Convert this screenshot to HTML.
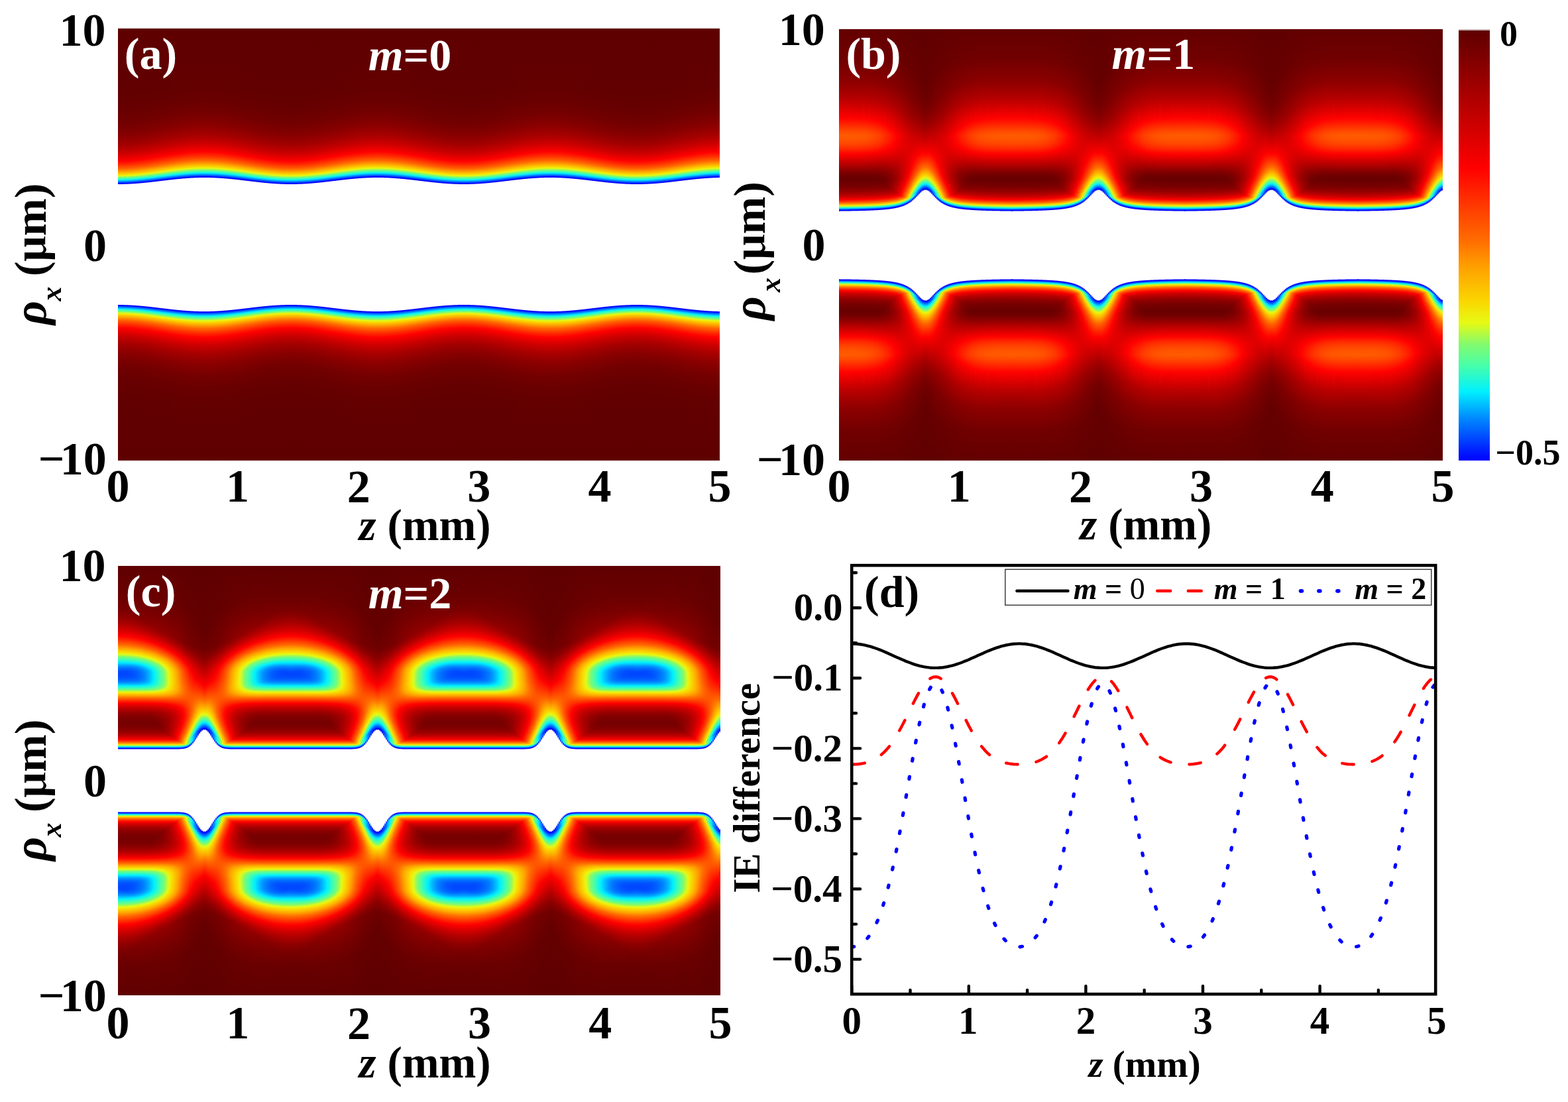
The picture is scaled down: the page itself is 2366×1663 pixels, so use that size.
<!DOCTYPE html>
<html><head><meta charset="utf-8"><title>figure</title><style>
html,body{margin:0;padding:0;background:#fff}
body{width:2366px;height:1663px;position:relative;overflow:hidden}
.pn{position:absolute;overflow:hidden;background:#600000}
.t{position:absolute;width:261px}
.m{transform:scaleY(-1)}
svg{position:absolute;left:0;top:0}
.ta{background:linear-gradient(#5f0000 0.5px,#620000 99.5px,#680000 124.5px,#730000 143.5px,#850000 160.5px,#a20000 175.5px,#ca0000 188.5px,#fb0000 199.5px,#ff0300 200.5px,#ff2100 204.5px,#ff6200 211.5px,#ff7900 213.5px,#ffa500 216.5px,#f7dc03 220.5px,#e0f819 222.5px,#87fa6a 224.5px,#48fea9 226.5px,#0af1f3 228.5px,#00cdff 229.5px,#0016ff 233.5px,#0000ff 234.5px,#ffffff 235.5px,#ffffff 325.5px) 0px 0/2px 100% no-repeat,linear-gradient(#5f0000 0.5px,#620000 99.5px,#680000 124.5px,#730000 143.5px,#850000 160.5px,#a20000 175.5px,#ca0000 188.5px,#fc0000 199.5px,#ff0300 200.5px,#ff2100 204.5px,#ff6200 211.5px,#ff7a00 213.5px,#ffa500 216.5px,#f7dc03 220.5px,#eeeb0c 221.5px,#dff91a 222.5px,#86fa6a 224.5px,#47feaa 226.5px,#09f1f4 228.5px,#00cdff 229.5px,#0015ff 233.5px,#0000ff 234.5px,#ffffff 235.5px,#ffffff 325.5px) 2px 0/2px 100% no-repeat,linear-gradient(#5f0000 0.5px,#620000 99.5px,#680000 124.5px,#730000 143.5px,#850000 160.5px,#a20000 175.5px,#ca0000 188.5px,#fc0000 199.5px,#ff0300 200.5px,#ff2200 204.5px,#ff6200 211.5px,#fea600 216.5px,#f7dd03 220.5px,#eeec0c 221.5px,#dff91a 222.5px,#85fa6b 224.5px,#46feaa 226.5px,#09f0f4 228.5px,#00ccff 229.5px,#0014ff 233.5px,#0000ff 234.5px,#ffffff 235.5px,#ffffff 325.5px) 4px 0/2px 100% no-repeat,linear-gradient(#5f0000 0.5px,#620000 99.5px,#680000 124.5px,#730000 143.5px,#860000 160.5px,#a20000 175.5px,#ca0000 188.5px,#fc0000 199.5px,#ff0300 200.5px,#ff2200 204.5px,#ff6300 211.5px,#fea600 216.5px,#f6dd04 220.5px,#eeed0c 221.5px,#ddf91c 222.5px,#84fa6d 224.5px,#45feac 226.5px,#08f0f6 228.5px,#00caff 229.5px,#0013ff 233.5px,#0000ff 234.5px,#ffffff 235.5px,#ffffff 325.5px) 6px 0/2px 100% no-repeat,linear-gradient(#5f0000 0.5px,#620000 99.5px,#680000 124.5px,#730000 143.5px,#860000 160.5px,#a30000 175.5px,#ca0000 188.5px,#fc0000 199.5px,#ff1a00 203.5px,#ff4f00 209.5px,#ff6e00 212.5px,#ff9900 215.5px,#fbcf00 219.5px,#f6de04 220.5px,#eded0d 221.5px,#dcf91d 222.5px,#82fa6f 224.5px,#44fead 226.5px,#25f8d3 227.5px,#07eff7 228.5px,#00c8ff 229.5px,#0011ff 233.5px,#1515ff 234.5px,#ffffff 235.5px,#ffffff 325.5px) 8px 0/2px 100% no-repeat,linear-gradient(#5f0000 0.5px,#620000 98.5px,#680000 123.5px,#720000 142.5px,#860000 160.5px,#a30000 175.5px,#cb0000 188.5px,#fd0000 199.5px,#ff1b00 203.5px,#ff5000 209.5px,#ff6f00 212.5px,#ff9a00 215.5px,#fbd000 219.5px,#edee0d 221.5px,#d9fa20 222.5px,#7ffa71 224.5px,#42feb0 226.5px,#23f7d5 227.5px,#05edf8 228.5px,#00c5ff 229.5px,#0094ff 230.5px,#000fff 233.5px,#4040ff 234.5px,#ffffff 235.5px,#ffffff 325.5px) 10px 0/2px 100% no-repeat,linear-gradient(#5f0000 0.5px,#620000 98.5px,#680000 123.5px,#720000 142.5px,#860000 160.5px,#a30000 175.5px,#cb0000 188.5px,#fd0000 199.5px,#ff1c00 203.5px,#ff5100 209.5px,#ff7000 212.5px,#ff9b00 215.5px,#fad200 219.5px,#ecf00e 221.5px,#d6fa22 222.5px,#7dfb74 224.5px,#3ffdb2 226.5px,#20f7d8 227.5px,#04ebfa 228.5px,#00c1ff 229.5px,#0091ff 230.5px,#000dff 233.5px,#4040ff 234.5px,#ffffff 235.5px,#ffffff 325.5px) 12px 0/2px 100% no-repeat,linear-gradient(#5f0000 0.5px,#620000 98.5px,#680000 123.5px,#720000 142.5px,#860000 160.5px,#a30000 175.5px,#cc0000 188.5px,#fe0000 199.5px,#ff1d00 203.5px,#ff5200 209.5px,#ff7100 212.5px,#ff9d00 215.5px,#fad300 219.5px,#ebf10f 221.5px,#d2fa26 222.5px,#7afb76 224.5px,#3dfdb5 226.5px,#1ef6db 227.5px,#03e9fc 228.5px,#000aff 233.5px,#4040ff 234.5px,#ffffff 235.5px,#ffffff 325.5px) 14px 0/2px 100% no-repeat,linear-gradient(#5f0000 0.5px,#620000 98.5px,#680000 123.5px,#730000 142.5px,#860000 160.5px,#a40000 175.5px,#cc0000 188.5px,#fe0100 199.5px,#ff2600 204.5px,#ff5300 209.5px,#ff7300 212.5px,#ff9e00 215.5px,#fad500 219.5px,#eaf310 221.5px,#cefa2a 222.5px,#9ffa54 223.5px,#76fb7a 224.5px,#3afcb9 226.5px,#1bf6df 227.5px,#02e6fd 228.5px,#0089ff 230.5px,#0007ff 233.5px,#7575ff 234.5px,#ffffff 235.5px,#ffffff 325.5px) 16px 0/2px 100% no-repeat,linear-gradient(#5f0000 0.5px,#620000 98.5px,#680000 123.5px,#730000 142.5px,#850000 159.5px,#a20000 174.5px,#c90000 187.5px,#fa0000 198.5px,#ff0100 199.5px,#ff1700 202.5px,#ff5e00 210.5px,#ff7500 212.5px,#f9d601 219.5px,#e9f411 221.5px,#c8fa2f 222.5px,#99fa59 223.5px,#73fb7d 224.5px,#55fe9b 225.5px,#17f5e3 227.5px,#01e2fe 228.5px,#002bff 232.5px,#0005ff 233.5px,#ffffff 235.5px,#ffffff 325.5px) 18px 0/2px 100% no-repeat,linear-gradient(#5f0000 0.5px,#620000 98.5px,#680000 122.5px,#720000 141.5px,#860000 159.5px,#a20000 174.5px,#ca0000 187.5px,#fb0000 198.5px,#ff0200 199.5px,#ff2000 203.5px,#ff6000 210.5px,#ff7700 212.5px,#f9d801 219.5px,#e7f613 221.5px,#c2fa34 222.5px,#93fa5e 223.5px,#6ffc81 224.5px,#51fe9f 225.5px,#13f4e8 227.5px,#00ddff 228.5px,#007fff 230.5px,#0026ff 232.5px,#0003ff 233.5px,#9f9fff 234.5px,#ffffff 235.5px,#ffffff 325.5px) 20px 0/2px 100% no-repeat,linear-gradient(#5f0000 0.5px,#620000 98.5px,#680000 122.5px,#720000 141.5px,#860000 159.5px,#a30000 174.5px,#ca0000 187.5px,#fc0000 198.5px,#ff0300 199.5px,#ff2100 203.5px,#ff6100 210.5px,#ff7900 212.5px,#ffa400 215.5px,#f8da02 219.5px,#e4f716 221.5px,#bcfa3a 222.5px,#8dfa64 223.5px,#4dfea3 225.5px,#0ff3ed 227.5px,#00d7ff 228.5px,#0021ff 232.5px,#0001ff 233.5px,#bfbfff 234.5px,#ffffff 235.5px,#ffffff 325.5px) 22px 0/2px 100% no-repeat,linear-gradient(#5f0000 0.5px,#620000 97.5px,#680000 122.5px,#720000 141.5px,#860000 159.5px,#a30000 174.5px,#cb0000 187.5px,#fd0000 198.5px,#ff2300 203.5px,#ff6300 210.5px,#fea600 215.5px,#f7dd03 219.5px,#eeec0c 220.5px,#e0f91a 221.5px,#87fa69 223.5px,#49fea8 225.5px,#0bf2f2 227.5px,#00d1ff 228.5px,#001bff 232.5px,#0000ff 233.5px,#dfdfff 234.5px,#ffffff 235.5px,#ffffff 325.5px) 24px 0/2px 100% no-repeat,linear-gradient(#5f0000 0.5px,#620000 97.5px,#680000 122.5px,#730000 141.5px,#870000 159.5px,#a40000 174.5px,#cc0000 187.5px,#fe0000 198.5px,#ff2d00 204.5px,#ff6500 210.5px,#fea800 215.5px,#fbd100 218.5px,#f5df05 219.5px,#edee0d 220.5px,#daf91f 221.5px,#81fa6f 223.5px,#44fead 225.5px,#07eff6 227.5px,#00caff 228.5px,#0015ff 232.5px,#0000ff 233.5px,#ffffff 234.5px,#ffffff 325.5px) 26px 0/2px 100% no-repeat,linear-gradient(#5f0000 0.5px,#620000 97.5px,#680000 121.5px,#720000 140.5px,#860000 158.5px,#a20000 173.5px,#c90000 186.5px,#fa0000 197.5px,#ff0700 199.5px,#ff4900 207.5px,#ff7200 211.5px,#ff9d00 214.5px,#fad300 218.5px,#ebf10f 220.5px,#d4fa25 221.5px,#7bfb75 223.5px,#3ffdb3 225.5px,#20f7d8 226.5px,#04ecfa 227.5px,#00c2ff 228.5px,#000fff 232.5px,#3535ff 233.5px,#ffffff 234.5px,#ffffff 325.5px) 28px 0/2px 100% no-repeat,linear-gradient(#5f0000 0.5px,#620000 97.5px,#680000 121.5px,#720000 140.5px,#860000 158.5px,#a30000 173.5px,#ca0000 186.5px,#fb0000 197.5px,#ff0200 198.5px,#ff1000 200.5px,#ff4b00 207.5px,#ff6900 210.5px,#ffa000 214.5px,#fad601 218.5px,#eaf410 220.5px,#cbfa2c 221.5px,#9dfa56 222.5px,#76fb7a 223.5px,#3afcb9 225.5px,#1bf6de 226.5px,#02e7fd 227.5px,#008bff 229.5px,#000aff 232.5px,#4a4aff 233.5px,#ffffff 234.5px,#ffffff 325.5px) 30px 0/2px 100% no-repeat,linear-gradient(#5f0000 0.5px,#620000 97.5px,#680000 121.5px,#730000 140.5px,#860000 158.5px,#a30000 173.5px,#cb0000 186.5px,#fc0000 197.5px,#ff0300 198.5px,#ff2200 202.5px,#ff6100 209.5px,#ff7800 211.5px,#f9d902 218.5px,#e7f613 220.5px,#c3fa34 221.5px,#94fa5e 222.5px,#70fb80 223.5px,#52fe9e 224.5px,#15f5e5 226.5px,#00e0ff 227.5px,#0083ff 229.5px,#002bff 231.5px,#0005ff 232.5px,#ffffff 234.5px,#ffffff 325.5px) 32px 0/2px 100% no-repeat,linear-gradient(#5f0000 0.5px,#620000 96.5px,#680000 121.5px,#730000 140.5px,#870000 158.5px,#a40000 173.5px,#cc0000 186.5px,#fd0000 197.5px,#ff2c00 203.5px,#ff6300 209.5px,#fea600 214.5px,#f7dc03 218.5px,#e2f818 220.5px,#8cfa65 222.5px,#4cfea4 224.5px,#0ff3ec 226.5px,#00d8ff 227.5px,#0024ff 231.5px,#0002ff 232.5px,#b5b5ff 233.5px,#ffffff 234.5px,#ffffff 325.5px) 34px 0/2px 100% no-repeat,linear-gradient(#5f0000 0.5px,#620000 96.5px,#680000 121.5px,#730000 140.5px,#860000 157.5px,#a20000 172.5px,#c90000 185.5px,#fe0100 197.5px,#ff2e00 203.5px,#ff6600 209.5px,#fea900 214.5px,#fbd000 217.5px,#f6df04 218.5px,#edee0d 219.5px,#dcf91d 220.5px,#83fa6d 222.5px,#46feaa 224.5px,#0af1f3 226.5px,#00cfff 227.5px,#001cff 231.5px,#0000ff 232.5px,#d4d4ff 233.5px,#ffffff 234.5px,#ffffff 325.5px) 36px 0/2px 100% no-repeat,linear-gradient(#5f0000 0.5px,#620000 96.5px,#680000 120.5px,#730000 139.5px,#870000 157.5px,#a30000 172.5px,#cb0000 185.5px,#fb0000 196.5px,#ff0200 197.5px,#ff1000 199.5px,#ff4b00 206.5px,#ff7400 210.5px,#ff9f00 213.5px,#fad400 217.5px,#ebf10f 219.5px,#d3fa25 220.5px,#7cfb74 222.5px,#40fdb1 224.5px,#22f7d6 225.5px,#05edf9 226.5px,#00c6ff 227.5px,#0013ff 231.5px,#0b0bff 232.5px,#ffffff 233.5px,#ffffff 325.5px) 38px 0/2px 100% no-repeat,linear-gradient(#5f0000 0.5px,#620000 96.5px,#680000 120.5px,#730000 139.5px,#870000 157.5px,#a40000 172.5px,#cc0000 185.5px,#fd0000 196.5px,#ff2200 201.5px,#ff5700 207.5px,#ff7700 210.5px,#ffa200 213.5px,#f9d701 217.5px,#e9f411 219.5px,#c9fa2e 220.5px,#9bfa57 221.5px,#75fb7b 222.5px,#3afcb9 224.5px,#1bf6de 225.5px,#02e7fc 226.5px,#000cff 231.5px,#4040ff 232.5px,#ffffff 233.5px,#ffffff 325.5px) 40px 0/2px 100% no-repeat,linear-gradient(#5f0000 0.5px,#620000 95.5px,#680000 120.5px,#730000 139.5px,#860000 156.5px,#a20000 171.5px,#c90000 184.5px,#fe0000 196.5px,#ff2c00 202.5px,#ff6300 208.5px,#ffa500 213.5px,#f8da02 217.5px,#e4f715 219.5px,#bffa37 220.5px,#91fa61 221.5px,#51fe9f 223.5px,#14f4e6 225.5px,#00e0ff 226.5px,#0083ff 228.5px,#002dff 230.5px,#0006ff 231.5px,#7575ff 232.5px,#ffffff 233.5px,#ffffff 325.5px) 42px 0/2px 100% no-repeat,linear-gradient(#5f0000 0.5px,#620000 95.5px,#680000 119.5px,#730000 138.5px,#870000 156.5px,#a30000 171.5px,#ca0000 184.5px,#fb0000 195.5px,#ff0200 196.5px,#ff1f00 200.5px,#ff6600 208.5px,#fea800 213.5px,#f6de04 217.5px,#eeed0c 218.5px,#def91b 219.5px,#87fa6a 221.5px,#4afea7 223.5px,#0df3ef 225.5px,#00d6ff 226.5px,#0024ff 230.5px,#0002ff 231.5px,#aaaaff 232.5px,#ffffff 233.5px,#ffffff 325.5px) 44px 0/2px 100% no-repeat,linear-gradient(#5f0000 0.5px,#620000 95.5px,#680000 119.5px,#730000 138.5px,#870000 156.5px,#a40000 171.5px,#cc0000 184.5px,#fc0000 195.5px,#ff0300 196.5px,#ff2900 201.5px,#ff6900 208.5px,#fcc600 215.5px,#f4e206 217.5px,#ebf00f 218.5px,#d5fa23 219.5px,#7efb72 221.5px,#43feae 223.5px,#08f0f6 225.5px,#00cbff 226.5px,#001bff 230.5px,#0000ff 231.5px,#dfdfff 232.5px,#ffffff 233.5px,#ffffff 325.5px) 46px 0/2px 100% no-repeat,linear-gradient(#5f0000 0.5px,#620000 95.5px,#680000 119.5px,#740000 138.5px,#860000 155.5px,#a30000 170.5px,#c90000 183.5px,#fe0000 195.5px,#ff2300 200.5px,#ff5800 206.5px,#ff6c00 208.5px,#ffa200 212.5px,#f9d701 216.5px,#e9f411 218.5px,#cafa2d 219.5px,#9dfa56 220.5px,#76fb7a 221.5px,#3cfdb7 223.5px,#1ef6db 224.5px,#03eafb 225.5px,#00c1ff 226.5px,#0011ff 230.5px,#1515ff 231.5px,#ffffff 232.5px,#ffffff 325.5px) 48px 0/2px 100% no-repeat,linear-gradient(#5f0000 0.5px,#620000 94.5px,#680000 118.5px,#730000 137.5px,#860000 154.5px,#a10000 169.5px,#c70000 182.5px,#fa0000 194.5px,#ff0100 195.5px,#ff0f00 197.5px,#ff4800 204.5px,#ff6f00 208.5px,#ff9800 211.5px,#f8db02 216.5px,#e4f715 218.5px,#bffa37 219.5px,#92fa60 220.5px,#6ffc81 221.5px,#52fe9e 222.5px,#16f5e4 224.5px,#01e2fe 225.5px,#0088ff 227.5px,#000aff 230.5px,#5555ff 231.5px,#ffffff 232.5px,#ffffff 325.5px) 50px 0/2px 100% no-repeat,linear-gradient(#5f0000 0.5px,#620000 94.5px,#680000 118.5px,#730000 137.5px,#860000 154.5px,#a20000 169.5px,#c80000 182.5px,#fc0000 194.5px,#ff0300 195.5px,#ff2800 200.5px,#ff6700 207.5px,#fea900 212.5px,#fbd100 215.5px,#f6df04 216.5px,#eded0d 217.5px,#ddf91c 218.5px,#87fa6a 220.5px,#4bfea6 222.5px,#0ff3ed 224.5px,#00d8ff 225.5px,#0028ff 229.5px,#0004ff 230.5px,#8a8aff 231.5px,#ffffff 232.5px,#ffffff 325.5px) 52px 0/2px 100% no-repeat,linear-gradient(#5f0000 0.5px,#620000 94.5px,#690000 118.5px,#740000 137.5px,#870000 154.5px,#a30000 169.5px,#c90000 182.5px,#fe0000 194.5px,#ff2b00 200.5px,#ff6b00 207.5px,#fbc700 214.5px,#f3e307 216.5px,#ebf10f 217.5px,#d4fa24 218.5px,#7efb73 220.5px,#43feae 222.5px,#08f0f5 224.5px,#00cdff 225.5px,#001eff 229.5px,#0001ff 230.5px,#cacaff 231.5px,#ffffff 232.5px,#ffffff 325.5px) 54px 0/2px 100% no-repeat,linear-gradient(#5f0000 0.5px,#620000 93.5px,#680000 117.5px,#730000 136.5px,#860000 153.5px,#a20000 168.5px,#c70000 181.5px,#fa0000 193.5px,#ff0100 194.5px,#ff1e00 198.5px,#ff6400 206.5px,#ffa400 211.5px,#f9d801 215.5px,#e8f512 217.5px,#c8fa2f 218.5px,#9bfa57 219.5px,#75fb7b 220.5px,#59fd97 221.5px,#3bfdb7 222.5px,#04ebfb 224.5px,#00c2ff 225.5px,#0014ff 229.5px,#0000ff 230.5px,#ffffff 231.5px,#ffffff 325.5px) 56px 0/2px 100% no-repeat,linear-gradient(#5f0000 0.5px,#620000 93.5px,#690000 117.5px,#740000 136.5px,#870000 153.5px,#a30000 168.5px,#c90000 181.5px,#fc0000 193.5px,#ff0300 194.5px,#ff1900 197.5px,#ff4a00 203.5px,#ff7100 207.5px,#ff9b00 210.5px,#f7dc03 215.5px,#e3f817 217.5px,#8ffa62 219.5px,#51fe9f 221.5px,#16f5e4 223.5px,#01e3fe 224.5px,#0089ff 226.5px,#000cff 229.5px,#4040ff 230.5px,#ffffff 231.5px,#ffffff 325.5px) 58px 0/2px 100% no-repeat,linear-gradient(#5f0000 0.5px,#620000 93.5px,#690000 117.5px,#740000 136.5px,#870000 153.5px,#a40000 168.5px,#ca0000 181.5px,#fe0000 193.5px,#ff2b00 199.5px,#ff6a00 206.5px,#feab00 211.5px,#fad200 214.5px,#f5e005 215.5px,#ecef0e 216.5px,#dbf91e 217.5px,#85fa6c 219.5px,#49fea7 221.5px,#0ef3ee 223.5px,#00d8ff 224.5px,#007eff 226.5px,#002aff 228.5px,#0005ff 229.5px,#ffffff 231.5px,#ffffff 325.5px) 60px 0/2px 100% no-repeat,linear-gradient(#5f0000 0.5px,#620000 92.5px,#690000 116.5px,#740000 135.5px,#860000 152.5px,#a20000 167.5px,#c80000 180.5px,#fb0000 192.5px,#ff0100 193.5px,#ff1e00 197.5px,#ff6300 205.5px,#f9d601 214.5px,#eaf310 216.5px,#d0fa28 217.5px,#7bfb75 219.5px,#42feb0 221.5px,#08f0f6 223.5px,#00cdff 224.5px,#0020ff 228.5px,#0002ff 229.5px,#bfbfff 230.5px,#ffffff 231.5px,#ffffff 325.5px) 62px 0/2px 100% no-repeat,linear-gradient(#5f0000 0.5px,#620000 92.5px,#690000 116.5px,#740000 135.5px,#870000 152.5px,#a30000 167.5px,#c90000 180.5px,#fc0000 192.5px,#ff0300 193.5px,#ff2800 198.5px,#ff6600 205.5px,#fea600 210.5px,#f8da02 214.5px,#e6f613 216.5px,#c4fa33 217.5px,#97fa5b 218.5px,#73fb7d 219.5px,#57fe99 220.5px,#1df6dc 222.5px,#03eafb 223.5px,#00c1ff 224.5px,#0016ff 228.5px,#0000ff 229.5px,#f4f4ff 230.5px,#ffffff 231.5px,#ffffff 325.5px) 64px 0/2px 100% no-repeat,linear-gradient(#5f0000 0.5px,#620000 92.5px,#690000 116.5px,#740000 135.5px,#880000 152.5px,#a40000 167.5px,#ca0000 180.5px,#fe0000 192.5px,#ff2300 197.5px,#ff5600 203.5px,#ff7400 206.5px,#ff9d00 209.5px,#fbd000 213.5px,#eeec0c 215.5px,#e0f919 216.5px,#8cfa65 218.5px,#4ffea1 220.5px,#15f5e5 222.5px,#01e2fe 223.5px,#0089ff 225.5px,#000dff 228.5px,#3535ff 229.5px,#ffffff 230.5px,#ffffff 325.5px) 66px 0/2px 100% no-repeat,linear-gradient(#5f0000 0.5px,#620000 91.5px,#690000 115.5px,#740000 134.5px,#870000 151.5px,#a30000 166.5px,#c80000 179.5px,#fb0000 191.5px,#ff0200 192.5px,#ff1e00 196.5px,#ff6200 204.5px,#ff7800 206.5px,#fad400 213.5px,#ecf00e 215.5px,#d7fa22 216.5px,#82fa6f 218.5px,#48fea9 220.5px,#0df3ef 222.5px,#00d7ff 223.5px,#007eff 225.5px,#002bff 227.5px,#0006ff 228.5px,#7575ff 229.5px,#ffffff 230.5px,#ffffff 325.5px) 68px 0/2px 100% no-repeat,linear-gradient(#5f0000 0.5px,#620000 91.5px,#690000 115.5px,#740000 134.5px,#870000 151.5px,#a40000 166.5px,#c90000 179.5px,#fc0000 191.5px,#ff0300 192.5px,#ff2800 197.5px,#ff6500 204.5px,#f9d801 213.5px,#e9f411 215.5px,#cbfa2c 216.5px,#79fb77 218.5px,#40fdb1 220.5px,#07eff6 222.5px,#00ccff 223.5px,#0021ff 227.5px,#0002ff 228.5px,#b5b5ff 229.5px,#ffffff 230.5px,#ffffff 325.5px) 70px 0/2px 100% no-repeat,linear-gradient(#5f0000 0.5px,#620000 91.5px,#690000 115.5px,#750000 134.5px,#880000 151.5px,#a50000 166.5px,#cb0000 179.5px,#fe0000 191.5px,#ff2a00 197.5px,#ff6800 204.5px,#fea900 209.5px,#f7dc03 213.5px,#e4f715 215.5px,#c0fa36 216.5px,#94fa5e 217.5px,#71fb7f 218.5px,#55fe9b 219.5px,#1cf6dd 221.5px,#03eafc 222.5px,#0017ff 227.5px,#0000ff 228.5px,#eaeaff 229.5px,#ffffff 230.5px,#ffffff 325.5px) 72px 0/2px 100% no-repeat,linear-gradient(#5f0000 0.5px,#620000 90.5px,#690000 114.5px,#740000 133.5px,#870000 150.5px,#a30000 165.5px,#c90000 178.5px,#fb0000 190.5px,#ff0200 191.5px,#ff0f00 193.5px,#ff4f00 201.5px,#ff6b00 204.5px,#ffa000 208.5px,#fad200 212.5px,#edee0d 214.5px,#ddf91c 215.5px,#89fa68 217.5px,#4efea2 219.5px,#14f4e6 221.5px,#00e1fe 222.5px,#0089ff 224.5px,#000eff 227.5px,#2a2aff 228.5px,#ffffff 229.5px,#ffffff 325.5px) 74px 0/2px 100% no-repeat,linear-gradient(#5f0000 0.5px,#620000 90.5px,#690000 114.5px,#750000 133.5px,#880000 150.5px,#a40000 165.5px,#ca0000 178.5px,#fd0000 190.5px,#ff0300 191.5px,#ff2800 196.5px,#ff6400 203.5px,#fad601 212.5px,#ebf20f 214.5px,#d4fa25 215.5px,#80fa71 217.5px,#47feaa 219.5px,#0df3ef 221.5px,#00d7ff 222.5px,#007fff 224.5px,#0007ff 227.5px,#6a6aff 228.5px,#ffffff 229.5px,#ffffff 325.5px) 76px 0/2px 100% no-repeat,linear-gradient(#5f0000 0.5px,#630000 90.5px,#690000 114.5px,#750000 133.5px,#880000 150.5px,#a50000 165.5px,#cb0000 178.5px,#fe0000 190.5px,#ff2a00 196.5px,#ff6700 203.5px,#fea700 208.5px,#f8d902 212.5px,#e8f512 214.5px,#c8fa2f 215.5px,#78fb78 217.5px,#3ffdb2 219.5px,#07eff7 221.5px,#00cdff 222.5px,#0023ff 226.5px,#0003ff 227.5px,#9f9fff 228.5px,#ffffff 229.5px,#ffffff 325.5px) 78px 0/2px 100% no-repeat,linear-gradient(#5f0000 0.5px,#620000 89.5px,#690000 113.5px,#750000 132.5px,#880000 149.5px,#a40000 164.5px,#c90000 177.5px,#fb0000 189.5px,#ff0200 190.5px,#ff2500 195.5px,#ff6a00 203.5px,#feaa00 208.5px,#f7dd03 212.5px,#e3f817 214.5px,#92fa60 216.5px,#55fe9b 218.5px,#1cf6dd 220.5px,#03eafb 221.5px,#001aff 226.5px,#0000ff 227.5px,#d4d4ff 228.5px,#ffffff 229.5px,#ffffff 325.5px) 80px 0/2px 100% no-repeat,linear-gradient(#5f0000 0.5px,#630000 89.5px,#690000 113.5px,#750000 132.5px,#880000 149.5px,#a40000 164.5px,#ca0000 177.5px,#fc0000 189.5px,#ff1800 193.5px,#ff5100 200.5px,#ff6d00 203.5px,#ffa100 207.5px,#fad300 211.5px,#ecef0e 213.5px,#dcf91d 214.5px,#88fa69 216.5px,#4efea2 218.5px,#15f4e6 220.5px,#01e3fe 221.5px,#008bff 223.5px,#0011ff 226.5px,#1515ff 227.5px,#ffffff 228.5px,#ffffff 325.5px) 82px 0/2px 100% no-repeat,linear-gradient(#5f0000 0.5px,#630000 89.5px,#690000 113.5px,#750000 132.5px,#890000 149.5px,#a50000 164.5px,#cb0000 177.5px,#fe0000 189.5px,#ff2200 194.5px,#ff5300 200.5px,#ff7000 203.5px,#ff9800 206.5px,#f9d701 211.5px,#eaf210 213.5px,#d3fa25 214.5px,#7ffa71 216.5px,#47fea9 218.5px,#0ef3ee 220.5px,#00d9ff 221.5px,#0082ff 223.5px,#000aff 226.5px,#4a4aff 227.5px,#ffffff 228.5px,#ffffff 325.5px) 84px 0/2px 100% no-repeat,linear-gradient(#5f0000 0.5px,#630000 88.5px,#690000 112.5px,#750000 131.5px,#880000 148.5px,#a40000 163.5px,#c90000 176.5px,#fb0000 188.5px,#ff0100 189.5px,#ff1c00 193.5px,#ff6800 202.5px,#fea800 207.5px,#f8da02 211.5px,#e8f512 213.5px,#c8fa2f 214.5px,#78fb78 216.5px,#41fdb1 218.5px,#08f0f5 220.5px,#00d0ff 221.5px,#0028ff 225.5px,#0005ff 226.5px,#ffffff 228.5px,#ffffff 325.5px) 86px 0/2px 100% no-repeat,linear-gradient(#5f0000 0.5px,#630000 88.5px,#690000 112.5px,#750000 131.5px,#880000 148.5px,#a50000 163.5px,#ca0000 176.5px,#fc0000 188.5px,#ff0300 189.5px,#ff2600 194.5px,#ff6b00 202.5px,#feab00 207.5px,#f6dd04 211.5px,#e3f816 213.5px,#befa38 214.5px,#93fa5e 215.5px,#72fb7e 216.5px,#56fe9a 217.5px,#3afcb8 218.5px,#04ecfa 220.5px,#00c6ff 221.5px,#0020ff 225.5px,#0002ff 226.5px,#b5b5ff 227.5px,#ffffff 228.5px,#ffffff 325.5px) 88px 0/2px 100% no-repeat,linear-gradient(#5f0000 0.5px,#630000 88.5px,#6a0000 112.5px,#750000 131.5px,#890000 148.5px,#a50000 163.5px,#cb0000 176.5px,#fd0000 188.5px,#ff2800 194.5px,#ff6400 201.5px,#feae00 207.5px,#fad300 210.5px,#f5e005 211.5px,#edee0d 212.5px,#ddf91c 213.5px,#8afa67 215.5px,#50fea0 217.5px,#18f5e2 219.5px,#01e6fd 220.5px,#0018ff 225.5px,#0000ff 226.5px,#eaeaff 227.5px,#ffffff 228.5px,#ffffff 325.5px) 90px 0/2px 100% no-repeat,linear-gradient(#5f0000 0.5px,#630000 87.5px,#690000 111.5px,#750000 130.5px,#890000 148.5px,#a60000 163.5px,#cc0000 176.5px,#fe0100 188.5px,#ff2a00 194.5px,#ff5d00 200.5px,#ff7000 202.5px,#ffa500 206.5px,#fad601 210.5px,#ebf10f 212.5px,#d5fa23 213.5px,#83fa6e 215.5px,#4afea6 217.5px,#12f4e9 219.5px,#00dfff 220.5px,#0089ff 222.5px,#0010ff 225.5px,#1515ff 226.5px,#ffffff 227.5px,#ffffff 325.5px) 92px 0/2px 100% no-repeat,linear-gradient(#5f0000 0.5px,#630000 87.5px,#690000 111.5px,#750000 130.5px,#880000 147.5px,#a50000 162.5px,#ca0000 175.5px,#fb0000 187.5px,#ff0200 188.5px,#ff0f00 190.5px,#ff4d00 198.5px,#ff7300 202.5px,#ff9b00 205.5px,#f9d902 210.5px,#e9f411 212.5px,#cdfa2b 213.5px,#7cfb74 215.5px,#45feac 217.5px,#0cf2f0 219.5px,#00d7ff 220.5px,#0081ff 222.5px,#000aff 225.5px,#4040ff 226.5px,#ffffff 227.5px,#ffffff 325.5px) 94px 0/2px 100% no-repeat,linear-gradient(#5f0000 0.5px,#630000 87.5px,#6a0000 111.5px,#750000 130.5px,#890000 147.5px,#a50000 162.5px,#cb0000 175.5px,#fc0000 187.5px,#ff0300 188.5px,#ff2600 193.5px,#ff6b00 201.5px,#feaa00 206.5px,#f7dc03 210.5px,#e6f714 212.5px,#c4fa32 213.5px,#9afa59 214.5px,#76fb7a 215.5px,#5bfd95 216.5px,#3ffdb2 217.5px,#08f0f6 219.5px,#00cfff 220.5px,#0079ff 222.5px,#0029ff 224.5px,#0006ff 225.5px,#ffffff 227.5px,#ffffff 325.5px) 96px 0/2px 100% no-repeat,linear-gradient(#5f0000 0.5px,#630000 86.5px,#690000 110.5px,#750000 129.5px,#890000 147.5px,#a60000 162.5px,#cc0000 175.5px,#fd0000 187.5px,#ff3000 194.5px,#ff6d00 201.5px,#feac00 206.5px,#fbd100 209.5px,#f6de04 210.5px,#e2f818 212.5px,#92fa60 214.5px,#56fe9a 216.5px,#3afcb9 217.5px,#04ecfa 219.5px,#00c7ff 220.5px,#0022ff 224.5px,#0003ff 225.5px,#9f9fff 226.5px,#ffffff 227.5px,#ffffff 325.5px) 98px 0/2px 100% no-repeat,linear-gradient(#5f0000 0.5px,#630000 86.5px,#690000 110.5px,#750000 129.5px,#8a0000 147.5px,#a70000 162.5px,#cc0000 175.5px,#fe0100 187.5px,#ff2a00 193.5px,#ff6500 200.5px,#feaf00 206.5px,#fad400 209.5px,#f4e106 210.5px,#ecef0e 211.5px,#dcf91d 212.5px,#8afa67 214.5px,#51fe9f 216.5px,#19f5e1 218.5px,#02e8fd 219.5px,#001cff 224.5px,#0001ff 225.5px,#bfbfff 226.5px,#ffffff 227.5px,#ffffff 325.5px) 100px 0/2px 100% no-repeat,linear-gradient(#5f0000 0.5px,#630000 86.5px,#6a0000 110.5px,#750000 129.5px,#890000 146.5px,#a50000 161.5px,#ca0000 174.5px,#fb0000 186.5px,#ff0100 187.5px,#ff2400 192.5px,#ff6700 200.5px,#fad601 209.5px,#ebf10f 211.5px,#d7fa22 212.5px,#84fa6c 214.5px,#4cfea4 216.5px,#14f4e6 218.5px,#01e3fe 219.5px,#008eff 221.5px,#0016ff 224.5px,#0000ff 225.5px,#ffffff 226.5px,#ffffff 325.5px) 102px 0/2px 100% no-repeat,linear-gradient(#5f0000 0.5px,#630000 86.5px,#6a0000 110.5px,#760000 129.5px,#890000 146.5px,#a50000 161.5px,#cb0000 174.5px,#fc0000 186.5px,#ff0200 187.5px,#ff1700 190.5px,#ff4e00 197.5px,#ff7400 201.5px,#ff9b00 204.5px,#f9d801 209.5px,#eaf310 211.5px,#d0fa28 212.5px,#7ffa72 214.5px,#48fea9 216.5px,#10f3ec 218.5px,#00ddff 219.5px,#0087ff 221.5px,#0010ff 224.5px,#0b0bff 225.5px,#ffffff 226.5px,#ffffff 325.5px) 104px 0/2px 100% no-repeat,linear-gradient(#5f0000 0.5px,#630000 85.5px,#690000 109.5px,#750000 128.5px,#890000 146.5px,#a60000 161.5px,#cb0000 174.5px,#fd0000 186.5px,#ff1800 190.5px,#ff4f00 197.5px,#ff6a00 200.5px,#ff9d00 204.5px,#f8da02 209.5px,#e8f512 211.5px,#cafa2e 212.5px,#7afb76 214.5px,#44fead 216.5px,#0cf2f1 218.5px,#00d7ff 219.5px,#0082ff 221.5px,#000cff 224.5px,#4040ff 225.5px,#ffffff 226.5px,#ffffff 325.5px) 106px 0/2px 100% no-repeat,linear-gradient(#5f0000 0.5px,#630000 85.5px,#690000 109.5px,#750000 128.5px,#8a0000 146.5px,#a60000 161.5px,#cc0000 174.5px,#fe0000 186.5px,#ff2100 191.5px,#ff5100 197.5px,#ff6c00 200.5px,#ff9f00 204.5px,#fbcf00 208.5px,#f7dc03 209.5px,#e6f714 211.5px,#c4fa33 212.5px,#9afa59 213.5px,#76fb7a 214.5px,#40fdb2 216.5px,#09f1f4 218.5px,#00d2ff 219.5px,#007dff 221.5px,#0008ff 224.5px,#4a4aff 225.5px,#ffffff 226.5px,#ffffff 325.5px) 108px 0/2px 100% no-repeat,linear-gradient(#5f0000 0.5px,#630000 85.5px,#6a0000 109.5px,#750000 128.5px,#8a0000 146.5px,#a70000 161.5px,#cd0000 174.5px,#fe0100 186.5px,#ff3100 193.5px,#ff6d00 200.5px,#feac00 205.5px,#fbd100 208.5px,#f6de04 209.5px,#e3f817 211.5px,#94fa5e 213.5px,#73fb7d 214.5px,#58fe98 215.5px,#3dfdb5 216.5px,#06eff8 218.5px,#00ccff 219.5px,#0078ff 221.5px,#0029ff 223.5px,#0006ff 224.5px,#ffffff 226.5px,#ffffff 325.5px) 110px 0/2px 100% no-repeat,linear-gradient(#5f0000 0.5px,#630000 85.5px,#6a0000 109.5px,#760000 128.5px,#8a0000 146.5px,#a70000 161.5px,#cd0000 174.5px,#ff0100 186.5px,#ff2a00 192.5px,#ff6500 199.5px,#ffa200 204.5px,#fad300 208.5px,#f5e005 209.5px,#e0f919 211.5px,#8ffa62 213.5px,#55fe9b 215.5px,#39fcb9 216.5px,#04edfa 218.5px,#00c8ff 219.5px,#0025ff 223.5px,#0004ff 224.5px,#ffffff 226.5px,#ffffff 325.5px) 112px 0/2px 100% no-repeat,linear-gradient(#5f0000 0.5px,#630000 85.5px,#6a0000 109.5px,#760000 128.5px,#890000 145.5px,#a50000 160.5px,#ca0000 173.5px,#fb0000 185.5px,#ff0200 186.5px,#ff2400 191.5px,#ff6600 199.5px,#fad400 208.5px,#ecef0e 210.5px,#ddf91c 211.5px,#8bfa66 213.5px,#52fe9e 215.5px,#1bf6de 217.5px,#03eafc 218.5px,#0021ff 223.5px,#0002ff 224.5px,#b5b5ff 225.5px,#ffffff 226.5px,#ffffff 325.5px) 114px 0/2px 100% no-repeat,linear-gradient(#5f0000 0.5px,#630000 85.5px,#690000 108.5px,#750000 127.5px,#890000 145.5px,#a60000 160.5px,#cb0000 173.5px,#fc0000 185.5px,#ff0200 186.5px,#ff2500 191.5px,#ff6700 199.5px,#fad500 208.5px,#ecf00e 210.5px,#dafa1f 211.5px,#88fa69 213.5px,#50fea1 215.5px,#18f5e1 217.5px,#02e8fd 218.5px,#001eff 223.5px,#0001ff 224.5px,#bfbfff 225.5px,#ffffff 226.5px,#ffffff 325.5px) 116px 0/2px 100% no-repeat,linear-gradient(#5f0000 0.5px,#630000 85.5px,#690000 108.5px,#750000 127.5px,#8a0000 145.5px,#a60000 160.5px,#cb0000 173.5px,#fc0000 185.5px,#ff0300 186.5px,#ff2500 191.5px,#ff6800 199.5px,#f9d601 208.5px,#ebf10f 210.5px,#d7fa22 211.5px,#85fa6c 213.5px,#4dfea3 215.5px,#16f5e4 217.5px,#01e5fe 218.5px,#001bff 223.5px,#0001ff 224.5px,#bfbfff 225.5px,#ffffff 226.5px,#ffffff 325.5px) 118px 0/2px 100% no-repeat,linear-gradient(#5f0000 0.5px,#630000 85.5px,#690000 108.5px,#750000 127.5px,#8a0000 145.5px,#a60000 160.5px,#cb0000 173.5px,#fd0000 185.5px,#ff0300 186.5px,#ff2600 191.5px,#ff6900 199.5px,#f9d701 208.5px,#eaf210 210.5px,#d4fa24 211.5px,#83fa6e 213.5px,#4cfea5 215.5px,#14f4e6 217.5px,#01e3fe 218.5px,#008fff 220.5px,#0018ff 223.5px,#0000ff 224.5px,#d4d4ff 225.5px,#ffffff 226.5px,#ffffff 325.5px) 120px 0/2px 100% no-repeat,linear-gradient(#5f0000 0.5px,#630000 85.5px,#6a0000 108.5px,#750000 127.5px,#8a0000 145.5px,#a60000 160.5px,#cc0000 173.5px,#fd0000 185.5px,#ff2600 191.5px,#ff6900 199.5px,#f9d801 208.5px,#eaf310 210.5px,#d2fa26 211.5px,#81fa70 213.5px,#4afea6 215.5px,#13f4e8 217.5px,#00e2ff 218.5px,#008dff 220.5px,#0017ff 223.5px,#0000ff 224.5px,#ffffff 225.5px,#ffffff 325.5px) 122px 0/2px 100% no-repeat,linear-gradient(#5f0000 0.5px,#630000 85.5px,#6a0000 108.5px,#750000 127.5px,#8a0000 145.5px,#a60000 160.5px,#cc0000 173.5px,#fd0000 185.5px,#ff2700 191.5px,#ff6a00 199.5px,#f9d901 208.5px,#eaf410 210.5px,#d0fa28 211.5px,#7ffa71 213.5px,#49fea7 215.5px,#12f4e9 217.5px,#00e0ff 218.5px,#008bff 220.5px,#0015ff 223.5px,#0000ff 224.5px,#ffffff 225.5px,#ffffff 325.5px) 124px 0/2px 100% no-repeat,linear-gradient(#5f0000 0.5px,#630000 85.5px,#6a0000 108.5px,#750000 127.5px,#8a0000 145.5px,#a70000 160.5px,#cc0000 173.5px,#fd0000 185.5px,#ff2f00 192.5px,#ff6a00 199.5px,#f9d902 208.5px,#e9f411 210.5px,#cffa29 211.5px,#7ffa72 213.5px,#48fea8 215.5px,#11f4ea 217.5px,#00dfff 218.5px,#008aff 220.5px,#0014ff 223.5px,#0000ff 224.5px,#ffffff 225.5px,#ffffff 325.5px) 126px 0/2px 100% no-repeat,linear-gradient(#5f0000 0.5px,#630000 85.5px,#6a0000 108.5px,#750000 127.5px,#8a0000 145.5px,#a70000 160.5px,#cc0000 173.5px,#fd0000 185.5px,#ff2f00 192.5px,#ff6a00 199.5px,#f8d902 208.5px,#e9f411 210.5px,#cefa29 211.5px,#7efb72 213.5px,#48fea9 215.5px,#11f4eb 217.5px,#00deff 218.5px,#008aff 220.5px,#0014ff 223.5px,#0000ff 224.5px,#ffffff 225.5px,#ffffff 325.5px) 128px 0/2px 100% no-repeat,linear-gradient(#5f0000 0.5px,#630000 85.5px,#6a0000 108.5px,#750000 127.5px,#8a0000 145.5px,#a70000 160.5px,#cc0000 173.5px,#fd0000 185.5px,#ff2f00 192.5px,#ff6a00 199.5px,#f8d902 208.5px,#e9f411 210.5px,#cefa29 211.5px,#7efb72 213.5px,#48fea9 215.5px,#10f4eb 217.5px,#00deff 218.5px,#0089ff 220.5px,#0014ff 223.5px,#0000ff 224.5px,#ffffff 225.5px,#ffffff 325.5px) 130px 0/3px 100% no-repeat,linear-gradient(#5f0000 0.5px,#630000 85.5px,#6a0000 108.5px,#750000 127.5px,#8a0000 145.5px,#a70000 160.5px,#cc0000 173.5px,#fd0000 185.5px,#ff2f00 192.5px,#ff6a00 199.5px,#f9d902 208.5px,#e9f411 210.5px,#cffa29 211.5px,#7ffa72 213.5px,#48fea8 215.5px,#11f4ea 217.5px,#00dfff 218.5px,#008aff 220.5px,#0014ff 223.5px,#0000ff 224.5px,#ffffff 225.5px,#ffffff 325.5px) 133px 0/2px 100% no-repeat,linear-gradient(#5f0000 0.5px,#630000 85.5px,#6a0000 108.5px,#750000 127.5px,#8a0000 145.5px,#a60000 160.5px,#cc0000 173.5px,#fd0000 185.5px,#ff2700 191.5px,#ff6a00 199.5px,#f9d901 208.5px,#eaf410 210.5px,#d0fa28 211.5px,#7ffa71 213.5px,#49fea7 215.5px,#12f4e9 217.5px,#00e0ff 218.5px,#008bff 220.5px,#0015ff 223.5px,#0000ff 224.5px,#ffffff 225.5px,#ffffff 325.5px) 135px 0/2px 100% no-repeat,linear-gradient(#5f0000 0.5px,#630000 85.5px,#6a0000 108.5px,#750000 127.5px,#8a0000 145.5px,#a60000 160.5px,#cc0000 173.5px,#fd0000 185.5px,#ff2600 191.5px,#ff6900 199.5px,#f9d801 208.5px,#eaf310 210.5px,#d2fa26 211.5px,#81fa70 213.5px,#4afea6 215.5px,#13f4e8 217.5px,#00e2ff 218.5px,#008dff 220.5px,#0017ff 223.5px,#0000ff 224.5px,#ffffff 225.5px,#ffffff 325.5px) 137px 0/2px 100% no-repeat,linear-gradient(#5f0000 0.5px,#630000 85.5px,#690000 108.5px,#750000 127.5px,#8a0000 145.5px,#a60000 160.5px,#cb0000 173.5px,#fd0000 185.5px,#ff0300 186.5px,#ff2600 191.5px,#ff6900 199.5px,#f9d701 208.5px,#eaf210 210.5px,#d4fa24 211.5px,#83fa6e 213.5px,#4cfea5 215.5px,#14f4e6 217.5px,#01e3fe 218.5px,#008fff 220.5px,#0018ff 223.5px,#0000ff 224.5px,#d4d4ff 225.5px,#ffffff 226.5px,#ffffff 325.5px) 139px 0/2px 100% no-repeat,linear-gradient(#5f0000 0.5px,#630000 85.5px,#690000 108.5px,#750000 127.5px,#8a0000 145.5px,#a60000 160.5px,#cb0000 173.5px,#fc0000 185.5px,#ff0300 186.5px,#ff2500 191.5px,#ff6800 199.5px,#f9d601 208.5px,#ebf10f 210.5px,#d7fa22 211.5px,#85fa6c 213.5px,#4dfea3 215.5px,#16f5e4 217.5px,#01e5fe 218.5px,#001bff 223.5px,#0001ff 224.5px,#bfbfff 225.5px,#ffffff 226.5px,#ffffff 325.5px) 141px 0/2px 100% no-repeat,linear-gradient(#5f0000 0.5px,#630000 85.5px,#690000 108.5px,#750000 127.5px,#890000 145.5px,#a60000 160.5px,#cb0000 173.5px,#fc0000 185.5px,#ff0200 186.5px,#ff2500 191.5px,#ff6700 199.5px,#fad500 208.5px,#ecf00e 210.5px,#dafa1f 211.5px,#88fa69 213.5px,#50fea1 215.5px,#18f5e1 217.5px,#02e8fd 218.5px,#001eff 223.5px,#0001ff 224.5px,#bfbfff 225.5px,#ffffff 226.5px,#ffffff 325.5px) 143px 0/2px 100% no-repeat,linear-gradient(#5f0000 0.5px,#630000 85.5px,#6a0000 109.5px,#760000 128.5px,#890000 145.5px,#a50000 160.5px,#ca0000 173.5px,#fb0000 185.5px,#ff0200 186.5px,#ff2400 191.5px,#ff6600 199.5px,#fad400 208.5px,#ecef0e 210.5px,#ddf91c 211.5px,#8bfa66 213.5px,#52fe9e 215.5px,#1bf6de 217.5px,#03eafc 218.5px,#0021ff 223.5px,#0002ff 224.5px,#b5b5ff 225.5px,#ffffff 226.5px,#ffffff 325.5px) 145px 0/2px 100% no-repeat,linear-gradient(#5f0000 0.5px,#630000 85.5px,#6a0000 109.5px,#760000 128.5px,#8a0000 146.5px,#a70000 161.5px,#cd0000 174.5px,#ff0100 186.5px,#ff2a00 192.5px,#ff6500 199.5px,#ffa200 204.5px,#fad300 208.5px,#f5e005 209.5px,#e0f919 211.5px,#8ffa62 213.5px,#55fe9b 215.5px,#39fcb9 216.5px,#04edfa 218.5px,#00c8ff 219.5px,#0025ff 223.5px,#0004ff 224.5px,#ffffff 226.5px,#ffffff 325.5px) 147px 0/2px 100% no-repeat,linear-gradient(#5f0000 0.5px,#630000 85.5px,#6a0000 109.5px,#750000 128.5px,#8a0000 146.5px,#a70000 161.5px,#cd0000 174.5px,#fe0100 186.5px,#ff3100 193.5px,#ff6d00 200.5px,#feac00 205.5px,#fbd100 208.5px,#f6de04 209.5px,#e3f817 211.5px,#94fa5e 213.5px,#73fb7d 214.5px,#58fe98 215.5px,#3dfdb5 216.5px,#06eff8 218.5px,#00ccff 219.5px,#0078ff 221.5px,#0029ff 223.5px,#0006ff 224.5px,#ffffff 226.5px,#ffffff 325.5px) 149px 0/2px 100% no-repeat,linear-gradient(#5f0000 0.5px,#630000 85.5px,#690000 109.5px,#750000 128.5px,#8a0000 146.5px,#a60000 161.5px,#cc0000 174.5px,#fe0000 186.5px,#ff2100 191.5px,#ff5100 197.5px,#ff6c00 200.5px,#ff9f00 204.5px,#fbcf00 208.5px,#f7dc03 209.5px,#e6f714 211.5px,#c4fa33 212.5px,#9afa59 213.5px,#76fb7a 214.5px,#40fdb2 216.5px,#09f1f4 218.5px,#00d2ff 219.5px,#007dff 221.5px,#0008ff 224.5px,#4a4aff 225.5px,#ffffff 226.5px,#ffffff 325.5px) 151px 0/2px 100% no-repeat,linear-gradient(#5f0000 0.5px,#630000 85.5px,#690000 109.5px,#750000 128.5px,#890000 146.5px,#a60000 161.5px,#cb0000 174.5px,#fd0000 186.5px,#ff1800 190.5px,#ff4f00 197.5px,#ff6a00 200.5px,#ff9d00 204.5px,#f8da02 209.5px,#e8f512 211.5px,#cafa2e 212.5px,#7afb76 214.5px,#44fead 216.5px,#0cf2f1 218.5px,#00d7ff 219.5px,#0082ff 221.5px,#000cff 224.5px,#4040ff 225.5px,#ffffff 226.5px,#ffffff 325.5px) 153px 0/2px 100% no-repeat,linear-gradient(#5f0000 0.5px,#630000 86.5px,#6a0000 110.5px,#760000 129.5px,#890000 146.5px,#a50000 161.5px,#cb0000 174.5px,#fc0000 186.5px,#ff0200 187.5px,#ff1700 190.5px,#ff4e00 197.5px,#ff7400 201.5px,#ff9b00 204.5px,#f9d801 209.5px,#eaf310 211.5px,#d0fa28 212.5px,#7ffa72 214.5px,#48fea9 216.5px,#10f3ec 218.5px,#00ddff 219.5px,#0087ff 221.5px,#0010ff 224.5px,#0b0bff 225.5px,#ffffff 226.5px,#ffffff 325.5px) 155px 0/2px 100% no-repeat,linear-gradient(#5f0000 0.5px,#630000 86.5px,#6a0000 110.5px,#750000 129.5px,#890000 146.5px,#a50000 161.5px,#ca0000 174.5px,#fb0000 186.5px,#ff0100 187.5px,#ff2400 192.5px,#ff6700 200.5px,#fad601 209.5px,#ebf10f 211.5px,#d7fa22 212.5px,#84fa6c 214.5px,#4cfea4 216.5px,#14f4e6 218.5px,#01e3fe 219.5px,#008eff 221.5px,#0016ff 224.5px,#0000ff 225.5px,#ffffff 226.5px,#ffffff 325.5px) 157px 0/2px 100% no-repeat,linear-gradient(#5f0000 0.5px,#630000 86.5px,#690000 110.5px,#750000 129.5px,#8a0000 147.5px,#a70000 162.5px,#cc0000 175.5px,#fe0100 187.5px,#ff2a00 193.5px,#ff6500 200.5px,#feaf00 206.5px,#fad400 209.5px,#f4e106 210.5px,#ecef0e 211.5px,#dcf91d 212.5px,#8afa67 214.5px,#51fe9f 216.5px,#19f5e1 218.5px,#02e8fd 219.5px,#001cff 224.5px,#0001ff 225.5px,#bfbfff 226.5px,#ffffff 227.5px,#ffffff 325.5px) 159px 0/2px 100% no-repeat,linear-gradient(#5f0000 0.5px,#630000 86.5px,#690000 110.5px,#750000 129.5px,#890000 147.5px,#a60000 162.5px,#cc0000 175.5px,#fd0000 187.5px,#ff3000 194.5px,#ff6d00 201.5px,#feac00 206.5px,#fbd100 209.5px,#f6de04 210.5px,#e2f818 212.5px,#92fa60 214.5px,#56fe9a 216.5px,#3afcb9 217.5px,#04ecfa 219.5px,#00c7ff 220.5px,#0022ff 224.5px,#0003ff 225.5px,#9f9fff 226.5px,#ffffff 227.5px,#ffffff 325.5px) 161px 0/2px 100% no-repeat,linear-gradient(#5f0000 0.5px,#630000 87.5px,#6a0000 111.5px,#750000 130.5px,#890000 147.5px,#a50000 162.5px,#cb0000 175.5px,#fc0000 187.5px,#ff0300 188.5px,#ff2600 193.5px,#ff6b00 201.5px,#feaa00 206.5px,#f7dc03 210.5px,#e6f714 212.5px,#c4fa32 213.5px,#9afa59 214.5px,#76fb7a 215.5px,#5bfd95 216.5px,#3ffdb2 217.5px,#08f0f6 219.5px,#00cfff 220.5px,#0079ff 222.5px,#0029ff 224.5px,#0006ff 225.5px,#ffffff 227.5px,#ffffff 325.5px) 163px 0/2px 100% no-repeat,linear-gradient(#5f0000 0.5px,#630000 87.5px,#690000 111.5px,#750000 130.5px,#880000 147.5px,#a50000 162.5px,#ca0000 175.5px,#fb0000 187.5px,#ff0200 188.5px,#ff0f00 190.5px,#ff4d00 198.5px,#ff7300 202.5px,#ff9b00 205.5px,#f9d902 210.5px,#e9f411 212.5px,#cdfa2b 213.5px,#7cfb74 215.5px,#45feac 217.5px,#0cf2f0 219.5px,#00d7ff 220.5px,#0081ff 222.5px,#000aff 225.5px,#4040ff 226.5px,#ffffff 227.5px,#ffffff 325.5px) 165px 0/2px 100% no-repeat,linear-gradient(#5f0000 0.5px,#630000 87.5px,#690000 111.5px,#750000 130.5px,#890000 148.5px,#a60000 163.5px,#cc0000 176.5px,#fe0100 188.5px,#ff2a00 194.5px,#ff5d00 200.5px,#ff7000 202.5px,#ffa500 206.5px,#fad601 210.5px,#ebf10f 212.5px,#d5fa23 213.5px,#83fa6e 215.5px,#4afea6 217.5px,#12f4e9 219.5px,#00dfff 220.5px,#0089ff 222.5px,#0010ff 225.5px,#1515ff 226.5px,#ffffff 227.5px,#ffffff 325.5px) 167px 0/2px 100% no-repeat,linear-gradient(#5f0000 0.5px,#630000 88.5px,#6a0000 112.5px,#750000 131.5px,#890000 148.5px,#a50000 163.5px,#cb0000 176.5px,#fd0000 188.5px,#ff2800 194.5px,#ff6400 201.5px,#feae00 207.5px,#fad300 210.5px,#f5e005 211.5px,#edee0d 212.5px,#ddf91c 213.5px,#8afa67 215.5px,#50fea0 217.5px,#18f5e2 219.5px,#01e6fd 220.5px,#0018ff 225.5px,#0000ff 226.5px,#eaeaff 227.5px,#ffffff 228.5px,#ffffff 325.5px) 169px 0/2px 100% no-repeat,linear-gradient(#5f0000 0.5px,#630000 88.5px,#690000 112.5px,#750000 131.5px,#880000 148.5px,#a50000 163.5px,#ca0000 176.5px,#fc0000 188.5px,#ff0300 189.5px,#ff2600 194.5px,#ff6b00 202.5px,#feab00 207.5px,#f6dd04 211.5px,#e3f816 213.5px,#befa38 214.5px,#93fa5e 215.5px,#72fb7e 216.5px,#56fe9a 217.5px,#3afcb8 218.5px,#04ecfa 220.5px,#00c6ff 221.5px,#0020ff 225.5px,#0002ff 226.5px,#b5b5ff 227.5px,#ffffff 228.5px,#ffffff 325.5px) 171px 0/2px 100% no-repeat,linear-gradient(#5f0000 0.5px,#630000 88.5px,#690000 112.5px,#750000 131.5px,#880000 148.5px,#a40000 163.5px,#c90000 176.5px,#fb0000 188.5px,#ff0100 189.5px,#ff1c00 193.5px,#ff6800 202.5px,#fea800 207.5px,#f8da02 211.5px,#e8f512 213.5px,#c8fa2f 214.5px,#78fb78 216.5px,#41fdb1 218.5px,#08f0f5 220.5px,#00d0ff 221.5px,#0028ff 225.5px,#0005ff 226.5px,#ffffff 228.5px,#ffffff 325.5px) 173px 0/2px 100% no-repeat,linear-gradient(#5f0000 0.5px,#630000 89.5px,#690000 113.5px,#750000 132.5px,#890000 149.5px,#a50000 164.5px,#cb0000 177.5px,#fe0000 189.5px,#ff2200 194.5px,#ff5300 200.5px,#ff7000 203.5px,#ff9800 206.5px,#f9d701 211.5px,#eaf210 213.5px,#d3fa25 214.5px,#7ffa71 216.5px,#47fea9 218.5px,#0ef3ee 220.5px,#00d9ff 221.5px,#0082ff 223.5px,#000aff 226.5px,#4a4aff 227.5px,#ffffff 228.5px,#ffffff 325.5px) 175px 0/2px 100% no-repeat,linear-gradient(#5f0000 0.5px,#630000 89.5px,#690000 113.5px,#750000 132.5px,#880000 149.5px,#a40000 164.5px,#ca0000 177.5px,#fc0000 189.5px,#ff1800 193.5px,#ff5100 200.5px,#ff6d00 203.5px,#ffa100 207.5px,#fad300 211.5px,#ecef0e 213.5px,#dcf91d 214.5px,#88fa69 216.5px,#4efea2 218.5px,#15f4e6 220.5px,#01e3fe 221.5px,#008bff 223.5px,#0011ff 226.5px,#1515ff 227.5px,#ffffff 228.5px,#ffffff 325.5px) 177px 0/2px 100% no-repeat,linear-gradient(#5f0000 0.5px,#620000 89.5px,#690000 113.5px,#750000 132.5px,#880000 149.5px,#a40000 164.5px,#c90000 177.5px,#fb0000 189.5px,#ff0200 190.5px,#ff2500 195.5px,#ff6a00 203.5px,#feaa00 208.5px,#f7dd03 212.5px,#e3f817 214.5px,#92fa60 216.5px,#55fe9b 218.5px,#1cf6dd 220.5px,#03eafb 221.5px,#001aff 226.5px,#0000ff 227.5px,#d4d4ff 228.5px,#ffffff 229.5px,#ffffff 325.5px) 179px 0/2px 100% no-repeat,linear-gradient(#5f0000 0.5px,#630000 90.5px,#690000 114.5px,#750000 133.5px,#880000 150.5px,#a50000 165.5px,#cb0000 178.5px,#fe0000 190.5px,#ff2a00 196.5px,#ff6700 203.5px,#fea700 208.5px,#f8d902 212.5px,#e8f512 214.5px,#c8fa2f 215.5px,#78fb78 217.5px,#3ffdb2 219.5px,#07eff7 221.5px,#00cdff 222.5px,#0023ff 226.5px,#0003ff 227.5px,#9f9fff 228.5px,#ffffff 229.5px,#ffffff 325.5px) 181px 0/2px 100% no-repeat,linear-gradient(#5f0000 0.5px,#620000 90.5px,#690000 114.5px,#750000 133.5px,#880000 150.5px,#a40000 165.5px,#ca0000 178.5px,#fd0000 190.5px,#ff0300 191.5px,#ff2800 196.5px,#ff6400 203.5px,#fad601 212.5px,#ebf20f 214.5px,#d4fa25 215.5px,#80fa71 217.5px,#47feaa 219.5px,#0df3ef 221.5px,#00d7ff 222.5px,#007fff 224.5px,#0007ff 227.5px,#6a6aff 228.5px,#ffffff 229.5px,#ffffff 325.5px) 183px 0/2px 100% no-repeat,linear-gradient(#5f0000 0.5px,#620000 90.5px,#690000 114.5px,#740000 133.5px,#870000 150.5px,#a30000 165.5px,#c90000 178.5px,#fb0000 190.5px,#ff0200 191.5px,#ff0f00 193.5px,#ff4f00 201.5px,#ff6b00 204.5px,#ffa000 208.5px,#fad200 212.5px,#edee0d 214.5px,#ddf91c 215.5px,#89fa68 217.5px,#4efea2 219.5px,#14f4e6 221.5px,#00e1fe 222.5px,#0089ff 224.5px,#000eff 227.5px,#2a2aff 228.5px,#ffffff 229.5px,#ffffff 325.5px) 185px 0/2px 100% no-repeat,linear-gradient(#5f0000 0.5px,#620000 91.5px,#690000 115.5px,#750000 134.5px,#880000 151.5px,#a50000 166.5px,#cb0000 179.5px,#fe0000 191.5px,#ff2a00 197.5px,#ff6800 204.5px,#fea900 209.5px,#f7dc03 213.5px,#e4f715 215.5px,#c0fa36 216.5px,#94fa5e 217.5px,#71fb7f 218.5px,#55fe9b 219.5px,#1cf6dd 221.5px,#03eafc 222.5px,#0017ff 227.5px,#0000ff 228.5px,#eaeaff 229.5px,#ffffff 230.5px,#ffffff 325.5px) 187px 0/2px 100% no-repeat,linear-gradient(#5f0000 0.5px,#620000 91.5px,#690000 115.5px,#740000 134.5px,#870000 151.5px,#a40000 166.5px,#c90000 179.5px,#fc0000 191.5px,#ff0300 192.5px,#ff2800 197.5px,#ff6500 204.5px,#f9d801 213.5px,#e9f411 215.5px,#cbfa2c 216.5px,#79fb77 218.5px,#40fdb1 220.5px,#07eff6 222.5px,#00ccff 223.5px,#0021ff 227.5px,#0002ff 228.5px,#b5b5ff 229.5px,#ffffff 230.5px,#ffffff 325.5px) 189px 0/2px 100% no-repeat,linear-gradient(#5f0000 0.5px,#620000 91.5px,#690000 115.5px,#740000 134.5px,#870000 151.5px,#a30000 166.5px,#c80000 179.5px,#fb0000 191.5px,#ff0200 192.5px,#ff1e00 196.5px,#ff6200 204.5px,#ff7800 206.5px,#fad400 213.5px,#ecf00e 215.5px,#d7fa22 216.5px,#82fa6f 218.5px,#48fea9 220.5px,#0df3ef 222.5px,#00d7ff 223.5px,#007eff 225.5px,#002bff 227.5px,#0006ff 228.5px,#7575ff 229.5px,#ffffff 230.5px,#ffffff 325.5px) 191px 0/2px 100% no-repeat,linear-gradient(#5f0000 0.5px,#620000 92.5px,#690000 116.5px,#740000 135.5px,#880000 152.5px,#a40000 167.5px,#ca0000 180.5px,#fe0000 192.5px,#ff2300 197.5px,#ff5600 203.5px,#ff7400 206.5px,#ff9d00 209.5px,#fbd000 213.5px,#eeec0c 215.5px,#e0f919 216.5px,#8cfa65 218.5px,#4ffea1 220.5px,#15f5e5 222.5px,#01e2fe 223.5px,#0089ff 225.5px,#000dff 228.5px,#3535ff 229.5px,#ffffff 230.5px,#ffffff 325.5px) 193px 0/2px 100% no-repeat,linear-gradient(#5f0000 0.5px,#620000 92.5px,#690000 116.5px,#740000 135.5px,#870000 152.5px,#a30000 167.5px,#c90000 180.5px,#fc0000 192.5px,#ff0300 193.5px,#ff2800 198.5px,#ff6600 205.5px,#fea600 210.5px,#f8da02 214.5px,#e6f613 216.5px,#c4fa33 217.5px,#97fa5b 218.5px,#73fb7d 219.5px,#57fe99 220.5px,#1df6dc 222.5px,#03eafb 223.5px,#00c1ff 224.5px,#0016ff 228.5px,#0000ff 229.5px,#f4f4ff 230.5px,#ffffff 231.5px,#ffffff 325.5px) 195px 0/2px 100% no-repeat,linear-gradient(#5f0000 0.5px,#620000 92.5px,#690000 116.5px,#740000 135.5px,#860000 152.5px,#a20000 167.5px,#c80000 180.5px,#fb0000 192.5px,#ff0100 193.5px,#ff1e00 197.5px,#ff6300 205.5px,#f9d601 214.5px,#eaf310 216.5px,#d0fa28 217.5px,#7bfb75 219.5px,#42feb0 221.5px,#08f0f6 223.5px,#00cdff 224.5px,#0020ff 228.5px,#0002ff 229.5px,#bfbfff 230.5px,#ffffff 231.5px,#ffffff 325.5px) 197px 0/2px 100% no-repeat,linear-gradient(#5f0000 0.5px,#620000 93.5px,#690000 117.5px,#740000 136.5px,#870000 153.5px,#a40000 168.5px,#ca0000 181.5px,#fe0000 193.5px,#ff2b00 199.5px,#ff6a00 206.5px,#feab00 211.5px,#fad200 214.5px,#f5e005 215.5px,#ecef0e 216.5px,#dbf91e 217.5px,#85fa6c 219.5px,#49fea7 221.5px,#0ef3ee 223.5px,#00d8ff 224.5px,#007eff 226.5px,#002aff 228.5px,#0005ff 229.5px,#ffffff 231.5px,#ffffff 325.5px) 199px 0/2px 100% no-repeat,linear-gradient(#5f0000 0.5px,#620000 93.5px,#690000 117.5px,#740000 136.5px,#870000 153.5px,#a30000 168.5px,#c90000 181.5px,#fc0000 193.5px,#ff0300 194.5px,#ff1900 197.5px,#ff4a00 203.5px,#ff7100 207.5px,#ff9b00 210.5px,#f7dc03 215.5px,#e3f817 217.5px,#8ffa62 219.5px,#51fe9f 221.5px,#16f5e4 223.5px,#01e3fe 224.5px,#0089ff 226.5px,#000cff 229.5px,#4040ff 230.5px,#ffffff 231.5px,#ffffff 325.5px) 201px 0/2px 100% no-repeat,linear-gradient(#5f0000 0.5px,#620000 93.5px,#680000 117.5px,#730000 136.5px,#860000 153.5px,#a20000 168.5px,#c70000 181.5px,#fa0000 193.5px,#ff0100 194.5px,#ff1e00 198.5px,#ff6400 206.5px,#ffa400 211.5px,#f9d801 215.5px,#e8f512 217.5px,#c8fa2f 218.5px,#9bfa57 219.5px,#75fb7b 220.5px,#59fd97 221.5px,#3bfdb7 222.5px,#04ebfb 224.5px,#00c2ff 225.5px,#0014ff 229.5px,#0000ff 230.5px,#ffffff 231.5px,#ffffff 325.5px) 203px 0/2px 100% no-repeat,linear-gradient(#5f0000 0.5px,#620000 94.5px,#690000 118.5px,#740000 137.5px,#870000 154.5px,#a30000 169.5px,#c90000 182.5px,#fe0000 194.5px,#ff2b00 200.5px,#ff6b00 207.5px,#fbc700 214.5px,#f3e307 216.5px,#ebf10f 217.5px,#d4fa24 218.5px,#7efb73 220.5px,#43feae 222.5px,#08f0f5 224.5px,#00cdff 225.5px,#001eff 229.5px,#0001ff 230.5px,#cacaff 231.5px,#ffffff 232.5px,#ffffff 325.5px) 205px 0/2px 100% no-repeat,linear-gradient(#5f0000 0.5px,#620000 94.5px,#680000 118.5px,#730000 137.5px,#860000 154.5px,#a20000 169.5px,#c80000 182.5px,#fc0000 194.5px,#ff0300 195.5px,#ff2800 200.5px,#ff6700 207.5px,#fea900 212.5px,#fbd100 215.5px,#f6df04 216.5px,#eded0d 217.5px,#ddf91c 218.5px,#87fa6a 220.5px,#4bfea6 222.5px,#0ff3ed 224.5px,#00d8ff 225.5px,#0028ff 229.5px,#0004ff 230.5px,#8a8aff 231.5px,#ffffff 232.5px,#ffffff 325.5px) 207px 0/2px 100% no-repeat,linear-gradient(#5f0000 0.5px,#620000 94.5px,#680000 118.5px,#730000 137.5px,#860000 154.5px,#a10000 169.5px,#c70000 182.5px,#fa0000 194.5px,#ff0100 195.5px,#ff0f00 197.5px,#ff4800 204.5px,#ff6f00 208.5px,#ff9800 211.5px,#f8db02 216.5px,#e4f715 218.5px,#bffa37 219.5px,#92fa60 220.5px,#6ffc81 221.5px,#52fe9e 222.5px,#16f5e4 224.5px,#01e2fe 225.5px,#0088ff 227.5px,#000aff 230.5px,#5555ff 231.5px,#ffffff 232.5px,#ffffff 325.5px) 209px 0/2px 100% no-repeat,linear-gradient(#5f0000 0.5px,#620000 95.5px,#680000 119.5px,#740000 138.5px,#860000 155.5px,#a30000 170.5px,#c90000 183.5px,#fe0000 195.5px,#ff2300 200.5px,#ff5800 206.5px,#ff6c00 208.5px,#ffa200 212.5px,#f9d701 216.5px,#e9f411 218.5px,#cafa2d 219.5px,#9dfa56 220.5px,#76fb7a 221.5px,#3cfdb7 223.5px,#1ef6db 224.5px,#03eafb 225.5px,#00c1ff 226.5px,#0011ff 230.5px,#1515ff 231.5px,#ffffff 232.5px,#ffffff 325.5px) 211px 0/2px 100% no-repeat,linear-gradient(#5f0000 0.5px,#620000 95.5px,#680000 119.5px,#730000 138.5px,#870000 156.5px,#a40000 171.5px,#cc0000 184.5px,#fc0000 195.5px,#ff0300 196.5px,#ff2900 201.5px,#ff6900 208.5px,#fcc600 215.5px,#f4e206 217.5px,#ebf00f 218.5px,#d5fa23 219.5px,#7efb72 221.5px,#43feae 223.5px,#08f0f6 225.5px,#00cbff 226.5px,#001bff 230.5px,#0000ff 231.5px,#dfdfff 232.5px,#ffffff 233.5px,#ffffff 325.5px) 213px 0/2px 100% no-repeat,linear-gradient(#5f0000 0.5px,#620000 95.5px,#680000 119.5px,#730000 138.5px,#870000 156.5px,#a30000 171.5px,#ca0000 184.5px,#fb0000 195.5px,#ff0200 196.5px,#ff1f00 200.5px,#ff6600 208.5px,#fea800 213.5px,#f6de04 217.5px,#eeed0c 218.5px,#def91b 219.5px,#87fa6a 221.5px,#4afea7 223.5px,#0df3ef 225.5px,#00d6ff 226.5px,#0024ff 230.5px,#0002ff 231.5px,#aaaaff 232.5px,#ffffff 233.5px,#ffffff 325.5px) 215px 0/2px 100% no-repeat,linear-gradient(#5f0000 0.5px,#620000 95.5px,#680000 120.5px,#730000 139.5px,#860000 156.5px,#a20000 171.5px,#c90000 184.5px,#fe0000 196.5px,#ff2c00 202.5px,#ff6300 208.5px,#ffa500 213.5px,#f8da02 217.5px,#e4f715 219.5px,#bffa37 220.5px,#91fa61 221.5px,#51fe9f 223.5px,#14f4e6 225.5px,#00e0ff 226.5px,#0083ff 228.5px,#002dff 230.5px,#0006ff 231.5px,#7575ff 232.5px,#ffffff 233.5px,#ffffff 325.5px) 217px 0/2px 100% no-repeat,linear-gradient(#5f0000 0.5px,#620000 96.5px,#680000 120.5px,#730000 139.5px,#870000 157.5px,#a40000 172.5px,#cc0000 185.5px,#fd0000 196.5px,#ff2200 201.5px,#ff5700 207.5px,#ff7700 210.5px,#ffa200 213.5px,#f9d701 217.5px,#e9f411 219.5px,#c9fa2e 220.5px,#9bfa57 221.5px,#75fb7b 222.5px,#3afcb9 224.5px,#1bf6de 225.5px,#02e7fc 226.5px,#000cff 231.5px,#4040ff 232.5px,#ffffff 233.5px,#ffffff 325.5px) 219px 0/2px 100% no-repeat,linear-gradient(#5f0000 0.5px,#620000 96.5px,#680000 120.5px,#730000 139.5px,#870000 157.5px,#a30000 172.5px,#cb0000 185.5px,#fb0000 196.5px,#ff0200 197.5px,#ff1000 199.5px,#ff4b00 206.5px,#ff7400 210.5px,#ff9f00 213.5px,#fad400 217.5px,#ebf10f 219.5px,#d3fa25 220.5px,#7cfb74 222.5px,#40fdb1 224.5px,#22f7d6 225.5px,#05edf9 226.5px,#00c6ff 227.5px,#0013ff 231.5px,#0b0bff 232.5px,#ffffff 233.5px,#ffffff 325.5px) 221px 0/2px 100% no-repeat,linear-gradient(#5f0000 0.5px,#620000 96.5px,#680000 121.5px,#730000 140.5px,#860000 157.5px,#a20000 172.5px,#c90000 185.5px,#fe0100 197.5px,#ff2e00 203.5px,#ff6600 209.5px,#fea900 214.5px,#fbd000 217.5px,#f6df04 218.5px,#edee0d 219.5px,#dcf91d 220.5px,#83fa6d 222.5px,#46feaa 224.5px,#0af1f3 226.5px,#00cfff 227.5px,#001cff 231.5px,#0000ff 232.5px,#d4d4ff 233.5px,#ffffff 234.5px,#ffffff 325.5px) 223px 0/2px 100% no-repeat,linear-gradient(#5f0000 0.5px,#620000 96.5px,#680000 121.5px,#730000 140.5px,#870000 158.5px,#a40000 173.5px,#cc0000 186.5px,#fd0000 197.5px,#ff2c00 203.5px,#ff6300 209.5px,#fea600 214.5px,#f7dc03 218.5px,#e2f818 220.5px,#8cfa65 222.5px,#4cfea4 224.5px,#0ff3ec 226.5px,#00d8ff 227.5px,#0024ff 231.5px,#0002ff 232.5px,#b5b5ff 233.5px,#ffffff 234.5px,#ffffff 325.5px) 225px 0/2px 100% no-repeat,linear-gradient(#5f0000 0.5px,#620000 97.5px,#680000 121.5px,#730000 140.5px,#860000 158.5px,#a30000 173.5px,#cb0000 186.5px,#fc0000 197.5px,#ff0300 198.5px,#ff2200 202.5px,#ff6100 209.5px,#ff7800 211.5px,#f9d902 218.5px,#e7f613 220.5px,#c3fa34 221.5px,#94fa5e 222.5px,#70fb80 223.5px,#52fe9e 224.5px,#15f5e5 226.5px,#00e0ff 227.5px,#0083ff 229.5px,#002bff 231.5px,#0005ff 232.5px,#ffffff 234.5px,#ffffff 325.5px) 227px 0/2px 100% no-repeat,linear-gradient(#5f0000 0.5px,#620000 97.5px,#680000 121.5px,#720000 140.5px,#860000 158.5px,#a30000 173.5px,#ca0000 186.5px,#fb0000 197.5px,#ff0200 198.5px,#ff1000 200.5px,#ff4b00 207.5px,#ff6900 210.5px,#ffa000 214.5px,#fad601 218.5px,#eaf410 220.5px,#cbfa2c 221.5px,#9dfa56 222.5px,#76fb7a 223.5px,#3afcb9 225.5px,#1bf6de 226.5px,#02e7fd 227.5px,#008bff 229.5px,#000aff 232.5px,#4a4aff 233.5px,#ffffff 234.5px,#ffffff 325.5px) 229px 0/2px 100% no-repeat,linear-gradient(#5f0000 0.5px,#620000 97.5px,#680000 121.5px,#720000 140.5px,#860000 158.5px,#a20000 173.5px,#c90000 186.5px,#fa0000 197.5px,#ff0700 199.5px,#ff4900 207.5px,#ff7200 211.5px,#ff9d00 214.5px,#fad300 218.5px,#ebf10f 220.5px,#d4fa25 221.5px,#7bfb75 223.5px,#3ffdb3 225.5px,#20f7d8 226.5px,#04ecfa 227.5px,#00c2ff 228.5px,#000fff 232.5px,#3535ff 233.5px,#ffffff 234.5px,#ffffff 325.5px) 231px 0/2px 100% no-repeat,linear-gradient(#5f0000 0.5px,#620000 97.5px,#680000 122.5px,#730000 141.5px,#870000 159.5px,#a40000 174.5px,#cc0000 187.5px,#fe0000 198.5px,#ff2d00 204.5px,#ff6500 210.5px,#fea800 215.5px,#fbd100 218.5px,#f5df05 219.5px,#edee0d 220.5px,#daf91f 221.5px,#81fa6f 223.5px,#44fead 225.5px,#07eff6 227.5px,#00caff 228.5px,#0015ff 232.5px,#0000ff 233.5px,#ffffff 234.5px,#ffffff 325.5px) 233px 0/2px 100% no-repeat,linear-gradient(#5f0000 0.5px,#620000 97.5px,#680000 122.5px,#720000 141.5px,#860000 159.5px,#a30000 174.5px,#cb0000 187.5px,#fd0000 198.5px,#ff2300 203.5px,#ff6300 210.5px,#fea600 215.5px,#f7dd03 219.5px,#eeec0c 220.5px,#e0f91a 221.5px,#87fa69 223.5px,#49fea8 225.5px,#0bf2f2 227.5px,#00d1ff 228.5px,#001bff 232.5px,#0000ff 233.5px,#dfdfff 234.5px,#ffffff 235.5px,#ffffff 325.5px) 235px 0/2px 100% no-repeat,linear-gradient(#5f0000 0.5px,#620000 98.5px,#680000 122.5px,#720000 141.5px,#860000 159.5px,#a30000 174.5px,#ca0000 187.5px,#fc0000 198.5px,#ff0300 199.5px,#ff2100 203.5px,#ff6100 210.5px,#ff7900 212.5px,#ffa400 215.5px,#f8da02 219.5px,#e4f716 221.5px,#bcfa3a 222.5px,#8dfa64 223.5px,#4dfea3 225.5px,#0ff3ed 227.5px,#00d7ff 228.5px,#0021ff 232.5px,#0001ff 233.5px,#bfbfff 234.5px,#ffffff 235.5px,#ffffff 325.5px) 237px 0/2px 100% no-repeat,linear-gradient(#5f0000 0.5px,#620000 98.5px,#680000 122.5px,#720000 141.5px,#860000 159.5px,#a20000 174.5px,#ca0000 187.5px,#fb0000 198.5px,#ff0200 199.5px,#ff2000 203.5px,#ff6000 210.5px,#ff7700 212.5px,#f9d801 219.5px,#e7f613 221.5px,#c2fa34 222.5px,#93fa5e 223.5px,#6ffc81 224.5px,#51fe9f 225.5px,#13f4e8 227.5px,#00ddff 228.5px,#007fff 230.5px,#0026ff 232.5px,#0003ff 233.5px,#9f9fff 234.5px,#ffffff 235.5px,#ffffff 325.5px) 239px 0/2px 100% no-repeat,linear-gradient(#5f0000 0.5px,#620000 98.5px,#680000 123.5px,#730000 142.5px,#850000 159.5px,#a20000 174.5px,#c90000 187.5px,#fa0000 198.5px,#ff0100 199.5px,#ff1700 202.5px,#ff5e00 210.5px,#ff7500 212.5px,#f9d601 219.5px,#e9f411 221.5px,#c8fa2f 222.5px,#99fa59 223.5px,#73fb7d 224.5px,#55fe9b 225.5px,#17f5e3 227.5px,#01e2fe 228.5px,#002bff 232.5px,#0005ff 233.5px,#ffffff 235.5px,#ffffff 325.5px) 241px 0/2px 100% no-repeat,linear-gradient(#5f0000 0.5px,#620000 98.5px,#680000 123.5px,#730000 142.5px,#860000 160.5px,#a40000 175.5px,#cc0000 188.5px,#fe0100 199.5px,#ff2600 204.5px,#ff5300 209.5px,#ff7300 212.5px,#ff9e00 215.5px,#fad500 219.5px,#eaf310 221.5px,#cefa2a 222.5px,#9ffa54 223.5px,#76fb7a 224.5px,#3afcb9 226.5px,#1bf6df 227.5px,#02e6fd 228.5px,#0089ff 230.5px,#0007ff 233.5px,#7575ff 234.5px,#ffffff 235.5px,#ffffff 325.5px) 243px 0/2px 100% no-repeat,linear-gradient(#5f0000 0.5px,#620000 98.5px,#680000 123.5px,#720000 142.5px,#860000 160.5px,#a30000 175.5px,#cc0000 188.5px,#fe0000 199.5px,#ff1d00 203.5px,#ff5200 209.5px,#ff7100 212.5px,#ff9d00 215.5px,#fad300 219.5px,#ebf10f 221.5px,#d2fa26 222.5px,#7afb76 224.5px,#3dfdb5 226.5px,#1ef6db 227.5px,#03e9fc 228.5px,#000aff 233.5px,#4040ff 234.5px,#ffffff 235.5px,#ffffff 325.5px) 245px 0/2px 100% no-repeat,linear-gradient(#5f0000 0.5px,#620000 98.5px,#680000 123.5px,#720000 142.5px,#860000 160.5px,#a30000 175.5px,#cb0000 188.5px,#fd0000 199.5px,#ff1c00 203.5px,#ff5100 209.5px,#ff7000 212.5px,#ff9b00 215.5px,#fad200 219.5px,#ecf00e 221.5px,#d6fa22 222.5px,#7dfb74 224.5px,#3ffdb2 226.5px,#20f7d8 227.5px,#04ebfa 228.5px,#00c1ff 229.5px,#0091ff 230.5px,#000dff 233.5px,#4040ff 234.5px,#ffffff 235.5px,#ffffff 325.5px) 247px 0/2px 100% no-repeat,linear-gradient(#5f0000 0.5px,#620000 98.5px,#680000 123.5px,#720000 142.5px,#860000 160.5px,#a30000 175.5px,#cb0000 188.5px,#fd0000 199.5px,#ff1b00 203.5px,#ff5000 209.5px,#ff6f00 212.5px,#ff9a00 215.5px,#fbd000 219.5px,#edee0d 221.5px,#d9fa20 222.5px,#7ffa71 224.5px,#42feb0 226.5px,#23f7d5 227.5px,#05edf8 228.5px,#00c5ff 229.5px,#0094ff 230.5px,#000fff 233.5px,#4040ff 234.5px,#ffffff 235.5px,#ffffff 325.5px) 249px 0/2px 100% no-repeat,linear-gradient(#5f0000 0.5px,#620000 99.5px,#680000 124.5px,#730000 143.5px,#860000 160.5px,#a30000 175.5px,#ca0000 188.5px,#fc0000 199.5px,#ff1a00 203.5px,#ff4f00 209.5px,#ff6e00 212.5px,#ff9900 215.5px,#fbcf00 219.5px,#f6de04 220.5px,#eded0d 221.5px,#dcf91d 222.5px,#82fa6f 224.5px,#44fead 226.5px,#25f8d3 227.5px,#07eff7 228.5px,#00c8ff 229.5px,#0011ff 233.5px,#1515ff 234.5px,#ffffff 235.5px,#ffffff 325.5px) 251px 0/2px 100% no-repeat,linear-gradient(#5f0000 0.5px,#620000 99.5px,#680000 124.5px,#730000 143.5px,#860000 160.5px,#a20000 175.5px,#ca0000 188.5px,#fc0000 199.5px,#ff0300 200.5px,#ff2200 204.5px,#ff6300 211.5px,#fea600 216.5px,#f6dd04 220.5px,#eeed0c 221.5px,#ddf91c 222.5px,#84fa6d 224.5px,#45feac 226.5px,#08f0f6 228.5px,#00caff 229.5px,#0013ff 233.5px,#0000ff 234.5px,#ffffff 235.5px,#ffffff 325.5px) 253px 0/2px 100% no-repeat,linear-gradient(#5f0000 0.5px,#620000 99.5px,#680000 124.5px,#730000 143.5px,#850000 160.5px,#a20000 175.5px,#ca0000 188.5px,#fc0000 199.5px,#ff0300 200.5px,#ff2200 204.5px,#ff6200 211.5px,#fea600 216.5px,#f7dd03 220.5px,#eeec0c 221.5px,#dff91a 222.5px,#85fa6b 224.5px,#46feaa 226.5px,#09f0f4 228.5px,#00ccff 229.5px,#0014ff 233.5px,#0000ff 234.5px,#ffffff 235.5px,#ffffff 325.5px) 255px 0/2px 100% no-repeat,linear-gradient(#5f0000 0.5px,#620000 99.5px,#680000 124.5px,#730000 143.5px,#850000 160.5px,#a20000 175.5px,#ca0000 188.5px,#fc0000 199.5px,#ff0300 200.5px,#ff2100 204.5px,#ff6200 211.5px,#ff7a00 213.5px,#ffa500 216.5px,#f7dc03 220.5px,#eeeb0c 221.5px,#dff91a 222.5px,#86fa6a 224.5px,#47feaa 226.5px,#09f1f4 228.5px,#00cdff 229.5px,#0015ff 233.5px,#0000ff 234.5px,#ffffff 235.5px,#ffffff 325.5px) 257px 0/2px 100% no-repeat,linear-gradient(#5f0000 0.5px,#620000 99.5px,#680000 124.5px,#730000 143.5px,#850000 160.5px,#a20000 175.5px,#ca0000 188.5px,#fb0000 199.5px,#ff0300 200.5px,#ff2100 204.5px,#ff6200 211.5px,#ff7900 213.5px,#ffa500 216.5px,#f7dc03 220.5px,#e0f819 222.5px,#87fa6a 224.5px,#48fea9 226.5px,#0af1f3 228.5px,#00cdff 229.5px,#0016ff 233.5px,#0000ff 234.5px,#ffffff 235.5px,#ffffff 325.5px) 259px 0/2px 100% no-repeat}
.tb{background:linear-gradient(#640000 0.5px,#710000 44.5px,#8c0000 77.5px,#9f0000 91.5px,#b80000 105.5px,#ff0200 134.5px,#ff4900 153.5px,#ff5b00 160.5px,#ff5500 166.5px,#ff4500 173.5px,#ff2a00 180.5px,#fe0100 188.5px,#850000 214.5px,#6e0000 221.5px,#680000 227.5px,#780000 237.5px,#900000 244.5px,#b50000 250.5px,#cf0000 253.5px,#f10000 256.5px,#fd0200 257.5px,#ff1100 258.5px,#ff5000 261.5px,#ff6800 262.5px,#ff8600 263.5px,#fcc500 265.5px,#f2e508 266.5px,#c1fa35 267.5px,#6cfc84 268.5px,#2ffac6 269.5px,#02d9fc 270.5px,#0088ff 271.5px,#003fff 272.5px,#0009ff 273.5px,#4a4aff 274.5px,#ffffff 275.5px,#ffffff 325.5px) 0px 0/2px 100% no-repeat,linear-gradient(#640000 0.5px,#710000 44.5px,#8c0000 77.5px,#9f0000 91.5px,#b80000 105.5px,#ff0200 134.5px,#ff4900 153.5px,#ff5b00 160.5px,#ff5500 166.5px,#ff4500 173.5px,#ff2a00 180.5px,#fe0100 188.5px,#850000 214.5px,#6e0000 221.5px,#670000 226.5px,#750000 236.5px,#900000 244.5px,#b50000 250.5px,#cf0000 253.5px,#f10000 256.5px,#fd0200 257.5px,#ff1100 258.5px,#ff5000 261.5px,#ff6800 262.5px,#ff8700 263.5px,#fcc600 265.5px,#f1e609 266.5px,#bffa37 267.5px,#6afc86 268.5px,#2efac8 269.5px,#02d8fd 270.5px,#0086ff 271.5px,#003eff 272.5px,#0008ff 273.5px,#8080ff 274.5px,#ffffff 275.5px,#ffffff 325.5px) 2px 0/2px 100% no-repeat,linear-gradient(#640000 0.5px,#710000 44.5px,#8c0000 77.5px,#9f0000 91.5px,#b80000 105.5px,#ff0200 134.5px,#ff4900 153.5px,#ff5b00 160.5px,#ff5500 166.5px,#ff4500 173.5px,#ff2a00 180.5px,#fe0100 188.5px,#850000 214.5px,#6e0000 221.5px,#670000 226.5px,#750000 236.5px,#900000 244.5px,#b50000 250.5px,#d00000 253.5px,#f20000 256.5px,#fd0200 257.5px,#ff1200 258.5px,#ff5100 261.5px,#ff6900 262.5px,#ff8800 263.5px,#fbc700 265.5px,#f1e709 266.5px,#bcfa3a 267.5px,#69fc87 268.5px,#2cf9ca 269.5px,#02d6fd 270.5px,#0084ff 271.5px,#003cff 272.5px,#0007ff 273.5px,#8080ff 274.5px,#ffffff 275.5px,#ffffff 325.5px) 4px 0/2px 100% no-repeat,linear-gradient(#640000 0.5px,#710000 44.5px,#8c0000 77.5px,#9f0000 91.5px,#b80000 105.5px,#ff0200 134.5px,#ff4900 153.5px,#ff5b00 160.5px,#ff5500 166.5px,#ff4500 173.5px,#ff2a00 180.5px,#fe0100 188.5px,#850000 214.5px,#6e0000 221.5px,#670000 226.5px,#750000 236.5px,#900000 244.5px,#b50000 250.5px,#d00000 253.5px,#f20000 256.5px,#fd0200 257.5px,#ff1200 258.5px,#ff5100 261.5px,#ff6a00 262.5px,#ff8900 263.5px,#fbc800 265.5px,#f0e80a 266.5px,#bafa3c 267.5px,#67fc89 268.5px,#2af9cb 269.5px,#01d4fe 270.5px,#0082ff 271.5px,#003aff 272.5px,#0007ff 273.5px,#8080ff 274.5px,#ffffff 275.5px,#ffffff 325.5px) 6px 0/2px 100% no-repeat,linear-gradient(#640000 0.5px,#710000 44.5px,#8c0000 77.5px,#9f0000 91.5px,#b80000 105.5px,#ff0200 134.5px,#ff4900 153.5px,#ff5b00 160.5px,#ff5500 166.5px,#ff4500 173.5px,#ff2a00 180.5px,#fe0100 188.5px,#850000 214.5px,#6e0000 221.5px,#670000 226.5px,#750000 236.5px,#900000 244.5px,#b50000 250.5px,#d00000 253.5px,#f20000 256.5px,#fd0200 257.5px,#ff2600 259.5px,#ff6a00 262.5px,#ff8a00 263.5px,#fbc900 265.5px,#f0e90a 266.5px,#b7fa3e 267.5px,#66fc8a 268.5px,#29f9cd 269.5px,#01d2fe 270.5px,#0080ff 271.5px,#0039ff 272.5px,#0006ff 273.5px,#ffffff 275.5px,#ffffff 325.5px) 8px 0/2px 100% no-repeat,linear-gradient(#640000 0.5px,#710000 44.5px,#8c0000 77.5px,#9f0000 91.5px,#b80000 105.5px,#ff0200 134.5px,#ff4600 152.5px,#ff5b00 160.5px,#ff5500 166.5px,#ff4500 173.5px,#ff2900 180.5px,#fe0100 188.5px,#850000 214.5px,#6e0000 221.5px,#670000 226.5px,#750000 236.5px,#900000 244.5px,#b60000 250.5px,#d00000 253.5px,#f30000 256.5px,#fe0300 257.5px,#ff2700 259.5px,#ff6b00 262.5px,#ff8b00 263.5px,#fbc900 265.5px,#efea0b 266.5px,#b4fa41 267.5px,#64fd8c 268.5px,#27f8d0 269.5px,#00d0ff 270.5px,#007dff 271.5px,#0037ff 272.5px,#0005ff 273.5px,#ffffff 275.5px,#ffffff 325.5px) 10px 0/2px 100% no-repeat,linear-gradient(#640000 0.5px,#710000 44.5px,#8c0000 77.5px,#9f0000 91.5px,#b80000 105.5px,#ff0200 134.5px,#ff4600 152.5px,#ff5a00 160.5px,#ff5500 166.5px,#ff4500 173.5px,#ff2900 180.5px,#fe0100 188.5px,#850000 214.5px,#6e0000 221.5px,#670000 226.5px,#760000 236.5px,#900000 244.5px,#b60000 250.5px,#d10000 253.5px,#f30000 256.5px,#fe0300 257.5px,#ff2800 259.5px,#ff6c00 262.5px,#ff8c00 263.5px,#fbca00 265.5px,#efeb0b 266.5px,#b1fa43 267.5px,#62fd8e 268.5px,#25f8d2 269.5px,#00ceff 270.5px,#007bff 271.5px,#0035ff 272.5px,#0005ff 273.5px,#ffffff 275.5px,#ffffff 325.5px) 12px 0/2px 100% no-repeat,linear-gradient(#640000 0.5px,#710000 44.5px,#8c0000 77.5px,#9f0000 91.5px,#b80000 105.5px,#ff0200 134.5px,#ff4900 153.5px,#ff5a00 160.5px,#ff5500 166.5px,#ff4500 173.5px,#ff2900 180.5px,#fe0100 188.5px,#850000 214.5px,#6e0000 221.5px,#670000 226.5px,#760000 236.5px,#910000 244.5px,#b60000 250.5px,#d10000 253.5px,#f30000 256.5px,#fe0300 257.5px,#ff2800 259.5px,#ff6d00 262.5px,#ff8d00 263.5px,#fbcb00 265.5px,#eeec0c 266.5px,#aefa46 267.5px,#60fd90 268.5px,#23f8d4 269.5px,#00cbff 270.5px,#0079ff 271.5px,#0033ff 272.5px,#0004ff 273.5px,#ffffff 275.5px,#ffffff 325.5px) 14px 0/2px 100% no-repeat,linear-gradient(#640000 0.5px,#710000 44.5px,#8c0000 77.5px,#9f0000 91.5px,#b80000 105.5px,#ff0200 134.5px,#ff4900 153.5px,#ff5a00 160.5px,#ff5500 166.5px,#ff4500 173.5px,#ff2900 180.5px,#fe0100 188.5px,#850000 214.5px,#6e0000 221.5px,#670000 226.5px,#760000 236.5px,#910000 244.5px,#b60000 250.5px,#d10000 253.5px,#f40000 256.5px,#fe0400 257.5px,#ff2900 259.5px,#ff6e00 262.5px,#ff8e00 263.5px,#fbcc00 265.5px,#eeed0c 266.5px,#abfa49 267.5px,#5efd92 268.5px,#21f7d7 269.5px,#00c9ff 270.5px,#0076ff 271.5px,#0031ff 272.5px,#0003ff 273.5px,#ffffff 275.5px,#ffffff 325.5px) 16px 0/2px 100% no-repeat,linear-gradient(#640000 0.5px,#710000 44.5px,#8c0000 77.5px,#9f0000 91.5px,#b80000 105.5px,#ff0200 134.5px,#ff4900 153.5px,#ff5a00 160.5px,#ff5500 166.5px,#ff4400 173.5px,#ff2900 180.5px,#fe0100 188.5px,#850000 214.5px,#6e0000 221.5px,#670000 226.5px,#760000 236.5px,#910000 244.5px,#b70000 250.5px,#d20000 253.5px,#f40000 256.5px,#fe0400 257.5px,#ff2a00 259.5px,#ff6f00 262.5px,#ff8f00 263.5px,#fbcd00 265.5px,#edee0d 266.5px,#a7fa4c 267.5px,#5cfd94 268.5px,#1ff7d9 269.5px,#00c6ff 270.5px,#0074ff 271.5px,#002eff 272.5px,#0003ff 273.5px,#aaaaff 274.5px,#ffffff 275.5px,#ffffff 325.5px) 18px 0/2px 100% no-repeat,linear-gradient(#640000 0.5px,#710000 44.5px,#8c0000 77.5px,#9f0000 91.5px,#b80000 105.5px,#ff0100 134.5px,#ff4900 153.5px,#ff5a00 160.5px,#ff5500 166.5px,#ff4400 173.5px,#ff2900 180.5px,#fe0100 188.5px,#850000 214.5px,#6e0000 221.5px,#670000 226.5px,#760000 236.5px,#910000 244.5px,#b70000 250.5px,#d20000 253.5px,#f50000 256.5px,#fe0500 257.5px,#ff2a00 259.5px,#ff7000 262.5px,#ff9000 263.5px,#facf00 265.5px,#ebef0f 266.5px,#a4fa4f 267.5px,#5afd96 268.5px,#1df6dc 269.5px,#00c2ff 270.5px,#0071ff 271.5px,#002cff 272.5px,#0002ff 273.5px,#bfbfff 274.5px,#ffffff 275.5px,#ffffff 325.5px) 20px 0/2px 100% no-repeat,linear-gradient(#640000 0.5px,#710000 44.5px,#8c0000 77.5px,#b60000 104.5px,#d50000 118.5px,#fd0000 133.5px,#ff0500 135.5px,#ff4900 153.5px,#ff5a00 160.5px,#ff5500 166.5px,#ff4400 173.5px,#ff2900 180.5px,#fe0100 188.5px,#850000 214.5px,#6e0000 221.5px,#680000 226.5px,#760000 236.5px,#910000 244.5px,#b70000 250.5px,#d30000 253.5px,#f50000 256.5px,#ff0500 257.5px,#ff2b00 259.5px,#ff5800 261.5px,#ff7100 262.5px,#fad001 265.5px,#eaf010 266.5px,#a1fa53 267.5px,#57fd99 268.5px,#1bf6df 269.5px,#00bfff 270.5px,#006eff 271.5px,#002aff 272.5px,#0002ff 273.5px,#bfbfff 274.5px,#ffffff 275.5px,#ffffff 325.5px) 22px 0/2px 100% no-repeat,linear-gradient(#640000 0.5px,#710000 44.5px,#8c0000 77.5px,#b60000 104.5px,#d50000 118.5px,#fd0000 133.5px,#ff0500 135.5px,#ff4800 153.5px,#ff5a00 160.5px,#ff5500 166.5px,#ff4400 173.5px,#ff2900 180.5px,#fe0000 188.5px,#850000 214.5px,#6e0000 221.5px,#680000 226.5px,#760000 236.5px,#910000 244.5px,#b80000 250.5px,#d30000 253.5px,#f60000 256.5px,#ff0600 257.5px,#ff5800 261.5px,#ff7200 262.5px,#fad101 265.5px,#e8f111 266.5px,#9dfa56 267.5px,#55fd9b 268.5px,#18f5e2 269.5px,#00bbff 270.5px,#006bff 271.5px,#0027ff 272.5px,#0001ff 273.5px,#bfbfff 274.5px,#ffffff 275.5px,#ffffff 325.5px) 24px 0/2px 100% no-repeat,linear-gradient(#640000 0.5px,#710000 44.5px,#8c0000 77.5px,#b50000 104.5px,#d40000 118.5px,#fd0000 133.5px,#ff0500 135.5px,#ff4800 153.5px,#ff5900 160.5px,#ff5400 166.5px,#ff4400 173.5px,#ff2900 180.5px,#fe0000 188.5px,#850000 214.5px,#6e0000 221.5px,#680000 226.5px,#760000 236.5px,#920000 244.5px,#b80000 250.5px,#d30000 253.5px,#f60000 256.5px,#ff0600 257.5px,#ff5900 261.5px,#ff7300 262.5px,#fad301 265.5px,#e7f213 266.5px,#99fa59 267.5px,#52fd9e 268.5px,#16f4e4 269.5px,#00b8ff 270.5px,#0068ff 271.5px,#0025ff 272.5px,#0001ff 273.5px,#bfbfff 274.5px,#ffffff 275.5px,#ffffff 325.5px) 26px 0/2px 100% no-repeat,linear-gradient(#640000 0.5px,#710000 44.5px,#8c0000 77.5px,#b50000 104.5px,#d40000 118.5px,#fd0000 133.5px,#ff0400 135.5px,#ff4800 153.5px,#ff5900 160.5px,#ff5400 166.5px,#ff4300 173.5px,#ff2800 180.5px,#fe0000 188.5px,#850000 214.5px,#6e0000 221.5px,#680000 226.5px,#760000 236.5px,#920000 244.5px,#b80000 250.5px,#d40000 253.5px,#f70000 256.5px,#ff0700 257.5px,#ff5b00 261.5px,#ff7500 262.5px,#f9d401 265.5px,#e5f315 266.5px,#95fa5d 267.5px,#50fda1 268.5px,#14f3e7 269.5px,#00b4ff 270.5px,#0065ff 271.5px,#0022ff 272.5px,#0000ff 273.5px,#bfbfff 274.5px,#ffffff 275.5px,#ffffff 325.5px) 28px 0/2px 100% no-repeat,linear-gradient(#640000 0.5px,#710000 44.5px,#8c0000 77.5px,#9e0000 91.5px,#b70000 105.5px,#d70000 119.5px,#fc0000 133.5px,#ff0400 135.5px,#ff4700 153.5px,#ff5900 160.5px,#ff5300 166.5px,#ff4300 173.5px,#ff2800 180.5px,#fe0000 188.5px,#850000 214.5px,#6e0000 221.5px,#680000 226.5px,#760000 236.5px,#920000 244.5px,#b90000 250.5px,#d40000 253.5px,#f80000 256.5px,#ff0800 257.5px,#ff5c00 261.5px,#ff7600 262.5px,#f9d502 265.5px,#e3f417 266.5px,#91fa61 267.5px,#4dfda4 268.5px,#12f1ea 269.5px,#00b0ff 270.5px,#0061ff 271.5px,#001fff 272.5px,#0000ff 273.5px,#eaeaff 274.5px,#ffffff 275.5px,#ffffff 325.5px) 30px 0/2px 100% no-repeat,linear-gradient(#640000 0.5px,#710000 44.5px,#8c0000 77.5px,#b70000 105.5px,#d60000 119.5px,#fc0000 133.5px,#ff0400 135.5px,#ff4700 153.5px,#ff5800 160.5px,#ff5300 166.5px,#ff4200 173.5px,#ff2c00 179.5px,#fe0000 188.5px,#850000 214.5px,#6e0000 221.5px,#680000 226.5px,#760000 236.5px,#920000 244.5px,#b90000 250.5px,#d50000 253.5px,#f80000 256.5px,#ff0900 257.5px,#ff5d00 261.5px,#ff7800 262.5px,#f8d702 265.5px,#e0f519 266.5px,#8dfa65 267.5px,#4afda8 268.5px,#0ff0ec 269.5px,#00abff 270.5px,#005eff 271.5px,#001cff 272.5px,#0000ff 273.5px,#ffffff 274.5px,#ffffff 325.5px) 32px 0/2px 100% no-repeat,linear-gradient(#640000 0.5px,#710000 44.5px,#8b0000 77.5px,#b70000 105.5px,#ff0300 135.5px,#ff4600 153.5px,#ff5700 160.5px,#ff5200 166.5px,#ff4200 173.5px,#ff2b00 179.5px,#fd0000 188.5px,#850000 214.5px,#6e0000 221.5px,#680000 226.5px,#770000 236.5px,#930000 244.5px,#b90000 250.5px,#d50000 253.5px,#f90000 256.5px,#ff0a00 257.5px,#ff5e00 261.5px,#ff7a00 262.5px,#ff9b00 263.5px,#f7d903 265.5px,#dcf61c 266.5px,#88fb69 267.5px,#46fdab 268.5px,#0deeef 269.5px,#00a7ff 270.5px,#005aff 271.5px,#0019ff 272.5px,#0000ff 273.5px,#ffffff 274.5px,#ffffff 325.5px) 34px 0/2px 100% no-repeat,linear-gradient(#640000 0.5px,#710000 44.5px,#8b0000 77.5px,#b70000 105.5px,#ff0300 135.5px,#ff4500 153.5px,#ff5700 160.5px,#ff5200 166.5px,#ff4100 173.5px,#ff2600 180.5px,#ff0300 187.5px,#850000 214.5px,#6e0000 221.5px,#680000 226.5px,#770000 236.5px,#930000 244.5px,#ba0000 250.5px,#d60000 253.5px,#fa0000 256.5px,#ff0b00 257.5px,#ff1e00 258.5px,#ff6000 261.5px,#ff9d00 263.5px,#f7db03 265.5px,#d9f71f 266.5px,#84fb6d 267.5px,#43fdaf 268.5px,#0becf2 269.5px,#00a2ff 270.5px,#0056ff 271.5px,#0016ff 272.5px,#0000ff 273.5px,#ffffff 274.5px,#ffffff 325.5px) 36px 0/2px 100% no-repeat,linear-gradient(#640000 0.5px,#710000 44.5px,#8b0000 77.5px,#b60000 105.5px,#ff0200 135.5px,#ff4500 153.5px,#ff5600 160.5px,#ff5100 166.5px,#ff4000 173.5px,#ff2600 180.5px,#ff0200 187.5px,#840000 214.5px,#6e0000 221.5px,#680000 226.5px,#770000 236.5px,#930000 244.5px,#ba0000 250.5px,#d70000 253.5px,#fa0000 256.5px,#ff0c00 257.5px,#ff4a00 260.5px,#ff6100 261.5px,#ff9f00 263.5px,#f6dd04 265.5px,#d5f823 266.5px,#7ffb72 267.5px,#3ffcb3 268.5px,#09e9f4 269.5px,#009dff 270.5px,#0052ff 271.5px,#0013ff 272.5px,#0b0bff 273.5px,#ffffff 274.5px,#ffffff 325.5px) 38px 0/2px 100% no-repeat,linear-gradient(#640000 0.5px,#710000 44.5px,#8b0000 77.5px,#b60000 105.5px,#d50000 119.5px,#fd0000 134.5px,#ff0500 136.5px,#ff4400 153.5px,#ff5500 160.5px,#ff5000 166.5px,#ff3f00 173.5px,#ff2500 180.5px,#ff0200 187.5px,#840000 214.5px,#6e0000 221.5px,#680000 226.5px,#770000 236.5px,#940000 244.5px,#bb0000 250.5px,#d70000 253.5px,#fb0000 256.5px,#ff0d00 257.5px,#ff3500 259.5px,#ff6300 261.5px,#ff8000 262.5px,#fcbf00 264.5px,#f5df05 265.5px,#d1f827 266.5px,#7afb76 267.5px,#3bfcb8 268.5px,#07e5f7 269.5px,#0097ff 270.5px,#004dff 271.5px,#0010ff 272.5px,#4040ff 273.5px,#ffffff 274.5px,#ffffff 325.5px) 40px 0/2px 100% no-repeat,linear-gradient(#640000 0.5px,#710000 44.5px,#8c0000 78.5px,#b60000 105.5px,#d40000 119.5px,#fc0000 134.5px,#ff0400 136.5px,#ff4200 153.5px,#ff5300 160.5px,#ff4e00 166.5px,#ff3e00 173.5px,#ff2400 180.5px,#ff0100 187.5px,#840000 214.5px,#6e0000 221.5px,#680000 226.5px,#770000 236.5px,#940000 244.5px,#bc0000 250.5px,#d80000 253.5px,#fc0100 256.5px,#ff0e00 257.5px,#ff3700 259.5px,#ff6400 261.5px,#ff8200 262.5px,#fcc100 264.5px,#f4e106 265.5px,#cbf92c 266.5px,#75fb7b 267.5px,#37fbbd 268.5px,#05e2f9 269.5px,#0092ff 270.5px,#0048ff 271.5px,#000dff 272.5px,#4040ff 273.5px,#ffffff 274.5px,#ffffff 325.5px) 42px 0/2px 100% no-repeat,linear-gradient(#640000 0.5px,#710000 44.5px,#8c0000 78.5px,#b70000 106.5px,#ff0300 136.5px,#ff4100 153.5px,#ff5200 160.5px,#ff4d00 166.5px,#ff3d00 173.5px,#ff2700 179.5px,#ff0100 187.5px,#880000 213.5px,#710000 220.5px,#680000 226.5px,#770000 236.5px,#940000 244.5px,#bc0000 250.5px,#d90000 253.5px,#fc0100 256.5px,#ff1000 257.5px,#ff3800 259.5px,#ff6600 261.5px,#ff8400 262.5px,#fcc400 264.5px,#f3e307 265.5px,#c6fa31 266.5px,#70fc80 267.5px,#32fbc2 268.5px,#03ddfb 269.5px,#008cff 270.5px,#0043ff 271.5px,#000bff 272.5px,#4040ff 273.5px,#ffffff 274.5px,#ffffff 325.5px) 44px 0/2px 100% no-repeat,linear-gradient(#640000 0.5px,#710000 44.5px,#8c0000 78.5px,#b70000 106.5px,#ff0200 136.5px,#ff4000 153.5px,#ff5000 160.5px,#ff4c00 166.5px,#ff3c00 173.5px,#ff2600 179.5px,#fe0000 187.5px,#880000 213.5px,#710000 220.5px,#680000 226.5px,#750000 235.5px,#900000 243.5px,#b50000 249.5px,#cf0000 252.5px,#f10000 255.5px,#fd0200 256.5px,#ff1100 257.5px,#ff5000 260.5px,#ff6800 261.5px,#ff8700 262.5px,#fcc600 264.5px,#f1e609 265.5px,#bffa37 266.5px,#6bfc85 267.5px,#2efac8 268.5px,#02d8fd 269.5px,#0086ff 270.5px,#003eff 271.5px,#0008ff 272.5px,#6a6aff 273.5px,#ffffff 274.5px,#ffffff 325.5px) 46px 0/2px 100% no-repeat,linear-gradient(#640000 0.5px,#710000 44.5px,#8b0000 78.5px,#b60000 106.5px,#d50000 120.5px,#fc0000 135.5px,#ff0400 137.5px,#ff3e00 153.5px,#ff4f00 160.5px,#ff4a00 166.5px,#ff3d00 172.5px,#ff2800 178.5px,#fd0000 187.5px,#870000 213.5px,#710000 220.5px,#680000 226.5px,#750000 235.5px,#900000 243.5px,#b50000 249.5px,#d00000 252.5px,#f20000 255.5px,#fe0200 256.5px,#ff2700 258.5px,#ff6b00 261.5px,#ff8a00 262.5px,#fbc900 264.5px,#f0e90a 265.5px,#b7fa3f 266.5px,#65fc8b 267.5px,#29f9ce 268.5px,#01d2fe 269.5px,#007fff 270.5px,#0038ff 271.5px,#0006ff 272.5px,#ffffff 274.5px,#ffffff 325.5px) 48px 0/2px 100% no-repeat,linear-gradient(#640000 0.5px,#700000 44.5px,#8b0000 78.5px,#b50000 106.5px,#ff0300 137.5px,#ff3c00 153.5px,#ff4d00 160.5px,#ff4800 166.5px,#ff3b00 172.5px,#ff2300 179.5px,#ff0200 186.5px,#840000 214.5px,#6e0000 221.5px,#680000 226.5px,#760000 235.5px,#910000 243.5px,#b60000 249.5px,#d10000 252.5px,#f30000 255.5px,#fe0300 256.5px,#ff2800 258.5px,#ff6d00 261.5px,#ff8d00 262.5px,#fbcb00 264.5px,#eeec0c 265.5px,#aefa47 266.5px,#60fd90 267.5px,#23f8d4 268.5px,#00cbff 269.5px,#0079ff 270.5px,#0033ff 271.5px,#0004ff 272.5px,#ffffff 274.5px,#ffffff 325.5px) 50px 0/2px 100% no-repeat,linear-gradient(#640000 0.5px,#700000 44.5px,#8b0000 78.5px,#b50000 106.5px,#d30000 120.5px,#fd0000 136.5px,#ff0400 138.5px,#ff3a00 153.5px,#ff4a00 160.5px,#ff4600 166.5px,#ff3900 172.5px,#ff2100 179.5px,#ff0100 186.5px,#800000 215.5px,#6e0000 221.5px,#680000 226.5px,#760000 235.5px,#910000 243.5px,#b70000 249.5px,#d20000 252.5px,#f50000 255.5px,#fe0500 256.5px,#ff2a00 258.5px,#ff7000 261.5px,#ff9000 262.5px,#face00 264.5px,#ebef0e 265.5px,#a5fa4f 266.5px,#5afd96 267.5px,#1df6db 268.5px,#00c3ff 269.5px,#0071ff 270.5px,#002cff 271.5px,#0002ff 272.5px,#b5b5ff 273.5px,#ffffff 274.5px,#ffffff 325.5px) 52px 0/2px 100% no-repeat,linear-gradient(#640000 0.5px,#710000 45.5px,#8b0000 79.5px,#b60000 107.5px,#ff0300 138.5px,#ff3700 153.5px,#ff4800 160.5px,#ff4300 166.5px,#ff3700 172.5px,#ff2300 178.5px,#fe0000 186.5px,#840000 214.5px,#710000 220.5px,#680000 226.5px,#760000 235.5px,#920000 243.5px,#b80000 249.5px,#d30000 252.5px,#f60000 255.5px,#ff0600 256.5px,#ff5900 260.5px,#ff7300 261.5px,#fad201 264.5px,#e7f112 265.5px,#9bfa57 266.5px,#54fd9d 267.5px,#17f5e3 268.5px,#00baff 269.5px,#006aff 270.5px,#0026ff 271.5px,#0001ff 272.5px,#bfbfff 273.5px,#ffffff 274.5px,#ffffff 325.5px) 54px 0/2px 100% no-repeat,linear-gradient(#640000 0.5px,#700000 45.5px,#8b0000 79.5px,#b50000 107.5px,#d30000 121.5px,#fd0000 137.5px,#ff0400 139.5px,#ff3500 153.5px,#ff4500 160.5px,#ff4100 166.5px,#ff3400 172.5px,#ff2100 178.5px,#ff0200 185.5px,#850000 214.5px,#6e0000 221.5px,#690000 226.5px,#760000 235.5px,#920000 243.5px,#b90000 249.5px,#d40000 252.5px,#f70000 255.5px,#ff0800 256.5px,#ff5c00 260.5px,#ff7600 261.5px,#f9d502 264.5px,#e3f417 265.5px,#91fa60 266.5px,#4dfda4 267.5px,#12f1e9 268.5px,#00b0ff 269.5px,#0062ff 270.5px,#001fff 271.5px,#0000ff 272.5px,#dfdfff 273.5px,#ffffff 274.5px,#ffffff 325.5px) 56px 0/2px 100% no-repeat,linear-gradient(#630000 0.5px,#700000 45.5px,#8a0000 79.5px,#b40000 107.5px,#d40000 122.5px,#fe0000 138.5px,#ff0500 140.5px,#ff3500 154.5px,#ff4200 160.5px,#ff3e00 166.5px,#ff3200 172.5px,#ff1f00 178.5px,#ff0100 185.5px,#850000 214.5px,#6f0000 221.5px,#690000 226.5px,#770000 235.5px,#930000 243.5px,#ba0000 249.5px,#d60000 252.5px,#f90000 255.5px,#ff0a00 256.5px,#ff5e00 260.5px,#ff9b00 262.5px,#f7d903 264.5px,#dcf61d 265.5px,#88fb6a 266.5px,#46fdac 267.5px,#0ceef0 268.5px,#00a6ff 269.5px,#0059ff 270.5px,#0019ff 271.5px,#0000ff 272.5px,#ffffff 273.5px,#ffffff 325.5px) 58px 0/2px 100% no-repeat,linear-gradient(#630000 0.5px,#710000 46.5px,#8b0000 80.5px,#9f0000 95.5px,#b70000 109.5px,#ff0300 140.5px,#ff3200 154.5px,#ff3f00 160.5px,#ff3b00 166.5px,#ff2f00 172.5px,#fe0000 185.5px,#860000 214.5px,#710000 221.5px,#690000 226.5px,#770000 235.5px,#930000 243.5px,#bb0000 249.5px,#d70000 252.5px,#fb0000 255.5px,#ff0c00 256.5px,#ff4a00 259.5px,#ff6200 260.5px,#ff9f00 262.5px,#f6dd04 264.5px,#d4f824 265.5px,#7dfb73 266.5px,#3efcb5 267.5px,#08e8f5 268.5px,#009bff 269.5px,#0050ff 270.5px,#0012ff 271.5px,#2020ff 272.5px,#ffffff 273.5px,#ffffff 325.5px) 60px 0/2px 100% no-repeat,linear-gradient(#630000 0.5px,#700000 46.5px,#8a0000 80.5px,#b60000 109.5px,#d30000 123.5px,#fc0000 139.5px,#ff0300 141.5px,#ff2f00 154.5px,#ff3b00 160.5px,#ff3900 165.5px,#ff2e00 171.5px,#ff1d00 177.5px,#ff0100 184.5px,#870000 214.5px,#720000 221.5px,#6a0000 227.5px,#7a0000 236.5px,#940000 243.5px,#bc0000 249.5px,#d80000 252.5px,#fc0100 255.5px,#ff0f00 256.5px,#ff3700 258.5px,#ff6500 260.5px,#ff8300 261.5px,#fcc200 263.5px,#f4e206 264.5px,#c9f92e 265.5px,#73fb7d 266.5px,#35fbbf 267.5px,#04e0fa 268.5px,#0090ff 269.5px,#0047ff 270.5px,#000cff 271.5px,#4040ff 272.5px,#ffffff 273.5px,#ffffff 325.5px) 62px 0/2px 100% no-repeat,linear-gradient(#630000 0.5px,#700000 46.5px,#8b0000 81.5px,#b40000 109.5px,#d40000 124.5px,#fc0000 140.5px,#ff0400 142.5px,#ff2b00 154.5px,#ff3800 160.5px,#ff3500 165.5px,#ff2b00 171.5px,#fe0000 184.5px,#850000 215.5px,#700000 223.5px,#6d0000 229.5px,#7d0000 237.5px,#950000 243.5px,#bd0000 249.5px,#f20000 254.5px,#fd0200 255.5px,#ff1200 256.5px,#ff5100 259.5px,#ff6900 260.5px,#ff8800 261.5px,#fbc700 263.5px,#f1e709 264.5px,#bcfa39 265.5px,#69fc87 266.5px,#2cf9c9 267.5px,#02d6fd 268.5px,#0084ff 269.5px,#003cff 270.5px,#0007ff 271.5px,#7575ff 272.5px,#ffffff 273.5px,#ffffff 325.5px) 64px 0/2px 100% no-repeat,linear-gradient(#630000 0.5px,#700000 46.5px,#8a0000 81.5px,#b50000 110.5px,#d20000 124.5px,#fd0000 141.5px,#ff0400 143.5px,#ff2700 154.5px,#ff3400 160.5px,#ff3100 165.5px,#ff2700 171.5px,#ff0100 183.5px,#830000 216.5px,#700000 224.5px,#700000 231.5px,#810000 238.5px,#9b0000 244.5px,#be0000 249.5px,#f40000 254.5px,#fe0400 255.5px,#ff2900 257.5px,#ff6d00 260.5px,#ff8d00 261.5px,#fbcc00 263.5px,#eeec0c 264.5px,#acfa48 265.5px,#5ffd91 266.5px,#22f7d5 267.5px,#00caff 268.5px,#0077ff 269.5px,#0032ff 270.5px,#0004ff 271.5px,#8a8aff 272.5px,#ffffff 273.5px,#ffffff 325.5px) 66px 0/2px 100% no-repeat,linear-gradient(#630000 0.5px,#700000 47.5px,#8a0000 82.5px,#b50000 111.5px,#ff0300 144.5px,#ff2600 155.5px,#ff2f00 160.5px,#ff2300 171.5px,#ff0200 182.5px,#ed0000 188.5px,#9f0000 208.5px,#820000 217.5px,#720000 225.5px,#740000 232.5px,#810000 238.5px,#9c0000 244.5px,#c00000 249.5px,#f60000 254.5px,#ff0600 255.5px,#ff5900 259.5px,#ff7300 260.5px,#fad201 263.5px,#e8f112 264.5px,#9cfa57 265.5px,#54fd9c 266.5px,#18f5e2 267.5px,#00baff 268.5px,#006aff 269.5px,#0027ff 270.5px,#0001ff 271.5px,#bfbfff 272.5px,#ffffff 273.5px,#ffffff 325.5px) 68px 0/2px 100% no-repeat,linear-gradient(#630000 0.5px,#700000 47.5px,#890000 82.5px,#b30000 111.5px,#ff0200 145.5px,#ff2400 156.5px,#ff2b00 161.5px,#ff1f00 171.5px,#fe0000 182.5px,#840000 217.5px,#750000 225.5px,#780000 233.5px,#820000 238.5px,#9d0000 244.5px,#c20000 249.5px,#f80000 254.5px,#ff0900 255.5px,#ff5d00 259.5px,#ff7900 260.5px,#f8d802 263.5px,#dff51a 264.5px,#8bfa66 265.5px,#48fda9 266.5px,#0eefed 267.5px,#00aaff 268.5px,#005cff 269.5px,#001bff 270.5px,#0000ff 271.5px,#f4f4ff 272.5px,#ffffff 273.5px,#ffffff 325.5px) 70px 0/2px 100% no-repeat,linear-gradient(#630000 0.5px,#700000 48.5px,#8a0000 83.5px,#b30000 112.5px,#fd0000 145.5px,#ff0500 147.5px,#ff2100 157.5px,#ff2600 161.5px,#ff1d00 170.5px,#fe0000 181.5px,#8e0000 214.5px,#7d0000 221.5px,#780000 227.5px,#800000 237.5px,#940000 242.5px,#bb0000 248.5px,#d70000 251.5px,#fb0000 254.5px,#ff0d00 255.5px,#ff3500 257.5px,#ff6200 259.5px,#ff7f00 260.5px,#fcbf00 262.5px,#f5df05 263.5px,#d1f827 264.5px,#7bfb76 265.5px,#3cfcb7 266.5px,#07e6f7 267.5px,#0098ff 268.5px,#004eff 269.5px,#0011ff 270.5px,#2a2aff 271.5px,#ffffff 272.5px,#ffffff 325.5px) 72px 0/2px 100% no-repeat,linear-gradient(#630000 0.5px,#6f0000 48.5px,#890000 83.5px,#b30000 113.5px,#ff0300 148.5px,#ff1c00 157.5px,#ff2100 161.5px,#ff1900 170.5px,#fe0000 180.5px,#e40000 189.5px,#910000 214.5px,#810000 221.5px,#7c0000 227.5px,#850000 238.5px,#900000 241.5px,#b50000 247.5px,#cf0000 250.5px,#f10000 253.5px,#fd0200 254.5px,#ff1100 255.5px,#ff5000 258.5px,#ff6800 259.5px,#ff8700 260.5px,#fcc600 262.5px,#f1e609 263.5px,#befa38 264.5px,#6bfc85 265.5px,#2dfac8 266.5px,#02d8fd 267.5px,#0086ff 268.5px,#003eff 269.5px,#0008ff 270.5px,#6060ff 271.5px,#ffffff 272.5px,#ffffff 325.5px) 74px 0/2px 100% no-repeat,linear-gradient(#630000 0.5px,#6f0000 48.5px,#880000 84.5px,#b10000 113.5px,#fd0000 148.5px,#ff0400 150.5px,#ff1900 158.5px,#ff1b00 162.5px,#ff1400 170.5px,#fe0000 179.5px,#e60000 188.5px,#930000 214.5px,#850000 221.5px,#810000 227.5px,#910000 241.5px,#b70000 247.5px,#d20000 250.5px,#f40000 253.5px,#fe0400 254.5px,#ff2a00 256.5px,#ff6f00 259.5px,#ff9000 260.5px,#face00 262.5px,#ecee0e 263.5px,#a6fa4e 264.5px,#5bfd95 265.5px,#1ef6db 266.5px,#00c4ff 267.5px,#0072ff 268.5px,#002dff 269.5px,#0002ff 270.5px,#9f9fff 271.5px,#ffffff 272.5px,#ffffff 325.5px) 76px 0/2px 100% no-repeat,linear-gradient(#630000 0.5px,#6f0000 49.5px,#880000 85.5px,#b20000 115.5px,#ff0200 151.5px,#ff1300 158.5px,#ff1600 161.5px,#ff1100 169.5px,#fe0000 178.5px,#e40000 188.5px,#990000 213.5px,#8a0000 220.5px,#860000 226.5px,#980000 242.5px,#c20000 248.5px,#f80000 253.5px,#ff0900 254.5px,#ff5d00 258.5px,#ff7800 259.5px,#f8d702 262.5px,#e0f519 263.5px,#8dfa64 264.5px,#4afda7 265.5px,#10f0ec 266.5px,#00acff 267.5px,#005eff 268.5px,#001dff 269.5px,#0000ff 270.5px,#eaeaff 271.5px,#ffffff 272.5px,#ffffff 325.5px) 78px 0/2px 100% no-repeat,linear-gradient(#630000 0.5px,#6e0000 49.5px,#880000 86.5px,#b20000 116.5px,#ff0200 153.5px,#ff0f00 159.5px,#ff1000 162.5px,#ff0d00 168.5px,#fe0000 176.5px,#e60000 187.5px,#9c0000 213.5px,#8f0000 220.5px,#8b0000 226.5px,#a10000 243.5px,#bc0000 247.5px,#ef0000 252.5px,#fc0100 253.5px,#ff0e00 254.5px,#ff4d00 257.5px,#ff8200 259.5px,#fcc100 261.5px,#f4e106 262.5px,#ccf92c 263.5px,#76fb7b 264.5px,#37fbbc 265.5px,#05e2f9 266.5px,#0092ff 267.5px,#0049ff 268.5px,#000eff 269.5px,#3535ff 270.5px,#ffffff 271.5px,#ffffff 325.5px) 80px 0/2px 100% no-repeat,linear-gradient(#620000 0.5px,#6e0000 50.5px,#880000 87.5px,#af0000 116.5px,#fc0000 153.5px,#ff0300 156.5px,#ff0a00 159.5px,#ff0a00 163.5px,#fd0000 175.5px,#e60000 186.5px,#a00000 213.5px,#940000 220.5px,#920000 226.5px,#af0000 245.5px,#d10000 249.5px,#f40000 252.5px,#fe0400 253.5px,#ff2900 255.5px,#ff6d00 258.5px,#ff8d00 259.5px,#fbcc00 261.5px,#eeec0c 262.5px,#adfa47 263.5px,#60fd90 264.5px,#23f7d5 265.5px,#00caff 266.5px,#0078ff 267.5px,#0032ff 268.5px,#0004ff 269.5px,#9595ff 270.5px,#ffffff 271.5px,#ffffff 325.5px) 82px 0/2px 100% no-repeat,linear-gradient(#620000 0.5px,#6e0000 51.5px,#870000 88.5px,#b00000 118.5px,#ff0200 158.5px,#ff0500 163.5px,#ff0100 170.5px,#f80000 176.5px,#e50000 186.5px,#a60000 212.5px,#9a0000 220.5px,#990000 226.5px,#bb0000 246.5px,#d50000 249.5px,#f80000 252.5px,#ff0900 253.5px,#ff5d00 257.5px,#ff7800 258.5px,#f8d803 261.5px,#dff51a 262.5px,#8cfb66 263.5px,#49fda9 264.5px,#0fefed 265.5px,#00aaff 266.5px,#005dff 267.5px,#001cff 268.5px,#0000ff 269.5px,#eaeaff 270.5px,#ffffff 271.5px,#ffffff 325.5px) 84px 0/2px 100% no-repeat,linear-gradient(#620000 0.5px,#6e0000 51.5px,#860000 88.5px,#ad0000 118.5px,#fd0000 160.5px,#fc0000 168.5px,#f30000 177.5px,#aa0000 212.5px,#a10000 219.5px,#9f0000 225.5px,#b10000 236.5px,#c90000 247.5px,#cf0000 248.5px,#f10000 251.5px,#fd0200 252.5px,#ff1100 253.5px,#ff5000 256.5px,#ff6800 257.5px,#ff8600 258.5px,#fcc500 260.5px,#f2e508 261.5px,#c1fa36 262.5px,#6dfc83 263.5px,#2ffac6 264.5px,#03dafc 265.5px,#0088ff 266.5px,#0040ff 267.5px,#0009ff 268.5px,#6060ff 269.5px,#ffffff 270.5px,#ffffff 325.5px) 86px 0/2px 100% no-repeat,linear-gradient(#620000 0.5px,#6d0000 51.5px,#850000 89.5px,#ab0000 119.5px,#f90000 160.5px,#f80000 168.5px,#f00000 177.5px,#b00000 211.5px,#a80000 218.5px,#a70000 224.5px,#ba0000 235.5px,#d90000 248.5px,#df0000 249.5px,#f70000 251.5px,#ff0700 252.5px,#ff5a00 256.5px,#ff7500 257.5px,#f9d402 260.5px,#e4f215 261.5px,#96fa5c 262.5px,#50fda1 263.5px,#15f2e6 264.5px,#00b5ff 265.5px,#0066ff 266.5px,#0023ff 267.5px,#0001ff 268.5px,#cacaff 269.5px,#ffffff 270.5px,#ffffff 325.5px) 88px 0/2px 100% no-repeat,linear-gradient(#620000 0.5px,#6d0000 51.5px,#840000 89.5px,#a80000 119.5px,#f40000 160.5px,#f40000 168.5px,#ed0000 177.5px,#b80000 209.5px,#af0000 221.5px,#b20000 226.5px,#c30000 234.5px,#e00000 245.5px,#f20000 250.5px,#fc0200 251.5px,#ff1000 252.5px,#ff4f00 255.5px,#ff6700 256.5px,#ff8500 257.5px,#fcc400 259.5px,#f2e408 260.5px,#c3f934 261.5px,#6ffc81 262.5px,#31fac4 263.5px,#03dbfb 264.5px,#008aff 265.5px,#0042ff 266.5px,#000aff 267.5px,#5555ff 268.5px,#ffffff 269.5px,#ffffff 325.5px) 90px 0/2px 100% no-repeat,linear-gradient(#620000 0.5px,#6c0000 52.5px,#830000 90.5px,#a70000 120.5px,#f00000 161.5px,#eb0000 177.5px,#bd0000 209.5px,#b80000 222.5px,#bc0000 226.5px,#ca0000 232.5px,#f90000 248.5px,#ff0a00 251.5px,#ff3000 253.5px,#ff5c00 255.5px,#ff7700 256.5px,#ff9800 257.5px,#f8d602 259.5px,#e0f419 260.5px,#8ffa63 261.5px,#4bfda6 262.5px,#11efea 263.5px,#00adff 264.5px,#005fff 265.5px,#001eff 266.5px,#0b0bff 267.5px,#dfdfff 268.5px,#ffffff 269.5px,#ffffff 325.5px) 92px 0/2px 100% no-repeat,linear-gradient(#620000 0.5px,#6c0000 52.5px,#820000 91.5px,#a50000 121.5px,#eb0000 161.5px,#e90000 176.5px,#c40000 208.5px,#c10000 221.5px,#cc0000 228.5px,#f90000 243.5px,#ff0b00 247.5px,#ff2000 251.5px,#ff2900 252.5px,#ff5400 254.5px,#ff6d00 255.5px,#ff8d00 256.5px,#fbcb00 258.5px,#edeb0d 259.5px,#affa46 260.5px,#61fd8f 261.5px,#24f7d3 262.5px,#01cbfe 263.5px,#007aff 264.5px,#0034ff 265.5px,#0005ff 266.5px,#8a8aff 267.5px,#ffffff 268.5px,#ffffff 325.5px) 94px 0/2px 100% no-repeat,linear-gradient(#620000 0.5px,#6b0000 53.5px,#800000 91.5px,#a20000 121.5px,#e20000 157.5px,#e70000 162.5px,#e60000 176.5px,#cb0000 206.5px,#ca0000 219.5px,#d30000 226.5px,#f80000 238.5px,#ff0a00 242.5px,#ff4100 252.5px,#ff4e00 253.5px,#ff6500 254.5px,#ff8300 255.5px,#fcc300 257.5px,#f3e207 258.5px,#c7f930 259.5px,#73fc7d 260.5px,#35fac0 261.5px,#05def8 262.5px,#008fff 263.5px,#0046ff 264.5px,#000dff 265.5px,#4040ff 266.5px,#ffffff 267.5px,#ffffff 325.5px) 96px 0/2px 100% no-repeat,linear-gradient(#610000 0.5px,#690000 48.5px,#790000 83.5px,#880000 102.5px,#9c0000 119.5px,#e10000 160.5px,#e40000 176.5px,#d30000 203.5px,#d10000 214.5px,#db0000 224.5px,#fa0000 234.5px,#ff0800 237.5px,#ff1700 240.5px,#ff5f00 252.5px,#ff6700 253.5px,#ff7d00 254.5px,#ff9e00 255.5px,#f6dc04 257.5px,#d4f624 258.5px,#82fb6f 259.5px,#40fcb2 260.5px,#0be7f2 261.5px,#009fff 262.5px,#0053ff 263.5px,#0016ff 264.5px,#2a2bff 265.5px,#eaeaff 266.5px,#ffffff 267.5px,#ffffff 325.5px) 98px 0/2px 100% no-repeat,linear-gradient(#610000 0.5px,#690000 49.5px,#790000 86.5px,#9b0000 121.5px,#dd0000 160.5px,#e20000 175.5px,#d90000 211.5px,#e20000 221.5px,#f80000 229.5px,#ff0a00 233.5px,#ff4100 243.5px,#ff7200 250.5px,#ff8e00 253.5px,#ff9d00 254.5px,#f7d904 256.5px,#d9f51f 257.5px,#89fb69 258.5px,#46fcac 259.5px,#0febed 260.5px,#00a6ff 261.5px,#005aff 262.5px,#001aff 263.5px,#2021ff 264.5px,#dfdfff 265.5px,#ffffff 266.5px,#ffffff 325.5px) 100px 0/2px 100% no-repeat,linear-gradient(#610000 0.5px,#690000 52.5px,#7a0000 90.5px,#9b0000 123.5px,#d90000 160.5px,#e10000 175.5px,#e00000 208.5px,#e80000 217.5px,#f90000 225.5px,#ff0b00 229.5px,#ff3d00 238.5px,#ff6c00 245.5px,#ff9b00 250.5px,#fcc100 254.5px,#f6da04 255.5px,#d7f521 256.5px,#87fb6a 257.5px,#44fcae 258.5px,#0ee9ed 259.5px,#00a4ff 260.5px,#0058ff 261.5px,#001aff 262.5px,#2021ff 263.5px,#dfdfff 264.5px,#ffffff 265.5px,#ffffff 325.5px) 102px 0/2px 100% no-repeat,linear-gradient(#610000 0.5px,#690000 55.5px,#7b0000 94.5px,#9b0000 126.5px,#d60000 160.5px,#df0000 174.5px,#e60000 205.5px,#fa0000 220.5px,#ff0c00 225.5px,#ff3800 233.5px,#ff6500 240.5px,#ff9c00 246.5px,#fbcb00 251.5px,#f0e80a 254.5px,#ccf62b 255.5px,#7cfb75 256.5px,#3bfbb9 257.5px,#0ae1f3 258.5px,#0098ff 259.5px,#004dff 260.5px,#0013ff 261.5px,#4040ff 262.5px,#eaeaff 263.5px,#ffffff 264.5px,#ffffff 325.5px) 104px 0/2px 100% no-repeat,linear-gradient(#610000 0.5px,#690000 57.5px,#7c0000 98.5px,#9b0000 128.5px,#d20000 160.5px,#dd0000 173.5px,#eb0000 201.5px,#fb0000 214.5px,#ff0900 219.5px,#ff2600 226.5px,#ff6500 236.5px,#ff9c00 242.5px,#f9d402 248.5px,#f0e80a 250.5px,#e5f115 251.5px,#a7fa4d 254.5px,#67fc89 255.5px,#2af7cd 256.5px,#05cefa 257.5px,#0081ff 258.5px,#003aff 259.5px,#000aff 260.5px,#6a6aff 261.5px,#ffffff 262.5px,#ffffff 325.5px) 106px 0/2px 100% no-repeat,linear-gradient(#610000 0.5px,#690000 60.5px,#7d0000 102.5px,#9b0000 130.5px,#cf0000 160.5px,#ee0000 197.5px,#fd0100 209.5px,#ff1400 217.5px,#ff3700 225.5px,#ff6b00 233.5px,#ff9a00 238.5px,#f9d202 244.5px,#f1e709 246.5px,#e7ef12 247.5px,#d7f621 248.5px,#c0f936 249.5px,#87fb6a 251.5px,#72fc7f 252.5px,#6afc86 253.5px,#4afba8 254.5px,#15eae6 255.5px,#01adfe 256.5px,#0060ff 257.5px,#0021ff 258.5px,#2023ff 259.5px,#bfbfff 260.5px,#ffffff 261.5px,#ffffff 325.5px) 108px 0/2px 100% no-repeat,linear-gradient(#610000 0.5px,#690000 62.5px,#7d0000 105.5px,#990000 131.5px,#ce0000 161.5px,#fd0000 203.5px,#ff1500 212.5px,#ff3d00 222.5px,#ff6800 229.5px,#ffa000 235.5px,#facf01 240.5px,#eced0e 243.5px,#def41b 244.5px,#c9f82e 245.5px,#76fb7a 248.5px,#4bfda6 250.5px,#3efcb4 251.5px,#3cfcb7 252.5px,#26f5d2 253.5px,#05c9f9 254.5px,#007dff 255.5px,#0037ff 256.5px,#0b15ff 257.5px,#8a8aff 258.5px,#f4f4ff 259.5px,#ffffff 260.5px,#ffffff 325.5px) 110px 0/2px 100% no-repeat,linear-gradient(#600000 0.5px,#690000 65.5px,#7d0000 108.5px,#960000 131.5px,#ca0000 160.5px,#fc0000 198.5px,#ff0400 201.5px,#ff1700 208.5px,#ff3e00 218.5px,#ff6500 225.5px,#ff9b00 231.5px,#f9d301 237.5px,#f0e80a 239.5px,#e7f113 240.5px,#d6f722 241.5px,#bdfa39 242.5px,#84fb6d 244.5px,#6cfc85 245.5px,#2cf9ca 248.5px,#19f5e1 249.5px,#11f3ea 250.5px,#11f2eb 251.5px,#09d5f4 252.5px,#008fff 253.5px,#0046ff 254.5px,#0013ff 255.5px,#6a6bff 256.5px,#dfdfff 257.5px,#ffffff 258.5px,#ffffff 325.5px) 112px 0/2px 100% no-repeat,linear-gradient(#600000 0.5px,#690000 67.5px,#7d0000 110.5px,#980000 134.5px,#c80000 160.5px,#fe0000 195.5px,#ff1b00 205.5px,#ff4200 215.5px,#ff6900 222.5px,#ff9d00 228.5px,#f9d602 234.5px,#efea0b 236.5px,#e4f315 237.5px,#d2f826 238.5px,#7dfb73 241.5px,#51fda0 243.5px,#27f8d0 245.5px,#14f1e7 246.5px,#07e1f7 247.5px,#01d2fe 248.5px,#00c7ff 250.5px,#0094ff 251.5px,#004bff 252.5px,#0016ff 253.5px,#6061ff 254.5px,#dfdfff 255.5px,#ffffff 256.5px,#ffffff 325.5px) 114px 0/2px 100% no-repeat,linear-gradient(#600000 0.5px,#680000 70.5px,#7c0000 112.5px,#9a0000 137.5px,#fe0000 192.5px,#ff1d00 202.5px,#ff4500 212.5px,#ff6b00 219.5px,#ff9e00 225.5px,#f9d602 231.5px,#efea0b 233.5px,#e5f314 234.5px,#d3f825 235.5px,#7dfb73 238.5px,#3dfcb6 241.5px,#13f2e8 243.5px,#06e2f8 244.5px,#00c9fe 245.5px,#00aaff 246.5px,#009aff 247.5px,#0099ff 248.5px,#0084ff 249.5px,#0048ff 250.5px,#0b20ff 251.5px,#6061ff 252.5px,#dfdfff 253.5px,#ffffff 254.5px,#ffffff 325.5px) 116px 0/2px 100% no-repeat,linear-gradient(#600000 0.5px,#680000 71.5px,#700000 95.5px,#7b0000 113.5px,#9b0000 139.5px,#fe0000 190.5px,#ff2000 200.5px,#ff4a00 210.5px,#ff6b00 216.5px,#ff9d00 222.5px,#fad201 228.5px,#eaf110 231.5px,#daf71f 232.5px,#84fb6d 235.5px,#58fd98 237.5px,#2efac8 239.5px,#19f5e1 240.5px,#08e9f5 241.5px,#01d2fe 242.5px,#0092ff 244.5px,#0077ff 245.5px,#0068ff 247.5px,#003fff 248.5px,#0b1cff 249.5px,#7576ff 250.5px,#dfdfff 251.5px,#ffffff 252.5px,#ffffff 325.5px) 118px 0/2px 100% no-repeat,linear-gradient(#600000 0.5px,#670000 73.5px,#6f0000 96.5px,#7a0000 114.5px,#890000 128.5px,#9d0000 141.5px,#fd0000 188.5px,#ff2100 198.5px,#ff4e00 208.5px,#ff7000 214.5px,#ffa200 220.5px,#f9d601 226.5px,#e6f414 229.5px,#d3f925 230.5px,#7bfb76 233.5px,#50fea0 235.5px,#26f8d1 237.5px,#11f2ea 238.5px,#04e3fa 239.5px,#00c7ff 240.5px,#0067ff 243.5px,#0050ff 244.5px,#004aff 245.5px,#0032ff 246.5px,#1523ff 247.5px,#8080ff 248.5px,#f4f4ff 249.5px,#ffffff 250.5px,#ffffff 325.5px) 120px 0/2px 100% no-repeat,linear-gradient(#600000 0.5px,#670000 75.5px,#6e0000 98.5px,#790000 115.5px,#880000 129.5px,#9e0000 143.5px,#fe0000 187.5px,#ff2000 196.5px,#ff4e00 206.5px,#ff7100 212.5px,#ffa300 218.5px,#f9d701 224.5px,#e7f413 227.5px,#d3f925 228.5px,#7afb76 231.5px,#50fea0 233.5px,#26f8d1 235.5px,#11f3eb 236.5px,#03e4fb 237.5px,#0049ff 242.5px,#0032ff 243.5px,#0026ff 244.5px,#0b16ff 245.5px,#8080ff 246.5px,#f4f4ff 247.5px,#ffffff 248.5px,#ffffff 325.5px) 122px 0/2px 100% no-repeat,linear-gradient(#600000 0.5px,#670000 77.5px,#6e0000 99.5px,#780000 116.5px,#880000 130.5px,#9e0000 144.5px,#d80000 171.5px,#fd0000 186.5px,#ff2100 195.5px,#ff5100 205.5px,#ff6e00 210.5px,#ffa100 216.5px,#fad400 222.5px,#ebf10f 225.5px,#def91b 226.5px,#84fa6d 229.5px,#44fead 232.5px,#19f5e0 234.5px,#06edf7 235.5px,#00d5ff 236.5px,#0037ff 241.5px,#001dff 242.5px,#000dff 243.5px,#6a6bff 244.5px,#eaeaff 245.5px,#ffffff 246.5px,#ffffff 325.5px) 124px 0/2px 100% no-repeat,linear-gradient(#600000 0.5px,#660000 79.5px,#6d0000 100.5px,#780000 117.5px,#880000 132.5px,#a00000 146.5px,#d60000 171.5px,#fe0000 186.5px,#ff2d00 197.5px,#ff6800 208.5px,#fad500 221.5px,#eaf310 224.5px,#dcf91d 225.5px,#80fa70 228.5px,#56fe9a 230.5px,#2cf9c9 232.5px,#04ecfa 234.5px,#00d1ff 235.5px,#008fff 237.5px,#0015ff 241.5px,#0004ff 242.5px,#8a8aff 243.5px,#ffffff 244.5px,#ffffff 325.5px) 126px 0/2px 100% no-repeat,linear-gradient(#600000 0.5px,#650000 79.5px,#6b0000 100.5px,#760000 117.5px,#860000 132.5px,#9f0000 147.5px,#d20000 170.5px,#fd0000 186.5px,#ff0900 189.5px,#ff2d00 197.5px,#ff6b00 208.5px,#fea700 215.5px,#f8db02 221.5px,#e4f816 224.5px,#c9fa2e 225.5px,#8afa67 227.5px,#49fea7 230.5px,#09f2f4 233.5px,#00ddff 234.5px,#007bff 237.5px,#0005ff 241.5px,#6060ff 242.5px,#ffffff 243.5px,#ffffff 325.5px) 128px 0/2px 100% no-repeat,linear-gradient(#600000 0.5px,#650000 80.5px,#6c0000 101.5px,#760000 118.5px,#870000 133.5px,#a00000 148.5px,#d10000 170.5px,#ff0100 187.5px,#ff3200 198.5px,#ff6b00 208.5px,#fea700 215.5px,#f7dc03 221.5px,#e3f917 224.5px,#88fa68 227.5px,#48fea9 230.5px,#08f1f5 233.5px,#00dbff 234.5px,#007aff 237.5px,#001eff 240.5px,#0004ff 241.5px,#6a6aff 242.5px,#ffffff 243.5px,#ffffff 325.5px) 130px 0/3px 100% no-repeat,linear-gradient(#600000 0.5px,#660000 79.5px,#6d0000 100.5px,#780000 117.5px,#880000 132.5px,#a00000 146.5px,#d60000 171.5px,#fe0000 186.5px,#ff2d00 197.5px,#ff6800 208.5px,#fad500 221.5px,#eaf310 224.5px,#dcf91d 225.5px,#80fa70 228.5px,#56fe9a 230.5px,#2cf9c9 232.5px,#04ecfa 234.5px,#00d1ff 235.5px,#008fff 237.5px,#0015ff 241.5px,#0004ff 242.5px,#8a8aff 243.5px,#ffffff 244.5px,#ffffff 325.5px) 133px 0/2px 100% no-repeat,linear-gradient(#600000 0.5px,#670000 77.5px,#6e0000 99.5px,#780000 116.5px,#880000 130.5px,#9e0000 144.5px,#d80000 171.5px,#fd0000 186.5px,#ff2100 195.5px,#ff5100 205.5px,#ff6e00 210.5px,#ffa100 216.5px,#fad400 222.5px,#ebf10f 225.5px,#def91b 226.5px,#84fa6d 229.5px,#44fead 232.5px,#19f5e0 234.5px,#06edf7 235.5px,#00d5ff 236.5px,#0037ff 241.5px,#001dff 242.5px,#000dff 243.5px,#6a6bff 244.5px,#eaeaff 245.5px,#ffffff 246.5px,#ffffff 325.5px) 135px 0/2px 100% no-repeat,linear-gradient(#600000 0.5px,#670000 75.5px,#6e0000 98.5px,#790000 115.5px,#880000 129.5px,#9e0000 143.5px,#fe0000 187.5px,#ff2000 196.5px,#ff4e00 206.5px,#ff7100 212.5px,#ffa300 218.5px,#f9d701 224.5px,#e7f413 227.5px,#d3f925 228.5px,#7afb76 231.5px,#50fea0 233.5px,#26f8d1 235.5px,#11f3eb 236.5px,#03e4fb 237.5px,#0049ff 242.5px,#0032ff 243.5px,#0026ff 244.5px,#0b16ff 245.5px,#8080ff 246.5px,#f4f4ff 247.5px,#ffffff 248.5px,#ffffff 325.5px) 137px 0/2px 100% no-repeat,linear-gradient(#600000 0.5px,#670000 73.5px,#6f0000 96.5px,#7a0000 114.5px,#890000 128.5px,#9d0000 141.5px,#fd0000 188.5px,#ff2100 198.5px,#ff4e00 208.5px,#ff7000 214.5px,#ffa200 220.5px,#f9d601 226.5px,#e6f414 229.5px,#d3f925 230.5px,#7bfb76 233.5px,#50fea0 235.5px,#26f8d1 237.5px,#11f2ea 238.5px,#04e3fa 239.5px,#00c7ff 240.5px,#0067ff 243.5px,#0050ff 244.5px,#004aff 245.5px,#0032ff 246.5px,#1523ff 247.5px,#8080ff 248.5px,#f4f4ff 249.5px,#ffffff 250.5px,#ffffff 325.5px) 139px 0/2px 100% no-repeat,linear-gradient(#600000 0.5px,#680000 71.5px,#700000 95.5px,#7b0000 113.5px,#9b0000 139.5px,#fe0000 190.5px,#ff2000 200.5px,#ff4a00 210.5px,#ff6b00 216.5px,#ff9d00 222.5px,#fad201 228.5px,#eaf110 231.5px,#daf71f 232.5px,#84fb6d 235.5px,#58fd98 237.5px,#2efac8 239.5px,#19f5e1 240.5px,#08e9f5 241.5px,#01d2fe 242.5px,#0092ff 244.5px,#0077ff 245.5px,#0068ff 247.5px,#003fff 248.5px,#0b1cff 249.5px,#7576ff 250.5px,#dfdfff 251.5px,#ffffff 252.5px,#ffffff 325.5px) 141px 0/2px 100% no-repeat,linear-gradient(#600000 0.5px,#680000 70.5px,#7c0000 112.5px,#9a0000 137.5px,#fe0000 192.5px,#ff1d00 202.5px,#ff4500 212.5px,#ff6b00 219.5px,#ff9e00 225.5px,#f9d602 231.5px,#efea0b 233.5px,#e5f314 234.5px,#d3f825 235.5px,#7dfb73 238.5px,#3dfcb6 241.5px,#13f2e8 243.5px,#06e2f8 244.5px,#00c9fe 245.5px,#00aaff 246.5px,#009aff 247.5px,#0099ff 248.5px,#0084ff 249.5px,#0048ff 250.5px,#0b20ff 251.5px,#6061ff 252.5px,#dfdfff 253.5px,#ffffff 254.5px,#ffffff 325.5px) 143px 0/2px 100% no-repeat,linear-gradient(#600000 0.5px,#690000 67.5px,#7d0000 110.5px,#980000 134.5px,#c80000 160.5px,#fe0000 195.5px,#ff1b00 205.5px,#ff4200 215.5px,#ff6900 222.5px,#ff9d00 228.5px,#f9d602 234.5px,#efea0b 236.5px,#e4f315 237.5px,#d2f826 238.5px,#7dfb73 241.5px,#51fda0 243.5px,#27f8d0 245.5px,#14f1e7 246.5px,#07e1f7 247.5px,#01d2fe 248.5px,#00c7ff 250.5px,#0094ff 251.5px,#004bff 252.5px,#0016ff 253.5px,#6061ff 254.5px,#dfdfff 255.5px,#ffffff 256.5px,#ffffff 325.5px) 145px 0/2px 100% no-repeat,linear-gradient(#600000 0.5px,#690000 65.5px,#7d0000 108.5px,#960000 131.5px,#ca0000 160.5px,#fc0000 198.5px,#ff0400 201.5px,#ff1700 208.5px,#ff3e00 218.5px,#ff6500 225.5px,#ff9b00 231.5px,#f9d301 237.5px,#f0e80a 239.5px,#e7f113 240.5px,#d6f722 241.5px,#bdfa39 242.5px,#84fb6d 244.5px,#6cfc85 245.5px,#2cf9ca 248.5px,#19f5e1 249.5px,#11f3ea 250.5px,#11f2eb 251.5px,#09d5f4 252.5px,#008fff 253.5px,#0046ff 254.5px,#0013ff 255.5px,#6a6bff 256.5px,#dfdfff 257.5px,#ffffff 258.5px,#ffffff 325.5px) 147px 0/2px 100% no-repeat,linear-gradient(#610000 0.5px,#690000 62.5px,#7d0000 105.5px,#990000 131.5px,#ce0000 161.5px,#fd0000 203.5px,#ff1500 212.5px,#ff3d00 222.5px,#ff6800 229.5px,#ffa000 235.5px,#facf01 240.5px,#eced0e 243.5px,#def41b 244.5px,#c9f82e 245.5px,#76fb7a 248.5px,#4bfda6 250.5px,#3efcb4 251.5px,#3cfcb7 252.5px,#26f5d2 253.5px,#05c9f9 254.5px,#007dff 255.5px,#0037ff 256.5px,#0b15ff 257.5px,#8a8aff 258.5px,#f4f4ff 259.5px,#ffffff 260.5px,#ffffff 325.5px) 149px 0/2px 100% no-repeat,linear-gradient(#610000 0.5px,#690000 60.5px,#7d0000 102.5px,#9b0000 130.5px,#cf0000 160.5px,#ee0000 197.5px,#fd0100 209.5px,#ff1400 217.5px,#ff3700 225.5px,#ff6b00 233.5px,#ff9a00 238.5px,#f9d202 244.5px,#f1e709 246.5px,#e7ef12 247.5px,#d7f621 248.5px,#c0f936 249.5px,#87fb6a 251.5px,#72fc7f 252.5px,#6afc86 253.5px,#4afba8 254.5px,#15eae6 255.5px,#01adfe 256.5px,#0060ff 257.5px,#0021ff 258.5px,#2023ff 259.5px,#bfbfff 260.5px,#ffffff 261.5px,#ffffff 325.5px) 151px 0/2px 100% no-repeat,linear-gradient(#610000 0.5px,#690000 57.5px,#7c0000 98.5px,#9b0000 128.5px,#d20000 160.5px,#dd0000 173.5px,#eb0000 201.5px,#fb0000 214.5px,#ff0900 219.5px,#ff2600 226.5px,#ff6500 236.5px,#ff9c00 242.5px,#f9d402 248.5px,#f0e80a 250.5px,#e5f115 251.5px,#a7fa4d 254.5px,#67fc89 255.5px,#2af7cd 256.5px,#05cefa 257.5px,#0081ff 258.5px,#003aff 259.5px,#000aff 260.5px,#6a6aff 261.5px,#ffffff 262.5px,#ffffff 325.5px) 153px 0/2px 100% no-repeat,linear-gradient(#610000 0.5px,#690000 55.5px,#7b0000 94.5px,#9b0000 126.5px,#d60000 160.5px,#df0000 174.5px,#e60000 205.5px,#fa0000 220.5px,#ff0c00 225.5px,#ff3800 233.5px,#ff6500 240.5px,#ff9c00 246.5px,#fbcb00 251.5px,#f0e80a 254.5px,#ccf62b 255.5px,#7cfb75 256.5px,#3bfbb9 257.5px,#0ae1f3 258.5px,#0098ff 259.5px,#004dff 260.5px,#0013ff 261.5px,#4040ff 262.5px,#eaeaff 263.5px,#ffffff 264.5px,#ffffff 325.5px) 155px 0/2px 100% no-repeat,linear-gradient(#610000 0.5px,#690000 52.5px,#7a0000 90.5px,#9b0000 123.5px,#d90000 160.5px,#e10000 175.5px,#e00000 208.5px,#e80000 217.5px,#f90000 225.5px,#ff0b00 229.5px,#ff3d00 238.5px,#ff6c00 245.5px,#ff9b00 250.5px,#fcc100 254.5px,#f6da04 255.5px,#d7f521 256.5px,#87fb6a 257.5px,#44fcae 258.5px,#0ee9ed 259.5px,#00a4ff 260.5px,#0058ff 261.5px,#001aff 262.5px,#2021ff 263.5px,#dfdfff 264.5px,#ffffff 265.5px,#ffffff 325.5px) 157px 0/2px 100% no-repeat,linear-gradient(#610000 0.5px,#690000 49.5px,#790000 86.5px,#9b0000 121.5px,#dd0000 160.5px,#e20000 175.5px,#d90000 211.5px,#e20000 221.5px,#f80000 229.5px,#ff0a00 233.5px,#ff4100 243.5px,#ff7200 250.5px,#ff8e00 253.5px,#ff9d00 254.5px,#f7d904 256.5px,#d9f51f 257.5px,#89fb69 258.5px,#46fcac 259.5px,#0febed 260.5px,#00a6ff 261.5px,#005aff 262.5px,#001aff 263.5px,#2021ff 264.5px,#dfdfff 265.5px,#ffffff 266.5px,#ffffff 325.5px) 159px 0/2px 100% no-repeat,linear-gradient(#610000 0.5px,#690000 48.5px,#790000 83.5px,#880000 102.5px,#9c0000 119.5px,#e10000 160.5px,#e40000 176.5px,#d30000 203.5px,#d10000 214.5px,#db0000 224.5px,#fa0000 234.5px,#ff0800 237.5px,#ff1700 240.5px,#ff5f00 252.5px,#ff6700 253.5px,#ff7d00 254.5px,#ff9e00 255.5px,#f6dc04 257.5px,#d4f624 258.5px,#82fb6f 259.5px,#40fcb2 260.5px,#0be7f2 261.5px,#009fff 262.5px,#0053ff 263.5px,#0016ff 264.5px,#2a2bff 265.5px,#eaeaff 266.5px,#ffffff 267.5px,#ffffff 325.5px) 161px 0/2px 100% no-repeat,linear-gradient(#620000 0.5px,#6b0000 53.5px,#800000 91.5px,#a20000 121.5px,#e20000 157.5px,#e70000 162.5px,#e60000 176.5px,#cb0000 206.5px,#ca0000 219.5px,#d30000 226.5px,#f80000 238.5px,#ff0a00 242.5px,#ff4100 252.5px,#ff4e00 253.5px,#ff6500 254.5px,#ff8300 255.5px,#fcc300 257.5px,#f3e207 258.5px,#c7f930 259.5px,#73fc7d 260.5px,#35fac0 261.5px,#05def8 262.5px,#008fff 263.5px,#0046ff 264.5px,#000dff 265.5px,#4040ff 266.5px,#ffffff 267.5px,#ffffff 325.5px) 163px 0/2px 100% no-repeat,linear-gradient(#620000 0.5px,#6c0000 52.5px,#820000 91.5px,#a50000 121.5px,#eb0000 161.5px,#e90000 176.5px,#c40000 208.5px,#c10000 221.5px,#cc0000 228.5px,#f90000 243.5px,#ff0b00 247.5px,#ff2000 251.5px,#ff2900 252.5px,#ff5400 254.5px,#ff6d00 255.5px,#ff8d00 256.5px,#fbcb00 258.5px,#edeb0d 259.5px,#affa46 260.5px,#61fd8f 261.5px,#24f7d3 262.5px,#01cbfe 263.5px,#007aff 264.5px,#0034ff 265.5px,#0005ff 266.5px,#8a8aff 267.5px,#ffffff 268.5px,#ffffff 325.5px) 165px 0/2px 100% no-repeat,linear-gradient(#620000 0.5px,#6c0000 52.5px,#830000 90.5px,#a70000 120.5px,#f00000 161.5px,#eb0000 177.5px,#bd0000 209.5px,#b80000 222.5px,#bc0000 226.5px,#ca0000 232.5px,#f90000 248.5px,#ff0a00 251.5px,#ff3000 253.5px,#ff5c00 255.5px,#ff7700 256.5px,#ff9800 257.5px,#f8d602 259.5px,#e0f419 260.5px,#8ffa63 261.5px,#4bfda6 262.5px,#11efea 263.5px,#00adff 264.5px,#005fff 265.5px,#001eff 266.5px,#0b0bff 267.5px,#dfdfff 268.5px,#ffffff 269.5px,#ffffff 325.5px) 167px 0/2px 100% no-repeat,linear-gradient(#620000 0.5px,#6d0000 51.5px,#840000 89.5px,#a80000 119.5px,#f40000 160.5px,#f40000 168.5px,#ed0000 177.5px,#b80000 209.5px,#af0000 221.5px,#b20000 226.5px,#c30000 234.5px,#e00000 245.5px,#f20000 250.5px,#fc0200 251.5px,#ff1000 252.5px,#ff4f00 255.5px,#ff6700 256.5px,#ff8500 257.5px,#fcc400 259.5px,#f2e408 260.5px,#c3f934 261.5px,#6ffc81 262.5px,#31fac4 263.5px,#03dbfb 264.5px,#008aff 265.5px,#0042ff 266.5px,#000aff 267.5px,#5555ff 268.5px,#ffffff 269.5px,#ffffff 325.5px) 169px 0/2px 100% no-repeat,linear-gradient(#620000 0.5px,#6d0000 51.5px,#850000 89.5px,#ab0000 119.5px,#f90000 160.5px,#f80000 168.5px,#f00000 177.5px,#b00000 211.5px,#a80000 218.5px,#a70000 224.5px,#ba0000 235.5px,#d90000 248.5px,#df0000 249.5px,#f70000 251.5px,#ff0700 252.5px,#ff5a00 256.5px,#ff7500 257.5px,#f9d402 260.5px,#e4f215 261.5px,#96fa5c 262.5px,#50fda1 263.5px,#15f2e6 264.5px,#00b5ff 265.5px,#0066ff 266.5px,#0023ff 267.5px,#0001ff 268.5px,#cacaff 269.5px,#ffffff 270.5px,#ffffff 325.5px) 171px 0/2px 100% no-repeat,linear-gradient(#620000 0.5px,#6e0000 51.5px,#860000 88.5px,#ad0000 118.5px,#fd0000 160.5px,#fc0000 168.5px,#f30000 177.5px,#aa0000 212.5px,#a10000 219.5px,#9f0000 225.5px,#b10000 236.5px,#c90000 247.5px,#cf0000 248.5px,#f10000 251.5px,#fd0200 252.5px,#ff1100 253.5px,#ff5000 256.5px,#ff6800 257.5px,#ff8600 258.5px,#fcc500 260.5px,#f2e508 261.5px,#c1fa36 262.5px,#6dfc83 263.5px,#2ffac6 264.5px,#03dafc 265.5px,#0088ff 266.5px,#0040ff 267.5px,#0009ff 268.5px,#6060ff 269.5px,#ffffff 270.5px,#ffffff 325.5px) 173px 0/2px 100% no-repeat,linear-gradient(#620000 0.5px,#6e0000 51.5px,#870000 88.5px,#b00000 118.5px,#ff0200 158.5px,#ff0500 163.5px,#ff0100 170.5px,#f80000 176.5px,#e50000 186.5px,#a60000 212.5px,#9a0000 220.5px,#990000 226.5px,#bb0000 246.5px,#d50000 249.5px,#f80000 252.5px,#ff0900 253.5px,#ff5d00 257.5px,#ff7800 258.5px,#f8d803 261.5px,#dff51a 262.5px,#8cfb66 263.5px,#49fda9 264.5px,#0fefed 265.5px,#00aaff 266.5px,#005dff 267.5px,#001cff 268.5px,#0000ff 269.5px,#eaeaff 270.5px,#ffffff 271.5px,#ffffff 325.5px) 175px 0/2px 100% no-repeat,linear-gradient(#620000 0.5px,#6e0000 50.5px,#880000 87.5px,#af0000 116.5px,#fc0000 153.5px,#ff0300 156.5px,#ff0a00 159.5px,#ff0a00 163.5px,#fd0000 175.5px,#e60000 186.5px,#a00000 213.5px,#940000 220.5px,#920000 226.5px,#af0000 245.5px,#d10000 249.5px,#f40000 252.5px,#fe0400 253.5px,#ff2900 255.5px,#ff6d00 258.5px,#ff8d00 259.5px,#fbcc00 261.5px,#eeec0c 262.5px,#adfa47 263.5px,#60fd90 264.5px,#23f7d5 265.5px,#00caff 266.5px,#0078ff 267.5px,#0032ff 268.5px,#0004ff 269.5px,#9595ff 270.5px,#ffffff 271.5px,#ffffff 325.5px) 177px 0/2px 100% no-repeat,linear-gradient(#630000 0.5px,#6e0000 49.5px,#880000 86.5px,#b20000 116.5px,#ff0200 153.5px,#ff0f00 159.5px,#ff1000 162.5px,#ff0d00 168.5px,#fe0000 176.5px,#e60000 187.5px,#9c0000 213.5px,#8f0000 220.5px,#8b0000 226.5px,#a10000 243.5px,#bc0000 247.5px,#ef0000 252.5px,#fc0100 253.5px,#ff0e00 254.5px,#ff4d00 257.5px,#ff8200 259.5px,#fcc100 261.5px,#f4e106 262.5px,#ccf92c 263.5px,#76fb7b 264.5px,#37fbbc 265.5px,#05e2f9 266.5px,#0092ff 267.5px,#0049ff 268.5px,#000eff 269.5px,#3535ff 270.5px,#ffffff 271.5px,#ffffff 325.5px) 179px 0/2px 100% no-repeat,linear-gradient(#630000 0.5px,#6f0000 49.5px,#880000 85.5px,#b20000 115.5px,#ff0200 151.5px,#ff1300 158.5px,#ff1600 161.5px,#ff1100 169.5px,#fe0000 178.5px,#e40000 188.5px,#990000 213.5px,#8a0000 220.5px,#860000 226.5px,#980000 242.5px,#c20000 248.5px,#f80000 253.5px,#ff0900 254.5px,#ff5d00 258.5px,#ff7800 259.5px,#f8d702 262.5px,#e0f519 263.5px,#8dfa64 264.5px,#4afda7 265.5px,#10f0ec 266.5px,#00acff 267.5px,#005eff 268.5px,#001dff 269.5px,#0000ff 270.5px,#eaeaff 271.5px,#ffffff 272.5px,#ffffff 325.5px) 181px 0/2px 100% no-repeat,linear-gradient(#630000 0.5px,#6f0000 48.5px,#880000 84.5px,#b10000 113.5px,#fd0000 148.5px,#ff0400 150.5px,#ff1900 158.5px,#ff1b00 162.5px,#ff1400 170.5px,#fe0000 179.5px,#e60000 188.5px,#930000 214.5px,#850000 221.5px,#810000 227.5px,#910000 241.5px,#b70000 247.5px,#d20000 250.5px,#f40000 253.5px,#fe0400 254.5px,#ff2a00 256.5px,#ff6f00 259.5px,#ff9000 260.5px,#face00 262.5px,#ecee0e 263.5px,#a6fa4e 264.5px,#5bfd95 265.5px,#1ef6db 266.5px,#00c4ff 267.5px,#0072ff 268.5px,#002dff 269.5px,#0002ff 270.5px,#9f9fff 271.5px,#ffffff 272.5px,#ffffff 325.5px) 183px 0/2px 100% no-repeat,linear-gradient(#630000 0.5px,#6f0000 48.5px,#890000 83.5px,#b30000 113.5px,#ff0300 148.5px,#ff1c00 157.5px,#ff2100 161.5px,#ff1900 170.5px,#fe0000 180.5px,#e40000 189.5px,#910000 214.5px,#810000 221.5px,#7c0000 227.5px,#850000 238.5px,#900000 241.5px,#b50000 247.5px,#cf0000 250.5px,#f10000 253.5px,#fd0200 254.5px,#ff1100 255.5px,#ff5000 258.5px,#ff6800 259.5px,#ff8700 260.5px,#fcc600 262.5px,#f1e609 263.5px,#befa38 264.5px,#6bfc85 265.5px,#2dfac8 266.5px,#02d8fd 267.5px,#0086ff 268.5px,#003eff 269.5px,#0008ff 270.5px,#6060ff 271.5px,#ffffff 272.5px,#ffffff 325.5px) 185px 0/2px 100% no-repeat,linear-gradient(#630000 0.5px,#700000 48.5px,#8a0000 83.5px,#b30000 112.5px,#fd0000 145.5px,#ff0500 147.5px,#ff2100 157.5px,#ff2600 161.5px,#ff1d00 170.5px,#fe0000 181.5px,#8e0000 214.5px,#7d0000 221.5px,#780000 227.5px,#800000 237.5px,#940000 242.5px,#bb0000 248.5px,#d70000 251.5px,#fb0000 254.5px,#ff0d00 255.5px,#ff3500 257.5px,#ff6200 259.5px,#ff7f00 260.5px,#fcbf00 262.5px,#f5df05 263.5px,#d1f827 264.5px,#7bfb76 265.5px,#3cfcb7 266.5px,#07e6f7 267.5px,#0098ff 268.5px,#004eff 269.5px,#0011ff 270.5px,#2a2aff 271.5px,#ffffff 272.5px,#ffffff 325.5px) 187px 0/2px 100% no-repeat,linear-gradient(#630000 0.5px,#700000 47.5px,#890000 82.5px,#b30000 111.5px,#ff0200 145.5px,#ff2400 156.5px,#ff2b00 161.5px,#ff1f00 171.5px,#fe0000 182.5px,#840000 217.5px,#750000 225.5px,#780000 233.5px,#820000 238.5px,#9d0000 244.5px,#c20000 249.5px,#f80000 254.5px,#ff0900 255.5px,#ff5d00 259.5px,#ff7900 260.5px,#f8d802 263.5px,#dff51a 264.5px,#8bfa66 265.5px,#48fda9 266.5px,#0eefed 267.5px,#00aaff 268.5px,#005cff 269.5px,#001bff 270.5px,#0000ff 271.5px,#f4f4ff 272.5px,#ffffff 273.5px,#ffffff 325.5px) 189px 0/2px 100% no-repeat,linear-gradient(#630000 0.5px,#700000 47.5px,#8a0000 82.5px,#b50000 111.5px,#ff0300 144.5px,#ff2600 155.5px,#ff2f00 160.5px,#ff2300 171.5px,#ff0200 182.5px,#ed0000 188.5px,#9f0000 208.5px,#820000 217.5px,#720000 225.5px,#740000 232.5px,#810000 238.5px,#9c0000 244.5px,#c00000 249.5px,#f60000 254.5px,#ff0600 255.5px,#ff5900 259.5px,#ff7300 260.5px,#fad201 263.5px,#e8f112 264.5px,#9cfa57 265.5px,#54fd9c 266.5px,#18f5e2 267.5px,#00baff 268.5px,#006aff 269.5px,#0027ff 270.5px,#0001ff 271.5px,#bfbfff 272.5px,#ffffff 273.5px,#ffffff 325.5px) 191px 0/2px 100% no-repeat,linear-gradient(#630000 0.5px,#700000 46.5px,#8a0000 81.5px,#b50000 110.5px,#d20000 124.5px,#fd0000 141.5px,#ff0400 143.5px,#ff2700 154.5px,#ff3400 160.5px,#ff3100 165.5px,#ff2700 171.5px,#ff0100 183.5px,#830000 216.5px,#700000 224.5px,#700000 231.5px,#810000 238.5px,#9b0000 244.5px,#be0000 249.5px,#f40000 254.5px,#fe0400 255.5px,#ff2900 257.5px,#ff6d00 260.5px,#ff8d00 261.5px,#fbcc00 263.5px,#eeec0c 264.5px,#acfa48 265.5px,#5ffd91 266.5px,#22f7d5 267.5px,#00caff 268.5px,#0077ff 269.5px,#0032ff 270.5px,#0004ff 271.5px,#8a8aff 272.5px,#ffffff 273.5px,#ffffff 325.5px) 193px 0/2px 100% no-repeat,linear-gradient(#630000 0.5px,#700000 46.5px,#8b0000 81.5px,#b40000 109.5px,#d40000 124.5px,#fc0000 140.5px,#ff0400 142.5px,#ff2b00 154.5px,#ff3800 160.5px,#ff3500 165.5px,#ff2b00 171.5px,#fe0000 184.5px,#850000 215.5px,#700000 223.5px,#6d0000 229.5px,#7d0000 237.5px,#950000 243.5px,#bd0000 249.5px,#f20000 254.5px,#fd0200 255.5px,#ff1200 256.5px,#ff5100 259.5px,#ff6900 260.5px,#ff8800 261.5px,#fbc700 263.5px,#f1e709 264.5px,#bcfa39 265.5px,#69fc87 266.5px,#2cf9c9 267.5px,#02d6fd 268.5px,#0084ff 269.5px,#003cff 270.5px,#0007ff 271.5px,#7575ff 272.5px,#ffffff 273.5px,#ffffff 325.5px) 195px 0/2px 100% no-repeat,linear-gradient(#630000 0.5px,#700000 46.5px,#8a0000 80.5px,#b60000 109.5px,#d30000 123.5px,#fc0000 139.5px,#ff0300 141.5px,#ff2f00 154.5px,#ff3b00 160.5px,#ff3900 165.5px,#ff2e00 171.5px,#ff1d00 177.5px,#ff0100 184.5px,#870000 214.5px,#720000 221.5px,#6a0000 227.5px,#7a0000 236.5px,#940000 243.5px,#bc0000 249.5px,#d80000 252.5px,#fc0100 255.5px,#ff0f00 256.5px,#ff3700 258.5px,#ff6500 260.5px,#ff8300 261.5px,#fcc200 263.5px,#f4e206 264.5px,#c9f92e 265.5px,#73fb7d 266.5px,#35fbbf 267.5px,#04e0fa 268.5px,#0090ff 269.5px,#0047ff 270.5px,#000cff 271.5px,#4040ff 272.5px,#ffffff 273.5px,#ffffff 325.5px) 197px 0/2px 100% no-repeat,linear-gradient(#630000 0.5px,#710000 46.5px,#8b0000 80.5px,#9f0000 95.5px,#b70000 109.5px,#ff0300 140.5px,#ff3200 154.5px,#ff3f00 160.5px,#ff3b00 166.5px,#ff2f00 172.5px,#fe0000 185.5px,#860000 214.5px,#710000 221.5px,#690000 226.5px,#770000 235.5px,#930000 243.5px,#bb0000 249.5px,#d70000 252.5px,#fb0000 255.5px,#ff0c00 256.5px,#ff4a00 259.5px,#ff6200 260.5px,#ff9f00 262.5px,#f6dd04 264.5px,#d4f824 265.5px,#7dfb73 266.5px,#3efcb5 267.5px,#08e8f5 268.5px,#009bff 269.5px,#0050ff 270.5px,#0012ff 271.5px,#2020ff 272.5px,#ffffff 273.5px,#ffffff 325.5px) 199px 0/2px 100% no-repeat,linear-gradient(#630000 0.5px,#700000 45.5px,#8a0000 79.5px,#b40000 107.5px,#d40000 122.5px,#fe0000 138.5px,#ff0500 140.5px,#ff3500 154.5px,#ff4200 160.5px,#ff3e00 166.5px,#ff3200 172.5px,#ff1f00 178.5px,#ff0100 185.5px,#850000 214.5px,#6f0000 221.5px,#690000 226.5px,#770000 235.5px,#930000 243.5px,#ba0000 249.5px,#d60000 252.5px,#f90000 255.5px,#ff0a00 256.5px,#ff5e00 260.5px,#ff9b00 262.5px,#f7d903 264.5px,#dcf61d 265.5px,#88fb6a 266.5px,#46fdac 267.5px,#0ceef0 268.5px,#00a6ff 269.5px,#0059ff 270.5px,#0019ff 271.5px,#0000ff 272.5px,#ffffff 273.5px,#ffffff 325.5px) 201px 0/2px 100% no-repeat,linear-gradient(#640000 0.5px,#700000 45.5px,#8b0000 79.5px,#b50000 107.5px,#d30000 121.5px,#fd0000 137.5px,#ff0400 139.5px,#ff3500 153.5px,#ff4500 160.5px,#ff4100 166.5px,#ff3400 172.5px,#ff2100 178.5px,#ff0200 185.5px,#850000 214.5px,#6e0000 221.5px,#690000 226.5px,#760000 235.5px,#920000 243.5px,#b90000 249.5px,#d40000 252.5px,#f70000 255.5px,#ff0800 256.5px,#ff5c00 260.5px,#ff7600 261.5px,#f9d502 264.5px,#e3f417 265.5px,#91fa60 266.5px,#4dfda4 267.5px,#12f1e9 268.5px,#00b0ff 269.5px,#0062ff 270.5px,#001fff 271.5px,#0000ff 272.5px,#dfdfff 273.5px,#ffffff 274.5px,#ffffff 325.5px) 203px 0/2px 100% no-repeat,linear-gradient(#640000 0.5px,#710000 45.5px,#8b0000 79.5px,#b60000 107.5px,#ff0300 138.5px,#ff3700 153.5px,#ff4800 160.5px,#ff4300 166.5px,#ff3700 172.5px,#ff2300 178.5px,#fe0000 186.5px,#840000 214.5px,#710000 220.5px,#680000 226.5px,#760000 235.5px,#920000 243.5px,#b80000 249.5px,#d30000 252.5px,#f60000 255.5px,#ff0600 256.5px,#ff5900 260.5px,#ff7300 261.5px,#fad201 264.5px,#e7f112 265.5px,#9bfa57 266.5px,#54fd9d 267.5px,#17f5e3 268.5px,#00baff 269.5px,#006aff 270.5px,#0026ff 271.5px,#0001ff 272.5px,#bfbfff 273.5px,#ffffff 274.5px,#ffffff 325.5px) 205px 0/2px 100% no-repeat,linear-gradient(#640000 0.5px,#700000 44.5px,#8b0000 78.5px,#b50000 106.5px,#d30000 120.5px,#fd0000 136.5px,#ff0400 138.5px,#ff3a00 153.5px,#ff4a00 160.5px,#ff4600 166.5px,#ff3900 172.5px,#ff2100 179.5px,#ff0100 186.5px,#800000 215.5px,#6e0000 221.5px,#680000 226.5px,#760000 235.5px,#910000 243.5px,#b70000 249.5px,#d20000 252.5px,#f50000 255.5px,#fe0500 256.5px,#ff2a00 258.5px,#ff7000 261.5px,#ff9000 262.5px,#face00 264.5px,#ebef0e 265.5px,#a5fa4f 266.5px,#5afd96 267.5px,#1df6db 268.5px,#00c3ff 269.5px,#0071ff 270.5px,#002cff 271.5px,#0002ff 272.5px,#b5b5ff 273.5px,#ffffff 274.5px,#ffffff 325.5px) 207px 0/2px 100% no-repeat,linear-gradient(#640000 0.5px,#700000 44.5px,#8b0000 78.5px,#b50000 106.5px,#ff0300 137.5px,#ff3c00 153.5px,#ff4d00 160.5px,#ff4800 166.5px,#ff3b00 172.5px,#ff2300 179.5px,#ff0200 186.5px,#840000 214.5px,#6e0000 221.5px,#680000 226.5px,#760000 235.5px,#910000 243.5px,#b60000 249.5px,#d10000 252.5px,#f30000 255.5px,#fe0300 256.5px,#ff2800 258.5px,#ff6d00 261.5px,#ff8d00 262.5px,#fbcb00 264.5px,#eeec0c 265.5px,#aefa47 266.5px,#60fd90 267.5px,#23f8d4 268.5px,#00cbff 269.5px,#0079ff 270.5px,#0033ff 271.5px,#0004ff 272.5px,#ffffff 274.5px,#ffffff 325.5px) 209px 0/2px 100% no-repeat,linear-gradient(#640000 0.5px,#710000 44.5px,#8b0000 78.5px,#b60000 106.5px,#d50000 120.5px,#fc0000 135.5px,#ff0400 137.5px,#ff3e00 153.5px,#ff4f00 160.5px,#ff4a00 166.5px,#ff3d00 172.5px,#ff2800 178.5px,#fd0000 187.5px,#870000 213.5px,#710000 220.5px,#680000 226.5px,#750000 235.5px,#900000 243.5px,#b50000 249.5px,#d00000 252.5px,#f20000 255.5px,#fe0200 256.5px,#ff2700 258.5px,#ff6b00 261.5px,#ff8a00 262.5px,#fbc900 264.5px,#f0e90a 265.5px,#b7fa3f 266.5px,#65fc8b 267.5px,#29f9ce 268.5px,#01d2fe 269.5px,#007fff 270.5px,#0038ff 271.5px,#0006ff 272.5px,#ffffff 274.5px,#ffffff 325.5px) 211px 0/2px 100% no-repeat,linear-gradient(#640000 0.5px,#710000 44.5px,#8c0000 78.5px,#b70000 106.5px,#ff0200 136.5px,#ff4000 153.5px,#ff5000 160.5px,#ff4c00 166.5px,#ff3c00 173.5px,#ff2600 179.5px,#fe0000 187.5px,#880000 213.5px,#710000 220.5px,#680000 226.5px,#750000 235.5px,#900000 243.5px,#b50000 249.5px,#cf0000 252.5px,#f10000 255.5px,#fd0200 256.5px,#ff1100 257.5px,#ff5000 260.5px,#ff6800 261.5px,#ff8700 262.5px,#fcc600 264.5px,#f1e609 265.5px,#bffa37 266.5px,#6bfc85 267.5px,#2efac8 268.5px,#02d8fd 269.5px,#0086ff 270.5px,#003eff 271.5px,#0008ff 272.5px,#6a6aff 273.5px,#ffffff 274.5px,#ffffff 325.5px) 213px 0/2px 100% no-repeat,linear-gradient(#640000 0.5px,#710000 44.5px,#8c0000 78.5px,#b70000 106.5px,#ff0300 136.5px,#ff4100 153.5px,#ff5200 160.5px,#ff4d00 166.5px,#ff3d00 173.5px,#ff2700 179.5px,#ff0100 187.5px,#880000 213.5px,#710000 220.5px,#680000 226.5px,#770000 236.5px,#940000 244.5px,#bc0000 250.5px,#d90000 253.5px,#fc0100 256.5px,#ff1000 257.5px,#ff3800 259.5px,#ff6600 261.5px,#ff8400 262.5px,#fcc400 264.5px,#f3e307 265.5px,#c6fa31 266.5px,#70fc80 267.5px,#32fbc2 268.5px,#03ddfb 269.5px,#008cff 270.5px,#0043ff 271.5px,#000bff 272.5px,#4040ff 273.5px,#ffffff 274.5px,#ffffff 325.5px) 215px 0/2px 100% no-repeat,linear-gradient(#640000 0.5px,#710000 44.5px,#8c0000 78.5px,#b60000 105.5px,#d40000 119.5px,#fc0000 134.5px,#ff0400 136.5px,#ff4200 153.5px,#ff5300 160.5px,#ff4e00 166.5px,#ff3e00 173.5px,#ff2400 180.5px,#ff0100 187.5px,#840000 214.5px,#6e0000 221.5px,#680000 226.5px,#770000 236.5px,#940000 244.5px,#bc0000 250.5px,#d80000 253.5px,#fc0100 256.5px,#ff0e00 257.5px,#ff3700 259.5px,#ff6400 261.5px,#ff8200 262.5px,#fcc100 264.5px,#f4e106 265.5px,#cbf92c 266.5px,#75fb7b 267.5px,#37fbbd 268.5px,#05e2f9 269.5px,#0092ff 270.5px,#0048ff 271.5px,#000dff 272.5px,#4040ff 273.5px,#ffffff 274.5px,#ffffff 325.5px) 217px 0/2px 100% no-repeat,linear-gradient(#640000 0.5px,#710000 44.5px,#8b0000 77.5px,#b60000 105.5px,#d50000 119.5px,#fd0000 134.5px,#ff0500 136.5px,#ff4400 153.5px,#ff5500 160.5px,#ff5000 166.5px,#ff3f00 173.5px,#ff2500 180.5px,#ff0200 187.5px,#840000 214.5px,#6e0000 221.5px,#680000 226.5px,#770000 236.5px,#940000 244.5px,#bb0000 250.5px,#d70000 253.5px,#fb0000 256.5px,#ff0d00 257.5px,#ff3500 259.5px,#ff6300 261.5px,#ff8000 262.5px,#fcbf00 264.5px,#f5df05 265.5px,#d1f827 266.5px,#7afb76 267.5px,#3bfcb8 268.5px,#07e5f7 269.5px,#0097ff 270.5px,#004dff 271.5px,#0010ff 272.5px,#4040ff 273.5px,#ffffff 274.5px,#ffffff 325.5px) 219px 0/2px 100% no-repeat,linear-gradient(#640000 0.5px,#710000 44.5px,#8b0000 77.5px,#b60000 105.5px,#ff0200 135.5px,#ff4500 153.5px,#ff5600 160.5px,#ff5100 166.5px,#ff4000 173.5px,#ff2600 180.5px,#ff0200 187.5px,#840000 214.5px,#6e0000 221.5px,#680000 226.5px,#770000 236.5px,#930000 244.5px,#ba0000 250.5px,#d70000 253.5px,#fa0000 256.5px,#ff0c00 257.5px,#ff4a00 260.5px,#ff6100 261.5px,#ff9f00 263.5px,#f6dd04 265.5px,#d5f823 266.5px,#7ffb72 267.5px,#3ffcb3 268.5px,#09e9f4 269.5px,#009dff 270.5px,#0052ff 271.5px,#0013ff 272.5px,#0b0bff 273.5px,#ffffff 274.5px,#ffffff 325.5px) 221px 0/2px 100% no-repeat,linear-gradient(#640000 0.5px,#710000 44.5px,#8b0000 77.5px,#b70000 105.5px,#ff0300 135.5px,#ff4500 153.5px,#ff5700 160.5px,#ff5200 166.5px,#ff4100 173.5px,#ff2600 180.5px,#ff0300 187.5px,#850000 214.5px,#6e0000 221.5px,#680000 226.5px,#770000 236.5px,#930000 244.5px,#ba0000 250.5px,#d60000 253.5px,#fa0000 256.5px,#ff0b00 257.5px,#ff1e00 258.5px,#ff6000 261.5px,#ff9d00 263.5px,#f7db03 265.5px,#d9f71f 266.5px,#84fb6d 267.5px,#43fdaf 268.5px,#0becf2 269.5px,#00a2ff 270.5px,#0056ff 271.5px,#0016ff 272.5px,#0000ff 273.5px,#ffffff 274.5px,#ffffff 325.5px) 223px 0/2px 100% no-repeat,linear-gradient(#640000 0.5px,#710000 44.5px,#8b0000 77.5px,#b70000 105.5px,#ff0300 135.5px,#ff4600 153.5px,#ff5700 160.5px,#ff5200 166.5px,#ff4200 173.5px,#ff2b00 179.5px,#fd0000 188.5px,#850000 214.5px,#6e0000 221.5px,#680000 226.5px,#770000 236.5px,#930000 244.5px,#b90000 250.5px,#d50000 253.5px,#f90000 256.5px,#ff0a00 257.5px,#ff5e00 261.5px,#ff7a00 262.5px,#ff9b00 263.5px,#f7d903 265.5px,#dcf61c 266.5px,#88fb69 267.5px,#46fdab 268.5px,#0deeef 269.5px,#00a7ff 270.5px,#005aff 271.5px,#0019ff 272.5px,#0000ff 273.5px,#ffffff 274.5px,#ffffff 325.5px) 225px 0/2px 100% no-repeat,linear-gradient(#640000 0.5px,#710000 44.5px,#8c0000 77.5px,#b70000 105.5px,#d60000 119.5px,#fc0000 133.5px,#ff0400 135.5px,#ff4700 153.5px,#ff5800 160.5px,#ff5300 166.5px,#ff4200 173.5px,#ff2c00 179.5px,#fe0000 188.5px,#850000 214.5px,#6e0000 221.5px,#680000 226.5px,#760000 236.5px,#920000 244.5px,#b90000 250.5px,#d50000 253.5px,#f80000 256.5px,#ff0900 257.5px,#ff5d00 261.5px,#ff7800 262.5px,#f8d702 265.5px,#e0f519 266.5px,#8dfa65 267.5px,#4afda8 268.5px,#0ff0ec 269.5px,#00abff 270.5px,#005eff 271.5px,#001cff 272.5px,#0000ff 273.5px,#ffffff 274.5px,#ffffff 325.5px) 227px 0/2px 100% no-repeat,linear-gradient(#640000 0.5px,#710000 44.5px,#8c0000 77.5px,#9e0000 91.5px,#b70000 105.5px,#d70000 119.5px,#fc0000 133.5px,#ff0400 135.5px,#ff4700 153.5px,#ff5900 160.5px,#ff5300 166.5px,#ff4300 173.5px,#ff2800 180.5px,#fe0000 188.5px,#850000 214.5px,#6e0000 221.5px,#680000 226.5px,#760000 236.5px,#920000 244.5px,#b90000 250.5px,#d40000 253.5px,#f80000 256.5px,#ff0800 257.5px,#ff5c00 261.5px,#ff7600 262.5px,#f9d502 265.5px,#e3f417 266.5px,#91fa61 267.5px,#4dfda4 268.5px,#12f1ea 269.5px,#00b0ff 270.5px,#0061ff 271.5px,#001fff 272.5px,#0000ff 273.5px,#eaeaff 274.5px,#ffffff 275.5px,#ffffff 325.5px) 229px 0/2px 100% no-repeat,linear-gradient(#640000 0.5px,#710000 44.5px,#8c0000 77.5px,#b50000 104.5px,#d40000 118.5px,#fd0000 133.5px,#ff0400 135.5px,#ff4800 153.5px,#ff5900 160.5px,#ff5400 166.5px,#ff4300 173.5px,#ff2800 180.5px,#fe0000 188.5px,#850000 214.5px,#6e0000 221.5px,#680000 226.5px,#760000 236.5px,#920000 244.5px,#b80000 250.5px,#d40000 253.5px,#f70000 256.5px,#ff0700 257.5px,#ff5b00 261.5px,#ff7500 262.5px,#f9d401 265.5px,#e5f315 266.5px,#95fa5d 267.5px,#50fda1 268.5px,#14f3e7 269.5px,#00b4ff 270.5px,#0065ff 271.5px,#0022ff 272.5px,#0000ff 273.5px,#bfbfff 274.5px,#ffffff 275.5px,#ffffff 325.5px) 231px 0/2px 100% no-repeat,linear-gradient(#640000 0.5px,#710000 44.5px,#8c0000 77.5px,#b50000 104.5px,#d40000 118.5px,#fd0000 133.5px,#ff0500 135.5px,#ff4800 153.5px,#ff5900 160.5px,#ff5400 166.5px,#ff4400 173.5px,#ff2900 180.5px,#fe0000 188.5px,#850000 214.5px,#6e0000 221.5px,#680000 226.5px,#760000 236.5px,#920000 244.5px,#b80000 250.5px,#d30000 253.5px,#f60000 256.5px,#ff0600 257.5px,#ff5900 261.5px,#ff7300 262.5px,#fad301 265.5px,#e7f213 266.5px,#99fa59 267.5px,#52fd9e 268.5px,#16f4e4 269.5px,#00b8ff 270.5px,#0068ff 271.5px,#0025ff 272.5px,#0001ff 273.5px,#bfbfff 274.5px,#ffffff 275.5px,#ffffff 325.5px) 233px 0/2px 100% no-repeat,linear-gradient(#640000 0.5px,#710000 44.5px,#8c0000 77.5px,#b60000 104.5px,#d50000 118.5px,#fd0000 133.5px,#ff0500 135.5px,#ff4800 153.5px,#ff5a00 160.5px,#ff5500 166.5px,#ff4400 173.5px,#ff2900 180.5px,#fe0000 188.5px,#850000 214.5px,#6e0000 221.5px,#680000 226.5px,#760000 236.5px,#910000 244.5px,#b80000 250.5px,#d30000 253.5px,#f60000 256.5px,#ff0600 257.5px,#ff5800 261.5px,#ff7200 262.5px,#fad101 265.5px,#e8f111 266.5px,#9dfa56 267.5px,#55fd9b 268.5px,#18f5e2 269.5px,#00bbff 270.5px,#006bff 271.5px,#0027ff 272.5px,#0001ff 273.5px,#bfbfff 274.5px,#ffffff 275.5px,#ffffff 325.5px) 235px 0/2px 100% no-repeat,linear-gradient(#640000 0.5px,#710000 44.5px,#8c0000 77.5px,#b60000 104.5px,#d50000 118.5px,#fd0000 133.5px,#ff0500 135.5px,#ff4900 153.5px,#ff5a00 160.5px,#ff5500 166.5px,#ff4400 173.5px,#ff2900 180.5px,#fe0100 188.5px,#850000 214.5px,#6e0000 221.5px,#680000 226.5px,#760000 236.5px,#910000 244.5px,#b70000 250.5px,#d30000 253.5px,#f50000 256.5px,#ff0500 257.5px,#ff2b00 259.5px,#ff5800 261.5px,#ff7100 262.5px,#fad001 265.5px,#eaf010 266.5px,#a1fa53 267.5px,#57fd99 268.5px,#1bf6df 269.5px,#00bfff 270.5px,#006eff 271.5px,#002aff 272.5px,#0002ff 273.5px,#bfbfff 274.5px,#ffffff 275.5px,#ffffff 325.5px) 237px 0/2px 100% no-repeat,linear-gradient(#640000 0.5px,#710000 44.5px,#8c0000 77.5px,#9f0000 91.5px,#b80000 105.5px,#ff0100 134.5px,#ff4900 153.5px,#ff5a00 160.5px,#ff5500 166.5px,#ff4400 173.5px,#ff2900 180.5px,#fe0100 188.5px,#850000 214.5px,#6e0000 221.5px,#670000 226.5px,#760000 236.5px,#910000 244.5px,#b70000 250.5px,#d20000 253.5px,#f50000 256.5px,#fe0500 257.5px,#ff2a00 259.5px,#ff7000 262.5px,#ff9000 263.5px,#facf00 265.5px,#ebef0f 266.5px,#a4fa4f 267.5px,#5afd96 268.5px,#1df6dc 269.5px,#00c2ff 270.5px,#0071ff 271.5px,#002cff 272.5px,#0002ff 273.5px,#bfbfff 274.5px,#ffffff 275.5px,#ffffff 325.5px) 239px 0/2px 100% no-repeat,linear-gradient(#640000 0.5px,#710000 44.5px,#8c0000 77.5px,#9f0000 91.5px,#b80000 105.5px,#ff0200 134.5px,#ff4900 153.5px,#ff5a00 160.5px,#ff5500 166.5px,#ff4400 173.5px,#ff2900 180.5px,#fe0100 188.5px,#850000 214.5px,#6e0000 221.5px,#670000 226.5px,#760000 236.5px,#910000 244.5px,#b70000 250.5px,#d20000 253.5px,#f40000 256.5px,#fe0400 257.5px,#ff2a00 259.5px,#ff6f00 262.5px,#ff8f00 263.5px,#fbcd00 265.5px,#edee0d 266.5px,#a7fa4c 267.5px,#5cfd94 268.5px,#1ff7d9 269.5px,#00c6ff 270.5px,#0074ff 271.5px,#002eff 272.5px,#0003ff 273.5px,#aaaaff 274.5px,#ffffff 275.5px,#ffffff 325.5px) 241px 0/2px 100% no-repeat,linear-gradient(#640000 0.5px,#710000 44.5px,#8c0000 77.5px,#9f0000 91.5px,#b80000 105.5px,#ff0200 134.5px,#ff4900 153.5px,#ff5a00 160.5px,#ff5500 166.5px,#ff4500 173.5px,#ff2900 180.5px,#fe0100 188.5px,#850000 214.5px,#6e0000 221.5px,#670000 226.5px,#760000 236.5px,#910000 244.5px,#b60000 250.5px,#d10000 253.5px,#f40000 256.5px,#fe0400 257.5px,#ff2900 259.5px,#ff6e00 262.5px,#ff8e00 263.5px,#fbcc00 265.5px,#eeed0c 266.5px,#abfa49 267.5px,#5efd92 268.5px,#21f7d7 269.5px,#00c9ff 270.5px,#0076ff 271.5px,#0031ff 272.5px,#0003ff 273.5px,#ffffff 275.5px,#ffffff 325.5px) 243px 0/2px 100% no-repeat,linear-gradient(#640000 0.5px,#710000 44.5px,#8c0000 77.5px,#9f0000 91.5px,#b80000 105.5px,#ff0200 134.5px,#ff4900 153.5px,#ff5a00 160.5px,#ff5500 166.5px,#ff4500 173.5px,#ff2900 180.5px,#fe0100 188.5px,#850000 214.5px,#6e0000 221.5px,#670000 226.5px,#760000 236.5px,#910000 244.5px,#b60000 250.5px,#d10000 253.5px,#f30000 256.5px,#fe0300 257.5px,#ff2800 259.5px,#ff6d00 262.5px,#ff8d00 263.5px,#fbcb00 265.5px,#eeec0c 266.5px,#aefa46 267.5px,#60fd90 268.5px,#23f8d4 269.5px,#00cbff 270.5px,#0079ff 271.5px,#0033ff 272.5px,#0004ff 273.5px,#ffffff 275.5px,#ffffff 325.5px) 245px 0/2px 100% no-repeat,linear-gradient(#640000 0.5px,#710000 44.5px,#8c0000 77.5px,#9f0000 91.5px,#b80000 105.5px,#ff0200 134.5px,#ff4600 152.5px,#ff5a00 160.5px,#ff5500 166.5px,#ff4500 173.5px,#ff2900 180.5px,#fe0100 188.5px,#850000 214.5px,#6e0000 221.5px,#670000 226.5px,#760000 236.5px,#900000 244.5px,#b60000 250.5px,#d10000 253.5px,#f30000 256.5px,#fe0300 257.5px,#ff2800 259.5px,#ff6c00 262.5px,#ff8c00 263.5px,#fbca00 265.5px,#efeb0b 266.5px,#b1fa43 267.5px,#62fd8e 268.5px,#25f8d2 269.5px,#00ceff 270.5px,#007bff 271.5px,#0035ff 272.5px,#0005ff 273.5px,#ffffff 275.5px,#ffffff 325.5px) 247px 0/2px 100% no-repeat,linear-gradient(#640000 0.5px,#710000 44.5px,#8c0000 77.5px,#9f0000 91.5px,#b80000 105.5px,#ff0200 134.5px,#ff4600 152.5px,#ff5b00 160.5px,#ff5500 166.5px,#ff4500 173.5px,#ff2900 180.5px,#fe0100 188.5px,#850000 214.5px,#6e0000 221.5px,#670000 226.5px,#750000 236.5px,#900000 244.5px,#b60000 250.5px,#d00000 253.5px,#f30000 256.5px,#fe0300 257.5px,#ff2700 259.5px,#ff6b00 262.5px,#ff8b00 263.5px,#fbc900 265.5px,#efea0b 266.5px,#b4fa41 267.5px,#64fd8c 268.5px,#27f8d0 269.5px,#00d0ff 270.5px,#007dff 271.5px,#0037ff 272.5px,#0005ff 273.5px,#ffffff 275.5px,#ffffff 325.5px) 249px 0/2px 100% no-repeat,linear-gradient(#640000 0.5px,#710000 44.5px,#8c0000 77.5px,#9f0000 91.5px,#b80000 105.5px,#ff0200 134.5px,#ff4900 153.5px,#ff5b00 160.5px,#ff5500 166.5px,#ff4500 173.5px,#ff2a00 180.5px,#fe0100 188.5px,#850000 214.5px,#6e0000 221.5px,#670000 226.5px,#750000 236.5px,#900000 244.5px,#b50000 250.5px,#d00000 253.5px,#f20000 256.5px,#fd0200 257.5px,#ff2600 259.5px,#ff6a00 262.5px,#ff8a00 263.5px,#fbc900 265.5px,#f0e90a 266.5px,#b7fa3e 267.5px,#66fc8a 268.5px,#29f9cd 269.5px,#01d2fe 270.5px,#0080ff 271.5px,#0039ff 272.5px,#0006ff 273.5px,#ffffff 275.5px,#ffffff 325.5px) 251px 0/2px 100% no-repeat,linear-gradient(#640000 0.5px,#710000 44.5px,#8c0000 77.5px,#9f0000 91.5px,#b80000 105.5px,#ff0200 134.5px,#ff4900 153.5px,#ff5b00 160.5px,#ff5500 166.5px,#ff4500 173.5px,#ff2a00 180.5px,#fe0100 188.5px,#850000 214.5px,#6e0000 221.5px,#670000 226.5px,#750000 236.5px,#900000 244.5px,#b50000 250.5px,#d00000 253.5px,#f20000 256.5px,#fd0200 257.5px,#ff1200 258.5px,#ff5100 261.5px,#ff6a00 262.5px,#ff8900 263.5px,#fbc800 265.5px,#f0e80a 266.5px,#bafa3c 267.5px,#67fc89 268.5px,#2af9cb 269.5px,#01d4fe 270.5px,#0082ff 271.5px,#003aff 272.5px,#0007ff 273.5px,#8080ff 274.5px,#ffffff 275.5px,#ffffff 325.5px) 253px 0/2px 100% no-repeat,linear-gradient(#640000 0.5px,#710000 44.5px,#8c0000 77.5px,#9f0000 91.5px,#b80000 105.5px,#ff0200 134.5px,#ff4900 153.5px,#ff5b00 160.5px,#ff5500 166.5px,#ff4500 173.5px,#ff2a00 180.5px,#fe0100 188.5px,#850000 214.5px,#6e0000 221.5px,#670000 226.5px,#750000 236.5px,#900000 244.5px,#b50000 250.5px,#d00000 253.5px,#f20000 256.5px,#fd0200 257.5px,#ff1200 258.5px,#ff5100 261.5px,#ff6900 262.5px,#ff8800 263.5px,#fbc700 265.5px,#f1e709 266.5px,#bcfa3a 267.5px,#69fc87 268.5px,#2cf9ca 269.5px,#02d6fd 270.5px,#0084ff 271.5px,#003cff 272.5px,#0007ff 273.5px,#8080ff 274.5px,#ffffff 275.5px,#ffffff 325.5px) 255px 0/2px 100% no-repeat,linear-gradient(#640000 0.5px,#710000 44.5px,#8c0000 77.5px,#9f0000 91.5px,#b80000 105.5px,#ff0200 134.5px,#ff4900 153.5px,#ff5b00 160.5px,#ff5500 166.5px,#ff4500 173.5px,#ff2a00 180.5px,#fe0100 188.5px,#850000 214.5px,#6e0000 221.5px,#670000 226.5px,#750000 236.5px,#900000 244.5px,#b50000 250.5px,#cf0000 253.5px,#f10000 256.5px,#fd0200 257.5px,#ff1100 258.5px,#ff5000 261.5px,#ff6800 262.5px,#ff8700 263.5px,#fcc600 265.5px,#f1e609 266.5px,#bffa37 267.5px,#6afc86 268.5px,#2efac8 269.5px,#02d8fd 270.5px,#0086ff 271.5px,#003eff 272.5px,#0008ff 273.5px,#8080ff 274.5px,#ffffff 275.5px,#ffffff 325.5px) 257px 0/2px 100% no-repeat,linear-gradient(#640000 0.5px,#710000 44.5px,#8c0000 77.5px,#9f0000 91.5px,#b80000 105.5px,#ff0200 134.5px,#ff4900 153.5px,#ff5b00 160.5px,#ff5500 166.5px,#ff4500 173.5px,#ff2a00 180.5px,#fe0100 188.5px,#850000 214.5px,#6e0000 221.5px,#680000 227.5px,#780000 237.5px,#900000 244.5px,#b50000 250.5px,#cf0000 253.5px,#f10000 256.5px,#fd0200 257.5px,#ff1100 258.5px,#ff5000 261.5px,#ff6800 262.5px,#ff8600 263.5px,#fcc500 265.5px,#f2e508 266.5px,#c1fa35 267.5px,#6cfc84 268.5px,#2ffac6 269.5px,#02d9fc 270.5px,#0088ff 271.5px,#003fff 272.5px,#0009ff 273.5px,#4a4aff 274.5px,#ffffff 275.5px,#ffffff 325.5px) 259px 0/2px 100% no-repeat}
.tc{background:linear-gradient(#600000 0.5px,#690000 42.5px,#710000 57.5px,#7c0000 66.5px,#8e0000 76.5px,#aa0000 86.5px,#d00000 96.5px,#fd0000 105.5px,#ff2300 110.5px,#ff6500 118.5px,#fea600 124.5px,#f9d701 129.5px,#e9f411 132.5px,#dafa1e 133.5px,#89fa68 136.5px,#76fb7a 137.5px,#47ffa9 140.5px,#0ff3ed 144.5px,#02effc 145.5px,#00e0ff 146.5px,#0090ff 151.5px,#006fff 154.5px,#0051ff 158.5px,#0045ff 162.5px,#004bff 167.5px,#0059ff 170.5px,#0068ff 172.5px,#007cff 174.5px,#0096ff 176.5px,#00baff 178.5px,#00e4ff 180.5px,#08f2f6 181.5px,#3efdb3 184.5px,#68fc88 186.5px,#80fa70 187.5px,#cbfa2c 189.5px,#e9f511 190.5px,#f9d701 192.5px,#feaa00 195.5px,#ff6500 199.5px,#ff0500 206.5px,#f90000 207.5px,#be0000 214.5px,#950000 221.5px,#7e0000 228.5px,#750000 236.5px,#7d0000 243.5px,#950000 250.5px,#a70000 253.5px,#bf0000 256.5px,#de0000 259.5px,#f80000 261.5px,#ff0a00 262.5px,#ff3600 264.5px,#ff6a00 266.5px,#ff8d00 267.5px,#f8d502 269.5px,#d7f621 270.5px,#76fb7b 271.5px,#29f9cd 272.5px,#00beff 273.5px,#0057ff 274.5px,#0009ff 275.5px,#8080ff 276.5px,#ffffff 277.5px,#ffffff 323.5px) 0px 0/2px 100% no-repeat,linear-gradient(#600000 0.5px,#690000 42.5px,#710000 57.5px,#7b0000 66.5px,#8e0000 76.5px,#aa0000 86.5px,#d00000 96.5px,#fd0000 105.5px,#ff2300 110.5px,#ff6500 118.5px,#fea600 124.5px,#fad701 129.5px,#e9f411 132.5px,#dbfa1e 133.5px,#89fa68 136.5px,#76fb7a 137.5px,#47ffa9 140.5px,#0ff3ed 144.5px,#02effc 145.5px,#00e0ff 146.5px,#0090ff 151.5px,#0066ff 155.5px,#004aff 159.5px,#0045ff 163.5px,#004fff 168.5px,#0060ff 171.5px,#0071ff 173.5px,#0096ff 176.5px,#00baff 178.5px,#00e4ff 180.5px,#08f2f6 181.5px,#3efdb3 184.5px,#68fc88 186.5px,#80fa70 187.5px,#cbfa2c 189.5px,#e9f511 190.5px,#f9d701 192.5px,#feaa00 195.5px,#ff6500 199.5px,#ff0500 206.5px,#f90000 207.5px,#be0000 214.5px,#950000 221.5px,#7e0000 228.5px,#750000 236.5px,#7d0000 243.5px,#950000 250.5px,#a70000 253.5px,#bf0000 256.5px,#de0000 259.5px,#f80000 261.5px,#ff0a00 262.5px,#ff3600 264.5px,#ff6a00 266.5px,#ff8d00 267.5px,#f8d502 269.5px,#d7f621 270.5px,#76fb7b 271.5px,#29f9cd 272.5px,#00beff 273.5px,#0057ff 274.5px,#0009ff 275.5px,#8080ff 276.5px,#ffffff 277.5px,#ffffff 323.5px) 2px 0/2px 100% no-repeat,linear-gradient(#600000 0.5px,#690000 42.5px,#710000 58.5px,#7b0000 66.5px,#8e0000 76.5px,#aa0000 86.5px,#d00000 96.5px,#fd0000 105.5px,#ff1b00 109.5px,#ff6500 118.5px,#fea600 124.5px,#fad600 129.5px,#eaf410 132.5px,#dcfa1d 133.5px,#8afa67 136.5px,#77fb79 137.5px,#39fcba 141.5px,#03effc 145.5px,#00e0ff 146.5px,#008fff 151.5px,#0064ff 155.5px,#0049ff 159.5px,#0045ff 163.5px,#004fff 168.5px,#0060ff 171.5px,#0071ff 173.5px,#0096ff 176.5px,#00baff 178.5px,#00e4ff 180.5px,#08f2f6 181.5px,#3efdb3 184.5px,#68fc88 186.5px,#80fa70 187.5px,#cbfa2c 189.5px,#e9f511 190.5px,#f9d701 192.5px,#feaa00 195.5px,#ff6500 199.5px,#ff0500 206.5px,#f90000 207.5px,#be0000 214.5px,#950000 221.5px,#7e0000 228.5px,#750000 236.5px,#7d0000 243.5px,#950000 250.5px,#a70000 253.5px,#bf0000 256.5px,#de0000 259.5px,#f80000 261.5px,#ff0a00 262.5px,#ff3600 264.5px,#ff6a00 266.5px,#ff8d00 267.5px,#f8d502 269.5px,#d7f621 270.5px,#76fb7b 271.5px,#29f9cd 272.5px,#00beff 273.5px,#0057ff 274.5px,#0009ff 275.5px,#8080ff 276.5px,#ffffff 277.5px,#ffffff 323.5px) 4px 0/2px 100% no-repeat,linear-gradient(#600000 0.5px,#690000 42.5px,#710000 58.5px,#7b0000 66.5px,#8e0000 76.5px,#a90000 86.5px,#cf0000 96.5px,#fc0000 105.5px,#ff0300 106.5px,#ff1a00 109.5px,#ff6400 118.5px,#ffa500 124.5px,#fad600 129.5px,#eaf310 132.5px,#ddfa1c 133.5px,#8bfa66 136.5px,#77fb79 137.5px,#3afcb9 141.5px,#03f0fc 145.5px,#00e0ff 146.5px,#008fff 151.5px,#0063ff 155.5px,#0049ff 159.5px,#0045ff 163.5px,#004fff 168.5px,#0060ff 171.5px,#0071ff 173.5px,#0096ff 176.5px,#00baff 178.5px,#00e4ff 180.5px,#08f2f6 181.5px,#3efdb3 184.5px,#68fc88 186.5px,#80fa70 187.5px,#cbfa2c 189.5px,#e9f511 190.5px,#f9d701 192.5px,#feaa00 195.5px,#ff6500 199.5px,#ff0500 206.5px,#f90000 207.5px,#be0000 214.5px,#950000 221.5px,#7e0000 228.5px,#750000 236.5px,#7d0000 243.5px,#950000 250.5px,#a70000 253.5px,#bf0000 256.5px,#de0000 259.5px,#f80000 261.5px,#ff0a00 262.5px,#ff3600 264.5px,#ff6a00 266.5px,#ff8d00 267.5px,#f8d502 269.5px,#d7f621 270.5px,#76fb7b 271.5px,#29f9cd 272.5px,#00beff 273.5px,#0057ff 274.5px,#0009ff 275.5px,#8080ff 276.5px,#ffffff 277.5px,#ffffff 323.5px) 6px 0/2px 100% no-repeat,linear-gradient(#600000 0.5px,#680000 41.5px,#720000 59.5px,#7b0000 66.5px,#8d0000 76.5px,#a90000 86.5px,#cf0000 96.5px,#fb0000 105.5px,#ff0300 106.5px,#ff1100 108.5px,#ff5a00 117.5px,#ff6c00 119.5px,#ffa400 124.5px,#fad500 129.5px,#eaf210 132.5px,#dffa1a 133.5px,#8dfa64 136.5px,#79fb77 137.5px,#3afdb8 141.5px,#03f0fb 145.5px,#00e1ff 146.5px,#008eff 151.5px,#0062ff 155.5px,#0052ff 157.5px,#0049ff 159.5px,#0045ff 163.5px,#004fff 168.5px,#0068ff 172.5px,#007cff 174.5px,#0096ff 176.5px,#00baff 178.5px,#00e4ff 180.5px,#08f2f6 181.5px,#3efdb3 184.5px,#68fc88 186.5px,#80fa70 187.5px,#cbfa2c 189.5px,#e9f511 190.5px,#f9d701 192.5px,#feaa00 195.5px,#ff6500 199.5px,#ff0500 206.5px,#f90000 207.5px,#be0000 214.5px,#950000 221.5px,#7e0000 228.5px,#750000 236.5px,#7d0000 243.5px,#950000 250.5px,#a70000 253.5px,#bf0000 256.5px,#de0000 259.5px,#f80000 261.5px,#ff0a00 262.5px,#ff3600 264.5px,#ff6a00 266.5px,#ff8d00 267.5px,#f8d502 269.5px,#d7f621 270.5px,#76fb7b 271.5px,#29f9cd 272.5px,#00beff 273.5px,#0057ff 274.5px,#0009ff 275.5px,#8080ff 276.5px,#ffffff 277.5px,#ffffff 323.5px) 8px 0/2px 100% no-repeat,linear-gradient(#600000 0.5px,#680000 41.5px,#720000 59.5px,#7a0000 66.5px,#8d0000 76.5px,#a80000 86.5px,#ce0000 96.5px,#fb0000 105.5px,#ff0900 107.5px,#ff5100 116.5px,#ff6b00 119.5px,#ffa300 124.5px,#fad400 129.5px,#ebf10f 132.5px,#e1f918 133.5px,#90fa62 136.5px,#7afb76 137.5px,#3bfdb7 141.5px,#04f0fb 145.5px,#00e2ff 146.5px,#008eff 151.5px,#0061ff 155.5px,#0052ff 157.5px,#0049ff 159.5px,#0046ff 163.5px,#004fff 168.5px,#0068ff 172.5px,#007cff 174.5px,#0096ff 176.5px,#00baff 178.5px,#00e4ff 180.5px,#08f2f6 181.5px,#3efdb3 184.5px,#68fc88 186.5px,#80fa70 187.5px,#cbfa2c 189.5px,#e9f511 190.5px,#f9d701 192.5px,#feaa00 195.5px,#ff6500 199.5px,#ff0500 206.5px,#f90000 207.5px,#be0000 214.5px,#950000 221.5px,#7e0000 228.5px,#750000 236.5px,#7d0000 243.5px,#950000 250.5px,#a70000 253.5px,#bf0000 256.5px,#de0000 259.5px,#f80000 261.5px,#ff0a00 262.5px,#ff3600 264.5px,#ff6a00 266.5px,#ff8d00 267.5px,#f8d502 269.5px,#d7f621 270.5px,#76fb7b 271.5px,#29f9cd 272.5px,#00beff 273.5px,#0057ff 274.5px,#0009ff 275.5px,#8080ff 276.5px,#ffffff 277.5px,#ffffff 323.5px) 10px 0/2px 100% no-repeat,linear-gradient(#600000 0.5px,#680000 41.5px,#730000 60.5px,#7b0000 67.5px,#8e0000 77.5px,#aa0000 87.5px,#cd0000 96.5px,#fe0100 106.5px,#ff2e00 112.5px,#ff6a00 119.5px,#ffa200 124.5px,#fad300 129.5px,#e3f917 133.5px,#7cfb74 137.5px,#3dfdb5 141.5px,#04f0fa 145.5px,#00e3ff 146.5px,#008eff 151.5px,#0061ff 155.5px,#0053ff 157.5px,#004aff 159.5px,#0047ff 163.5px,#004fff 168.5px,#0068ff 172.5px,#007cff 174.5px,#0096ff 176.5px,#00baff 178.5px,#00e4ff 180.5px,#08f2f6 181.5px,#3efdb3 184.5px,#68fc88 186.5px,#80fa70 187.5px,#cbfa2c 189.5px,#e9f511 190.5px,#f9d701 192.5px,#feaa00 195.5px,#ff6500 199.5px,#ff0500 206.5px,#f90000 207.5px,#be0000 214.5px,#950000 221.5px,#7e0000 228.5px,#750000 236.5px,#7d0000 243.5px,#950000 250.5px,#a70000 253.5px,#bf0000 256.5px,#de0000 259.5px,#f80000 261.5px,#ff0a00 262.5px,#ff3600 264.5px,#ff6a00 266.5px,#ff8d00 267.5px,#f8d502 269.5px,#d7f621 270.5px,#76fb7b 271.5px,#29f9cd 272.5px,#00beff 273.5px,#0057ff 274.5px,#0009ff 275.5px,#8080ff 276.5px,#ffffff 277.5px,#ffffff 323.5px) 12px 0/2px 100% no-repeat,linear-gradient(#600000 0.5px,#680000 41.5px,#7b0000 67.5px,#8d0000 77.5px,#a90000 87.5px,#cc0000 96.5px,#fe0000 106.5px,#ff2500 111.5px,#ff6800 119.5px,#ffa000 124.5px,#fbd100 129.5px,#e5f814 133.5px,#7efa72 137.5px,#3efdb3 141.5px,#05f1f9 145.5px,#00e4ff 146.5px,#008eff 151.5px,#0062ff 155.5px,#0054ff 157.5px,#004cff 159.5px,#0048ff 163.5px,#004fff 168.5px,#0068ff 172.5px,#007cff 174.5px,#0096ff 176.5px,#00baff 178.5px,#00e4ff 180.5px,#08f2f6 181.5px,#3efdb3 184.5px,#68fc88 186.5px,#80fa70 187.5px,#cbfa2c 189.5px,#e9f511 190.5px,#f9d701 192.5px,#feaa00 195.5px,#ff6500 199.5px,#ff0500 206.5px,#f90000 207.5px,#be0000 214.5px,#950000 221.5px,#7e0000 228.5px,#750000 236.5px,#7d0000 243.5px,#950000 250.5px,#a70000 253.5px,#bf0000 256.5px,#de0000 259.5px,#f80000 261.5px,#ff0a00 262.5px,#ff3600 264.5px,#ff6a00 266.5px,#ff8d00 267.5px,#f8d502 269.5px,#d7f621 270.5px,#76fb7b 271.5px,#29f9cd 272.5px,#00beff 273.5px,#0057ff 274.5px,#0009ff 275.5px,#8080ff 276.5px,#ffffff 277.5px,#ffffff 323.5px) 14px 0/2px 100% no-repeat,linear-gradient(#600000 0.5px,#680000 40.5px,#7a0000 67.5px,#8c0000 77.5px,#a80000 87.5px,#cf0000 97.5px,#fd0000 106.5px,#ff1b00 110.5px,#ff5e00 118.5px,#ff7000 120.5px,#ff9e00 124.5px,#f8d902 130.5px,#e7f713 133.5px,#d2fa26 134.5px,#81fa6f 137.5px,#40feb1 141.5px,#07f1f7 145.5px,#00e6ff 146.5px,#008fff 151.5px,#006cff 154.5px,#0051ff 158.5px,#004aff 162.5px,#0050ff 168.5px,#0068ff 172.5px,#007cff 174.5px,#0096ff 176.5px,#00baff 178.5px,#00e4ff 180.5px,#08f2f6 181.5px,#3efdb3 184.5px,#68fc88 186.5px,#80fa70 187.5px,#cbfa2c 189.5px,#e9f511 190.5px,#f9d701 192.5px,#feaa00 195.5px,#ff6500 199.5px,#ff0500 206.5px,#f90000 207.5px,#be0000 214.5px,#950000 221.5px,#7e0000 228.5px,#750000 236.5px,#7d0000 243.5px,#950000 250.5px,#a70000 253.5px,#bf0000 256.5px,#de0000 259.5px,#f80000 261.5px,#ff0a00 262.5px,#ff3600 264.5px,#ff6a00 266.5px,#ff8d00 267.5px,#f8d502 269.5px,#d7f621 270.5px,#76fb7b 271.5px,#29f9cd 272.5px,#00beff 273.5px,#0057ff 274.5px,#0009ff 275.5px,#8080ff 276.5px,#ffffff 277.5px,#ffffff 323.5px) 16px 0/2px 100% no-repeat,linear-gradient(#600000 0.5px,#670000 39.5px,#790000 67.5px,#8b0000 77.5px,#a70000 87.5px,#ce0000 97.5px,#fb0000 106.5px,#ff0200 107.5px,#ff1100 109.5px,#ff5c00 118.5px,#ff6e00 120.5px,#fea600 125.5px,#f9d701 130.5px,#e9f511 133.5px,#d7fa21 134.5px,#85fa6c 137.5px,#73fb7d 138.5px,#43feae 141.5px,#08f2f5 145.5px,#00e8ff 146.5px,#00d5ff 147.5px,#0091ff 151.5px,#0065ff 155.5px,#0050ff 159.5px,#004cff 165.5px,#0055ff 169.5px,#0072ff 173.5px,#0097ff 176.5px,#00baff 178.5px,#00e4ff 180.5px,#08f2f6 181.5px,#3efdb3 184.5px,#68fc88 186.5px,#80fa70 187.5px,#cbfa2c 189.5px,#e9f511 190.5px,#f9d701 192.5px,#feaa00 195.5px,#ff6500 199.5px,#ff0500 206.5px,#f90000 207.5px,#be0000 214.5px,#950000 221.5px,#7e0000 228.5px,#750000 236.5px,#7d0000 243.5px,#950000 250.5px,#a70000 253.5px,#bf0000 256.5px,#de0000 259.5px,#f80000 261.5px,#ff0a00 262.5px,#ff3600 264.5px,#ff6a00 266.5px,#ff8d00 267.5px,#f8d502 269.5px,#d7f621 270.5px,#76fb7b 271.5px,#29f9cd 272.5px,#00beff 273.5px,#0057ff 274.5px,#0009ff 275.5px,#8080ff 276.5px,#ffffff 277.5px,#ffffff 323.5px) 18px 0/2px 100% no-repeat,linear-gradient(#600000 0.5px,#670000 39.5px,#7a0000 68.5px,#8d0000 78.5px,#a90000 88.5px,#cc0000 97.5px,#fe0100 107.5px,#ff2f00 113.5px,#ff6b00 120.5px,#ffa400 125.5px,#fad500 130.5px,#eaf310 133.5px,#ddfa1c 134.5px,#8afa67 137.5px,#76fb7a 138.5px,#46feab 141.5px,#0bf2f2 145.5px,#00ebfe 146.5px,#00d8ff 147.5px,#0094ff 151.5px,#0068ff 155.5px,#0052ff 159.5px,#004eff 165.5px,#0056ff 169.5px,#0072ff 173.5px,#0097ff 176.5px,#00baff 178.5px,#00e4ff 180.5px,#08f2f6 181.5px,#3efdb3 184.5px,#68fc88 186.5px,#80fa70 187.5px,#cbfa2c 189.5px,#e9f511 190.5px,#f9d701 192.5px,#feaa00 195.5px,#ff6500 199.5px,#ff0500 206.5px,#f90000 207.5px,#be0000 214.5px,#950000 221.5px,#7e0000 228.5px,#750000 236.5px,#7d0000 243.5px,#950000 250.5px,#a70000 253.5px,#bf0000 256.5px,#de0000 259.5px,#f80000 261.5px,#ff0a00 262.5px,#ff3600 264.5px,#ff6a00 266.5px,#ff8d00 267.5px,#f8d502 269.5px,#d7f621 270.5px,#76fb7b 271.5px,#29f9cd 272.5px,#00beff 273.5px,#0057ff 274.5px,#0009ff 275.5px,#8080ff 276.5px,#ffffff 277.5px,#ffffff 323.5px) 20px 0/2px 100% no-repeat,linear-gradient(#600000 0.5px,#680000 40.5px,#7a0000 69.5px,#8e0000 79.5px,#ab0000 89.5px,#cf0000 98.5px,#fd0000 107.5px,#ff2400 112.5px,#ff6900 120.5px,#ffa200 125.5px,#fad300 130.5px,#ebf10f 133.5px,#e2f918 134.5px,#8ffa62 137.5px,#79fb77 138.5px,#49ffa7 141.5px,#0df3ef 145.5px,#01eefd 146.5px,#00dcff 147.5px,#0097ff 151.5px,#007eff 153.5px,#006bff 155.5px,#0056ff 159.5px,#0051ff 165.5px,#0058ff 169.5px,#0073ff 173.5px,#0097ff 176.5px,#00baff 178.5px,#00e4ff 180.5px,#08f2f6 181.5px,#3efdb3 184.5px,#68fc88 186.5px,#80fa70 187.5px,#cbfa2c 189.5px,#e9f511 190.5px,#f9d701 192.5px,#feaa00 195.5px,#ff6500 199.5px,#ff0500 206.5px,#f90000 207.5px,#be0000 214.5px,#950000 221.5px,#7e0000 228.5px,#750000 236.5px,#7d0000 243.5px,#950000 250.5px,#a70000 253.5px,#bf0000 256.5px,#de0000 259.5px,#f80000 261.5px,#ff0a00 262.5px,#ff3600 264.5px,#ff6a00 266.5px,#ff8d00 267.5px,#f8d502 269.5px,#d7f621 270.5px,#76fb7b 271.5px,#29f9cd 272.5px,#00beff 273.5px,#0057ff 274.5px,#0009ff 275.5px,#8080ff 276.5px,#ffffff 277.5px,#ffffff 323.5px) 22px 0/2px 100% no-repeat,linear-gradient(#600000 0.5px,#680000 40.5px,#7b0000 70.5px,#8f0000 80.5px,#a90000 89.5px,#cd0000 98.5px,#fb0000 107.5px,#ff0a00 109.5px,#ff5400 118.5px,#ff7000 121.5px,#ff9f00 125.5px,#f8da02 131.5px,#e6f814 134.5px,#7efa72 138.5px,#3dfdb5 142.5px,#03f0fb 146.5px,#00e0ff 147.5px,#00abff 150.5px,#008dff 152.5px,#006fff 155.5px,#0059ff 159.5px,#0055ff 165.5px,#005aff 169.5px,#0074ff 173.5px,#0098ff 176.5px,#00bbff 178.5px,#00e4ff 180.5px,#08f2f5 181.5px,#3efdb3 184.5px,#68fc88 186.5px,#80fa70 187.5px,#cbfa2c 189.5px,#e9f511 190.5px,#f9d801 192.5px,#feaa00 195.5px,#ff6500 199.5px,#ff0500 206.5px,#f90000 207.5px,#be0000 214.5px,#950000 221.5px,#7e0000 228.5px,#750000 236.5px,#7d0000 243.5px,#950000 250.5px,#a70000 253.5px,#bf0000 256.5px,#de0000 259.5px,#f80000 261.5px,#ff0a00 262.5px,#ff3600 264.5px,#ff6a00 266.5px,#ff8d00 267.5px,#f8d502 269.5px,#d7f621 270.5px,#76fb7b 271.5px,#29f9cd 272.5px,#00beff 273.5px,#0057ff 274.5px,#0009ff 275.5px,#8080ff 276.5px,#ffffff 277.5px,#ffffff 323.5px) 24px 0/2px 100% no-repeat,linear-gradient(#600000 0.5px,#680000 41.5px,#7d0000 72.5px,#920000 82.5px,#ae0000 91.5px,#cf0000 99.5px,#fe0100 108.5px,#ff2700 113.5px,#ff6300 120.5px,#fea600 126.5px,#f9d801 131.5px,#e8f612 134.5px,#d6fa22 135.5px,#83fa6d 138.5px,#71fb7f 139.5px,#41feb0 142.5px,#06f1f7 146.5px,#00e6ff 147.5px,#00a1ff 151.5px,#007cff 154.5px,#0061ff 158.5px,#0059ff 163.5px,#005bff 168.5px,#006dff 172.5px,#007fff 174.5px,#0099ff 176.5px,#00bcff 178.5px,#00e5ff 180.5px,#08f2f5 181.5px,#3ffdb3 184.5px,#68fc88 186.5px,#80fa70 187.5px,#cbfa2c 189.5px,#e9f511 190.5px,#f9d801 192.5px,#feaa00 195.5px,#ff6500 199.5px,#ff0500 206.5px,#f90000 207.5px,#be0000 214.5px,#950000 221.5px,#7e0000 228.5px,#750000 236.5px,#7d0000 243.5px,#950000 250.5px,#a70000 253.5px,#bf0000 256.5px,#de0000 259.5px,#f80000 261.5px,#ff0a00 262.5px,#ff3600 264.5px,#ff6a00 266.5px,#ff8d00 267.5px,#f8d502 269.5px,#d7f621 270.5px,#76fb7b 271.5px,#29f9cd 272.5px,#00beff 273.5px,#0057ff 274.5px,#0009ff 275.5px,#8080ff 276.5px,#ffffff 277.5px,#ffffff 323.5px) 26px 0/2px 100% no-repeat,linear-gradient(#600000 0.5px,#690000 42.5px,#7e0000 73.5px,#910000 82.5px,#ac0000 91.5px,#cd0000 99.5px,#fc0000 108.5px,#ff1300 111.5px,#ff6000 120.5px,#ffa300 126.5px,#fad500 131.5px,#eaf310 134.5px,#defa1b 135.5px,#8afa67 138.5px,#76fb7a 139.5px,#46feab 142.5px,#0bf2f2 146.5px,#01ebfe 147.5px,#00d9ff 148.5px,#0098ff 152.5px,#0082ff 154.5px,#0071ff 156.5px,#0060ff 160.5px,#005eff 166.5px,#0065ff 170.5px,#0070ff 172.5px,#0081ff 174.5px,#00aaff 177.5px,#00e5ff 180.5px,#09f2f5 181.5px,#3ffdb3 184.5px,#69fc87 186.5px,#80fa70 187.5px,#cbfa2c 189.5px,#e9f511 190.5px,#f9d801 192.5px,#feaa00 195.5px,#ff6500 199.5px,#ff0500 206.5px,#f90000 207.5px,#be0000 214.5px,#950000 221.5px,#7e0000 228.5px,#750000 236.5px,#7d0000 243.5px,#950000 250.5px,#a70000 253.5px,#bf0000 256.5px,#de0000 259.5px,#f80000 261.5px,#ff0a00 262.5px,#ff3600 264.5px,#ff6a00 266.5px,#ff8d00 267.5px,#f8d502 269.5px,#d7f621 270.5px,#76fb7b 271.5px,#29f9cd 272.5px,#00beff 273.5px,#0057ff 274.5px,#0009ff 275.5px,#8080ff 276.5px,#ffffff 277.5px,#ffffff 323.5px) 28px 0/2px 100% no-repeat,linear-gradient(#600000 0.5px,#690000 43.5px,#800000 75.5px,#940000 84.5px,#ae0000 92.5px,#cf0000 100.5px,#fe0100 109.5px,#ff6600 121.5px,#ff9f00 126.5px,#fbd100 131.5px,#e4f816 135.5px,#7cfb74 139.5px,#3bfdb7 143.5px,#03effc 147.5px,#00e0ff 148.5px,#009fff 152.5px,#0087ff 154.5px,#0077ff 156.5px,#0066ff 160.5px,#0064ff 166.5px,#0069ff 170.5px,#0073ff 172.5px,#0083ff 174.5px,#00acff 177.5px,#00e6ff 180.5px,#09f2f4 181.5px,#3ffdb2 184.5px,#69fc87 186.5px,#80fa70 187.5px,#cbfa2c 189.5px,#e9f511 190.5px,#f9d801 192.5px,#feaa00 195.5px,#ff6500 199.5px,#ff0500 206.5px,#f90000 207.5px,#be0000 214.5px,#950000 221.5px,#7e0000 228.5px,#750000 236.5px,#7d0000 243.5px,#950000 250.5px,#a70000 253.5px,#bf0000 256.5px,#de0000 259.5px,#f80000 261.5px,#ff0a00 262.5px,#ff3600 264.5px,#ff6a00 266.5px,#ff8d00 267.5px,#f8d502 269.5px,#d7f621 270.5px,#76fb7b 271.5px,#29f9cd 272.5px,#00beff 273.5px,#0057ff 274.5px,#0009ff 275.5px,#8080ff 276.5px,#ffffff 277.5px,#ffffff 323.5px) 30px 0/2px 100% no-repeat,linear-gradient(#600000 0.5px,#690000 43.5px,#800000 76.5px,#950000 85.5px,#af0000 93.5px,#d10000 101.5px,#fd0000 109.5px,#ff1d00 113.5px,#ff6300 121.5px,#fea600 127.5px,#f9d801 132.5px,#e8f612 135.5px,#d5fa23 136.5px,#83fa6e 139.5px,#71fb7f 140.5px,#41feb0 143.5px,#07f2f6 147.5px,#00e8ff 148.5px,#00d6ff 149.5px,#009aff 153.5px,#0085ff 155.5px,#0078ff 157.5px,#006aff 161.5px,#006aff 167.5px,#0072ff 171.5px,#0086ff 174.5px,#00aeff 177.5px,#00e8ff 180.5px,#0af2f3 181.5px,#1bf6df 182.5px,#3ffeb2 184.5px,#69fc87 186.5px,#80fa70 187.5px,#ccfa2c 189.5px,#e9f511 190.5px,#f9d801 192.5px,#ff9a00 196.5px,#ff6500 199.5px,#ff0500 206.5px,#f90000 207.5px,#be0000 214.5px,#950000 221.5px,#7e0000 228.5px,#750000 236.5px,#7d0000 243.5px,#950000 250.5px,#a70000 253.5px,#bf0000 256.5px,#de0000 259.5px,#f80000 261.5px,#ff0a00 262.5px,#ff3600 264.5px,#ff6a00 266.5px,#ff8d00 267.5px,#f8d502 269.5px,#d7f621 270.5px,#76fb7b 271.5px,#29f9cd 272.5px,#00beff 273.5px,#0057ff 274.5px,#0009ff 275.5px,#8080ff 276.5px,#ffffff 277.5px,#ffffff 323.5px) 32px 0/2px 100% no-repeat,linear-gradient(#600000 0.5px,#690000 44.5px,#820000 78.5px,#960000 86.5px,#b00000 94.5px,#cf0000 101.5px,#fa0000 109.5px,#ff0900 111.5px,#ff4d00 119.5px,#ff7200 123.5px,#ffa200 127.5px,#fad400 132.5px,#ebf20f 135.5px,#dffa1a 136.5px,#8cfa65 139.5px,#77fb79 140.5px,#47fea9 143.5px,#0df3ef 147.5px,#02eefd 148.5px,#00dfff 149.5px,#00a3ff 153.5px,#008dff 155.5px,#007fff 157.5px,#0071ff 161.5px,#0071ff 167.5px,#0078ff 171.5px,#008aff 174.5px,#00b1ff 177.5px,#00e9ff 180.5px,#0bf2f2 181.5px,#40feb1 184.5px,#69fc87 186.5px,#81fa70 187.5px,#ccfa2c 189.5px,#e9f511 190.5px,#f9d801 192.5px,#ff9a00 196.5px,#ff6500 199.5px,#ff0500 206.5px,#f90000 207.5px,#be0000 214.5px,#950000 221.5px,#7e0000 228.5px,#750000 236.5px,#7d0000 243.5px,#950000 250.5px,#a70000 253.5px,#bf0000 256.5px,#de0000 259.5px,#f80000 261.5px,#ff0a00 262.5px,#ff3600 264.5px,#ff6a00 266.5px,#ff8d00 267.5px,#f8d502 269.5px,#d7f621 270.5px,#76fb7b 271.5px,#29f9cd 272.5px,#00beff 273.5px,#0057ff 274.5px,#0009ff 275.5px,#8080ff 276.5px,#ffffff 277.5px,#ffffff 323.5px) 34px 0/2px 100% no-repeat,linear-gradient(#600000 0.5px,#6a0000 45.5px,#830000 79.5px,#960000 87.5px,#b20000 95.5px,#d10000 102.5px,#fc0000 110.5px,#ff1d00 114.5px,#ff6400 122.5px,#ff9d00 127.5px,#f8da02 133.5px,#e6f714 136.5px,#d0fa28 137.5px,#7ffa71 140.5px,#6efc82 141.5px,#3ffdb3 144.5px,#07f1f6 148.5px,#00e8ff 149.5px,#00d8ff 150.5px,#00a1ff 154.5px,#0087ff 157.5px,#0079ff 161.5px,#0079ff 168.5px,#007fff 171.5px,#0090ff 174.5px,#00b5ff 177.5px,#01ebfe 180.5px,#0cf3f0 181.5px,#41feb0 184.5px,#6afc86 186.5px,#81fa6f 187.5px,#ccfa2b 189.5px,#e9f511 190.5px,#f9d801 192.5px,#ff9a00 196.5px,#ff6500 199.5px,#ff0600 206.5px,#fa0000 207.5px,#be0000 214.5px,#950000 221.5px,#7e0000 228.5px,#750000 236.5px,#7d0000 243.5px,#950000 250.5px,#a70000 253.5px,#bf0000 256.5px,#de0000 259.5px,#f80000 261.5px,#ff0a00 262.5px,#ff3600 264.5px,#ff6a00 266.5px,#ff8d00 267.5px,#f8d502 269.5px,#d7f621 270.5px,#76fb7b 271.5px,#29f9cd 272.5px,#00beff 273.5px,#0057ff 274.5px,#0009ff 275.5px,#8080ff 276.5px,#ffffff 277.5px,#ffffff 323.5px) 36px 0/2px 100% no-repeat,linear-gradient(#600000 0.5px,#6a0000 46.5px,#850000 81.5px,#9a0000 89.5px,#b30000 96.5px,#d30000 103.5px,#fe0100 111.5px,#ff6900 123.5px,#ffa300 128.5px,#fad600 133.5px,#eaf310 136.5px,#dcfa1d 137.5px,#89fa68 140.5px,#75fb7b 141.5px,#46feaa 144.5px,#0ef3ed 148.5px,#03effc 149.5px,#00e2ff 150.5px,#00abff 154.5px,#008bff 158.5px,#0082ff 161.5px,#0081ff 167.5px,#0086ff 171.5px,#0097ff 174.5px,#00baff 177.5px,#01edfd 180.5px,#0ef3ee 181.5px,#42feaf 184.5px,#6bfc85 186.5px,#82fa6e 187.5px,#cdfa2b 189.5px,#e9f511 190.5px,#f9d701 192.5px,#ff9a00 196.5px,#ff6500 199.5px,#ff0600 206.5px,#fa0000 207.5px,#bf0000 214.5px,#950000 221.5px,#7e0000 228.5px,#750000 236.5px,#7d0000 243.5px,#950000 250.5px,#a70000 253.5px,#bf0000 256.5px,#de0000 259.5px,#f80000 261.5px,#ff0a00 262.5px,#ff3600 264.5px,#ff6a00 266.5px,#ff8d00 267.5px,#f8d502 269.5px,#d7f621 270.5px,#76fb7b 271.5px,#29f9cd 272.5px,#00beff 273.5px,#0057ff 274.5px,#0009ff 275.5px,#8080ff 276.5px,#ffffff 277.5px,#ffffff 323.5px) 38px 0/2px 100% no-repeat,linear-gradient(#600000 0.5px,#6a0000 46.5px,#750000 64.5px,#860000 82.5px,#980000 89.5px,#b40000 97.5px,#d40000 104.5px,#fc0000 111.5px,#ff0c00 113.5px,#ff5b00 122.5px,#ff6e00 124.5px,#ff9e00 128.5px,#f8db02 134.5px,#e5f815 137.5px,#7efa72 141.5px,#6efc82 142.5px,#3ffeb2 145.5px,#0af2f3 149.5px,#01edfe 150.5px,#00deff 151.5px,#00adff 155.5px,#0096ff 158.5px,#008cff 161.5px,#008bff 168.5px,#0090ff 171.5px,#009fff 174.5px,#00bfff 177.5px,#03effc 180.5px,#20f7d8 182.5px,#43fead 184.5px,#6cfc84 186.5px,#83fa6d 187.5px,#cefa2a 189.5px,#e9f411 190.5px,#f9d701 192.5px,#ff9a00 196.5px,#ff6600 199.5px,#ff0600 206.5px,#fa0000 207.5px,#bf0000 214.5px,#950000 221.5px,#7e0000 228.5px,#750000 236.5px,#7d0000 243.5px,#950000 250.5px,#a70000 253.5px,#bf0000 256.5px,#de0000 259.5px,#f80000 261.5px,#ff0a00 262.5px,#ff3600 264.5px,#ff6a00 266.5px,#ff8d00 267.5px,#f8d502 269.5px,#d7f621 270.5px,#76fb7b 271.5px,#29f9cd 272.5px,#00beff 273.5px,#0057ff 274.5px,#0009ff 275.5px,#8080ff 276.5px,#ffffff 277.5px,#ffffff 323.5px) 40px 0/2px 100% no-repeat,linear-gradient(#600000 0.5px,#6b0000 47.5px,#760000 66.5px,#880000 84.5px,#9b0000 91.5px,#b50000 98.5px,#d60000 105.5px,#fe0100 112.5px,#ff2000 116.5px,#ff6900 124.5px,#ffa400 129.5px,#fad600 134.5px,#eaf410 137.5px,#dcfa1d 138.5px,#8afa67 141.5px,#67fc89 143.5px,#48fea8 145.5px,#07f1f6 150.5px,#00eaff 151.5px,#00dcff 152.5px,#00b0ff 156.5px,#009dff 159.5px,#0097ff 162.5px,#0097ff 168.5px,#009bff 171.5px,#00a9ff 174.5px,#00c6ff 177.5px,#00e5ff 179.5px,#05f1f9 180.5px,#13f4e8 181.5px,#45feab 184.5px,#6dfc83 186.5px,#85fa6c 187.5px,#cffa29 189.5px,#e9f411 190.5px,#f9d701 192.5px,#ff9b00 196.5px,#ff6600 199.5px,#ff0700 206.5px,#fa0000 207.5px,#b80000 215.5px,#910000 222.5px,#7c0000 229.5px,#750000 236.5px,#7d0000 243.5px,#950000 250.5px,#a70000 253.5px,#bf0000 256.5px,#de0000 259.5px,#f80000 261.5px,#ff0a00 262.5px,#ff3600 264.5px,#ff6a00 266.5px,#ff8d00 267.5px,#f8d502 269.5px,#d7f621 270.5px,#76fb7b 271.5px,#29f9cd 272.5px,#00beff 273.5px,#0057ff 274.5px,#0009ff 275.5px,#8080ff 276.5px,#ffffff 277.5px,#ffffff 323.5px) 42px 0/2px 100% no-repeat,linear-gradient(#600000 0.5px,#6b0000 48.5px,#770000 67.5px,#890000 85.5px,#9c0000 92.5px,#b60000 99.5px,#d30000 105.5px,#fa0000 112.5px,#ff0a00 114.5px,#ff5100 122.5px,#ff6e00 125.5px,#ff9e00 129.5px,#f8db02 135.5px,#e6f814 138.5px,#d0fa28 139.5px,#81fa70 142.5px,#61fd8f 144.5px,#43feae 146.5px,#06f1f8 151.5px,#00eaff 152.5px,#00ddff 153.5px,#00b6ff 157.5px,#00a7ff 160.5px,#00a5ff 169.5px,#00aaff 172.5px,#00b3ff 174.5px,#00c4ff 176.5px,#00ebff 179.5px,#09f2f4 180.5px,#26f8d1 182.5px,#48fea9 184.5px,#6ffc81 186.5px,#87fa6a 187.5px,#d1fa27 189.5px,#eaf410 190.5px,#f9d701 192.5px,#ff9b00 196.5px,#ff6600 199.5px,#ff0700 206.5px,#fb0000 207.5px,#c00000 214.5px,#960000 221.5px,#7e0000 228.5px,#750000 236.5px,#7d0000 243.5px,#950000 250.5px,#a70000 253.5px,#bf0000 256.5px,#de0000 259.5px,#f80000 261.5px,#ff0a00 262.5px,#ff3600 264.5px,#ff6a00 266.5px,#ff8d00 267.5px,#f8d502 269.5px,#d7f621 270.5px,#76fb7b 271.5px,#29f9cd 272.5px,#00beff 273.5px,#0057ff 274.5px,#0009ff 275.5px,#8080ff 276.5px,#ffffff 277.5px,#ffffff 323.5px) 44px 0/2px 100% no-repeat,linear-gradient(#600000 0.5px,#6b0000 48.5px,#770000 67.5px,#8a0000 86.5px,#990000 92.5px,#b30000 99.5px,#d40000 106.5px,#fc0000 113.5px,#ff1600 116.5px,#ff6800 125.5px,#ffa300 130.5px,#fad500 135.5px,#eaf210 138.5px,#dff91a 139.5px,#8ffa62 142.5px,#7afb76 143.5px,#5cfd94 145.5px,#26f8d0 149.5px,#06f1f8 152.5px,#00ebfe 153.5px,#00e0ff 154.5px,#00c4ff 157.5px,#00b5ff 160.5px,#00b3ff 169.5px,#00b7ff 172.5px,#00bfff 174.5px,#00ceff 176.5px,#03f0fc 179.5px,#29f9cd 182.5px,#4afea6 184.5px,#71fb7f 186.5px,#89fa68 187.5px,#d3fa25 189.5px,#eaf310 190.5px,#f9d701 192.5px,#ff9b00 196.5px,#ff6600 199.5px,#ff0700 206.5px,#fb0000 207.5px,#c00000 214.5px,#970000 221.5px,#7e0000 228.5px,#750000 236.5px,#7d0000 243.5px,#950000 250.5px,#a70000 253.5px,#bf0000 256.5px,#de0000 259.5px,#f80000 261.5px,#ff0a00 262.5px,#ff3600 264.5px,#ff6a00 266.5px,#ff8d00 267.5px,#f8d502 269.5px,#d7f621 270.5px,#76fb7b 271.5px,#29f9cd 272.5px,#00beff 273.5px,#0057ff 274.5px,#0009ff 275.5px,#8080ff 276.5px,#ffffff 277.5px,#ffffff 323.5px) 46px 0/2px 100% no-repeat,linear-gradient(#600000 0.5px,#6b0000 49.5px,#780000 69.5px,#8c0000 88.5px,#9d0000 94.5px,#b80000 101.5px,#fe0100 114.5px,#ff6c00 126.5px,#ff9c00 130.5px,#f9d901 136.5px,#e8f612 139.5px,#d6fa22 140.5px,#87fa69 143.5px,#67fc89 145.5px,#4bfea6 147.5px,#11f4eb 152.5px,#01eefd 154.5px,#00e5ff 155.5px,#00cdff 158.5px,#00c5ff 160.5px,#00c2ff 169.5px,#00cdff 174.5px,#00daff 176.5px,#01eefe 178.5px,#09f2f5 179.5px,#20f7d8 181.5px,#3dfdb5 183.5px,#60fd90 185.5px,#8cfa65 187.5px,#d5fa23 189.5px,#eaf210 190.5px,#f9d601 192.5px,#ff9b00 196.5px,#ff6600 199.5px,#ff1500 205.5px,#fc0000 207.5px,#c10000 214.5px,#980000 221.5px,#7c0000 229.5px,#750000 236.5px,#7d0000 243.5px,#950000 250.5px,#a70000 253.5px,#bf0000 256.5px,#de0000 259.5px,#f80000 261.5px,#ff0a00 262.5px,#ff3600 264.5px,#ff6a00 266.5px,#ff8d00 267.5px,#f8d502 269.5px,#d7f621 270.5px,#76fb7b 271.5px,#29f9cd 272.5px,#00beff 273.5px,#0057ff 274.5px,#0009ff 275.5px,#8080ff 276.5px,#ffffff 277.5px,#ffffff 323.5px) 48px 0/2px 100% no-repeat,linear-gradient(#600000 0.5px,#6c0000 50.5px,#790000 70.5px,#8c0000 89.5px,#9a0000 94.5px,#b40000 101.5px,#d10000 107.5px,#fa0000 114.5px,#ff0a00 116.5px,#ff5300 124.5px,#ff7000 127.5px,#ffa100 131.5px,#fad300 136.5px,#e4f815 140.5px,#82fa6e 144.5px,#56fe9a 147.5px,#31fbc3 150.5px,#13f4e7 153.5px,#04f0fa 155.5px,#00e4ff 157.5px,#00d3ff 161.5px,#00d2ff 169.5px,#00d8ff 173.5px,#01eefe 177.5px,#10f3ec 179.5px,#26f8d1 181.5px,#42feaf 183.5px,#64fd8c 185.5px,#77fb79 186.5px,#91fa61 187.5px,#d8fa20 189.5px,#ebf10f 190.5px,#fad601 192.5px,#ff9a00 196.5px,#ff6700 199.5px,#ff1500 205.5px,#fc0000 207.5px,#c20000 214.5px,#990000 221.5px,#7d0000 229.5px,#750000 236.5px,#7d0000 243.5px,#950000 250.5px,#a70000 253.5px,#bf0000 256.5px,#de0000 259.5px,#f80000 261.5px,#ff0a00 262.5px,#ff3600 264.5px,#ff6a00 266.5px,#ff8d00 267.5px,#f8d502 269.5px,#d7f621 270.5px,#76fb7b 271.5px,#29f9cd 272.5px,#00beff 273.5px,#0057ff 274.5px,#0009ff 275.5px,#8080ff 276.5px,#ffffff 277.5px,#ffffff 323.5px) 50px 0/2px 100% no-repeat,linear-gradient(#600000 0.5px,#6c0000 51.5px,#7a0000 71.5px,#8e0000 91.5px,#ba0000 103.5px,#fc0000 115.5px,#ff1600 118.5px,#ff6900 127.5px,#ffa400 132.5px,#fad600 137.5px,#eaf210 140.5px,#e0f919 141.5px,#7ffa71 145.5px,#49fea7 149.5px,#29f9cd 152.5px,#10f3eb 155.5px,#05f1fa 157.5px,#00e7ff 160.5px,#00e4ff 170.5px,#01eefd 175.5px,#09f2f3 177.5px,#18f5e2 179.5px,#2dfac9 181.5px,#47fea9 183.5px,#68fc88 185.5px,#7bfb75 186.5px,#96fa5c 187.5px,#dcfa1d 189.5px,#ecf00e 190.5px,#fad500 192.5px,#ff9a00 196.5px,#ff6700 199.5px,#ff1600 205.5px,#fc0000 207.5px,#c30000 214.5px,#9a0000 221.5px,#7e0000 229.5px,#750000 236.5px,#7d0000 243.5px,#950000 250.5px,#a70000 253.5px,#bf0000 256.5px,#de0000 259.5px,#f80000 261.5px,#ff0a00 262.5px,#ff3600 264.5px,#ff6a00 266.5px,#ff8d00 267.5px,#f8d502 269.5px,#d7f621 270.5px,#76fb7b 271.5px,#29f9cd 272.5px,#00beff 273.5px,#0057ff 274.5px,#0009ff 275.5px,#8080ff 276.5px,#ffffff 277.5px,#ffffff 323.5px) 52px 0/2px 100% no-repeat,linear-gradient(#600000 0.5px,#6c0000 51.5px,#790000 71.5px,#8f0000 92.5px,#9e0000 97.5px,#ba0000 104.5px,#fd0000 116.5px,#ff1800 119.5px,#ff6200 127.5px,#ff9d00 132.5px,#f9d801 138.5px,#e9f411 141.5px,#dcfa1d 142.5px,#92fa60 145.5px,#7efa72 146.5px,#4bfea5 150.5px,#2dfac9 153.5px,#17f5e3 156.5px,#09f2f4 159.5px,#05f1f9 161.5px,#04f0fa 168.5px,#07f1f7 173.5px,#0ff3ec 176.5px,#21f7d6 179.5px,#35fbbf 181.5px,#4efea2 183.5px,#80fa70 186.5px,#9dfa56 187.5px,#dff91a 189.5px,#ecef0e 190.5px,#fad400 192.5px,#ff9a00 196.5px,#ff6700 199.5px,#ff1700 205.5px,#fd0100 207.5px,#c40000 214.5px,#9b0000 221.5px,#820000 228.5px,#750000 236.5px,#7d0000 243.5px,#950000 250.5px,#a70000 253.5px,#bf0000 256.5px,#de0000 259.5px,#f80000 261.5px,#ff0a00 262.5px,#ff3600 264.5px,#ff6a00 266.5px,#ff8d00 267.5px,#f8d502 269.5px,#d7f621 270.5px,#76fb7b 271.5px,#29f9cd 272.5px,#00beff 273.5px,#0057ff 274.5px,#0009ff 275.5px,#8080ff 276.5px,#ffffff 277.5px,#ffffff 323.5px) 54px 0/2px 100% no-repeat,linear-gradient(#600000 0.5px,#6c0000 52.5px,#7a0000 72.5px,#8f0000 93.5px,#9e0000 98.5px,#b60000 104.5px,#fe0100 117.5px,#ff6500 128.5px,#ffa000 133.5px,#f8da02 139.5px,#e8f612 142.5px,#d9fa20 143.5px,#91fa61 146.5px,#7efa72 147.5px,#4efea2 151.5px,#33fbc2 154.5px,#1ff7d9 157.5px,#15f4e6 160.5px,#11f4ea 168.5px,#14f4e7 173.5px,#1bf6de 176.5px,#2cf9ca 179.5px,#3dfdb5 181.5px,#63fd8d 184.5px,#87fa6a 186.5px,#e3f817 189.5px,#fad300 192.5px,#fea900 195.5px,#ff6700 199.5px,#fd0100 207.5px,#c50000 214.5px,#9c0000 221.5px,#840000 228.5px,#760000 237.5px,#7f0000 244.5px,#9b0000 251.5px,#bf0000 256.5px,#de0000 259.5px,#f80000 261.5px,#ff0a00 262.5px,#ff3600 264.5px,#ff6a00 266.5px,#ff8d00 267.5px,#f8d502 269.5px,#d7f621 270.5px,#76fb7b 271.5px,#29f9cd 272.5px,#00beff 273.5px,#0057ff 274.5px,#0009ff 275.5px,#8080ff 276.5px,#ffffff 277.5px,#ffffff 323.5px) 56px 0/2px 100% no-repeat,linear-gradient(#600000 0.5px,#6c0000 52.5px,#7a0000 73.5px,#900000 94.5px,#9a0000 98.5px,#b60000 105.5px,#fa0000 117.5px,#ff0a00 119.5px,#ff4b00 126.5px,#ff7200 130.5px,#ffa200 134.5px,#f7dc03 140.5px,#e7f612 143.5px,#d8fa21 144.5px,#93fa5f 147.5px,#80fa70 148.5px,#5dfd93 151.5px,#41feb0 154.5px,#2efac7 157.5px,#23f8d4 160.5px,#20f7d8 169.5px,#22f7d6 173.5px,#28f9ce 176.5px,#37fcbc 179.5px,#47ffa9 181.5px,#7afb76 185.5px,#90fa62 186.5px,#e6f713 189.5px,#fbd100 192.5px,#fea900 195.5px,#ff6700 199.5px,#ff3200 203.5px,#fe0100 207.5px,#f60000 208.5px,#bf0000 215.5px,#9a0000 222.5px,#810000 230.5px,#770000 239.5px,#820000 245.5px,#9b0000 251.5px,#bf0000 256.5px,#de0000 259.5px,#f80000 261.5px,#ff0a00 262.5px,#ff3600 264.5px,#ff6a00 266.5px,#ff8d00 267.5px,#f8d502 269.5px,#d7f621 270.5px,#76fb7b 271.5px,#29f9cd 272.5px,#00beff 273.5px,#0057ff 274.5px,#0009ff 275.5px,#8080ff 276.5px,#ffffff 277.5px,#ffffff 323.5px) 58px 0/2px 100% no-repeat,linear-gradient(#600000 0.5px,#6c0000 53.5px,#7a0000 74.5px,#910000 96.5px,#bb0000 107.5px,#fb0000 118.5px,#ff0c00 120.5px,#ff4d00 127.5px,#ff6900 130.5px,#ff9900 134.5px,#fad400 140.5px,#e7f613 144.5px,#d8fa20 145.5px,#84fa6d 149.5px,#62fd8e 152.5px,#49fea7 155.5px,#39fcba 158.5px,#33fbc2 160.5px,#2ffac6 169.5px,#30fac4 173.5px,#36fcbe 176.5px,#43feae 179.5px,#52fe9e 181.5px,#67fc89 183.5px,#83fa6e 185.5px,#9bfa57 186.5px,#d5fa23 188.5px,#e9f511 189.5px,#fbd000 192.5px,#fea800 195.5px,#ff6700 199.5px,#ff3300 203.5px,#fe0200 207.5px,#f70000 208.5px,#ba0000 216.5px,#980000 223.5px,#820000 231.5px,#790000 240.5px,#850000 246.5px,#a00000 252.5px,#c80000 257.5px,#f80000 261.5px,#ff0a00 262.5px,#ff3600 264.5px,#ff6a00 266.5px,#ff8d00 267.5px,#f8d502 269.5px,#d7f621 270.5px,#76fb7b 271.5px,#29f9cd 272.5px,#00beff 273.5px,#0057ff 274.5px,#0009ff 275.5px,#8080ff 276.5px,#ffffff 277.5px,#ffffff 323.5px) 60px 0/2px 100% no-repeat,linear-gradient(#600000 0.5px,#640000 30.5px,#6c0000 54.5px,#7b0000 75.5px,#910000 97.5px,#a10000 102.5px,#bc0000 108.5px,#fc0000 119.5px,#ff0d00 121.5px,#ff6100 130.5px,#ff9b00 135.5px,#fad400 141.5px,#e8f612 145.5px,#dbfa1e 146.5px,#8bfa66 150.5px,#72fb7e 152.5px,#5afd96 155.5px,#49fea7 158.5px,#41feb0 161.5px,#3efdb3 170.5px,#44feac 176.5px,#50fea0 179.5px,#5efd92 181.5px,#7dfa73 184.5px,#90fa62 185.5px,#defa1b 188.5px,#ebf20f 189.5px,#fbce00 192.5px,#fea700 195.5px,#ff6800 199.5px,#ff4000 202.5px,#ff0300 207.5px,#f80000 208.5px,#bc0000 216.5px,#9a0000 223.5px,#830000 232.5px,#7c0000 242.5px,#8c0000 248.5px,#a70000 253.5px,#c80000 257.5px,#f80000 261.5px,#ff0a00 262.5px,#ff3600 264.5px,#ff6a00 266.5px,#ff8d00 267.5px,#f8d502 269.5px,#d7f621 270.5px,#76fb7b 271.5px,#29f9cd 272.5px,#00beff 273.5px,#0057ff 274.5px,#0009ff 275.5px,#8080ff 276.5px,#ffffff 277.5px,#ffffff 323.5px) 62px 0/2px 100% no-repeat,linear-gradient(#600000 0.5px,#640000 30.5px,#6c0000 54.5px,#7a0000 75.5px,#910000 98.5px,#9d0000 102.5px,#b70000 108.5px,#fc0000 120.5px,#ff0e00 122.5px,#ff6200 131.5px,#fea600 137.5px,#fad400 142.5px,#e9f411 146.5px,#dff91a 147.5px,#ccfa2b 148.5px,#85fa6b 152.5px,#72fb7e 154.5px,#5ffd91 157.5px,#52fe9e 161.5px,#50fea0 173.5px,#54fe9c 176.5px,#5efd92 179.5px,#7dfa74 183.5px,#9ffa54 185.5px,#e5f814 188.5px,#f9d801 191.5px,#fea600 195.5px,#ff6800 199.5px,#ff4100 202.5px,#ff0400 207.5px,#f90000 208.5px,#be0000 216.5px,#9c0000 223.5px,#860000 232.5px,#800000 242.5px,#850000 246.5px,#a00000 252.5px,#c80000 257.5px,#f80000 261.5px,#ff0a00 262.5px,#ff3600 264.5px,#ff6a00 266.5px,#ff8d00 267.5px,#f8d502 269.5px,#d7f621 270.5px,#76fb7b 271.5px,#29f9cd 272.5px,#00beff 273.5px,#0057ff 274.5px,#0009ff 275.5px,#8080ff 276.5px,#ffffff 277.5px,#ffffff 323.5px) 64px 0/2px 100% no-repeat,linear-gradient(#600000 0.5px,#6c0000 54.5px,#7a0000 76.5px,#910000 99.5px,#9d0000 103.5px,#b70000 109.5px,#fd0000 121.5px,#ff0f00 123.5px,#ff6300 132.5px,#fea600 138.5px,#fad300 143.5px,#ebf20f 147.5px,#e4f815 148.5px,#d5fa23 149.5px,#93fa5f 153.5px,#7dfa73 155.5px,#71fb7f 157.5px,#64fd8c 161.5px,#60fd90 172.5px,#69fc87 178.5px,#80fa70 182.5px,#9dfa55 184.5px,#ddfa1c 187.5px,#e9f411 188.5px,#fad500 191.5px,#ffa500 195.5px,#ff6800 199.5px,#ff4200 202.5px,#ff0600 207.5px,#fb0000 208.5px,#c00000 216.5px,#9f0000 223.5px,#8b0000 231.5px,#840000 241.5px,#850000 246.5px,#9b0000 251.5px,#bf0000 256.5px,#de0000 259.5px,#f80000 261.5px,#ff0a00 262.5px,#ff3600 264.5px,#ff6a00 266.5px,#ff8d00 267.5px,#f8d502 269.5px,#d7f621 270.5px,#76fb7b 271.5px,#29f9cd 272.5px,#00beff 273.5px,#0057ff 274.5px,#0009ff 275.5px,#8080ff 276.5px,#ffffff 277.5px,#ffffff 323.5px) 66px 0/2px 100% no-repeat,linear-gradient(#600000 0.5px,#640000 31.5px,#6c0000 55.5px,#7b0000 77.5px,#910000 100.5px,#9d0000 104.5px,#b70000 110.5px,#fd0100 122.5px,#ff0f00 124.5px,#ff6400 133.5px,#fea600 139.5px,#fbd100 144.5px,#e8f512 149.5px,#dff91a 150.5px,#d0fa28 151.5px,#98fa5a 155.5px,#85fa6b 157.5px,#7bfb75 159.5px,#76fb7a 162.5px,#73fb7d 174.5px,#7afb76 178.5px,#8bfa66 181.5px,#b2fa43 184.5px,#e7f713 187.5px,#fad200 191.5px,#ffa300 195.5px,#ff6800 199.5px,#ff1300 206.5px,#fc0000 208.5px,#c20000 216.5px,#a20000 223.5px,#8e0000 231.5px,#880000 240.5px,#8a0000 247.5px,#9b0000 251.5px,#bf0000 256.5px,#de0000 259.5px,#f80000 261.5px,#ff0a00 262.5px,#ff3600 264.5px,#ff6a00 266.5px,#ff8d00 267.5px,#f8d502 269.5px,#d7f621 270.5px,#76fb7b 271.5px,#29f9cd 272.5px,#00beff 273.5px,#0057ff 274.5px,#0009ff 275.5px,#8080ff 276.5px,#ffffff 277.5px,#ffffff 323.5px) 68px 0/2px 100% no-repeat,linear-gradient(#600000 0.5px,#6c0000 55.5px,#7a0000 77.5px,#910000 101.5px,#9c0000 105.5px,#b60000 111.5px,#fd0100 123.5px,#ff0f00 125.5px,#ff6d00 135.5px,#ffa500 140.5px,#fad601 146.5px,#e7f613 151.5px,#d1fa27 153.5px,#a4fa4f 157.5px,#92fa60 160.5px,#88fa69 174.5px,#8dfa64 177.5px,#9cfa57 180.5px,#b9fa3c 183.5px,#e5f815 186.5px,#f9d801 190.5px,#fbce00 191.5px,#ffa100 195.5px,#ff6700 199.5px,#ff2000 205.5px,#fd0100 208.5px,#cb0000 215.5px,#a80000 222.5px,#940000 230.5px,#8d0000 239.5px,#900000 248.5px,#950000 250.5px,#a70000 253.5px,#bf0000 256.5px,#de0000 259.5px,#f80000 261.5px,#ff0a00 262.5px,#ff3600 264.5px,#ff6a00 266.5px,#ff8d00 267.5px,#f8d502 269.5px,#d7f621 270.5px,#76fb7b 271.5px,#29f9cd 272.5px,#00beff 273.5px,#0057ff 274.5px,#0009ff 275.5px,#8080ff 276.5px,#ffffff 277.5px,#ffffff 323.5px) 70px 0/2px 100% no-repeat,linear-gradient(#600000 0.5px,#640000 32.5px,#6c0000 56.5px,#7b0000 79.5px,#920000 103.5px,#bb0000 113.5px,#fd0100 124.5px,#ff0f00 126.5px,#ff6c00 136.5px,#ffa300 141.5px,#fcbc00 144.5px,#f8d902 148.5px,#e8f612 153.5px,#d8fa20 155.5px,#befa38 158.5px,#b0fa45 161.5px,#a6fa4d 174.5px,#aafa4a 177.5px,#b7fa3e 180.5px,#c7fa30 182.5px,#e7f713 185.5px,#fad300 190.5px,#ff9f00 195.5px,#ff6700 199.5px,#ff2100 205.5px,#fe0200 208.5px,#f70000 209.5px,#c80000 216.5px,#a80000 223.5px,#980000 230.5px,#920000 239.5px,#9b0000 251.5px,#bf0000 256.5px,#de0000 259.5px,#f80000 261.5px,#ff0a00 262.5px,#ff3600 264.5px,#ff6a00 266.5px,#ff8d00 267.5px,#f8d502 269.5px,#d7f621 270.5px,#76fb7b 271.5px,#29f9cd 272.5px,#00beff 273.5px,#0057ff 274.5px,#0009ff 275.5px,#8080ff 276.5px,#ffffff 277.5px,#ffffff 323.5px) 72px 0/2px 100% no-repeat,linear-gradient(#600000 0.5px,#640000 32.5px,#6c0000 57.5px,#7a0000 79.5px,#910000 104.5px,#ba0000 114.5px,#fc0000 125.5px,#ff0600 126.5px,#ff6a00 137.5px,#ffa000 142.5px,#fdb800 145.5px,#fad400 149.5px,#f2e508 152.5px,#eaf310 155.5px,#def91b 158.5px,#d0fa28 162.5px,#c6fa31 175.5px,#cffa29 179.5px,#e0f919 182.5px,#ecf00e 185.5px,#fad600 189.5px,#fdb300 193.5px,#ff9d00 195.5px,#ff6700 199.5px,#ff2e00 204.5px,#ff0300 208.5px,#fa0000 209.5px,#cb0000 216.5px,#b00000 222.5px,#9e0000 229.5px,#980000 237.5px,#a20000 252.5px,#ae0000 254.5px,#c80000 257.5px,#f80000 261.5px,#ff0a00 262.5px,#ff3600 264.5px,#ff6a00 266.5px,#ff8d00 267.5px,#f8d502 269.5px,#d7f621 270.5px,#76fb7b 271.5px,#29f9cd 272.5px,#00beff 273.5px,#0057ff 274.5px,#0009ff 275.5px,#8080ff 276.5px,#ffffff 277.5px,#ffffff 323.5px) 74px 0/2px 100% no-repeat,linear-gradient(#600000 0.5px,#6b0000 57.5px,#7a0000 80.5px,#910000 105.5px,#ba0000 115.5px,#fc0000 126.5px,#ff0e00 128.5px,#ff6800 138.5px,#ff9c00 143.5px,#fdbb00 147.5px,#fad400 151.5px,#f1e709 155.5px,#eaf210 159.5px,#e8f512 162.5px,#e3f817 174.5px,#e6f713 179.5px,#ecef0e 183.5px,#f3e307 186.5px,#fbc900 190.5px,#ffa500 194.5px,#ff6700 199.5px,#ff1000 207.5px,#fc0000 209.5px,#ce0000 216.5px,#b40000 222.5px,#a30000 229.5px,#9e0000 236.5px,#a10000 244.5px,#ab0000 253.5px,#af0000 254.5px,#c80000 257.5px,#f80000 261.5px,#ff0a00 262.5px,#ff3600 264.5px,#ff6a00 266.5px,#ff8d00 267.5px,#f8d502 269.5px,#d7f621 270.5px,#76fb7b 271.5px,#29f9cd 272.5px,#00beff 273.5px,#0057ff 274.5px,#0009ff 275.5px,#8080ff 276.5px,#ffffff 277.5px,#ffffff 323.5px) 76px 0/2px 100% no-repeat,linear-gradient(#600000 0.5px,#6b0000 58.5px,#790000 81.5px,#900000 106.5px,#b90000 116.5px,#fb0000 127.5px,#ff0c00 129.5px,#ff6f00 140.5px,#ffa000 145.5px,#fdb600 148.5px,#f8db02 155.5px,#f0e90a 162.5px,#edee0d 178.5px,#f2e608 183.5px,#fad600 187.5px,#fcc400 190.5px,#ffa200 194.5px,#ff6600 199.5px,#fe0100 209.5px,#d20000 216.5px,#b80000 222.5px,#aa0000 228.5px,#a40000 235.5px,#a80000 244.5px,#b80000 255.5px,#d30000 258.5px,#f80000 261.5px,#ff0a00 262.5px,#ff3600 264.5px,#ff6a00 266.5px,#ff8d00 267.5px,#f8d502 269.5px,#d7f621 270.5px,#76fb7b 271.5px,#29f9cd 272.5px,#00beff 273.5px,#0057ff 274.5px,#0009ff 275.5px,#8080ff 276.5px,#ffffff 277.5px,#ffffff 323.5px) 78px 0/2px 100% no-repeat,linear-gradient(#600000 0.5px,#6b0000 58.5px,#780000 81.5px,#8f0000 107.5px,#b80000 117.5px,#f90000 128.5px,#ff0a00 130.5px,#ffa200 147.5px,#fcc500 153.5px,#f8db02 160.5px,#f3e307 176.5px,#f8da02 184.5px,#fcbe00 190.5px,#ff9e00 194.5px,#ff7000 198.5px,#ff0200 209.5px,#d60000 216.5px,#c00000 221.5px,#b10000 227.5px,#ab0000 234.5px,#b00000 244.5px,#c30000 256.5px,#d30000 258.5px,#f80000 261.5px,#ff0a00 262.5px,#ff3600 264.5px,#ff6a00 266.5px,#ff8d00 267.5px,#f8d502 269.5px,#d7f621 270.5px,#76fb7b 271.5px,#29f9cd 272.5px,#00beff 273.5px,#0057ff 274.5px,#0009ff 275.5px,#8080ff 276.5px,#ffffff 277.5px,#ffffff 323.5px) 80px 0/2px 100% no-repeat,linear-gradient(#600000 0.5px,#6a0000 58.5px,#780000 82.5px,#8e0000 108.5px,#b70000 118.5px,#f80000 129.5px,#ff0800 131.5px,#ff9b00 148.5px,#fdb800 153.5px,#fbce00 160.5px,#f9d701 177.5px,#fbcd00 185.5px,#fdb100 191.5px,#ff9a00 194.5px,#ff6e00 198.5px,#ff2b00 205.5px,#ff0600 209.5px,#fd0000 210.5px,#da0000 216.5px,#c20000 222.5px,#b60000 228.5px,#b20000 234.5px,#b90000 244.5px,#d00000 257.5px,#de0000 259.5px,#f80000 261.5px,#ff0a00 262.5px,#ff3600 264.5px,#ff6a00 266.5px,#ff8d00 267.5px,#f8d502 269.5px,#d7f621 270.5px,#75fb7b 271.5px,#29f9cd 272.5px,#00bdff 273.5px,#0057ff 274.5px,#0009ff 275.5px,#8080ff 276.5px,#ffffff 277.5px,#ffffff 323.5px) 82px 0/2px 100% no-repeat,linear-gradient(#600000 0.5px,#6a0000 58.5px,#760000 81.5px,#8b0000 108.5px,#960000 112.5px,#b00000 118.5px,#fc0000 131.5px,#ff0500 132.5px,#ff9200 149.5px,#feaf00 154.5px,#fcc200 161.5px,#fbcb00 178.5px,#fcc100 186.5px,#ffa500 192.5px,#fe0200 210.5px,#de0000 216.5px,#cb0000 221.5px,#be0000 227.5px,#ba0000 233.5px,#c10000 243.5px,#d70000 255.5px,#e20000 259.5px,#f80000 261.5px,#ff0a00 262.5px,#ff3600 264.5px,#ff6a00 266.5px,#ff8e00 267.5px,#f8d602 269.5px,#d6f622 270.5px,#75fc7c 271.5px,#29f9ce 272.5px,#00bdff 273.5px,#0056ff 274.5px,#0009ff 275.5px,#8080ff 276.5px,#ffffff 277.5px,#ffffff 323.5px) 84px 0/2px 100% no-repeat,linear-gradient(#600000 0.5px,#6a0000 59.5px,#8a0000 109.5px,#950000 113.5px,#af0000 119.5px,#fa0000 132.5px,#ff0a00 134.5px,#ff8800 150.5px,#ffa500 155.5px,#fdb400 161.5px,#fcbf00 179.5px,#fdb700 186.5px,#ff9f00 192.5px,#ff1500 208.5px,#fd0000 211.5px,#e30000 216.5px,#d10000 221.5px,#c60000 226.5px,#c20000 232.5px,#c60000 239.5px,#d20000 247.5px,#ee0000 259.5px,#f90000 261.5px,#ff0b00 262.5px,#ff3600 264.5px,#ff6a00 266.5px,#ff8e00 267.5px,#f8d602 269.5px,#d6f622 270.5px,#74fc7c 271.5px,#28f9ce 272.5px,#00bcff 273.5px,#0055ff 274.5px,#0009ff 275.5px,#8080ff 276.5px,#ffffff 277.5px,#ffffff 323.5px) 86px 0/2px 100% no-repeat,linear-gradient(#600000 0.5px,#690000 59.5px,#880000 110.5px,#980000 115.5px,#b20000 121.5px,#fd0100 134.5px,#ff5c00 146.5px,#ff8400 152.5px,#ff9900 156.5px,#fea600 161.5px,#fdb300 180.5px,#feae00 186.5px,#ff9d00 191.5px,#ff8200 195.5px,#ff0a00 210.5px,#fc0000 212.5px,#d70000 221.5px,#cd0000 226.5px,#ca0000 231.5px,#d60000 243.5px,#fa0000 258.5px,#ff0600 261.5px,#ff0d00 262.5px,#ff2000 263.5px,#ff4f00 265.5px,#ff6b00 266.5px,#ff8f00 267.5px,#f8d703 269.5px,#d5f723 270.5px,#73fc7e 271.5px,#27f8d0 272.5px,#00baff 273.5px,#0054ff 274.5px,#0008ff 275.5px,#8080ff 276.5px,#ffffff 277.5px,#ffffff 323.5px) 88px 0/2px 100% no-repeat,linear-gradient(#600000 0.5px,#690000 59.5px,#870000 111.5px,#960000 116.5px,#b00000 122.5px,#fa0000 135.5px,#fe0300 136.5px,#ff5b00 148.5px,#ff8b00 157.5px,#ff9600 162.5px,#fea700 181.5px,#ffa200 187.5px,#ff8f00 192.5px,#ff0200 212.5px,#de0000 221.5px,#d30000 230.5px,#dc0000 240.5px,#fa0000 253.5px,#ff0a00 257.5px,#ff2600 263.5px,#ff3800 264.5px,#ff5000 265.5px,#ff6c00 266.5px,#ff9000 267.5px,#f7d803 269.5px,#d2f726 270.5px,#70fc80 271.5px,#24f8d3 272.5px,#00b6ff 273.5px,#0051ff 274.5px,#0007ff 275.5px,#8080ff 276.5px,#ffffff 277.5px,#ffffff 323.5px) 90px 0/2px 100% no-repeat,linear-gradient(#600000 0.5px,#680000 60.5px,#850000 112.5px,#950000 117.5px,#ae0000 123.5px,#fc0100 137.5px,#ff5300 149.5px,#ff7c00 158.5px,#ff8400 162.5px,#ff9a00 182.5px,#ff9400 188.5px,#ff8200 193.5px,#ff5800 200.5px,#ff0200 213.5px,#e60000 221.5px,#dd0000 229.5px,#e40000 238.5px,#fa0000 248.5px,#ff0e00 253.5px,#ff4200 264.5px,#ff5200 265.5px,#ff6e00 266.5px,#ff9200 267.5px,#f7da04 269.5px,#cdf82a 270.5px,#6bfc85 271.5px,#20f7d8 272.5px,#00b0ff 273.5px,#004bff 274.5px,#0005ff 275.5px,#9f9fff 276.5px,#ffffff 277.5px,#ffffff 323.5px) 92px 0/2px 100% no-repeat,linear-gradient(#600000 0.5px,#680000 60.5px,#830000 113.5px,#ac0000 124.5px,#f90000 138.5px,#ff0700 140.5px,#ff4a00 150.5px,#ff6700 157.5px,#ff7100 161.5px,#ff8500 176.5px,#ff8b00 184.5px,#ff8700 189.5px,#ff7600 194.5px,#ff5800 200.5px,#ff1400 211.5px,#fe0100 215.5px,#ec0000 222.5px,#e70000 228.5px,#ec0000 235.5px,#f90000 242.5px,#ff0600 246.5px,#ff1600 250.5px,#ff5b00 264.5px,#ff6100 265.5px,#ff7200 266.5px,#ff9500 267.5px,#f5dd05 269.5px,#c5f932 270.5px,#64fc8c 271.5px,#1af4e0 272.5px,#00a6ff 273.5px,#0043ff 274.5px,#0003ff 275.5px,#bfbfff 276.5px,#ffffff 277.5px,#ffffff 323.5px) 94px 0/2px 100% no-repeat,linear-gradient(#5f0000 0.5px,#670000 61.5px,#820000 114.5px,#a90000 125.5px,#fa0000 140.5px,#ff0800 142.5px,#ff4000 151.5px,#ff5900 157.5px,#ff6100 161.5px,#ff7e00 185.5px,#ff7800 191.5px,#ff6400 197.5px,#ff1600 212.5px,#fe0200 217.5px,#f20000 227.5px,#fb0100 237.5px,#ff0800 241.5px,#ff1e00 247.5px,#ff6600 261.5px,#ff8b00 266.5px,#ff9d00 267.5px,#fcbf00 268.5px,#f3e307 269.5px,#b5fa40 270.5px,#58fd98 271.5px,#11eeea 272.5px,#0096ff 273.5px,#0035ff 274.5px,#0000ff 275.5px,#dfdfff 276.5px,#ffffff 277.5px,#ffffff 323.5px) 96px 0/2px 100% no-repeat,linear-gradient(#5f0000 0.5px,#670000 62.5px,#800000 115.5px,#930000 121.5px,#ab0000 127.5px,#fa0000 142.5px,#ff0700 144.5px,#ff3600 152.5px,#ff4d00 158.5px,#ff6c00 180.5px,#ff7200 187.5px,#ff6d00 192.5px,#ff5e00 198.5px,#ff1e00 212.5px,#ff0800 218.5px,#fe0200 222.5px,#fd0200 230.5px,#ff0e00 237.5px,#ff3500 247.5px,#ff6a00 257.5px,#ffa100 264.5px,#fdb800 267.5px,#fbc900 268.5px,#ecec0e 269.5px,#9bfa58 270.5px,#46fcac 271.5px,#07dff6 272.5px,#007dff 273.5px,#0020ff 274.5px,#2020ff 275.5px,#ffffff 276.5px,#ffffff 323.5px) 98px 0/2px 100% no-repeat,linear-gradient(#5f0000 0.5px,#660000 61.5px,#7d0000 115.5px,#8a0000 120.5px,#a40000 127.5px,#fa0000 144.5px,#ff0600 146.5px,#ff2c00 153.5px,#ff4100 159.5px,#ff6200 181.5px,#ff6800 189.5px,#ff6500 194.5px,#ff5900 199.5px,#ff1600 217.5px,#ff0e00 222.5px,#ff0d00 227.5px,#ff1c00 235.5px,#ff3a00 243.5px,#ff6800 252.5px,#ff9e00 259.5px,#f8d502 266.5px,#f5de05 268.5px,#d7f621 269.5px,#77fb7a 270.5px,#2af9cc 271.5px,#01befe 272.5px,#0058ff 273.5px,#000aff 274.5px,#8080ff 275.5px,#ffffff 276.5px,#ffffff 323.5px) 100px 0/2px 100% no-repeat,linear-gradient(#5f0000 0.5px,#660000 62.5px,#7c0000 116.5px,#8b0000 122.5px,#a20000 128.5px,#f90000 146.5px,#ff0400 148.5px,#ff2200 154.5px,#ff3400 160.5px,#ff5b00 183.5px,#ff6100 190.5px,#ff5800 199.5px,#ff2300 217.5px,#ff1d00 222.5px,#ff1d00 226.5px,#ff2a00 233.5px,#ff4800 241.5px,#ff6d00 248.5px,#fea300 255.5px,#f9d201 261.5px,#f3e307 263.5px,#e5f215 265.5px,#e2f618 268.5px,#a2fa51 269.5px,#4bfca7 270.5px,#0be3f2 271.5px,#0084ff 272.5px,#0026ff 273.5px,#1516ff 274.5px,#f4f4ff 275.5px,#ffffff 276.5px,#ffffff 323.5px) 102px 0/2px 100% no-repeat,linear-gradient(#5f0000 0.5px,#650000 63.5px,#7a0000 117.5px,#890000 123.5px,#9f0000 129.5px,#fe0200 150.5px,#ff1b00 156.5px,#ff2700 160.5px,#ff5300 184.5px,#ff5b00 191.5px,#ff5800 199.5px,#ff3100 216.5px,#ff2d00 224.5px,#ff3900 231.5px,#ff5200 238.5px,#ff7200 244.5px,#ffa000 250.5px,#face01 256.5px,#f5df05 258.5px,#e9ef11 260.5px,#dcf41d 261.5px,#a4fa50 264.5px,#9cfa56 268.5px,#5bfc96 269.5px,#15ece5 270.5px,#009aff 271.5px,#0039ff 272.5px,#0b0eff 273.5px,#cacaff 274.5px,#ffffff 275.5px,#ffffff 323.5px) 104px 0/2px 100% no-repeat,linear-gradient(#5f0000 0.5px,#650000 64.5px,#780000 118.5px,#9c0000 130.5px,#fc0100 152.5px,#ff1c00 161.5px,#ff4d00 185.5px,#ff5700 192.5px,#ff5600 201.5px,#ff3d00 218.5px,#ff4200 226.5px,#ff4f00 231.5px,#ff6600 237.5px,#ff7f00 241.5px,#fea400 246.5px,#f9d201 252.5px,#eeeb0c 255.5px,#d5f623 257.5px,#7bfb75 261.5px,#6cfc84 262.5px,#68fc88 263.5px,#68fc88 267.5px,#51fca1 268.5px,#13e5e8 269.5px,#0091ff 270.5px,#0033ff 271.5px,#2023ff 272.5px,#cacaff 273.5px,#ffffff 274.5px,#ffffff 323.5px) 106px 0/2px 100% no-repeat,linear-gradient(#5f0000 0.5px,#650000 66.5px,#770000 119.5px,#960000 130.5px,#e70000 149.5px,#fc0000 155.5px,#ff5400 193.5px,#ff5800 201.5px,#ff4d00 217.5px,#ff5400 225.5px,#ff6e00 233.5px,#ffa100 241.5px,#fbcd00 247.5px,#ebed0e 251.5px,#d0f828 253.5px,#75fc7c 257.5px,#42fcb0 260.5px,#3dfdb5 261.5px,#3dfdb5 266.5px,#2df6c9 267.5px,#07c4f6 268.5px,#0066ff 269.5px,#0019ff 270.5px,#6a6bff 271.5px,#f4f4ff 272.5px,#ffffff 273.5px,#ffffff 323.5px) 108px 0/2px 100% no-repeat,linear-gradient(#5f0000 0.5px,#640000 66.5px,#750000 119.5px,#910000 130.5px,#e60000 151.5px,#fd0100 159.5px,#ff5500 195.5px,#ff5b00 202.5px,#ff5c00 217.5px,#ff6400 223.5px,#ff7700 229.5px,#fea600 237.5px,#fad001 243.5px,#f5df05 245.5px,#eaef10 247.5px,#ccf82b 249.5px,#72fc7f 253.5px,#4efda3 255.5px,#1cf6de 258.5px,#15f5e5 259.5px,#14f2e6 265.5px,#0bccf2 266.5px,#0077ff 267.5px,#0026ff 268.5px,#5558ff 269.5px,#d4d4ff 270.5px,#ffffff 271.5px,#ffffff 323.5px) 110px 0/2px 100% no-repeat,linear-gradient(#5f0000 0.5px,#640000 68.5px,#740000 120.5px,#8c0000 130.5px,#e40000 153.5px,#fd0000 163.5px,#ff0c00 169.5px,#ff5600 196.5px,#ff7100 220.5px,#ff8600 226.5px,#fea500 232.5px,#fad201 239.5px,#e9f011 243.5px,#cbf92c 245.5px,#86fb6c 248.5px,#3dfcb6 252.5px,#1af4e0 254.5px,#04defa 256.5px,#00d9ff 257.5px,#00d6ff 263.5px,#00b3ff 264.5px,#0062ff 265.5px,#1533ff 266.5px,#7577ff 267.5px,#dfdfff 268.5px,#ffffff 269.5px,#ffffff 323.5px) 112px 0/2px 100% no-repeat,linear-gradient(#5f0000 0.5px,#640000 72.5px,#730000 121.5px,#910000 133.5px,#e20000 155.5px,#fd0000 167.5px,#ff0c00 172.5px,#ff5600 196.5px,#ff8200 218.5px,#feaa00 228.5px,#f9d301 235.5px,#e9f010 239.5px,#cef92a 241.5px,#75fb7c 245.5px,#41fcb2 248.5px,#1ef6db 250.5px,#0feeed 251.5px,#05dff8 252.5px,#01cafe 253.5px,#00b3ff 254.5px,#00a8ff 255.5px,#00a8ff 260.5px,#00a0ff 261.5px,#0076ff 262.5px,#0b41ff 263.5px,#5560ff 264.5px,#aaaaff 265.5px,#ffffff 266.5px,#ffffff 323.5px) 114px 0/2px 100% no-repeat,linear-gradient(#5f0000 0.5px,#640000 76.5px,#730000 122.5px,#900000 134.5px,#de0000 156.5px,#fe0000 170.5px,#ff5600 196.5px,#ff8800 214.5px,#feaa00 223.5px,#f9d401 231.5px,#ebef0f 235.5px,#d3f825 237.5px,#7cfb75 241.5px,#38fbbc 245.5px,#16f4e5 247.5px,#09e9f4 248.5px,#02d7fc 249.5px,#008bff 252.5px,#007eff 253.5px,#007bff 258.5px,#0063ff 259.5px,#0b43ff 260.5px,#5564ff 261.5px,#aaaaff 262.5px,#f4f4ff 263.5px,#ffffff 264.5px,#ffffff 323.5px) 116px 0/2px 100% no-repeat,linear-gradient(#5f0000 0.5px,#640000 80.5px,#730000 123.5px,#8f0000 135.5px,#da0000 157.5px,#fd0000 172.5px,#ff6d00 203.5px,#feac00 219.5px,#fad301 227.5px,#e8f312 232.5px,#ccfa2b 234.5px,#76fb7a 238.5px,#34fbc0 242.5px,#13f3e8 244.5px,#07e8f7 245.5px,#01d5fe 246.5px,#006dff 250.5px,#005dff 251.5px,#005aff 255.5px,#0049ff 256.5px,#1541ff 257.5px,#606dff 258.5px,#aaaaff 259.5px,#f4f4ff 260.5px,#ffffff 261.5px,#ffffff 323.5px) 118px 0/2px 100% no-repeat,linear-gradient(#5f0000 0.5px,#640000 83.5px,#720000 123.5px,#890000 134.5px,#d00000 156.5px,#fe0000 174.5px,#ff6d00 202.5px,#fea900 215.5px,#fad401 224.5px,#e8f412 229.5px,#ddf81c 230.5px,#ccfa2c 231.5px,#8afa68 234.5px,#37fcbc 239.5px,#16f4e5 241.5px,#08ecf5 242.5px,#01dbfe 243.5px,#0073ff 247.5px,#0044ff 249.5px,#003cff 250.5px,#003dff 252.5px,#0033ff 253.5px,#1534ff 254.5px,#6a73ff 255.5px,#bfbfff 256.5px,#ffffff 257.5px,#ffffff 323.5px) 120px 0/2px 100% no-repeat,linear-gradient(#5f0000 0.5px,#640000 86.5px,#720000 124.5px,#8b0000 136.5px,#ca0000 156.5px,#fd0000 175.5px,#ff1500 181.5px,#ff6a00 201.5px,#ffa400 212.5px,#f9d801 222.5px,#e4f716 227.5px,#d5fa23 228.5px,#80fb70 232.5px,#51fe9f 235.5px,#31fac4 237.5px,#10f3ec 239.5px,#04e8fa 240.5px,#00d3ff 241.5px,#003aff 247.5px,#0027ff 248.5px,#0021ff 250.5px,#0b20ff 251.5px,#6067ff 252.5px,#bfbfff 253.5px,#ffffff 254.5px,#ffffff 323.5px) 122px 0/2px 100% no-repeat,linear-gradient(#5f0000 0.5px,#640000 89.5px,#690000 109.5px,#720000 125.5px,#8b0000 137.5px,#c50000 156.5px,#fe0000 177.5px,#ff6a00 201.5px,#ffa400 211.5px,#fad600 220.5px,#e6f714 225.5px,#d8fa20 226.5px,#82fa6f 230.5px,#43feae 234.5px,#12f4e9 237.5px,#04ecfa 238.5px,#00d8ff 239.5px,#0026ff 246.5px,#0014ff 247.5px,#0010ff 248.5px,#2028ff 249.5px,#9fa0ff 250.5px,#f4f4ff 251.5px,#ffffff 252.5px,#ffffff 323.5px) 124px 0/2px 100% no-repeat,linear-gradient(#5f0000 0.5px,#630000 91.5px,#690000 111.5px,#720000 126.5px,#8d0000 139.5px,#fd0000 178.5px,#ff2000 186.5px,#ff6d00 202.5px,#ffa000 210.5px,#f7dc03 220.5px,#e6f814 224.5px,#d5fa24 225.5px,#7dfb73 229.5px,#4ffea1 232.5px,#0df3ef 236.5px,#01e9fd 237.5px,#0082ff 241.5px,#0009ff 246.5px,#0b0eff 247.5px,#9595ff 248.5px,#ffffff 249.5px,#ffffff 323.5px) 126px 0/2px 100% no-repeat,linear-gradient(#5f0000 0.5px,#630000 92.5px,#680000 111.5px,#720000 126.5px,#8f0000 141.5px,#fe0000 180.5px,#ff2800 189.5px,#ff6e00 203.5px,#f9d801 219.5px,#e9f511 223.5px,#dffa1a 224.5px,#84fa6d 228.5px,#44feac 232.5px,#03eefb 236.5px,#00d9ff 237.5px,#008aff 240.5px,#000eff 245.5px,#0000ff 246.5px,#bfbfff 247.5px,#ffffff 248.5px,#ffffff 323.5px) 128px 0/2px 100% no-repeat,linear-gradient(#5f0000 0.5px,#630000 91.5px,#670000 110.5px,#710000 125.5px,#7a0000 132.5px,#8e0000 141.5px,#fd0000 180.5px,#ff2100 188.5px,#ff6d00 203.5px,#f9d701 219.5px,#e9f411 223.5px,#dffa1a 224.5px,#83fa6d 228.5px,#44fead 232.5px,#03eefc 236.5px,#000cff 245.5px,#0000ff 246.5px,#d4d4ff 247.5px,#ffffff 248.5px,#ffffff 323.5px) 130px 0/3px 100% no-repeat,linear-gradient(#5f0000 0.5px,#630000 91.5px,#690000 111.5px,#720000 126.5px,#8d0000 139.5px,#fd0000 178.5px,#ff2000 186.5px,#ff6d00 202.5px,#ffa000 210.5px,#f7dc03 220.5px,#e6f814 224.5px,#d5fa24 225.5px,#7dfb73 229.5px,#4ffea1 232.5px,#0df3ef 236.5px,#01e9fd 237.5px,#0082ff 241.5px,#0009ff 246.5px,#0b0eff 247.5px,#9595ff 248.5px,#ffffff 249.5px,#ffffff 323.5px) 133px 0/2px 100% no-repeat,linear-gradient(#5f0000 0.5px,#640000 89.5px,#690000 109.5px,#720000 125.5px,#8b0000 137.5px,#c50000 156.5px,#fe0000 177.5px,#ff6a00 201.5px,#ffa400 211.5px,#fad600 220.5px,#e6f714 225.5px,#d8fa20 226.5px,#82fa6f 230.5px,#43feae 234.5px,#12f4e9 237.5px,#04ecfa 238.5px,#00d8ff 239.5px,#0026ff 246.5px,#0014ff 247.5px,#0010ff 248.5px,#2028ff 249.5px,#9fa0ff 250.5px,#f4f4ff 251.5px,#ffffff 252.5px,#ffffff 323.5px) 135px 0/2px 100% no-repeat,linear-gradient(#5f0000 0.5px,#640000 86.5px,#720000 124.5px,#8b0000 136.5px,#ca0000 156.5px,#fd0000 175.5px,#ff1500 181.5px,#ff6a00 201.5px,#ffa400 212.5px,#f9d801 222.5px,#e4f716 227.5px,#d5fa23 228.5px,#80fb70 232.5px,#51fe9f 235.5px,#31fac4 237.5px,#10f3ec 239.5px,#04e8fa 240.5px,#00d3ff 241.5px,#003aff 247.5px,#0027ff 248.5px,#0021ff 250.5px,#0b20ff 251.5px,#6067ff 252.5px,#bfbfff 253.5px,#ffffff 254.5px,#ffffff 323.5px) 137px 0/2px 100% no-repeat,linear-gradient(#5f0000 0.5px,#640000 83.5px,#720000 123.5px,#890000 134.5px,#d00000 156.5px,#fe0000 174.5px,#ff6d00 202.5px,#fea900 215.5px,#fad401 224.5px,#e8f412 229.5px,#ddf81c 230.5px,#ccfa2c 231.5px,#8afa68 234.5px,#37fcbc 239.5px,#16f4e5 241.5px,#08ecf5 242.5px,#01dbfe 243.5px,#0073ff 247.5px,#0044ff 249.5px,#003cff 250.5px,#003dff 252.5px,#0033ff 253.5px,#1534ff 254.5px,#6a73ff 255.5px,#bfbfff 256.5px,#ffffff 257.5px,#ffffff 323.5px) 139px 0/2px 100% no-repeat,linear-gradient(#5f0000 0.5px,#640000 80.5px,#730000 123.5px,#8f0000 135.5px,#da0000 157.5px,#fd0000 172.5px,#ff6d00 203.5px,#feac00 219.5px,#fad301 227.5px,#e8f312 232.5px,#ccfa2b 234.5px,#76fb7a 238.5px,#34fbc0 242.5px,#13f3e8 244.5px,#07e8f7 245.5px,#01d5fe 246.5px,#006dff 250.5px,#005dff 251.5px,#005aff 255.5px,#0049ff 256.5px,#1541ff 257.5px,#606dff 258.5px,#aaaaff 259.5px,#f4f4ff 260.5px,#ffffff 261.5px,#ffffff 323.5px) 141px 0/2px 100% no-repeat,linear-gradient(#5f0000 0.5px,#640000 76.5px,#730000 122.5px,#900000 134.5px,#de0000 156.5px,#fe0000 170.5px,#ff5600 196.5px,#ff8800 214.5px,#feaa00 223.5px,#f9d401 231.5px,#ebef0f 235.5px,#d3f825 237.5px,#7cfb75 241.5px,#38fbbc 245.5px,#16f4e5 247.5px,#09e9f4 248.5px,#02d7fc 249.5px,#008bff 252.5px,#007eff 253.5px,#007bff 258.5px,#0063ff 259.5px,#0b43ff 260.5px,#5564ff 261.5px,#aaaaff 262.5px,#f4f4ff 263.5px,#ffffff 264.5px,#ffffff 323.5px) 143px 0/2px 100% no-repeat,linear-gradient(#5f0000 0.5px,#640000 72.5px,#730000 121.5px,#910000 133.5px,#e20000 155.5px,#fd0000 167.5px,#ff0c00 172.5px,#ff5600 196.5px,#ff8200 218.5px,#feaa00 228.5px,#f9d301 235.5px,#e9f010 239.5px,#cef92a 241.5px,#75fb7c 245.5px,#41fcb2 248.5px,#1ef6db 250.5px,#0feeed 251.5px,#05dff8 252.5px,#01cafe 253.5px,#00b3ff 254.5px,#00a8ff 255.5px,#00a8ff 260.5px,#00a0ff 261.5px,#0076ff 262.5px,#0b41ff 263.5px,#5560ff 264.5px,#aaaaff 265.5px,#ffffff 266.5px,#ffffff 323.5px) 145px 0/2px 100% no-repeat,linear-gradient(#5f0000 0.5px,#640000 68.5px,#740000 120.5px,#8c0000 130.5px,#e40000 153.5px,#fd0000 163.5px,#ff0c00 169.5px,#ff5600 196.5px,#ff7100 220.5px,#ff8600 226.5px,#fea500 232.5px,#fad201 239.5px,#e9f011 243.5px,#cbf92c 245.5px,#86fb6c 248.5px,#3dfcb6 252.5px,#1af4e0 254.5px,#04defa 256.5px,#00d9ff 257.5px,#00d6ff 263.5px,#00b3ff 264.5px,#0062ff 265.5px,#1533ff 266.5px,#7577ff 267.5px,#dfdfff 268.5px,#ffffff 269.5px,#ffffff 323.5px) 147px 0/2px 100% no-repeat,linear-gradient(#5f0000 0.5px,#640000 66.5px,#750000 119.5px,#910000 130.5px,#e60000 151.5px,#fd0100 159.5px,#ff5500 195.5px,#ff5b00 202.5px,#ff5c00 217.5px,#ff6400 223.5px,#ff7700 229.5px,#fea600 237.5px,#fad001 243.5px,#f5df05 245.5px,#eaef10 247.5px,#ccf82b 249.5px,#72fc7f 253.5px,#4efda3 255.5px,#1cf6de 258.5px,#15f5e5 259.5px,#14f2e6 265.5px,#0bccf2 266.5px,#0077ff 267.5px,#0026ff 268.5px,#5558ff 269.5px,#d4d4ff 270.5px,#ffffff 271.5px,#ffffff 323.5px) 149px 0/2px 100% no-repeat,linear-gradient(#5f0000 0.5px,#650000 66.5px,#770000 119.5px,#960000 130.5px,#e70000 149.5px,#fc0000 155.5px,#ff5400 193.5px,#ff5800 201.5px,#ff4d00 217.5px,#ff5400 225.5px,#ff6e00 233.5px,#ffa100 241.5px,#fbcd00 247.5px,#ebed0e 251.5px,#d0f828 253.5px,#75fc7c 257.5px,#42fcb0 260.5px,#3dfdb5 261.5px,#3dfdb5 266.5px,#2df6c9 267.5px,#07c4f6 268.5px,#0066ff 269.5px,#0019ff 270.5px,#6a6bff 271.5px,#f4f4ff 272.5px,#ffffff 273.5px,#ffffff 323.5px) 151px 0/2px 100% no-repeat,linear-gradient(#5f0000 0.5px,#650000 64.5px,#780000 118.5px,#9c0000 130.5px,#fc0100 152.5px,#ff1c00 161.5px,#ff4d00 185.5px,#ff5700 192.5px,#ff5600 201.5px,#ff3d00 218.5px,#ff4200 226.5px,#ff4f00 231.5px,#ff6600 237.5px,#ff7f00 241.5px,#fea400 246.5px,#f9d201 252.5px,#eeeb0c 255.5px,#d5f623 257.5px,#7bfb75 261.5px,#6cfc84 262.5px,#68fc88 263.5px,#68fc88 267.5px,#51fca1 268.5px,#13e5e8 269.5px,#0091ff 270.5px,#0033ff 271.5px,#2023ff 272.5px,#cacaff 273.5px,#ffffff 274.5px,#ffffff 323.5px) 153px 0/2px 100% no-repeat,linear-gradient(#5f0000 0.5px,#650000 63.5px,#7a0000 117.5px,#890000 123.5px,#9f0000 129.5px,#fe0200 150.5px,#ff1b00 156.5px,#ff2700 160.5px,#ff5300 184.5px,#ff5b00 191.5px,#ff5800 199.5px,#ff3100 216.5px,#ff2d00 224.5px,#ff3900 231.5px,#ff5200 238.5px,#ff7200 244.5px,#ffa000 250.5px,#face01 256.5px,#f5df05 258.5px,#e9ef11 260.5px,#dcf41d 261.5px,#a4fa50 264.5px,#9cfa56 268.5px,#5bfc96 269.5px,#15ece5 270.5px,#009aff 271.5px,#0039ff 272.5px,#0b0eff 273.5px,#cacaff 274.5px,#ffffff 275.5px,#ffffff 323.5px) 155px 0/2px 100% no-repeat,linear-gradient(#5f0000 0.5px,#660000 62.5px,#7c0000 116.5px,#8b0000 122.5px,#a20000 128.5px,#f90000 146.5px,#ff0400 148.5px,#ff2200 154.5px,#ff3400 160.5px,#ff5b00 183.5px,#ff6100 190.5px,#ff5800 199.5px,#ff2300 217.5px,#ff1d00 222.5px,#ff1d00 226.5px,#ff2a00 233.5px,#ff4800 241.5px,#ff6d00 248.5px,#fea300 255.5px,#f9d201 261.5px,#f3e307 263.5px,#e5f215 265.5px,#e2f618 268.5px,#a2fa51 269.5px,#4bfca7 270.5px,#0be3f2 271.5px,#0084ff 272.5px,#0026ff 273.5px,#1516ff 274.5px,#f4f4ff 275.5px,#ffffff 276.5px,#ffffff 323.5px) 157px 0/2px 100% no-repeat,linear-gradient(#5f0000 0.5px,#660000 61.5px,#7d0000 115.5px,#8a0000 120.5px,#a40000 127.5px,#fa0000 144.5px,#ff0600 146.5px,#ff2c00 153.5px,#ff4100 159.5px,#ff6200 181.5px,#ff6800 189.5px,#ff6500 194.5px,#ff5900 199.5px,#ff1600 217.5px,#ff0e00 222.5px,#ff0d00 227.5px,#ff1c00 235.5px,#ff3a00 243.5px,#ff6800 252.5px,#ff9e00 259.5px,#f8d502 266.5px,#f5de05 268.5px,#d7f621 269.5px,#77fb7a 270.5px,#2af9cc 271.5px,#01befe 272.5px,#0058ff 273.5px,#000aff 274.5px,#8080ff 275.5px,#ffffff 276.5px,#ffffff 323.5px) 159px 0/2px 100% no-repeat,linear-gradient(#5f0000 0.5px,#670000 62.5px,#800000 115.5px,#930000 121.5px,#ab0000 127.5px,#fa0000 142.5px,#ff0700 144.5px,#ff3600 152.5px,#ff4d00 158.5px,#ff6c00 180.5px,#ff7200 187.5px,#ff6d00 192.5px,#ff5e00 198.5px,#ff1e00 212.5px,#ff0800 218.5px,#fe0200 222.5px,#fd0200 230.5px,#ff0e00 237.5px,#ff3500 247.5px,#ff6a00 257.5px,#ffa100 264.5px,#fdb800 267.5px,#fbc900 268.5px,#ecec0e 269.5px,#9bfa58 270.5px,#46fcac 271.5px,#07dff6 272.5px,#007dff 273.5px,#0020ff 274.5px,#2020ff 275.5px,#ffffff 276.5px,#ffffff 323.5px) 161px 0/2px 100% no-repeat,linear-gradient(#5f0000 0.5px,#670000 61.5px,#820000 114.5px,#a90000 125.5px,#fa0000 140.5px,#ff0800 142.5px,#ff4000 151.5px,#ff5900 157.5px,#ff6100 161.5px,#ff7e00 185.5px,#ff7800 191.5px,#ff6400 197.5px,#ff1600 212.5px,#fe0200 217.5px,#f20000 227.5px,#fb0100 237.5px,#ff0800 241.5px,#ff1e00 247.5px,#ff6600 261.5px,#ff8b00 266.5px,#ff9d00 267.5px,#fcbf00 268.5px,#f3e307 269.5px,#b5fa40 270.5px,#58fd98 271.5px,#11eeea 272.5px,#0096ff 273.5px,#0035ff 274.5px,#0000ff 275.5px,#dfdfff 276.5px,#ffffff 277.5px,#ffffff 323.5px) 163px 0/2px 100% no-repeat,linear-gradient(#600000 0.5px,#680000 60.5px,#830000 113.5px,#ac0000 124.5px,#f90000 138.5px,#ff0700 140.5px,#ff4a00 150.5px,#ff6700 157.5px,#ff7100 161.5px,#ff8500 176.5px,#ff8b00 184.5px,#ff8700 189.5px,#ff7600 194.5px,#ff5800 200.5px,#ff1400 211.5px,#fe0100 215.5px,#ec0000 222.5px,#e70000 228.5px,#ec0000 235.5px,#f90000 242.5px,#ff0600 246.5px,#ff1600 250.5px,#ff5b00 264.5px,#ff6100 265.5px,#ff7200 266.5px,#ff9500 267.5px,#f5dd05 269.5px,#c5f932 270.5px,#64fc8c 271.5px,#1af4e0 272.5px,#00a6ff 273.5px,#0043ff 274.5px,#0003ff 275.5px,#bfbfff 276.5px,#ffffff 277.5px,#ffffff 323.5px) 165px 0/2px 100% no-repeat,linear-gradient(#600000 0.5px,#680000 60.5px,#850000 112.5px,#950000 117.5px,#ae0000 123.5px,#fc0100 137.5px,#ff5300 149.5px,#ff7c00 158.5px,#ff8400 162.5px,#ff9a00 182.5px,#ff9400 188.5px,#ff8200 193.5px,#ff5800 200.5px,#ff0200 213.5px,#e60000 221.5px,#dd0000 229.5px,#e40000 238.5px,#fa0000 248.5px,#ff0e00 253.5px,#ff4200 264.5px,#ff5200 265.5px,#ff6e00 266.5px,#ff9200 267.5px,#f7da04 269.5px,#cdf82a 270.5px,#6bfc85 271.5px,#20f7d8 272.5px,#00b0ff 273.5px,#004bff 274.5px,#0005ff 275.5px,#9f9fff 276.5px,#ffffff 277.5px,#ffffff 323.5px) 167px 0/2px 100% no-repeat,linear-gradient(#600000 0.5px,#690000 59.5px,#870000 111.5px,#960000 116.5px,#b00000 122.5px,#fa0000 135.5px,#fe0300 136.5px,#ff5b00 148.5px,#ff8b00 157.5px,#ff9600 162.5px,#fea700 181.5px,#ffa200 187.5px,#ff8f00 192.5px,#ff0200 212.5px,#de0000 221.5px,#d30000 230.5px,#dc0000 240.5px,#fa0000 253.5px,#ff0a00 257.5px,#ff2600 263.5px,#ff3800 264.5px,#ff5000 265.5px,#ff6c00 266.5px,#ff9000 267.5px,#f7d803 269.5px,#d2f726 270.5px,#70fc80 271.5px,#24f8d3 272.5px,#00b6ff 273.5px,#0051ff 274.5px,#0007ff 275.5px,#8080ff 276.5px,#ffffff 277.5px,#ffffff 323.5px) 169px 0/2px 100% no-repeat,linear-gradient(#600000 0.5px,#690000 59.5px,#880000 110.5px,#980000 115.5px,#b20000 121.5px,#fd0100 134.5px,#ff5c00 146.5px,#ff8400 152.5px,#ff9900 156.5px,#fea600 161.5px,#fdb300 180.5px,#feae00 186.5px,#ff9d00 191.5px,#ff8200 195.5px,#ff0a00 210.5px,#fc0000 212.5px,#d70000 221.5px,#cd0000 226.5px,#ca0000 231.5px,#d60000 243.5px,#fa0000 258.5px,#ff0600 261.5px,#ff0d00 262.5px,#ff2000 263.5px,#ff4f00 265.5px,#ff6b00 266.5px,#ff8f00 267.5px,#f8d703 269.5px,#d5f723 270.5px,#73fc7e 271.5px,#27f8d0 272.5px,#00baff 273.5px,#0054ff 274.5px,#0008ff 275.5px,#8080ff 276.5px,#ffffff 277.5px,#ffffff 323.5px) 171px 0/2px 100% no-repeat,linear-gradient(#600000 0.5px,#6a0000 59.5px,#8a0000 109.5px,#950000 113.5px,#af0000 119.5px,#fa0000 132.5px,#ff0a00 134.5px,#ff8800 150.5px,#ffa500 155.5px,#fdb400 161.5px,#fcbf00 179.5px,#fdb700 186.5px,#ff9f00 192.5px,#ff1500 208.5px,#fd0000 211.5px,#e30000 216.5px,#d10000 221.5px,#c60000 226.5px,#c20000 232.5px,#c60000 239.5px,#d20000 247.5px,#ee0000 259.5px,#f90000 261.5px,#ff0b00 262.5px,#ff3600 264.5px,#ff6a00 266.5px,#ff8e00 267.5px,#f8d602 269.5px,#d6f622 270.5px,#74fc7c 271.5px,#28f9ce 272.5px,#00bcff 273.5px,#0055ff 274.5px,#0009ff 275.5px,#8080ff 276.5px,#ffffff 277.5px,#ffffff 323.5px) 173px 0/2px 100% no-repeat,linear-gradient(#600000 0.5px,#6a0000 58.5px,#760000 81.5px,#8b0000 108.5px,#960000 112.5px,#b00000 118.5px,#fc0000 131.5px,#ff0500 132.5px,#ff9200 149.5px,#feaf00 154.5px,#fcc200 161.5px,#fbcb00 178.5px,#fcc100 186.5px,#ffa500 192.5px,#fe0200 210.5px,#de0000 216.5px,#cb0000 221.5px,#be0000 227.5px,#ba0000 233.5px,#c10000 243.5px,#d70000 255.5px,#e20000 259.5px,#f80000 261.5px,#ff0a00 262.5px,#ff3600 264.5px,#ff6a00 266.5px,#ff8e00 267.5px,#f8d602 269.5px,#d6f622 270.5px,#75fc7c 271.5px,#29f9ce 272.5px,#00bdff 273.5px,#0056ff 274.5px,#0009ff 275.5px,#8080ff 276.5px,#ffffff 277.5px,#ffffff 323.5px) 175px 0/2px 100% no-repeat,linear-gradient(#600000 0.5px,#6a0000 58.5px,#780000 82.5px,#8e0000 108.5px,#b70000 118.5px,#f80000 129.5px,#ff0800 131.5px,#ff9b00 148.5px,#fdb800 153.5px,#fbce00 160.5px,#f9d701 177.5px,#fbcd00 185.5px,#fdb100 191.5px,#ff9a00 194.5px,#ff6e00 198.5px,#ff2b00 205.5px,#ff0600 209.5px,#fd0000 210.5px,#da0000 216.5px,#c20000 222.5px,#b60000 228.5px,#b20000 234.5px,#b90000 244.5px,#d00000 257.5px,#de0000 259.5px,#f80000 261.5px,#ff0a00 262.5px,#ff3600 264.5px,#ff6a00 266.5px,#ff8d00 267.5px,#f8d502 269.5px,#d7f621 270.5px,#75fb7b 271.5px,#29f9cd 272.5px,#00bdff 273.5px,#0057ff 274.5px,#0009ff 275.5px,#8080ff 276.5px,#ffffff 277.5px,#ffffff 323.5px) 177px 0/2px 100% no-repeat,linear-gradient(#600000 0.5px,#6b0000 58.5px,#780000 81.5px,#8f0000 107.5px,#b80000 117.5px,#f90000 128.5px,#ff0a00 130.5px,#ffa200 147.5px,#fcc500 153.5px,#f8db02 160.5px,#f3e307 176.5px,#f8da02 184.5px,#fcbe00 190.5px,#ff9e00 194.5px,#ff7000 198.5px,#ff0200 209.5px,#d60000 216.5px,#c00000 221.5px,#b10000 227.5px,#ab0000 234.5px,#b00000 244.5px,#c30000 256.5px,#d30000 258.5px,#f80000 261.5px,#ff0a00 262.5px,#ff3600 264.5px,#ff6a00 266.5px,#ff8d00 267.5px,#f8d502 269.5px,#d7f621 270.5px,#76fb7b 271.5px,#29f9cd 272.5px,#00beff 273.5px,#0057ff 274.5px,#0009ff 275.5px,#8080ff 276.5px,#ffffff 277.5px,#ffffff 323.5px) 179px 0/2px 100% no-repeat,linear-gradient(#600000 0.5px,#6b0000 58.5px,#790000 81.5px,#900000 106.5px,#b90000 116.5px,#fb0000 127.5px,#ff0c00 129.5px,#ff6f00 140.5px,#ffa000 145.5px,#fdb600 148.5px,#f8db02 155.5px,#f0e90a 162.5px,#edee0d 178.5px,#f2e608 183.5px,#fad600 187.5px,#fcc400 190.5px,#ffa200 194.5px,#ff6600 199.5px,#fe0100 209.5px,#d20000 216.5px,#b80000 222.5px,#aa0000 228.5px,#a40000 235.5px,#a80000 244.5px,#b80000 255.5px,#d30000 258.5px,#f80000 261.5px,#ff0a00 262.5px,#ff3600 264.5px,#ff6a00 266.5px,#ff8d00 267.5px,#f8d502 269.5px,#d7f621 270.5px,#76fb7b 271.5px,#29f9cd 272.5px,#00beff 273.5px,#0057ff 274.5px,#0009ff 275.5px,#8080ff 276.5px,#ffffff 277.5px,#ffffff 323.5px) 181px 0/2px 100% no-repeat,linear-gradient(#600000 0.5px,#6b0000 57.5px,#7a0000 80.5px,#910000 105.5px,#ba0000 115.5px,#fc0000 126.5px,#ff0e00 128.5px,#ff6800 138.5px,#ff9c00 143.5px,#fdbb00 147.5px,#fad400 151.5px,#f1e709 155.5px,#eaf210 159.5px,#e8f512 162.5px,#e3f817 174.5px,#e6f713 179.5px,#ecef0e 183.5px,#f3e307 186.5px,#fbc900 190.5px,#ffa500 194.5px,#ff6700 199.5px,#ff1000 207.5px,#fc0000 209.5px,#ce0000 216.5px,#b40000 222.5px,#a30000 229.5px,#9e0000 236.5px,#a10000 244.5px,#ab0000 253.5px,#af0000 254.5px,#c80000 257.5px,#f80000 261.5px,#ff0a00 262.5px,#ff3600 264.5px,#ff6a00 266.5px,#ff8d00 267.5px,#f8d502 269.5px,#d7f621 270.5px,#76fb7b 271.5px,#29f9cd 272.5px,#00beff 273.5px,#0057ff 274.5px,#0009ff 275.5px,#8080ff 276.5px,#ffffff 277.5px,#ffffff 323.5px) 183px 0/2px 100% no-repeat,linear-gradient(#600000 0.5px,#640000 32.5px,#6c0000 57.5px,#7a0000 79.5px,#910000 104.5px,#ba0000 114.5px,#fc0000 125.5px,#ff0600 126.5px,#ff6a00 137.5px,#ffa000 142.5px,#fdb800 145.5px,#fad400 149.5px,#f2e508 152.5px,#eaf310 155.5px,#def91b 158.5px,#d0fa28 162.5px,#c6fa31 175.5px,#cffa29 179.5px,#e0f919 182.5px,#ecf00e 185.5px,#fad600 189.5px,#fdb300 193.5px,#ff9d00 195.5px,#ff6700 199.5px,#ff2e00 204.5px,#ff0300 208.5px,#fa0000 209.5px,#cb0000 216.5px,#b00000 222.5px,#9e0000 229.5px,#980000 237.5px,#a20000 252.5px,#ae0000 254.5px,#c80000 257.5px,#f80000 261.5px,#ff0a00 262.5px,#ff3600 264.5px,#ff6a00 266.5px,#ff8d00 267.5px,#f8d502 269.5px,#d7f621 270.5px,#76fb7b 271.5px,#29f9cd 272.5px,#00beff 273.5px,#0057ff 274.5px,#0009ff 275.5px,#8080ff 276.5px,#ffffff 277.5px,#ffffff 323.5px) 185px 0/2px 100% no-repeat,linear-gradient(#600000 0.5px,#640000 32.5px,#6c0000 56.5px,#7b0000 79.5px,#920000 103.5px,#bb0000 113.5px,#fd0100 124.5px,#ff0f00 126.5px,#ff6c00 136.5px,#ffa300 141.5px,#fcbc00 144.5px,#f8d902 148.5px,#e8f612 153.5px,#d8fa20 155.5px,#befa38 158.5px,#b0fa45 161.5px,#a6fa4d 174.5px,#aafa4a 177.5px,#b7fa3e 180.5px,#c7fa30 182.5px,#e7f713 185.5px,#fad300 190.5px,#ff9f00 195.5px,#ff6700 199.5px,#ff2100 205.5px,#fe0200 208.5px,#f70000 209.5px,#c80000 216.5px,#a80000 223.5px,#980000 230.5px,#920000 239.5px,#9b0000 251.5px,#bf0000 256.5px,#de0000 259.5px,#f80000 261.5px,#ff0a00 262.5px,#ff3600 264.5px,#ff6a00 266.5px,#ff8d00 267.5px,#f8d502 269.5px,#d7f621 270.5px,#76fb7b 271.5px,#29f9cd 272.5px,#00beff 273.5px,#0057ff 274.5px,#0009ff 275.5px,#8080ff 276.5px,#ffffff 277.5px,#ffffff 323.5px) 187px 0/2px 100% no-repeat,linear-gradient(#600000 0.5px,#6c0000 55.5px,#7a0000 77.5px,#910000 101.5px,#9c0000 105.5px,#b60000 111.5px,#fd0100 123.5px,#ff0f00 125.5px,#ff6d00 135.5px,#ffa500 140.5px,#fad601 146.5px,#e7f613 151.5px,#d1fa27 153.5px,#a4fa4f 157.5px,#92fa60 160.5px,#88fa69 174.5px,#8dfa64 177.5px,#9cfa57 180.5px,#b9fa3c 183.5px,#e5f815 186.5px,#f9d801 190.5px,#fbce00 191.5px,#ffa100 195.5px,#ff6700 199.5px,#ff2000 205.5px,#fd0100 208.5px,#cb0000 215.5px,#a80000 222.5px,#940000 230.5px,#8d0000 239.5px,#900000 248.5px,#950000 250.5px,#a70000 253.5px,#bf0000 256.5px,#de0000 259.5px,#f80000 261.5px,#ff0a00 262.5px,#ff3600 264.5px,#ff6a00 266.5px,#ff8d00 267.5px,#f8d502 269.5px,#d7f621 270.5px,#76fb7b 271.5px,#29f9cd 272.5px,#00beff 273.5px,#0057ff 274.5px,#0009ff 275.5px,#8080ff 276.5px,#ffffff 277.5px,#ffffff 323.5px) 189px 0/2px 100% no-repeat,linear-gradient(#600000 0.5px,#640000 31.5px,#6c0000 55.5px,#7b0000 77.5px,#910000 100.5px,#9d0000 104.5px,#b70000 110.5px,#fd0100 122.5px,#ff0f00 124.5px,#ff6400 133.5px,#fea600 139.5px,#fbd100 144.5px,#e8f512 149.5px,#dff91a 150.5px,#d0fa28 151.5px,#98fa5a 155.5px,#85fa6b 157.5px,#7bfb75 159.5px,#76fb7a 162.5px,#73fb7d 174.5px,#7afb76 178.5px,#8bfa66 181.5px,#b2fa43 184.5px,#e7f713 187.5px,#fad200 191.5px,#ffa300 195.5px,#ff6800 199.5px,#ff1300 206.5px,#fc0000 208.5px,#c20000 216.5px,#a20000 223.5px,#8e0000 231.5px,#880000 240.5px,#8a0000 247.5px,#9b0000 251.5px,#bf0000 256.5px,#de0000 259.5px,#f80000 261.5px,#ff0a00 262.5px,#ff3600 264.5px,#ff6a00 266.5px,#ff8d00 267.5px,#f8d502 269.5px,#d7f621 270.5px,#76fb7b 271.5px,#29f9cd 272.5px,#00beff 273.5px,#0057ff 274.5px,#0009ff 275.5px,#8080ff 276.5px,#ffffff 277.5px,#ffffff 323.5px) 191px 0/2px 100% no-repeat,linear-gradient(#600000 0.5px,#6c0000 54.5px,#7a0000 76.5px,#910000 99.5px,#9d0000 103.5px,#b70000 109.5px,#fd0000 121.5px,#ff0f00 123.5px,#ff6300 132.5px,#fea600 138.5px,#fad300 143.5px,#ebf20f 147.5px,#e4f815 148.5px,#d5fa23 149.5px,#93fa5f 153.5px,#7dfa73 155.5px,#71fb7f 157.5px,#64fd8c 161.5px,#60fd90 172.5px,#69fc87 178.5px,#80fa70 182.5px,#9dfa55 184.5px,#ddfa1c 187.5px,#e9f411 188.5px,#fad500 191.5px,#ffa500 195.5px,#ff6800 199.5px,#ff4200 202.5px,#ff0600 207.5px,#fb0000 208.5px,#c00000 216.5px,#9f0000 223.5px,#8b0000 231.5px,#840000 241.5px,#850000 246.5px,#9b0000 251.5px,#bf0000 256.5px,#de0000 259.5px,#f80000 261.5px,#ff0a00 262.5px,#ff3600 264.5px,#ff6a00 266.5px,#ff8d00 267.5px,#f8d502 269.5px,#d7f621 270.5px,#76fb7b 271.5px,#29f9cd 272.5px,#00beff 273.5px,#0057ff 274.5px,#0009ff 275.5px,#8080ff 276.5px,#ffffff 277.5px,#ffffff 323.5px) 193px 0/2px 100% no-repeat,linear-gradient(#600000 0.5px,#640000 30.5px,#6c0000 54.5px,#7a0000 75.5px,#910000 98.5px,#9d0000 102.5px,#b70000 108.5px,#fc0000 120.5px,#ff0e00 122.5px,#ff6200 131.5px,#fea600 137.5px,#fad400 142.5px,#e9f411 146.5px,#dff91a 147.5px,#ccfa2b 148.5px,#85fa6b 152.5px,#72fb7e 154.5px,#5ffd91 157.5px,#52fe9e 161.5px,#50fea0 173.5px,#54fe9c 176.5px,#5efd92 179.5px,#7dfa74 183.5px,#9ffa54 185.5px,#e5f814 188.5px,#f9d801 191.5px,#fea600 195.5px,#ff6800 199.5px,#ff4100 202.5px,#ff0400 207.5px,#f90000 208.5px,#be0000 216.5px,#9c0000 223.5px,#860000 232.5px,#800000 242.5px,#850000 246.5px,#a00000 252.5px,#c80000 257.5px,#f80000 261.5px,#ff0a00 262.5px,#ff3600 264.5px,#ff6a00 266.5px,#ff8d00 267.5px,#f8d502 269.5px,#d7f621 270.5px,#76fb7b 271.5px,#29f9cd 272.5px,#00beff 273.5px,#0057ff 274.5px,#0009ff 275.5px,#8080ff 276.5px,#ffffff 277.5px,#ffffff 323.5px) 195px 0/2px 100% no-repeat,linear-gradient(#600000 0.5px,#640000 30.5px,#6c0000 54.5px,#7b0000 75.5px,#910000 97.5px,#a10000 102.5px,#bc0000 108.5px,#fc0000 119.5px,#ff0d00 121.5px,#ff6100 130.5px,#ff9b00 135.5px,#fad400 141.5px,#e8f612 145.5px,#dbfa1e 146.5px,#8bfa66 150.5px,#72fb7e 152.5px,#5afd96 155.5px,#49fea7 158.5px,#41feb0 161.5px,#3efdb3 170.5px,#44feac 176.5px,#50fea0 179.5px,#5efd92 181.5px,#7dfa73 184.5px,#90fa62 185.5px,#defa1b 188.5px,#ebf20f 189.5px,#fbce00 192.5px,#fea700 195.5px,#ff6800 199.5px,#ff4000 202.5px,#ff0300 207.5px,#f80000 208.5px,#bc0000 216.5px,#9a0000 223.5px,#830000 232.5px,#7c0000 242.5px,#8c0000 248.5px,#a70000 253.5px,#c80000 257.5px,#f80000 261.5px,#ff0a00 262.5px,#ff3600 264.5px,#ff6a00 266.5px,#ff8d00 267.5px,#f8d502 269.5px,#d7f621 270.5px,#76fb7b 271.5px,#29f9cd 272.5px,#00beff 273.5px,#0057ff 274.5px,#0009ff 275.5px,#8080ff 276.5px,#ffffff 277.5px,#ffffff 323.5px) 197px 0/2px 100% no-repeat,linear-gradient(#600000 0.5px,#6c0000 53.5px,#7a0000 74.5px,#910000 96.5px,#bb0000 107.5px,#fb0000 118.5px,#ff0c00 120.5px,#ff4d00 127.5px,#ff6900 130.5px,#ff9900 134.5px,#fad400 140.5px,#e7f613 144.5px,#d8fa20 145.5px,#84fa6d 149.5px,#62fd8e 152.5px,#49fea7 155.5px,#39fcba 158.5px,#33fbc2 160.5px,#2ffac6 169.5px,#30fac4 173.5px,#36fcbe 176.5px,#43feae 179.5px,#52fe9e 181.5px,#67fc89 183.5px,#83fa6e 185.5px,#9bfa57 186.5px,#d5fa23 188.5px,#e9f511 189.5px,#fbd000 192.5px,#fea800 195.5px,#ff6700 199.5px,#ff3300 203.5px,#fe0200 207.5px,#f70000 208.5px,#ba0000 216.5px,#980000 223.5px,#820000 231.5px,#790000 240.5px,#850000 246.5px,#a00000 252.5px,#c80000 257.5px,#f80000 261.5px,#ff0a00 262.5px,#ff3600 264.5px,#ff6a00 266.5px,#ff8d00 267.5px,#f8d502 269.5px,#d7f621 270.5px,#76fb7b 271.5px,#29f9cd 272.5px,#00beff 273.5px,#0057ff 274.5px,#0009ff 275.5px,#8080ff 276.5px,#ffffff 277.5px,#ffffff 323.5px) 199px 0/2px 100% no-repeat,linear-gradient(#600000 0.5px,#6c0000 52.5px,#7a0000 73.5px,#900000 94.5px,#9a0000 98.5px,#b60000 105.5px,#fa0000 117.5px,#ff0a00 119.5px,#ff4b00 126.5px,#ff7200 130.5px,#ffa200 134.5px,#f7dc03 140.5px,#e7f612 143.5px,#d8fa21 144.5px,#93fa5f 147.5px,#80fa70 148.5px,#5dfd93 151.5px,#41feb0 154.5px,#2efac7 157.5px,#23f8d4 160.5px,#20f7d8 169.5px,#22f7d6 173.5px,#28f9ce 176.5px,#37fcbc 179.5px,#47ffa9 181.5px,#7afb76 185.5px,#90fa62 186.5px,#e6f713 189.5px,#fbd100 192.5px,#fea900 195.5px,#ff6700 199.5px,#ff3200 203.5px,#fe0100 207.5px,#f60000 208.5px,#bf0000 215.5px,#9a0000 222.5px,#810000 230.5px,#770000 239.5px,#820000 245.5px,#9b0000 251.5px,#bf0000 256.5px,#de0000 259.5px,#f80000 261.5px,#ff0a00 262.5px,#ff3600 264.5px,#ff6a00 266.5px,#ff8d00 267.5px,#f8d502 269.5px,#d7f621 270.5px,#76fb7b 271.5px,#29f9cd 272.5px,#00beff 273.5px,#0057ff 274.5px,#0009ff 275.5px,#8080ff 276.5px,#ffffff 277.5px,#ffffff 323.5px) 201px 0/2px 100% no-repeat,linear-gradient(#600000 0.5px,#6c0000 52.5px,#7a0000 72.5px,#8f0000 93.5px,#9e0000 98.5px,#b60000 104.5px,#fe0100 117.5px,#ff6500 128.5px,#ffa000 133.5px,#f8da02 139.5px,#e8f612 142.5px,#d9fa20 143.5px,#91fa61 146.5px,#7efa72 147.5px,#4efea2 151.5px,#33fbc2 154.5px,#1ff7d9 157.5px,#15f4e6 160.5px,#11f4ea 168.5px,#14f4e7 173.5px,#1bf6de 176.5px,#2cf9ca 179.5px,#3dfdb5 181.5px,#63fd8d 184.5px,#87fa6a 186.5px,#e3f817 189.5px,#fad300 192.5px,#fea900 195.5px,#ff6700 199.5px,#fd0100 207.5px,#c50000 214.5px,#9c0000 221.5px,#840000 228.5px,#760000 237.5px,#7f0000 244.5px,#9b0000 251.5px,#bf0000 256.5px,#de0000 259.5px,#f80000 261.5px,#ff0a00 262.5px,#ff3600 264.5px,#ff6a00 266.5px,#ff8d00 267.5px,#f8d502 269.5px,#d7f621 270.5px,#76fb7b 271.5px,#29f9cd 272.5px,#00beff 273.5px,#0057ff 274.5px,#0009ff 275.5px,#8080ff 276.5px,#ffffff 277.5px,#ffffff 323.5px) 203px 0/2px 100% no-repeat,linear-gradient(#600000 0.5px,#6c0000 51.5px,#790000 71.5px,#8f0000 92.5px,#9e0000 97.5px,#ba0000 104.5px,#fd0000 116.5px,#ff1800 119.5px,#ff6200 127.5px,#ff9d00 132.5px,#f9d801 138.5px,#e9f411 141.5px,#dcfa1d 142.5px,#92fa60 145.5px,#7efa72 146.5px,#4bfea5 150.5px,#2dfac9 153.5px,#17f5e3 156.5px,#09f2f4 159.5px,#05f1f9 161.5px,#04f0fa 168.5px,#07f1f7 173.5px,#0ff3ec 176.5px,#21f7d6 179.5px,#35fbbf 181.5px,#4efea2 183.5px,#80fa70 186.5px,#9dfa56 187.5px,#dff91a 189.5px,#ecef0e 190.5px,#fad400 192.5px,#ff9a00 196.5px,#ff6700 199.5px,#ff1700 205.5px,#fd0100 207.5px,#c40000 214.5px,#9b0000 221.5px,#820000 228.5px,#750000 236.5px,#7d0000 243.5px,#950000 250.5px,#a70000 253.5px,#bf0000 256.5px,#de0000 259.5px,#f80000 261.5px,#ff0a00 262.5px,#ff3600 264.5px,#ff6a00 266.5px,#ff8d00 267.5px,#f8d502 269.5px,#d7f621 270.5px,#76fb7b 271.5px,#29f9cd 272.5px,#00beff 273.5px,#0057ff 274.5px,#0009ff 275.5px,#8080ff 276.5px,#ffffff 277.5px,#ffffff 323.5px) 205px 0/2px 100% no-repeat,linear-gradient(#600000 0.5px,#6c0000 51.5px,#7a0000 71.5px,#8e0000 91.5px,#ba0000 103.5px,#fc0000 115.5px,#ff1600 118.5px,#ff6900 127.5px,#ffa400 132.5px,#fad600 137.5px,#eaf210 140.5px,#e0f919 141.5px,#7ffa71 145.5px,#49fea7 149.5px,#29f9cd 152.5px,#10f3eb 155.5px,#05f1fa 157.5px,#00e7ff 160.5px,#00e4ff 170.5px,#01eefd 175.5px,#09f2f3 177.5px,#18f5e2 179.5px,#2dfac9 181.5px,#47fea9 183.5px,#68fc88 185.5px,#7bfb75 186.5px,#96fa5c 187.5px,#dcfa1d 189.5px,#ecf00e 190.5px,#fad500 192.5px,#ff9a00 196.5px,#ff6700 199.5px,#ff1600 205.5px,#fc0000 207.5px,#c30000 214.5px,#9a0000 221.5px,#7e0000 229.5px,#750000 236.5px,#7d0000 243.5px,#950000 250.5px,#a70000 253.5px,#bf0000 256.5px,#de0000 259.5px,#f80000 261.5px,#ff0a00 262.5px,#ff3600 264.5px,#ff6a00 266.5px,#ff8d00 267.5px,#f8d502 269.5px,#d7f621 270.5px,#76fb7b 271.5px,#29f9cd 272.5px,#00beff 273.5px,#0057ff 274.5px,#0009ff 275.5px,#8080ff 276.5px,#ffffff 277.5px,#ffffff 323.5px) 207px 0/2px 100% no-repeat,linear-gradient(#600000 0.5px,#6c0000 50.5px,#790000 70.5px,#8c0000 89.5px,#9a0000 94.5px,#b40000 101.5px,#d10000 107.5px,#fa0000 114.5px,#ff0a00 116.5px,#ff5300 124.5px,#ff7000 127.5px,#ffa100 131.5px,#fad300 136.5px,#e4f815 140.5px,#82fa6e 144.5px,#56fe9a 147.5px,#31fbc3 150.5px,#13f4e7 153.5px,#04f0fa 155.5px,#00e4ff 157.5px,#00d3ff 161.5px,#00d2ff 169.5px,#00d8ff 173.5px,#01eefe 177.5px,#10f3ec 179.5px,#26f8d1 181.5px,#42feaf 183.5px,#64fd8c 185.5px,#77fb79 186.5px,#91fa61 187.5px,#d8fa20 189.5px,#ebf10f 190.5px,#fad601 192.5px,#ff9a00 196.5px,#ff6700 199.5px,#ff1500 205.5px,#fc0000 207.5px,#c20000 214.5px,#990000 221.5px,#7d0000 229.5px,#750000 236.5px,#7d0000 243.5px,#950000 250.5px,#a70000 253.5px,#bf0000 256.5px,#de0000 259.5px,#f80000 261.5px,#ff0a00 262.5px,#ff3600 264.5px,#ff6a00 266.5px,#ff8d00 267.5px,#f8d502 269.5px,#d7f621 270.5px,#76fb7b 271.5px,#29f9cd 272.5px,#00beff 273.5px,#0057ff 274.5px,#0009ff 275.5px,#8080ff 276.5px,#ffffff 277.5px,#ffffff 323.5px) 209px 0/2px 100% no-repeat,linear-gradient(#600000 0.5px,#6b0000 49.5px,#780000 69.5px,#8c0000 88.5px,#9d0000 94.5px,#b80000 101.5px,#fe0100 114.5px,#ff6c00 126.5px,#ff9c00 130.5px,#f9d901 136.5px,#e8f612 139.5px,#d6fa22 140.5px,#87fa69 143.5px,#67fc89 145.5px,#4bfea6 147.5px,#11f4eb 152.5px,#01eefd 154.5px,#00e5ff 155.5px,#00cdff 158.5px,#00c5ff 160.5px,#00c2ff 169.5px,#00cdff 174.5px,#00daff 176.5px,#01eefe 178.5px,#09f2f5 179.5px,#20f7d8 181.5px,#3dfdb5 183.5px,#60fd90 185.5px,#8cfa65 187.5px,#d5fa23 189.5px,#eaf210 190.5px,#f9d601 192.5px,#ff9b00 196.5px,#ff6600 199.5px,#ff1500 205.5px,#fc0000 207.5px,#c10000 214.5px,#980000 221.5px,#7c0000 229.5px,#750000 236.5px,#7d0000 243.5px,#950000 250.5px,#a70000 253.5px,#bf0000 256.5px,#de0000 259.5px,#f80000 261.5px,#ff0a00 262.5px,#ff3600 264.5px,#ff6a00 266.5px,#ff8d00 267.5px,#f8d502 269.5px,#d7f621 270.5px,#76fb7b 271.5px,#29f9cd 272.5px,#00beff 273.5px,#0057ff 274.5px,#0009ff 275.5px,#8080ff 276.5px,#ffffff 277.5px,#ffffff 323.5px) 211px 0/2px 100% no-repeat,linear-gradient(#600000 0.5px,#6b0000 48.5px,#770000 67.5px,#8a0000 86.5px,#990000 92.5px,#b30000 99.5px,#d40000 106.5px,#fc0000 113.5px,#ff1600 116.5px,#ff6800 125.5px,#ffa300 130.5px,#fad500 135.5px,#eaf210 138.5px,#dff91a 139.5px,#8ffa62 142.5px,#7afb76 143.5px,#5cfd94 145.5px,#26f8d0 149.5px,#06f1f8 152.5px,#00ebfe 153.5px,#00e0ff 154.5px,#00c4ff 157.5px,#00b5ff 160.5px,#00b3ff 169.5px,#00b7ff 172.5px,#00bfff 174.5px,#00ceff 176.5px,#03f0fc 179.5px,#29f9cd 182.5px,#4afea6 184.5px,#71fb7f 186.5px,#89fa68 187.5px,#d3fa25 189.5px,#eaf310 190.5px,#f9d701 192.5px,#ff9b00 196.5px,#ff6600 199.5px,#ff0700 206.5px,#fb0000 207.5px,#c00000 214.5px,#970000 221.5px,#7e0000 228.5px,#750000 236.5px,#7d0000 243.5px,#950000 250.5px,#a70000 253.5px,#bf0000 256.5px,#de0000 259.5px,#f80000 261.5px,#ff0a00 262.5px,#ff3600 264.5px,#ff6a00 266.5px,#ff8d00 267.5px,#f8d502 269.5px,#d7f621 270.5px,#76fb7b 271.5px,#29f9cd 272.5px,#00beff 273.5px,#0057ff 274.5px,#0009ff 275.5px,#8080ff 276.5px,#ffffff 277.5px,#ffffff 323.5px) 213px 0/2px 100% no-repeat,linear-gradient(#600000 0.5px,#6b0000 48.5px,#770000 67.5px,#890000 85.5px,#9c0000 92.5px,#b60000 99.5px,#d30000 105.5px,#fa0000 112.5px,#ff0a00 114.5px,#ff5100 122.5px,#ff6e00 125.5px,#ff9e00 129.5px,#f8db02 135.5px,#e6f814 138.5px,#d0fa28 139.5px,#81fa70 142.5px,#61fd8f 144.5px,#43feae 146.5px,#06f1f8 151.5px,#00eaff 152.5px,#00ddff 153.5px,#00b6ff 157.5px,#00a7ff 160.5px,#00a5ff 169.5px,#00aaff 172.5px,#00b3ff 174.5px,#00c4ff 176.5px,#00ebff 179.5px,#09f2f4 180.5px,#26f8d1 182.5px,#48fea9 184.5px,#6ffc81 186.5px,#87fa6a 187.5px,#d1fa27 189.5px,#eaf410 190.5px,#f9d701 192.5px,#ff9b00 196.5px,#ff6600 199.5px,#ff0700 206.5px,#fb0000 207.5px,#c00000 214.5px,#960000 221.5px,#7e0000 228.5px,#750000 236.5px,#7d0000 243.5px,#950000 250.5px,#a70000 253.5px,#bf0000 256.5px,#de0000 259.5px,#f80000 261.5px,#ff0a00 262.5px,#ff3600 264.5px,#ff6a00 266.5px,#ff8d00 267.5px,#f8d502 269.5px,#d7f621 270.5px,#76fb7b 271.5px,#29f9cd 272.5px,#00beff 273.5px,#0057ff 274.5px,#0009ff 275.5px,#8080ff 276.5px,#ffffff 277.5px,#ffffff 323.5px) 215px 0/2px 100% no-repeat,linear-gradient(#600000 0.5px,#6b0000 47.5px,#760000 66.5px,#880000 84.5px,#9b0000 91.5px,#b50000 98.5px,#d60000 105.5px,#fe0100 112.5px,#ff2000 116.5px,#ff6900 124.5px,#ffa400 129.5px,#fad600 134.5px,#eaf410 137.5px,#dcfa1d 138.5px,#8afa67 141.5px,#67fc89 143.5px,#48fea8 145.5px,#07f1f6 150.5px,#00eaff 151.5px,#00dcff 152.5px,#00b0ff 156.5px,#009dff 159.5px,#0097ff 162.5px,#0097ff 168.5px,#009bff 171.5px,#00a9ff 174.5px,#00c6ff 177.5px,#00e5ff 179.5px,#05f1f9 180.5px,#13f4e8 181.5px,#45feab 184.5px,#6dfc83 186.5px,#85fa6c 187.5px,#cffa29 189.5px,#e9f411 190.5px,#f9d701 192.5px,#ff9b00 196.5px,#ff6600 199.5px,#ff0700 206.5px,#fa0000 207.5px,#b80000 215.5px,#910000 222.5px,#7c0000 229.5px,#750000 236.5px,#7d0000 243.5px,#950000 250.5px,#a70000 253.5px,#bf0000 256.5px,#de0000 259.5px,#f80000 261.5px,#ff0a00 262.5px,#ff3600 264.5px,#ff6a00 266.5px,#ff8d00 267.5px,#f8d502 269.5px,#d7f621 270.5px,#76fb7b 271.5px,#29f9cd 272.5px,#00beff 273.5px,#0057ff 274.5px,#0009ff 275.5px,#8080ff 276.5px,#ffffff 277.5px,#ffffff 323.5px) 217px 0/2px 100% no-repeat,linear-gradient(#600000 0.5px,#6a0000 46.5px,#750000 64.5px,#860000 82.5px,#980000 89.5px,#b40000 97.5px,#d40000 104.5px,#fc0000 111.5px,#ff0c00 113.5px,#ff5b00 122.5px,#ff6e00 124.5px,#ff9e00 128.5px,#f8db02 134.5px,#e5f815 137.5px,#7efa72 141.5px,#6efc82 142.5px,#3ffeb2 145.5px,#0af2f3 149.5px,#01edfe 150.5px,#00deff 151.5px,#00adff 155.5px,#0096ff 158.5px,#008cff 161.5px,#008bff 168.5px,#0090ff 171.5px,#009fff 174.5px,#00bfff 177.5px,#03effc 180.5px,#20f7d8 182.5px,#43fead 184.5px,#6cfc84 186.5px,#83fa6d 187.5px,#cefa2a 189.5px,#e9f411 190.5px,#f9d701 192.5px,#ff9a00 196.5px,#ff6600 199.5px,#ff0600 206.5px,#fa0000 207.5px,#bf0000 214.5px,#950000 221.5px,#7e0000 228.5px,#750000 236.5px,#7d0000 243.5px,#950000 250.5px,#a70000 253.5px,#bf0000 256.5px,#de0000 259.5px,#f80000 261.5px,#ff0a00 262.5px,#ff3600 264.5px,#ff6a00 266.5px,#ff8d00 267.5px,#f8d502 269.5px,#d7f621 270.5px,#76fb7b 271.5px,#29f9cd 272.5px,#00beff 273.5px,#0057ff 274.5px,#0009ff 275.5px,#8080ff 276.5px,#ffffff 277.5px,#ffffff 323.5px) 219px 0/2px 100% no-repeat,linear-gradient(#600000 0.5px,#6a0000 46.5px,#850000 81.5px,#9a0000 89.5px,#b30000 96.5px,#d30000 103.5px,#fe0100 111.5px,#ff6900 123.5px,#ffa300 128.5px,#fad600 133.5px,#eaf310 136.5px,#dcfa1d 137.5px,#89fa68 140.5px,#75fb7b 141.5px,#46feaa 144.5px,#0ef3ed 148.5px,#03effc 149.5px,#00e2ff 150.5px,#00abff 154.5px,#008bff 158.5px,#0082ff 161.5px,#0081ff 167.5px,#0086ff 171.5px,#0097ff 174.5px,#00baff 177.5px,#01edfd 180.5px,#0ef3ee 181.5px,#42feaf 184.5px,#6bfc85 186.5px,#82fa6e 187.5px,#cdfa2b 189.5px,#e9f511 190.5px,#f9d701 192.5px,#ff9a00 196.5px,#ff6500 199.5px,#ff0600 206.5px,#fa0000 207.5px,#bf0000 214.5px,#950000 221.5px,#7e0000 228.5px,#750000 236.5px,#7d0000 243.5px,#950000 250.5px,#a70000 253.5px,#bf0000 256.5px,#de0000 259.5px,#f80000 261.5px,#ff0a00 262.5px,#ff3600 264.5px,#ff6a00 266.5px,#ff8d00 267.5px,#f8d502 269.5px,#d7f621 270.5px,#76fb7b 271.5px,#29f9cd 272.5px,#00beff 273.5px,#0057ff 274.5px,#0009ff 275.5px,#8080ff 276.5px,#ffffff 277.5px,#ffffff 323.5px) 221px 0/2px 100% no-repeat,linear-gradient(#600000 0.5px,#6a0000 45.5px,#830000 79.5px,#960000 87.5px,#b20000 95.5px,#d10000 102.5px,#fc0000 110.5px,#ff1d00 114.5px,#ff6400 122.5px,#ff9d00 127.5px,#f8da02 133.5px,#e6f714 136.5px,#d0fa28 137.5px,#7ffa71 140.5px,#6efc82 141.5px,#3ffdb3 144.5px,#07f1f6 148.5px,#00e8ff 149.5px,#00d8ff 150.5px,#00a1ff 154.5px,#0087ff 157.5px,#0079ff 161.5px,#0079ff 168.5px,#007fff 171.5px,#0090ff 174.5px,#00b5ff 177.5px,#01ebfe 180.5px,#0cf3f0 181.5px,#41feb0 184.5px,#6afc86 186.5px,#81fa6f 187.5px,#ccfa2b 189.5px,#e9f511 190.5px,#f9d801 192.5px,#ff9a00 196.5px,#ff6500 199.5px,#ff0600 206.5px,#fa0000 207.5px,#be0000 214.5px,#950000 221.5px,#7e0000 228.5px,#750000 236.5px,#7d0000 243.5px,#950000 250.5px,#a70000 253.5px,#bf0000 256.5px,#de0000 259.5px,#f80000 261.5px,#ff0a00 262.5px,#ff3600 264.5px,#ff6a00 266.5px,#ff8d00 267.5px,#f8d502 269.5px,#d7f621 270.5px,#76fb7b 271.5px,#29f9cd 272.5px,#00beff 273.5px,#0057ff 274.5px,#0009ff 275.5px,#8080ff 276.5px,#ffffff 277.5px,#ffffff 323.5px) 223px 0/2px 100% no-repeat,linear-gradient(#600000 0.5px,#690000 44.5px,#820000 78.5px,#960000 86.5px,#b00000 94.5px,#cf0000 101.5px,#fa0000 109.5px,#ff0900 111.5px,#ff4d00 119.5px,#ff7200 123.5px,#ffa200 127.5px,#fad400 132.5px,#ebf20f 135.5px,#dffa1a 136.5px,#8cfa65 139.5px,#77fb79 140.5px,#47fea9 143.5px,#0df3ef 147.5px,#02eefd 148.5px,#00dfff 149.5px,#00a3ff 153.5px,#008dff 155.5px,#007fff 157.5px,#0071ff 161.5px,#0071ff 167.5px,#0078ff 171.5px,#008aff 174.5px,#00b1ff 177.5px,#00e9ff 180.5px,#0bf2f2 181.5px,#40feb1 184.5px,#69fc87 186.5px,#81fa70 187.5px,#ccfa2c 189.5px,#e9f511 190.5px,#f9d801 192.5px,#ff9a00 196.5px,#ff6500 199.5px,#ff0500 206.5px,#f90000 207.5px,#be0000 214.5px,#950000 221.5px,#7e0000 228.5px,#750000 236.5px,#7d0000 243.5px,#950000 250.5px,#a70000 253.5px,#bf0000 256.5px,#de0000 259.5px,#f80000 261.5px,#ff0a00 262.5px,#ff3600 264.5px,#ff6a00 266.5px,#ff8d00 267.5px,#f8d502 269.5px,#d7f621 270.5px,#76fb7b 271.5px,#29f9cd 272.5px,#00beff 273.5px,#0057ff 274.5px,#0009ff 275.5px,#8080ff 276.5px,#ffffff 277.5px,#ffffff 323.5px) 225px 0/2px 100% no-repeat,linear-gradient(#600000 0.5px,#690000 43.5px,#800000 76.5px,#950000 85.5px,#af0000 93.5px,#d10000 101.5px,#fd0000 109.5px,#ff1d00 113.5px,#ff6300 121.5px,#fea600 127.5px,#f9d801 132.5px,#e8f612 135.5px,#d5fa23 136.5px,#83fa6e 139.5px,#71fb7f 140.5px,#41feb0 143.5px,#07f2f6 147.5px,#00e8ff 148.5px,#00d6ff 149.5px,#009aff 153.5px,#0085ff 155.5px,#0078ff 157.5px,#006aff 161.5px,#006aff 167.5px,#0072ff 171.5px,#0086ff 174.5px,#00aeff 177.5px,#00e8ff 180.5px,#0af2f3 181.5px,#1bf6df 182.5px,#3ffeb2 184.5px,#69fc87 186.5px,#80fa70 187.5px,#ccfa2c 189.5px,#e9f511 190.5px,#f9d801 192.5px,#ff9a00 196.5px,#ff6500 199.5px,#ff0500 206.5px,#f90000 207.5px,#be0000 214.5px,#950000 221.5px,#7e0000 228.5px,#750000 236.5px,#7d0000 243.5px,#950000 250.5px,#a70000 253.5px,#bf0000 256.5px,#de0000 259.5px,#f80000 261.5px,#ff0a00 262.5px,#ff3600 264.5px,#ff6a00 266.5px,#ff8d00 267.5px,#f8d502 269.5px,#d7f621 270.5px,#76fb7b 271.5px,#29f9cd 272.5px,#00beff 273.5px,#0057ff 274.5px,#0009ff 275.5px,#8080ff 276.5px,#ffffff 277.5px,#ffffff 323.5px) 227px 0/2px 100% no-repeat,linear-gradient(#600000 0.5px,#690000 43.5px,#800000 75.5px,#940000 84.5px,#ae0000 92.5px,#cf0000 100.5px,#fe0100 109.5px,#ff6600 121.5px,#ff9f00 126.5px,#fbd100 131.5px,#e4f816 135.5px,#7cfb74 139.5px,#3bfdb7 143.5px,#03effc 147.5px,#00e0ff 148.5px,#009fff 152.5px,#0087ff 154.5px,#0077ff 156.5px,#0066ff 160.5px,#0064ff 166.5px,#0069ff 170.5px,#0073ff 172.5px,#0083ff 174.5px,#00acff 177.5px,#00e6ff 180.5px,#09f2f4 181.5px,#3ffdb2 184.5px,#69fc87 186.5px,#80fa70 187.5px,#cbfa2c 189.5px,#e9f511 190.5px,#f9d801 192.5px,#feaa00 195.5px,#ff6500 199.5px,#ff0500 206.5px,#f90000 207.5px,#be0000 214.5px,#950000 221.5px,#7e0000 228.5px,#750000 236.5px,#7d0000 243.5px,#950000 250.5px,#a70000 253.5px,#bf0000 256.5px,#de0000 259.5px,#f80000 261.5px,#ff0a00 262.5px,#ff3600 264.5px,#ff6a00 266.5px,#ff8d00 267.5px,#f8d502 269.5px,#d7f621 270.5px,#76fb7b 271.5px,#29f9cd 272.5px,#00beff 273.5px,#0057ff 274.5px,#0009ff 275.5px,#8080ff 276.5px,#ffffff 277.5px,#ffffff 323.5px) 229px 0/2px 100% no-repeat,linear-gradient(#600000 0.5px,#690000 42.5px,#7e0000 73.5px,#910000 82.5px,#ac0000 91.5px,#cd0000 99.5px,#fc0000 108.5px,#ff1300 111.5px,#ff6000 120.5px,#ffa300 126.5px,#fad500 131.5px,#eaf310 134.5px,#defa1b 135.5px,#8afa67 138.5px,#76fb7a 139.5px,#46feab 142.5px,#0bf2f2 146.5px,#01ebfe 147.5px,#00d9ff 148.5px,#0098ff 152.5px,#0082ff 154.5px,#0071ff 156.5px,#0060ff 160.5px,#005eff 166.5px,#0065ff 170.5px,#0070ff 172.5px,#0081ff 174.5px,#00aaff 177.5px,#00e5ff 180.5px,#09f2f5 181.5px,#3ffdb3 184.5px,#69fc87 186.5px,#80fa70 187.5px,#cbfa2c 189.5px,#e9f511 190.5px,#f9d801 192.5px,#feaa00 195.5px,#ff6500 199.5px,#ff0500 206.5px,#f90000 207.5px,#be0000 214.5px,#950000 221.5px,#7e0000 228.5px,#750000 236.5px,#7d0000 243.5px,#950000 250.5px,#a70000 253.5px,#bf0000 256.5px,#de0000 259.5px,#f80000 261.5px,#ff0a00 262.5px,#ff3600 264.5px,#ff6a00 266.5px,#ff8d00 267.5px,#f8d502 269.5px,#d7f621 270.5px,#76fb7b 271.5px,#29f9cd 272.5px,#00beff 273.5px,#0057ff 274.5px,#0009ff 275.5px,#8080ff 276.5px,#ffffff 277.5px,#ffffff 323.5px) 231px 0/2px 100% no-repeat,linear-gradient(#600000 0.5px,#680000 41.5px,#7d0000 72.5px,#920000 82.5px,#ae0000 91.5px,#cf0000 99.5px,#fe0100 108.5px,#ff2700 113.5px,#ff6300 120.5px,#fea600 126.5px,#f9d801 131.5px,#e8f612 134.5px,#d6fa22 135.5px,#83fa6d 138.5px,#71fb7f 139.5px,#41feb0 142.5px,#06f1f7 146.5px,#00e6ff 147.5px,#00a1ff 151.5px,#007cff 154.5px,#0061ff 158.5px,#0059ff 163.5px,#005bff 168.5px,#006dff 172.5px,#007fff 174.5px,#0099ff 176.5px,#00bcff 178.5px,#00e5ff 180.5px,#08f2f5 181.5px,#3ffdb3 184.5px,#68fc88 186.5px,#80fa70 187.5px,#cbfa2c 189.5px,#e9f511 190.5px,#f9d801 192.5px,#feaa00 195.5px,#ff6500 199.5px,#ff0500 206.5px,#f90000 207.5px,#be0000 214.5px,#950000 221.5px,#7e0000 228.5px,#750000 236.5px,#7d0000 243.5px,#950000 250.5px,#a70000 253.5px,#bf0000 256.5px,#de0000 259.5px,#f80000 261.5px,#ff0a00 262.5px,#ff3600 264.5px,#ff6a00 266.5px,#ff8d00 267.5px,#f8d502 269.5px,#d7f621 270.5px,#76fb7b 271.5px,#29f9cd 272.5px,#00beff 273.5px,#0057ff 274.5px,#0009ff 275.5px,#8080ff 276.5px,#ffffff 277.5px,#ffffff 323.5px) 233px 0/2px 100% no-repeat,linear-gradient(#600000 0.5px,#680000 40.5px,#7b0000 70.5px,#8f0000 80.5px,#a90000 89.5px,#cd0000 98.5px,#fb0000 107.5px,#ff0a00 109.5px,#ff5400 118.5px,#ff7000 121.5px,#ff9f00 125.5px,#f8da02 131.5px,#e6f814 134.5px,#7efa72 138.5px,#3dfdb5 142.5px,#03f0fb 146.5px,#00e0ff 147.5px,#00abff 150.5px,#008dff 152.5px,#006fff 155.5px,#0059ff 159.5px,#0055ff 165.5px,#005aff 169.5px,#0074ff 173.5px,#0098ff 176.5px,#00bbff 178.5px,#00e4ff 180.5px,#08f2f5 181.5px,#3efdb3 184.5px,#68fc88 186.5px,#80fa70 187.5px,#cbfa2c 189.5px,#e9f511 190.5px,#f9d801 192.5px,#feaa00 195.5px,#ff6500 199.5px,#ff0500 206.5px,#f90000 207.5px,#be0000 214.5px,#950000 221.5px,#7e0000 228.5px,#750000 236.5px,#7d0000 243.5px,#950000 250.5px,#a70000 253.5px,#bf0000 256.5px,#de0000 259.5px,#f80000 261.5px,#ff0a00 262.5px,#ff3600 264.5px,#ff6a00 266.5px,#ff8d00 267.5px,#f8d502 269.5px,#d7f621 270.5px,#76fb7b 271.5px,#29f9cd 272.5px,#00beff 273.5px,#0057ff 274.5px,#0009ff 275.5px,#8080ff 276.5px,#ffffff 277.5px,#ffffff 323.5px) 235px 0/2px 100% no-repeat,linear-gradient(#600000 0.5px,#680000 40.5px,#7a0000 69.5px,#8e0000 79.5px,#ab0000 89.5px,#cf0000 98.5px,#fd0000 107.5px,#ff2400 112.5px,#ff6900 120.5px,#ffa200 125.5px,#fad300 130.5px,#ebf10f 133.5px,#e2f918 134.5px,#8ffa62 137.5px,#79fb77 138.5px,#49ffa7 141.5px,#0df3ef 145.5px,#01eefd 146.5px,#00dcff 147.5px,#0097ff 151.5px,#007eff 153.5px,#006bff 155.5px,#0056ff 159.5px,#0051ff 165.5px,#0058ff 169.5px,#0073ff 173.5px,#0097ff 176.5px,#00baff 178.5px,#00e4ff 180.5px,#08f2f6 181.5px,#3efdb3 184.5px,#68fc88 186.5px,#80fa70 187.5px,#cbfa2c 189.5px,#e9f511 190.5px,#f9d701 192.5px,#feaa00 195.5px,#ff6500 199.5px,#ff0500 206.5px,#f90000 207.5px,#be0000 214.5px,#950000 221.5px,#7e0000 228.5px,#750000 236.5px,#7d0000 243.5px,#950000 250.5px,#a70000 253.5px,#bf0000 256.5px,#de0000 259.5px,#f80000 261.5px,#ff0a00 262.5px,#ff3600 264.5px,#ff6a00 266.5px,#ff8d00 267.5px,#f8d502 269.5px,#d7f621 270.5px,#76fb7b 271.5px,#29f9cd 272.5px,#00beff 273.5px,#0057ff 274.5px,#0009ff 275.5px,#8080ff 276.5px,#ffffff 277.5px,#ffffff 323.5px) 237px 0/2px 100% no-repeat,linear-gradient(#600000 0.5px,#670000 39.5px,#7a0000 68.5px,#8d0000 78.5px,#a90000 88.5px,#cc0000 97.5px,#fe0100 107.5px,#ff2f00 113.5px,#ff6b00 120.5px,#ffa400 125.5px,#fad500 130.5px,#eaf310 133.5px,#ddfa1c 134.5px,#8afa67 137.5px,#76fb7a 138.5px,#46feab 141.5px,#0bf2f2 145.5px,#00ebfe 146.5px,#00d8ff 147.5px,#0094ff 151.5px,#0068ff 155.5px,#0052ff 159.5px,#004eff 165.5px,#0056ff 169.5px,#0072ff 173.5px,#0097ff 176.5px,#00baff 178.5px,#00e4ff 180.5px,#08f2f6 181.5px,#3efdb3 184.5px,#68fc88 186.5px,#80fa70 187.5px,#cbfa2c 189.5px,#e9f511 190.5px,#f9d701 192.5px,#feaa00 195.5px,#ff6500 199.5px,#ff0500 206.5px,#f90000 207.5px,#be0000 214.5px,#950000 221.5px,#7e0000 228.5px,#750000 236.5px,#7d0000 243.5px,#950000 250.5px,#a70000 253.5px,#bf0000 256.5px,#de0000 259.5px,#f80000 261.5px,#ff0a00 262.5px,#ff3600 264.5px,#ff6a00 266.5px,#ff8d00 267.5px,#f8d502 269.5px,#d7f621 270.5px,#76fb7b 271.5px,#29f9cd 272.5px,#00beff 273.5px,#0057ff 274.5px,#0009ff 275.5px,#8080ff 276.5px,#ffffff 277.5px,#ffffff 323.5px) 239px 0/2px 100% no-repeat,linear-gradient(#600000 0.5px,#670000 39.5px,#790000 67.5px,#8b0000 77.5px,#a70000 87.5px,#ce0000 97.5px,#fb0000 106.5px,#ff0200 107.5px,#ff1100 109.5px,#ff5c00 118.5px,#ff6e00 120.5px,#fea600 125.5px,#f9d701 130.5px,#e9f511 133.5px,#d7fa21 134.5px,#85fa6c 137.5px,#73fb7d 138.5px,#43feae 141.5px,#08f2f5 145.5px,#00e8ff 146.5px,#00d5ff 147.5px,#0091ff 151.5px,#0065ff 155.5px,#0050ff 159.5px,#004cff 165.5px,#0055ff 169.5px,#0072ff 173.5px,#0097ff 176.5px,#00baff 178.5px,#00e4ff 180.5px,#08f2f6 181.5px,#3efdb3 184.5px,#68fc88 186.5px,#80fa70 187.5px,#cbfa2c 189.5px,#e9f511 190.5px,#f9d701 192.5px,#feaa00 195.5px,#ff6500 199.5px,#ff0500 206.5px,#f90000 207.5px,#be0000 214.5px,#950000 221.5px,#7e0000 228.5px,#750000 236.5px,#7d0000 243.5px,#950000 250.5px,#a70000 253.5px,#bf0000 256.5px,#de0000 259.5px,#f80000 261.5px,#ff0a00 262.5px,#ff3600 264.5px,#ff6a00 266.5px,#ff8d00 267.5px,#f8d502 269.5px,#d7f621 270.5px,#76fb7b 271.5px,#29f9cd 272.5px,#00beff 273.5px,#0057ff 274.5px,#0009ff 275.5px,#8080ff 276.5px,#ffffff 277.5px,#ffffff 323.5px) 241px 0/2px 100% no-repeat,linear-gradient(#600000 0.5px,#680000 40.5px,#7a0000 67.5px,#8c0000 77.5px,#a80000 87.5px,#cf0000 97.5px,#fd0000 106.5px,#ff1b00 110.5px,#ff5e00 118.5px,#ff7000 120.5px,#ff9e00 124.5px,#f8d902 130.5px,#e7f713 133.5px,#d2fa26 134.5px,#81fa6f 137.5px,#40feb1 141.5px,#07f1f7 145.5px,#00e6ff 146.5px,#008fff 151.5px,#006cff 154.5px,#0051ff 158.5px,#004aff 162.5px,#0050ff 168.5px,#0068ff 172.5px,#007cff 174.5px,#0096ff 176.5px,#00baff 178.5px,#00e4ff 180.5px,#08f2f6 181.5px,#3efdb3 184.5px,#68fc88 186.5px,#80fa70 187.5px,#cbfa2c 189.5px,#e9f511 190.5px,#f9d701 192.5px,#feaa00 195.5px,#ff6500 199.5px,#ff0500 206.5px,#f90000 207.5px,#be0000 214.5px,#950000 221.5px,#7e0000 228.5px,#750000 236.5px,#7d0000 243.5px,#950000 250.5px,#a70000 253.5px,#bf0000 256.5px,#de0000 259.5px,#f80000 261.5px,#ff0a00 262.5px,#ff3600 264.5px,#ff6a00 266.5px,#ff8d00 267.5px,#f8d502 269.5px,#d7f621 270.5px,#76fb7b 271.5px,#29f9cd 272.5px,#00beff 273.5px,#0057ff 274.5px,#0009ff 275.5px,#8080ff 276.5px,#ffffff 277.5px,#ffffff 323.5px) 243px 0/2px 100% no-repeat,linear-gradient(#600000 0.5px,#680000 41.5px,#7b0000 67.5px,#8d0000 77.5px,#a90000 87.5px,#cc0000 96.5px,#fe0000 106.5px,#ff2500 111.5px,#ff6800 119.5px,#ffa000 124.5px,#fbd100 129.5px,#e5f814 133.5px,#7efa72 137.5px,#3efdb3 141.5px,#05f1f9 145.5px,#00e4ff 146.5px,#008eff 151.5px,#0062ff 155.5px,#0054ff 157.5px,#004cff 159.5px,#0048ff 163.5px,#004fff 168.5px,#0068ff 172.5px,#007cff 174.5px,#0096ff 176.5px,#00baff 178.5px,#00e4ff 180.5px,#08f2f6 181.5px,#3efdb3 184.5px,#68fc88 186.5px,#80fa70 187.5px,#cbfa2c 189.5px,#e9f511 190.5px,#f9d701 192.5px,#feaa00 195.5px,#ff6500 199.5px,#ff0500 206.5px,#f90000 207.5px,#be0000 214.5px,#950000 221.5px,#7e0000 228.5px,#750000 236.5px,#7d0000 243.5px,#950000 250.5px,#a70000 253.5px,#bf0000 256.5px,#de0000 259.5px,#f80000 261.5px,#ff0a00 262.5px,#ff3600 264.5px,#ff6a00 266.5px,#ff8d00 267.5px,#f8d502 269.5px,#d7f621 270.5px,#76fb7b 271.5px,#29f9cd 272.5px,#00beff 273.5px,#0057ff 274.5px,#0009ff 275.5px,#8080ff 276.5px,#ffffff 277.5px,#ffffff 323.5px) 245px 0/2px 100% no-repeat,linear-gradient(#600000 0.5px,#680000 41.5px,#730000 60.5px,#7b0000 67.5px,#8e0000 77.5px,#aa0000 87.5px,#cd0000 96.5px,#fe0100 106.5px,#ff2e00 112.5px,#ff6a00 119.5px,#ffa200 124.5px,#fad300 129.5px,#e3f917 133.5px,#7cfb74 137.5px,#3dfdb5 141.5px,#04f0fa 145.5px,#00e3ff 146.5px,#008eff 151.5px,#0061ff 155.5px,#0053ff 157.5px,#004aff 159.5px,#0047ff 163.5px,#004fff 168.5px,#0068ff 172.5px,#007cff 174.5px,#0096ff 176.5px,#00baff 178.5px,#00e4ff 180.5px,#08f2f6 181.5px,#3efdb3 184.5px,#68fc88 186.5px,#80fa70 187.5px,#cbfa2c 189.5px,#e9f511 190.5px,#f9d701 192.5px,#feaa00 195.5px,#ff6500 199.5px,#ff0500 206.5px,#f90000 207.5px,#be0000 214.5px,#950000 221.5px,#7e0000 228.5px,#750000 236.5px,#7d0000 243.5px,#950000 250.5px,#a70000 253.5px,#bf0000 256.5px,#de0000 259.5px,#f80000 261.5px,#ff0a00 262.5px,#ff3600 264.5px,#ff6a00 266.5px,#ff8d00 267.5px,#f8d502 269.5px,#d7f621 270.5px,#76fb7b 271.5px,#29f9cd 272.5px,#00beff 273.5px,#0057ff 274.5px,#0009ff 275.5px,#8080ff 276.5px,#ffffff 277.5px,#ffffff 323.5px) 247px 0/2px 100% no-repeat,linear-gradient(#600000 0.5px,#680000 41.5px,#720000 59.5px,#7a0000 66.5px,#8d0000 76.5px,#a80000 86.5px,#ce0000 96.5px,#fb0000 105.5px,#ff0900 107.5px,#ff5100 116.5px,#ff6b00 119.5px,#ffa300 124.5px,#fad400 129.5px,#ebf10f 132.5px,#e1f918 133.5px,#90fa62 136.5px,#7afb76 137.5px,#3bfdb7 141.5px,#04f0fb 145.5px,#00e2ff 146.5px,#008eff 151.5px,#0061ff 155.5px,#0052ff 157.5px,#0049ff 159.5px,#0046ff 163.5px,#004fff 168.5px,#0068ff 172.5px,#007cff 174.5px,#0096ff 176.5px,#00baff 178.5px,#00e4ff 180.5px,#08f2f6 181.5px,#3efdb3 184.5px,#68fc88 186.5px,#80fa70 187.5px,#cbfa2c 189.5px,#e9f511 190.5px,#f9d701 192.5px,#feaa00 195.5px,#ff6500 199.5px,#ff0500 206.5px,#f90000 207.5px,#be0000 214.5px,#950000 221.5px,#7e0000 228.5px,#750000 236.5px,#7d0000 243.5px,#950000 250.5px,#a70000 253.5px,#bf0000 256.5px,#de0000 259.5px,#f80000 261.5px,#ff0a00 262.5px,#ff3600 264.5px,#ff6a00 266.5px,#ff8d00 267.5px,#f8d502 269.5px,#d7f621 270.5px,#76fb7b 271.5px,#29f9cd 272.5px,#00beff 273.5px,#0057ff 274.5px,#0009ff 275.5px,#8080ff 276.5px,#ffffff 277.5px,#ffffff 323.5px) 249px 0/2px 100% no-repeat,linear-gradient(#600000 0.5px,#680000 41.5px,#720000 59.5px,#7b0000 66.5px,#8d0000 76.5px,#a90000 86.5px,#cf0000 96.5px,#fb0000 105.5px,#ff0300 106.5px,#ff1100 108.5px,#ff5a00 117.5px,#ff6c00 119.5px,#ffa400 124.5px,#fad500 129.5px,#eaf210 132.5px,#dffa1a 133.5px,#8dfa64 136.5px,#79fb77 137.5px,#3afdb8 141.5px,#03f0fb 145.5px,#00e1ff 146.5px,#008eff 151.5px,#0062ff 155.5px,#0052ff 157.5px,#0049ff 159.5px,#0045ff 163.5px,#004fff 168.5px,#0068ff 172.5px,#007cff 174.5px,#0096ff 176.5px,#00baff 178.5px,#00e4ff 180.5px,#08f2f6 181.5px,#3efdb3 184.5px,#68fc88 186.5px,#80fa70 187.5px,#cbfa2c 189.5px,#e9f511 190.5px,#f9d701 192.5px,#feaa00 195.5px,#ff6500 199.5px,#ff0500 206.5px,#f90000 207.5px,#be0000 214.5px,#950000 221.5px,#7e0000 228.5px,#750000 236.5px,#7d0000 243.5px,#950000 250.5px,#a70000 253.5px,#bf0000 256.5px,#de0000 259.5px,#f80000 261.5px,#ff0a00 262.5px,#ff3600 264.5px,#ff6a00 266.5px,#ff8d00 267.5px,#f8d502 269.5px,#d7f621 270.5px,#76fb7b 271.5px,#29f9cd 272.5px,#00beff 273.5px,#0057ff 274.5px,#0009ff 275.5px,#8080ff 276.5px,#ffffff 277.5px,#ffffff 323.5px) 251px 0/2px 100% no-repeat,linear-gradient(#600000 0.5px,#690000 42.5px,#710000 58.5px,#7b0000 66.5px,#8e0000 76.5px,#a90000 86.5px,#cf0000 96.5px,#fc0000 105.5px,#ff0300 106.5px,#ff1a00 109.5px,#ff6400 118.5px,#ffa500 124.5px,#fad600 129.5px,#eaf310 132.5px,#ddfa1c 133.5px,#8bfa66 136.5px,#77fb79 137.5px,#3afcb9 141.5px,#03f0fc 145.5px,#00e0ff 146.5px,#008fff 151.5px,#0063ff 155.5px,#0049ff 159.5px,#0045ff 163.5px,#004fff 168.5px,#0060ff 171.5px,#0071ff 173.5px,#0096ff 176.5px,#00baff 178.5px,#00e4ff 180.5px,#08f2f6 181.5px,#3efdb3 184.5px,#68fc88 186.5px,#80fa70 187.5px,#cbfa2c 189.5px,#e9f511 190.5px,#f9d701 192.5px,#feaa00 195.5px,#ff6500 199.5px,#ff0500 206.5px,#f90000 207.5px,#be0000 214.5px,#950000 221.5px,#7e0000 228.5px,#750000 236.5px,#7d0000 243.5px,#950000 250.5px,#a70000 253.5px,#bf0000 256.5px,#de0000 259.5px,#f80000 261.5px,#ff0a00 262.5px,#ff3600 264.5px,#ff6a00 266.5px,#ff8d00 267.5px,#f8d502 269.5px,#d7f621 270.5px,#76fb7b 271.5px,#29f9cd 272.5px,#00beff 273.5px,#0057ff 274.5px,#0009ff 275.5px,#8080ff 276.5px,#ffffff 277.5px,#ffffff 323.5px) 253px 0/2px 100% no-repeat,linear-gradient(#600000 0.5px,#690000 42.5px,#710000 58.5px,#7b0000 66.5px,#8e0000 76.5px,#aa0000 86.5px,#d00000 96.5px,#fd0000 105.5px,#ff1b00 109.5px,#ff6500 118.5px,#fea600 124.5px,#fad600 129.5px,#eaf410 132.5px,#dcfa1d 133.5px,#8afa67 136.5px,#77fb79 137.5px,#39fcba 141.5px,#03effc 145.5px,#00e0ff 146.5px,#008fff 151.5px,#0064ff 155.5px,#0049ff 159.5px,#0045ff 163.5px,#004fff 168.5px,#0060ff 171.5px,#0071ff 173.5px,#0096ff 176.5px,#00baff 178.5px,#00e4ff 180.5px,#08f2f6 181.5px,#3efdb3 184.5px,#68fc88 186.5px,#80fa70 187.5px,#cbfa2c 189.5px,#e9f511 190.5px,#f9d701 192.5px,#feaa00 195.5px,#ff6500 199.5px,#ff0500 206.5px,#f90000 207.5px,#be0000 214.5px,#950000 221.5px,#7e0000 228.5px,#750000 236.5px,#7d0000 243.5px,#950000 250.5px,#a70000 253.5px,#bf0000 256.5px,#de0000 259.5px,#f80000 261.5px,#ff0a00 262.5px,#ff3600 264.5px,#ff6a00 266.5px,#ff8d00 267.5px,#f8d502 269.5px,#d7f621 270.5px,#76fb7b 271.5px,#29f9cd 272.5px,#00beff 273.5px,#0057ff 274.5px,#0009ff 275.5px,#8080ff 276.5px,#ffffff 277.5px,#ffffff 323.5px) 255px 0/2px 100% no-repeat,linear-gradient(#600000 0.5px,#690000 42.5px,#710000 57.5px,#7b0000 66.5px,#8e0000 76.5px,#aa0000 86.5px,#d00000 96.5px,#fd0000 105.5px,#ff2300 110.5px,#ff6500 118.5px,#fea600 124.5px,#fad701 129.5px,#e9f411 132.5px,#dbfa1e 133.5px,#89fa68 136.5px,#76fb7a 137.5px,#47ffa9 140.5px,#0ff3ed 144.5px,#02effc 145.5px,#00e0ff 146.5px,#0090ff 151.5px,#0066ff 155.5px,#004aff 159.5px,#0045ff 163.5px,#004fff 168.5px,#0060ff 171.5px,#0071ff 173.5px,#0096ff 176.5px,#00baff 178.5px,#00e4ff 180.5px,#08f2f6 181.5px,#3efdb3 184.5px,#68fc88 186.5px,#80fa70 187.5px,#cbfa2c 189.5px,#e9f511 190.5px,#f9d701 192.5px,#feaa00 195.5px,#ff6500 199.5px,#ff0500 206.5px,#f90000 207.5px,#be0000 214.5px,#950000 221.5px,#7e0000 228.5px,#750000 236.5px,#7d0000 243.5px,#950000 250.5px,#a70000 253.5px,#bf0000 256.5px,#de0000 259.5px,#f80000 261.5px,#ff0a00 262.5px,#ff3600 264.5px,#ff6a00 266.5px,#ff8d00 267.5px,#f8d502 269.5px,#d7f621 270.5px,#76fb7b 271.5px,#29f9cd 272.5px,#00beff 273.5px,#0057ff 274.5px,#0009ff 275.5px,#8080ff 276.5px,#ffffff 277.5px,#ffffff 323.5px) 257px 0/2px 100% no-repeat,linear-gradient(#600000 0.5px,#690000 42.5px,#710000 57.5px,#7c0000 66.5px,#8e0000 76.5px,#aa0000 86.5px,#d00000 96.5px,#fd0000 105.5px,#ff2300 110.5px,#ff6500 118.5px,#fea600 124.5px,#f9d701 129.5px,#e9f411 132.5px,#dafa1e 133.5px,#89fa68 136.5px,#76fb7a 137.5px,#47ffa9 140.5px,#0ff3ed 144.5px,#02effc 145.5px,#00e0ff 146.5px,#0090ff 151.5px,#006fff 154.5px,#0051ff 158.5px,#0045ff 162.5px,#004bff 167.5px,#0059ff 170.5px,#0068ff 172.5px,#007cff 174.5px,#0096ff 176.5px,#00baff 178.5px,#00e4ff 180.5px,#08f2f6 181.5px,#3efdb3 184.5px,#68fc88 186.5px,#80fa70 187.5px,#cbfa2c 189.5px,#e9f511 190.5px,#f9d701 192.5px,#feaa00 195.5px,#ff6500 199.5px,#ff0500 206.5px,#f90000 207.5px,#be0000 214.5px,#950000 221.5px,#7e0000 228.5px,#750000 236.5px,#7d0000 243.5px,#950000 250.5px,#a70000 253.5px,#bf0000 256.5px,#de0000 259.5px,#f80000 261.5px,#ff0a00 262.5px,#ff3600 264.5px,#ff6a00 266.5px,#ff8d00 267.5px,#f8d502 269.5px,#d7f621 270.5px,#76fb7b 271.5px,#29f9cd 272.5px,#00beff 273.5px,#0057ff 274.5px,#0009ff 275.5px,#8080ff 276.5px,#ffffff 277.5px,#ffffff 323.5px) 259px 0/2px 100% no-repeat}
</style></head><body>
<div class="pn" style="left:178px;top:43px;width:908px;height:652px"><div class="t ta" style="left:0px;top:0;height:326px"></div><div class="t ta m" style="left:0px;top:326px;height:326px"></div><div class="t ta" style="left:261px;top:0;height:326px"></div><div class="t ta m" style="left:261px;top:326px;height:326px"></div><div class="t ta" style="left:522px;top:0;height:326px"></div><div class="t ta m" style="left:522px;top:326px;height:326px"></div><div class="t ta" style="left:783px;top:0;height:326px"></div><div class="t ta m" style="left:783px;top:326px;height:326px"></div></div>
<div class="pn" style="left:1266px;top:43.5px;width:911px;height:651.5px"><div class="t tb" style="left:0px;top:0;height:326px"></div><div class="t tb m" style="left:0px;top:326px;height:326px"></div><div class="t tb" style="left:261px;top:0;height:326px"></div><div class="t tb m" style="left:261px;top:326px;height:326px"></div><div class="t tb" style="left:522px;top:0;height:326px"></div><div class="t tb m" style="left:522px;top:326px;height:326px"></div><div class="t tb" style="left:783px;top:0;height:326px"></div><div class="t tb m" style="left:783px;top:326px;height:326px"></div></div>
<div class="pn" style="left:178px;top:854px;width:909px;height:648px"><div class="t tc" style="left:0px;top:0;height:324px"></div><div class="t tc m" style="left:0px;top:324px;height:324px"></div><div class="t tc" style="left:261px;top:0;height:324px"></div><div class="t tc m" style="left:261px;top:324px;height:324px"></div><div class="t tc" style="left:522px;top:0;height:324px"></div><div class="t tc m" style="left:522px;top:324px;height:324px"></div><div class="t tc" style="left:783px;top:0;height:324px"></div><div class="t tc m" style="left:783px;top:324px;height:324px"></div></div>
<div style="position:absolute;left:2201px;top:45.5px;width:47px;height:649.5px;background:linear-gradient(#5f0000 0.0%,#ff0000 32.0%,#ff6e00 49.0%,#ffa000 55.0%,#fad700 63.0%,#e6fa14 68.0%,#82fa6e 73.0%,#46ffaa 78.0%,#00f0ff 84.0%,#008cff 90.0%,#0028ff 97.0%,#0000ff 100.0%)"></div>
<div style="position:absolute;left:2201px;top:44px;width:47px;height:1.5px;background:#c9b3b3"></div>
<svg width="2366" height="1663" viewBox="0 0 2366 1663" font-family="Liberation Serif, serif" font-weight="bold">
<clipPath id="cl"><rect x="1285" y="853" width="881" height="648"/></clipPath>
<g clip-path="url(#cl)" fill="none" stroke-width="4.4">
<path d="M1285.2,1428.8 L1288.7,1428.6 L1292.3,1427.8 L1295.8,1426.4 L1299.3,1424.5 L1302.9,1421.9 L1306.4,1418.7 L1309.9,1414.6 L1313.5,1409.8 L1317.0,1404.1 L1320.5,1397.4 L1324.1,1389.7 L1327.6,1380.9 L1331.1,1370.8 L1334.6,1359.6 L1338.2,1347.1 L1341.7,1333.3 L1345.2,1318.3 L1348.8,1302.1 L1352.3,1284.7 L1355.8,1266.4 L1359.4,1247.1 L1362.9,1227.2 L1366.4,1206.9 L1370.0,1186.3 L1373.5,1165.8 L1377.0,1145.7 L1380.6,1126.3 L1384.1,1107.9 L1387.6,1090.8 L1391.2,1075.4 L1394.7,1061.9 L1398.2,1050.6 L1401.8,1041.8 L1405.3,1035.5 L1408.8,1032.0 L1412.4,1031.3 L1415.9,1033.4 L1419.4,1038.3 L1422.9,1045.9 L1426.5,1056.0 L1430.0,1068.4 L1433.5,1082.9 L1437.1,1099.2 L1440.6,1116.9 L1444.1,1135.9 L1447.7,1155.7 L1451.2,1176.0 L1454.7,1196.6 L1458.3,1217.1 L1461.8,1237.3 L1465.3,1256.8 L1468.9,1275.7 L1472.4,1293.5 L1475.9,1310.3 L1479.5,1326.0 L1483.0,1340.4 L1486.5,1353.5 L1490.1,1365.4 L1493.6,1376.0 L1497.1,1385.4 L1500.7,1393.7 L1504.2,1400.9 L1507.7,1407.1 L1511.2,1412.3 L1514.8,1416.7 L1518.3,1420.4 L1521.8,1423.3 L1525.4,1425.5 L1528.9,1427.2 L1532.4,1428.2 L1536.0,1428.8 L1539.5,1428.8 L1543.0,1428.2 L1546.6,1427.2 L1550.1,1425.5 L1553.6,1423.3 L1557.2,1420.4 L1560.7,1416.7 L1564.2,1412.3 L1567.8,1407.1 L1571.3,1400.9 L1574.8,1393.7 L1578.4,1385.4 L1581.9,1376.0 L1585.4,1365.4 L1589.0,1353.5 L1592.5,1340.4 L1596.0,1326.0 L1599.5,1310.3 L1603.1,1293.5 L1606.6,1275.7 L1610.1,1256.8 L1613.7,1237.3 L1617.2,1217.1 L1620.7,1196.6 L1624.3,1176.0 L1627.8,1155.7 L1631.3,1135.9 L1634.9,1116.9 L1638.4,1099.2 L1641.9,1082.9 L1645.5,1068.4 L1649.0,1056.0 L1652.5,1045.9 L1656.1,1038.3 L1659.6,1033.4 L1663.1,1031.3 L1666.7,1032.0 L1670.2,1035.5 L1673.7,1041.8 L1677.3,1050.6 L1680.8,1061.9 L1684.3,1075.4 L1687.8,1090.8 L1691.4,1107.9 L1694.9,1126.3 L1698.4,1145.7 L1702.0,1165.8 L1705.5,1186.3 L1709.0,1206.9 L1712.6,1227.2 L1716.1,1247.1 L1719.6,1266.4 L1723.2,1284.7 L1726.7,1302.1 L1730.2,1318.3 L1733.8,1333.3 L1737.3,1347.1 L1740.8,1359.6 L1744.4,1370.8 L1747.9,1380.9 L1751.4,1389.7 L1755.0,1397.4 L1758.5,1404.1 L1762.0,1409.8 L1765.6,1414.6 L1769.1,1418.7 L1772.6,1421.9 L1776.1,1424.5 L1779.7,1426.4 L1783.2,1427.8 L1786.7,1428.6 L1790.3,1428.8 L1793.8,1428.6 L1797.3,1427.8 L1800.9,1426.4 L1804.4,1424.5 L1807.9,1421.9 L1811.5,1418.7 L1815.0,1414.6 L1818.5,1409.8 L1822.1,1404.1 L1825.6,1397.4 L1829.1,1389.7 L1832.7,1380.9 L1836.2,1370.8 L1839.7,1359.6 L1843.3,1347.1 L1846.8,1333.3 L1850.3,1318.3 L1853.9,1302.1 L1857.4,1284.7 L1860.9,1266.4 L1864.4,1247.1 L1868.0,1227.2 L1871.5,1206.9 L1875.0,1186.3 L1878.6,1165.8 L1882.1,1145.7 L1885.6,1126.3 L1889.2,1107.9 L1892.7,1090.8 L1896.2,1075.4 L1899.8,1061.9 L1903.3,1050.6 L1906.8,1041.8 L1910.4,1035.5 L1913.9,1032.0 L1917.4,1031.3 L1921.0,1033.4 L1924.5,1038.3 L1928.0,1045.9 L1931.6,1056.0 L1935.1,1068.4 L1938.6,1082.9 L1942.2,1099.2 L1945.7,1116.9 L1949.2,1135.9 L1952.7,1155.7 L1956.3,1176.0 L1959.8,1196.6 L1963.3,1217.1 L1966.9,1237.3 L1970.4,1256.8 L1973.9,1275.7 L1977.5,1293.5 L1981.0,1310.3 L1984.5,1326.0 L1988.1,1340.4 L1991.6,1353.5 L1995.1,1365.4 L1998.7,1376.0 L2002.2,1385.4 L2005.7,1393.7 L2009.3,1400.9 L2012.8,1407.1 L2016.3,1412.3 L2019.9,1416.7 L2023.4,1420.4 L2026.9,1423.3 L2030.5,1425.5 L2034.0,1427.2 L2037.5,1428.2 L2041.0,1428.8 L2044.6,1428.8 L2048.1,1428.2 L2051.6,1427.2 L2055.2,1425.5 L2058.7,1423.3 L2062.2,1420.4 L2065.8,1416.7 L2069.3,1412.3 L2072.8,1407.1 L2076.4,1400.9 L2079.9,1393.7 L2083.4,1385.4 L2087.0,1376.0 L2090.5,1365.4 L2094.0,1353.5 L2097.6,1340.4 L2101.1,1326.0 L2104.6,1310.3 L2108.2,1293.5 L2111.7,1275.7 L2115.2,1256.8 L2118.8,1237.3 L2122.3,1217.1 L2125.8,1196.6 L2129.3,1176.0 L2132.9,1155.7 L2136.4,1135.9 L2139.9,1116.9 L2143.5,1099.2 L2147.0,1082.9 L2150.5,1068.4 L2154.1,1056.0 L2157.6,1045.9 L2161.1,1038.3 L2164.7,1033.4 L2168.2,1031.3" stroke="#00f" stroke-dasharray="3.5 24.3" stroke-linecap="round" stroke-width="5.2"/>
<path d="M1285.2,1153.5 L1288.7,1153.5 L1292.3,1153.3 L1295.8,1153.0 L1299.3,1152.5 L1302.9,1151.9 L1306.4,1151.1 L1309.9,1150.1 L1313.5,1148.8 L1317.0,1147.3 L1320.5,1145.5 L1324.1,1143.3 L1327.6,1140.8 L1331.1,1137.9 L1334.6,1134.6 L1338.2,1130.8 L1341.7,1126.6 L1345.2,1121.8 L1348.8,1116.7 L1352.3,1111.0 L1355.8,1105.0 L1359.4,1098.5 L1362.9,1091.8 L1366.4,1084.8 L1370.0,1077.6 L1373.5,1070.4 L1377.0,1063.2 L1380.6,1056.2 L1384.1,1049.6 L1387.6,1043.3 L1391.2,1037.7 L1394.7,1032.7 L1398.2,1028.5 L1401.8,1025.2 L1405.3,1022.9 L1408.8,1021.6 L1412.4,1021.3 L1415.9,1022.1 L1419.4,1023.9 L1422.9,1026.7 L1426.5,1030.5 L1430.0,1035.1 L1433.5,1040.4 L1437.1,1046.4 L1440.6,1052.9 L1444.1,1059.7 L1447.7,1066.8 L1451.2,1074.0 L1454.7,1081.2 L1458.3,1088.3 L1461.8,1095.2 L1465.3,1101.8 L1468.9,1108.1 L1472.4,1113.9 L1475.9,1119.3 L1479.5,1124.3 L1483.0,1128.7 L1486.5,1132.8 L1490.1,1136.3 L1493.6,1139.4 L1497.1,1142.1 L1500.7,1144.4 L1504.2,1146.4 L1507.7,1148.1 L1511.2,1149.5 L1514.8,1150.6 L1518.3,1151.5 L1521.8,1152.2 L1525.4,1152.8 L1528.9,1153.2 L1532.4,1153.4 L1536.0,1153.5 L1539.5,1153.5 L1543.0,1153.4 L1546.6,1153.2 L1550.1,1152.8 L1553.6,1152.2 L1557.2,1151.5 L1560.7,1150.6 L1564.2,1149.5 L1567.8,1148.1 L1571.3,1146.4 L1574.8,1144.4 L1578.4,1142.1 L1581.9,1139.4 L1585.4,1136.3 L1589.0,1132.8 L1592.5,1128.7 L1596.0,1124.3 L1599.5,1119.3 L1603.1,1113.9 L1606.6,1108.1 L1610.1,1101.8 L1613.7,1095.2 L1617.2,1088.3 L1620.7,1081.2 L1624.3,1074.0 L1627.8,1066.8 L1631.3,1059.7 L1634.9,1052.9 L1638.4,1046.4 L1641.9,1040.4 L1645.5,1035.1 L1649.0,1030.5 L1652.5,1026.7 L1656.1,1023.9 L1659.6,1022.1 L1663.1,1021.3 L1666.7,1021.6 L1670.2,1022.9 L1673.7,1025.2 L1677.3,1028.5 L1680.8,1032.7 L1684.3,1037.7 L1687.8,1043.3 L1691.4,1049.6 L1694.9,1056.2 L1698.4,1063.2 L1702.0,1070.4 L1705.5,1077.6 L1709.0,1084.8 L1712.6,1091.8 L1716.1,1098.5 L1719.6,1105.0 L1723.2,1111.0 L1726.7,1116.7 L1730.2,1121.8 L1733.8,1126.6 L1737.3,1130.8 L1740.8,1134.6 L1744.4,1137.9 L1747.9,1140.8 L1751.4,1143.3 L1755.0,1145.5 L1758.5,1147.3 L1762.0,1148.8 L1765.6,1150.1 L1769.1,1151.1 L1772.6,1151.9 L1776.1,1152.5 L1779.7,1153.0 L1783.2,1153.3 L1786.7,1153.5 L1790.3,1153.5 L1793.8,1153.5 L1797.3,1153.3 L1800.9,1153.0 L1804.4,1152.5 L1807.9,1151.9 L1811.5,1151.1 L1815.0,1150.1 L1818.5,1148.8 L1822.1,1147.3 L1825.6,1145.5 L1829.1,1143.3 L1832.7,1140.8 L1836.2,1137.9 L1839.7,1134.6 L1843.3,1130.8 L1846.8,1126.6 L1850.3,1121.8 L1853.9,1116.7 L1857.4,1111.0 L1860.9,1105.0 L1864.4,1098.5 L1868.0,1091.8 L1871.5,1084.8 L1875.0,1077.6 L1878.6,1070.4 L1882.1,1063.2 L1885.6,1056.2 L1889.2,1049.6 L1892.7,1043.3 L1896.2,1037.7 L1899.8,1032.7 L1903.3,1028.5 L1906.8,1025.2 L1910.4,1022.9 L1913.9,1021.6 L1917.4,1021.3 L1921.0,1022.1 L1924.5,1023.9 L1928.0,1026.7 L1931.6,1030.5 L1935.1,1035.1 L1938.6,1040.4 L1942.2,1046.4 L1945.7,1052.9 L1949.2,1059.7 L1952.7,1066.8 L1956.3,1074.0 L1959.8,1081.2 L1963.3,1088.3 L1966.9,1095.2 L1970.4,1101.8 L1973.9,1108.1 L1977.5,1113.9 L1981.0,1119.3 L1984.5,1124.3 L1988.1,1128.7 L1991.6,1132.8 L1995.1,1136.3 L1998.7,1139.4 L2002.2,1142.1 L2005.7,1144.4 L2009.3,1146.4 L2012.8,1148.1 L2016.3,1149.5 L2019.9,1150.6 L2023.4,1151.5 L2026.9,1152.2 L2030.5,1152.8 L2034.0,1153.2 L2037.5,1153.4 L2041.0,1153.5 L2044.6,1153.5 L2048.1,1153.4 L2051.6,1153.2 L2055.2,1152.8 L2058.7,1152.2 L2062.2,1151.5 L2065.8,1150.6 L2069.3,1149.5 L2072.8,1148.1 L2076.4,1146.4 L2079.9,1144.4 L2083.4,1142.1 L2087.0,1139.4 L2090.5,1136.3 L2094.0,1132.8 L2097.6,1128.7 L2101.1,1124.3 L2104.6,1119.3 L2108.2,1113.9 L2111.7,1108.1 L2115.2,1101.8 L2118.8,1095.2 L2122.3,1088.3 L2125.8,1081.2 L2129.3,1074.0 L2132.9,1066.8 L2136.4,1059.7 L2139.9,1052.9 L2143.5,1046.4 L2147.0,1040.4 L2150.5,1035.1 L2154.1,1030.5 L2157.6,1026.7 L2161.1,1023.9 L2164.7,1022.1 L2168.2,1021.3" stroke="#f00" stroke-dasharray="17.6 28.2" stroke-dashoffset="-2.2" stroke-linecap="round"/>
<path d="M1285.2,971.4 L1288.7,971.5 L1292.3,971.7 L1295.8,972.0 L1299.3,972.5 L1302.9,973.1 L1306.4,973.9 L1309.9,974.8 L1313.5,975.7 L1317.0,976.8 L1320.5,978.0 L1324.1,979.3 L1327.6,980.6 L1331.1,982.1 L1334.6,983.6 L1338.2,985.1 L1341.7,986.7 L1345.2,988.3 L1348.8,989.9 L1352.3,991.5 L1355.8,993.0 L1359.4,994.6 L1362.9,996.1 L1366.4,997.6 L1370.0,999.0 L1373.5,1000.3 L1377.0,1001.6 L1380.6,1002.8 L1384.1,1003.8 L1387.6,1004.8 L1391.2,1005.6 L1394.7,1006.3 L1398.2,1006.9 L1401.8,1007.4 L1405.3,1007.7 L1408.8,1007.9 L1412.4,1007.9 L1415.9,1007.8 L1419.4,1007.5 L1422.9,1007.2 L1426.5,1006.6 L1430.0,1006.0 L1433.5,1005.2 L1437.1,1004.3 L1440.6,1003.3 L1444.1,1002.2 L1447.7,1001.0 L1451.2,999.7 L1454.7,998.3 L1458.3,996.9 L1461.8,995.4 L1465.3,993.8 L1468.9,992.2 L1472.4,990.7 L1475.9,989.1 L1479.5,987.5 L1483.0,985.9 L1486.5,984.3 L1490.1,982.8 L1493.6,981.4 L1497.1,980.0 L1500.7,978.6 L1504.2,977.4 L1507.7,976.3 L1511.2,975.2 L1514.8,974.3 L1518.3,973.5 L1521.8,972.8 L1525.4,972.3 L1528.9,971.8 L1532.4,971.6 L1536.0,971.4 L1539.5,971.4 L1543.0,971.6 L1546.6,971.8 L1550.1,972.3 L1553.6,972.8 L1557.2,973.5 L1560.7,974.3 L1564.2,975.2 L1567.8,976.3 L1571.3,977.4 L1574.8,978.6 L1578.4,980.0 L1581.9,981.4 L1585.4,982.8 L1589.0,984.3 L1592.5,985.9 L1596.0,987.5 L1599.5,989.1 L1603.1,990.7 L1606.6,992.2 L1610.1,993.8 L1613.7,995.4 L1617.2,996.9 L1620.7,998.3 L1624.3,999.7 L1627.8,1001.0 L1631.3,1002.2 L1634.9,1003.3 L1638.4,1004.3 L1641.9,1005.2 L1645.5,1006.0 L1649.0,1006.6 L1652.5,1007.2 L1656.1,1007.5 L1659.6,1007.8 L1663.1,1007.9 L1666.7,1007.9 L1670.2,1007.7 L1673.7,1007.4 L1677.3,1006.9 L1680.8,1006.3 L1684.3,1005.6 L1687.8,1004.8 L1691.4,1003.8 L1694.9,1002.8 L1698.4,1001.6 L1702.0,1000.3 L1705.5,999.0 L1709.0,997.6 L1712.6,996.1 L1716.1,994.6 L1719.6,993.0 L1723.2,991.5 L1726.7,989.9 L1730.2,988.3 L1733.8,986.7 L1737.3,985.1 L1740.8,983.6 L1744.4,982.1 L1747.9,980.6 L1751.4,979.3 L1755.0,978.0 L1758.5,976.8 L1762.0,975.7 L1765.6,974.8 L1769.1,973.9 L1772.6,973.1 L1776.1,972.5 L1779.7,972.0 L1783.2,971.7 L1786.7,971.5 L1790.3,971.4 L1793.8,971.5 L1797.3,971.7 L1800.9,972.0 L1804.4,972.5 L1807.9,973.1 L1811.5,973.9 L1815.0,974.8 L1818.5,975.7 L1822.1,976.8 L1825.6,978.0 L1829.1,979.3 L1832.7,980.6 L1836.2,982.1 L1839.7,983.6 L1843.3,985.1 L1846.8,986.7 L1850.3,988.3 L1853.9,989.9 L1857.4,991.5 L1860.9,993.0 L1864.4,994.6 L1868.0,996.1 L1871.5,997.6 L1875.0,999.0 L1878.6,1000.3 L1882.1,1001.6 L1885.6,1002.8 L1889.2,1003.8 L1892.7,1004.8 L1896.2,1005.6 L1899.8,1006.3 L1903.3,1006.9 L1906.8,1007.4 L1910.4,1007.7 L1913.9,1007.9 L1917.4,1007.9 L1921.0,1007.8 L1924.5,1007.5 L1928.0,1007.2 L1931.6,1006.6 L1935.1,1006.0 L1938.6,1005.2 L1942.2,1004.3 L1945.7,1003.3 L1949.2,1002.2 L1952.7,1001.0 L1956.3,999.7 L1959.8,998.3 L1963.3,996.9 L1966.9,995.4 L1970.4,993.8 L1973.9,992.2 L1977.5,990.7 L1981.0,989.1 L1984.5,987.5 L1988.1,985.9 L1991.6,984.3 L1995.1,982.8 L1998.7,981.4 L2002.2,980.0 L2005.7,978.6 L2009.3,977.4 L2012.8,976.3 L2016.3,975.2 L2019.9,974.3 L2023.4,973.5 L2026.9,972.8 L2030.5,972.3 L2034.0,971.8 L2037.5,971.6 L2041.0,971.4 L2044.6,971.4 L2048.1,971.6 L2051.6,971.8 L2055.2,972.3 L2058.7,972.8 L2062.2,973.5 L2065.8,974.3 L2069.3,975.2 L2072.8,976.3 L2076.4,977.4 L2079.9,978.6 L2083.4,980.0 L2087.0,981.4 L2090.5,982.8 L2094.0,984.3 L2097.6,985.9 L2101.1,987.5 L2104.6,989.1 L2108.2,990.7 L2111.7,992.2 L2115.2,993.8 L2118.8,995.4 L2122.3,996.9 L2125.8,998.3 L2129.3,999.7 L2132.9,1001.0 L2136.4,1002.2 L2139.9,1003.3 L2143.5,1004.3 L2147.0,1005.2 L2150.5,1006.0 L2154.1,1006.6 L2157.6,1007.2 L2161.1,1007.5 L2164.7,1007.8 L2168.2,1007.9" stroke="#000"/>
</g>
<path d="M1287 917.2h11 M1287 1023.3h11 M1287 1129.4h11 M1287 1235.4h11 M1287 1341.5h11 M1287 1447.6h11 M1287 970.2h5 M1287 1076.3h5 M1287 1182.4h5 M1287 1288.5h5 M1287 1394.6h5 M1287 864.2h5 M1285.2 1498v-10 M1373.5 1498v-4 M1461.8 1498v-10 M1550.1 1498v-4 M1638.4 1498v-10 M1726.7 1498v-4 M1815.0 1498v-10 M1903.3 1498v-4 M1991.6 1498v-10 M2079.9 1498v-4" stroke="#000" stroke-width="4.4" stroke-linecap="round" fill="none"/>
<rect x="1285.2" y="853.2" width="881" height="647" fill="none" stroke="#000" stroke-width="4.6"/>
<rect x="1516.8" y="859.2" width="643" height="54" fill="#fff" stroke="#333" stroke-width="1.4"/>
<path d="M1534.4 891.8H1611.5" stroke="#000" stroke-width="4.4" stroke-linecap="round"/>
<path d="M1746.2 891.8H1766.2M1792.8 891.8H1812.8" stroke="#f00" stroke-width="4.4" stroke-linecap="round"/>
<path d="M1962.6 891.8h1.8M1990 891.8h1.8M2018 891.8h1.8" stroke="#00f" stroke-width="5.8" stroke-linecap="round"/>
<text transform="translate(89.6 69.0)" font-size="70" >10</text>
<text transform="translate(125.9 393.5)" font-size="70" >0</text>
<text transform="translate(57.8 715.5)" font-size="70" >−<tspan dx="-7">10</tspan></text>
<text transform="translate(178.0 757.0)" font-size="70" text-anchor="middle">0</text>
<text transform="translate(358.6 757.0)" font-size="70" text-anchor="middle">1</text>
<text transform="translate(541.2 757.5)" font-size="70" text-anchor="middle">2</text>
<text transform="translate(722.8 757.0)" font-size="70" text-anchor="middle">3</text>
<text transform="translate(904.9 757.0)" font-size="70" text-anchor="middle">4</text>
<text transform="translate(1086.0 756.5)" font-size="70" text-anchor="middle">5</text>
<text transform="translate(187.8 103.5)" font-size="68" fill="#fff" >(a)</text>
<text transform="translate(555.7 106.0)" font-size="68" fill="#fff" ><tspan font-style="italic">m</tspan>=0</text>
<text transform="translate(541.6 815.0)" font-size="67" ><tspan font-style="italic">z</tspan> (mm)</text>
<text transform="translate(68.8 490.1) rotate(-90)" font-size="70" ><tspan font-style="italic">ρ</tspan></text>
<text transform="translate(91.8 454.4) rotate(-90)" font-size="44" ><tspan font-style="italic">x</tspan></text>
<text transform="translate(68.8 417.1) rotate(-90)" font-size="68" >(μm)</text>
<text transform="translate(1174.7 68.0)" font-size="70" >10</text>
<text transform="translate(1210.6 392.5)" font-size="70" >0</text>
<text transform="translate(1142.1 716.5)" font-size="70" >−<tspan dx="-7">10</tspan></text>
<text transform="translate(1266.0 757.0)" font-size="70" text-anchor="middle">0</text>
<text transform="translate(1447.2 757.0)" font-size="70" text-anchor="middle">1</text>
<text transform="translate(1630.4 757.5)" font-size="70" text-anchor="middle">2</text>
<text transform="translate(1812.6 757.0)" font-size="70" text-anchor="middle">3</text>
<text transform="translate(1995.3 757.0)" font-size="70" text-anchor="middle">4</text>
<text transform="translate(2177.0 756.5)" font-size="70" text-anchor="middle">5</text>
<text transform="translate(1276.4 104.0)" font-size="68" fill="#fff" >(b)</text>
<text transform="translate(1677.5 103.5)" font-size="68" fill="#fff" ><tspan font-style="italic">m</tspan>=1</text>
<text transform="translate(1629.3 814.0)" font-size="67" ><tspan font-style="italic">z</tspan> (mm)</text>
<text transform="translate(1153.5 483.2) rotate(-90)" font-size="70" ><tspan font-style="italic">ρ</tspan></text>
<text transform="translate(1176.5 441.0) rotate(-90)" font-size="44" ><tspan font-style="italic">x</tspan></text>
<text transform="translate(1154.0 414.5) rotate(-90)" font-size="68" >(μm)</text>
<text transform="translate(2263.0 69.0)" font-size="54" >0</text>
<text transform="translate(2256.3 701.0)" font-size="54" >−0.5</text>
<text transform="translate(89.5 877.0)" font-size="70" >10</text>
<text transform="translate(125.9 1201.5)" font-size="70" >0</text>
<text transform="translate(57.8 1526.0)" font-size="70" >−<tspan dx="-7">10</tspan></text>
<text transform="translate(178.0 1567.0)" font-size="70" text-anchor="middle">0</text>
<text transform="translate(358.8 1567.0)" font-size="70" text-anchor="middle">1</text>
<text transform="translate(541.6 1567.5)" font-size="70" text-anchor="middle">2</text>
<text transform="translate(723.4 1567.0)" font-size="70" text-anchor="middle">3</text>
<text transform="translate(905.7 1567.0)" font-size="70" text-anchor="middle">4</text>
<text transform="translate(1087.0 1566.5)" font-size="70" text-anchor="middle">5</text>
<text transform="translate(189.8 914.5)" font-size="68" fill="#fff" >(c)</text>
<text transform="translate(555.7 917.5)" font-size="68" fill="#fff" ><tspan font-style="italic">m</tspan>=2</text>
<text transform="translate(541.6 1626.0)" font-size="67" ><tspan font-style="italic">z</tspan> (mm)</text>
<text transform="translate(68.8 1299.1) rotate(-90)" font-size="70" ><tspan font-style="italic">ρ</tspan></text>
<text transform="translate(91.8 1263.4) rotate(-90)" font-size="44" ><tspan font-style="italic">x</tspan></text>
<text transform="translate(68.8 1226.1) rotate(-90)" font-size="68" >(μm)</text>
<text transform="translate(1197.8 936.0)" font-size="59" >0.0</text>
<text transform="translate(1164.2 1042.0)" font-size="59" >−0.1</text>
<text transform="translate(1163.7 1148.5)" font-size="59" >−0.2</text>
<text transform="translate(1163.7 1254.5)" font-size="59" >−0.3</text>
<text transform="translate(1163.2 1360.5)" font-size="59" >−0.4</text>
<text transform="translate(1163.7 1466.5)" font-size="59" >−0.5</text>
<text transform="translate(1285.2 1559.5)" font-size="59" text-anchor="middle">0</text>
<text transform="translate(1460.8 1560.0)" font-size="59" text-anchor="middle">1</text>
<text transform="translate(1638.4 1560.0)" font-size="59" text-anchor="middle">2</text>
<text transform="translate(1815.0 1559.5)" font-size="59" text-anchor="middle">3</text>
<text transform="translate(1991.6 1560.0)" font-size="59" text-anchor="middle">4</text>
<text transform="translate(2167.7 1559.5)" font-size="59" text-anchor="middle">5</text>
<text transform="translate(1304.0 916.0)" font-size="68" >(d)</text>
<text transform="translate(1145.8 1347.8) rotate(-90)" font-size="57" >IE difference</text>
<text transform="translate(1642.4 1624.5)" font-size="57" ><tspan font-style="italic">z</tspan> (mm)</text>
<text transform="translate(1619.8 904.0)" font-size="46" ><tspan font-style="italic">m</tspan> = <tspan font-weight="normal">0</tspan></text>
<text transform="translate(1831.7 904.0)" font-size="46" ><tspan font-style="italic">m</tspan> = 1</text>
<text transform="translate(2044.2 904.0)" font-size="46" ><tspan font-style="italic">m</tspan> = 2</text>
</svg>
</body></html>
